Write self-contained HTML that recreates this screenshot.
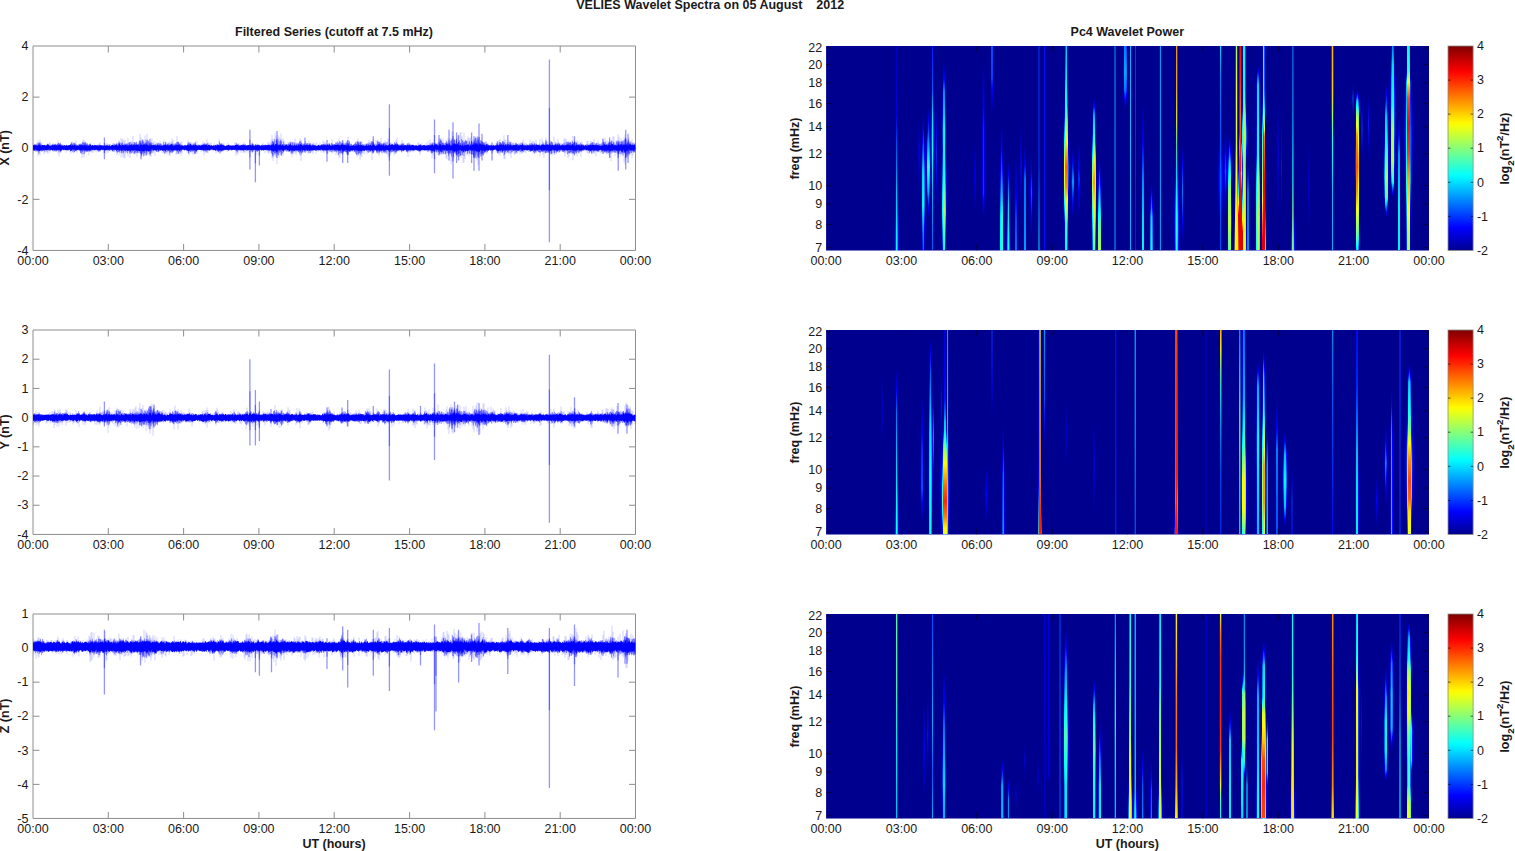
<!DOCTYPE html>
<html><head><meta charset="utf-8"><title>VELIES Wavelet Spectra</title><style>html,body{margin:0;padding:0;background:#fff}svg{display:block}</style></head><body>
<svg width="1515" height="851" viewBox="0 0 1515 851" font-family="Liberation Sans, Arial, Helvetica, sans-serif" fill="#1a1a1a" style="display:block">
<defs><style>.mx polygon,.mx ellipse{mix-blend-mode:lighten}</style>
<filter id="jet" filterUnits="userSpaceOnUse" x="825.1" y="0" width="604.9" height="851" color-interpolation-filters="sRGB"><feGaussianBlur stdDeviation="0.45 0.3"/><feComponentTransfer><feFuncR type="table" tableValues="0.000 0.000 0.000 0.000 0.000 0.000 0.000 0.000 0.000 0.000 0.000 0.000 0.000 0.000 0.000 0.000 0.000 0.000 0.000 0.000 0.000 0.000 0.000 0.000 0.039 0.101 0.162 0.224 0.285 0.347 0.408 0.470 0.531 0.593 0.654 0.716 0.777 0.839 0.900 0.962 1.000 1.000 1.000 1.000 1.000 1.000 1.000 1.000 1.000 1.000 1.000 1.000 1.000 1.000 1.000 1.000 0.992 0.931 0.869 0.808 0.746 0.685 0.623 0.562 0.500"/><feFuncG type="table" tableValues="0.000 0.000 0.000 0.000 0.000 0.000 0.000 0.000 0.055 0.116 0.178 0.239 0.301 0.362 0.424 0.485 0.547 0.608 0.670 0.731 0.793 0.854 0.916 0.978 1.000 1.000 1.000 1.000 1.000 1.000 1.000 1.000 1.000 1.000 1.000 1.000 1.000 1.000 1.000 1.000 0.977 0.915 0.854 0.792 0.730 0.669 0.607 0.546 0.484 0.423 0.361 0.300 0.238 0.177 0.115 0.054 0.000 0.000 0.000 0.000 0.000 0.000 0.000 0.000 0.000"/><feFuncB type="table" tableValues="0.562 0.624 0.686 0.747 0.809 0.870 0.932 0.993 1.000 1.000 1.000 1.000 1.000 1.000 1.000 1.000 1.000 1.000 1.000 1.000 1.000 1.000 1.000 1.000 0.961 0.899 0.838 0.776 0.715 0.653 0.592 0.530 0.469 0.407 0.346 0.284 0.223 0.161 0.100 0.038 0.000 0.000 0.000 0.000 0.000 0.000 0.000 0.000 0.000 0.000 0.000 0.000 0.000 0.000 0.000 0.000 0.000 0.000 0.000 0.000 0.000 0.000 0.000 0.000 0.000"/><feFuncA type="linear" slope="0" intercept="1"/></feComponentTransfer></filter>
<linearGradient id="cb" x1="0" y1="0" x2="0" y2="1"><stop offset="0.0000" stop-color="rgb(128,0,0)"/><stop offset="0.0156" stop-color="rgb(143,0,0)"/><stop offset="0.0312" stop-color="rgb(159,0,0)"/><stop offset="0.0469" stop-color="rgb(175,0,0)"/><stop offset="0.0625" stop-color="rgb(190,0,0)"/><stop offset="0.0781" stop-color="rgb(206,0,0)"/><stop offset="0.0938" stop-color="rgb(222,0,0)"/><stop offset="0.1094" stop-color="rgb(237,0,0)"/><stop offset="0.1250" stop-color="rgb(253,0,0)"/><stop offset="0.1406" stop-color="rgb(255,14,0)"/><stop offset="0.1562" stop-color="rgb(255,29,0)"/><stop offset="0.1719" stop-color="rgb(255,45,0)"/><stop offset="0.1875" stop-color="rgb(255,61,0)"/><stop offset="0.2031" stop-color="rgb(255,76,0)"/><stop offset="0.2188" stop-color="rgb(255,92,0)"/><stop offset="0.2344" stop-color="rgb(255,108,0)"/><stop offset="0.2500" stop-color="rgb(255,124,0)"/><stop offset="0.2656" stop-color="rgb(255,139,0)"/><stop offset="0.2812" stop-color="rgb(255,155,0)"/><stop offset="0.2969" stop-color="rgb(255,171,0)"/><stop offset="0.3125" stop-color="rgb(255,186,0)"/><stop offset="0.3281" stop-color="rgb(255,202,0)"/><stop offset="0.3438" stop-color="rgb(255,218,0)"/><stop offset="0.3594" stop-color="rgb(255,233,0)"/><stop offset="0.3750" stop-color="rgb(255,249,0)"/><stop offset="0.3906" stop-color="rgb(245,255,10)"/><stop offset="0.4062" stop-color="rgb(230,255,25)"/><stop offset="0.4219" stop-color="rgb(214,255,41)"/><stop offset="0.4375" stop-color="rgb(198,255,57)"/><stop offset="0.4531" stop-color="rgb(183,255,72)"/><stop offset="0.4688" stop-color="rgb(167,255,88)"/><stop offset="0.4844" stop-color="rgb(151,255,104)"/><stop offset="0.5000" stop-color="rgb(135,255,120)"/><stop offset="0.5156" stop-color="rgb(120,255,135)"/><stop offset="0.5312" stop-color="rgb(104,255,151)"/><stop offset="0.5469" stop-color="rgb(88,255,167)"/><stop offset="0.5625" stop-color="rgb(73,255,182)"/><stop offset="0.5781" stop-color="rgb(57,255,198)"/><stop offset="0.5938" stop-color="rgb(41,255,214)"/><stop offset="0.6094" stop-color="rgb(26,255,229)"/><stop offset="0.6250" stop-color="rgb(10,255,245)"/><stop offset="0.6406" stop-color="rgb(0,249,255)"/><stop offset="0.6562" stop-color="rgb(0,234,255)"/><stop offset="0.6719" stop-color="rgb(0,218,255)"/><stop offset="0.6875" stop-color="rgb(0,202,255)"/><stop offset="0.7031" stop-color="rgb(0,187,255)"/><stop offset="0.7188" stop-color="rgb(0,171,255)"/><stop offset="0.7344" stop-color="rgb(0,155,255)"/><stop offset="0.7500" stop-color="rgb(0,139,255)"/><stop offset="0.7656" stop-color="rgb(0,124,255)"/><stop offset="0.7812" stop-color="rgb(0,108,255)"/><stop offset="0.7969" stop-color="rgb(0,92,255)"/><stop offset="0.8125" stop-color="rgb(0,77,255)"/><stop offset="0.8281" stop-color="rgb(0,61,255)"/><stop offset="0.8438" stop-color="rgb(0,45,255)"/><stop offset="0.8594" stop-color="rgb(0,30,255)"/><stop offset="0.8750" stop-color="rgb(0,14,255)"/><stop offset="0.8906" stop-color="rgb(0,0,253)"/><stop offset="0.9062" stop-color="rgb(0,0,238)"/><stop offset="0.9219" stop-color="rgb(0,0,222)"/><stop offset="0.9375" stop-color="rgb(0,0,206)"/><stop offset="0.9531" stop-color="rgb(0,0,191)"/><stop offset="0.9688" stop-color="rgb(0,0,175)"/><stop offset="0.9844" stop-color="rgb(0,0,159)"/><stop offset="1.0000" stop-color="rgb(0,0,143)"/></linearGradient>
<clipPath id="cr0"><rect x="826.1" y="46.0" width="602.9" height="204.45"/></clipPath>
<clipPath id="cl0"><rect x="33.0" y="46.0" width="602.5" height="204.45"/></clipPath>
<clipPath id="cr1"><rect x="826.1" y="330.0" width="602.9" height="204.45000000000005"/></clipPath>
<clipPath id="cl1"><rect x="33.0" y="330.0" width="602.5" height="204.45000000000005"/></clipPath>
<clipPath id="cr2"><rect x="826.1" y="614.0" width="602.9" height="204.45000000000005"/></clipPath>
<clipPath id="cl2"><rect x="33.0" y="614.0" width="602.5" height="204.45000000000005"/></clipPath>
<radialGradient id="r11"><stop offset="0" stop-color="#464646"/><stop offset="0.25" stop-color="#3f3f3f"/><stop offset="0.5" stop-color="#2a2a2a"/><stop offset="0.75" stop-color="#121212"/><stop offset="1" stop-color="#000"/></radialGradient><linearGradient id="g1" x1="0" y1="0" x2="0" y2="1"><stop offset="0.000" stop-color="rgb(0,0,210)" stop-opacity="0.83"/><stop offset="0.086" stop-color="rgb(0,0,219)" stop-opacity="0.94"/><stop offset="0.171" stop-color="rgb(0,0,227)" stop-opacity="1.00"/><stop offset="0.257" stop-color="rgb(0,0,235)" stop-opacity="1.00"/><stop offset="0.342" stop-color="rgb(0,0,244)" stop-opacity="1.00"/><stop offset="0.417" stop-color="rgb(0,47,255)" stop-opacity="1.00"/><stop offset="0.492" stop-color="rgb(0,106,255)" stop-opacity="1.00"/><stop offset="0.567" stop-color="rgb(0,145,255)" stop-opacity="1.00"/><stop offset="0.641" stop-color="rgb(0,184,255)" stop-opacity="1.00"/><stop offset="0.716" stop-color="rgb(0,223,255)" stop-opacity="1.00"/><stop offset="0.811" stop-color="rgb(0,240,255)" stop-opacity="1.00"/><stop offset="0.905" stop-color="rgb(2,255,253)" stop-opacity="1.00"/><stop offset="1.000" stop-color="rgb(18,255,237)" stop-opacity="1.00"/></linearGradient><linearGradient id="g2" x1="0" y1="0" x2="0" y2="1"><stop offset="0.000" stop-color="#000000"/><stop offset="0.222" stop-color="#141414"/><stop offset="0.444" stop-color="#282828"/><stop offset="0.722" stop-color="#141414"/><stop offset="1.000" stop-color="#000000"/></linearGradient><radialGradient id="r8"><stop offset="0" stop-color="#333333"/><stop offset="0.25" stop-color="#2e2e2e"/><stop offset="0.5" stop-color="#1f1f1f"/><stop offset="0.75" stop-color="#0d0d0d"/><stop offset="1" stop-color="#000"/></radialGradient><linearGradient id="g3" x1="0" y1="0" x2="0" y2="1"><stop offset="0.000" stop-color="#000000"/><stop offset="0.121" stop-color="#1d1d1d"/><stop offset="0.242" stop-color="#353535"/><stop offset="0.428" stop-color="#565656"/><stop offset="0.548" stop-color="#5a5a5a"/><stop offset="0.669" stop-color="#5e5e5e"/><stop offset="0.771" stop-color="#505050"/><stop offset="0.874" stop-color="#414141"/><stop offset="1.000" stop-color="#353535"/></linearGradient><radialGradient id="r10"><stop offset="0" stop-color="#404040"/><stop offset="0.25" stop-color="#393939"/><stop offset="0.5" stop-color="#262626"/><stop offset="0.75" stop-color="#101010"/><stop offset="1" stop-color="#000"/></radialGradient><linearGradient id="g4" x1="0" y1="0" x2="0" y2="1"><stop offset="0.000" stop-color="#000000"/><stop offset="0.151" stop-color="#242424"/><stop offset="0.302" stop-color="#414141"/><stop offset="0.535" stop-color="#6b6b6b"/><stop offset="0.767" stop-color="#494949"/><stop offset="1.000" stop-color="#000000"/></linearGradient><radialGradient id="r9"><stop offset="0" stop-color="#393939"/><stop offset="0.25" stop-color="#343434"/><stop offset="0.5" stop-color="#222222"/><stop offset="0.75" stop-color="#0e0e0e"/><stop offset="1" stop-color="#000"/></radialGradient><linearGradient id="g5" x1="0" y1="0" x2="0" y2="1"><stop offset="0.000" stop-color="rgb(0,22,255)" stop-opacity="1.00"/><stop offset="0.109" stop-color="rgb(0,56,255)" stop-opacity="1.00"/><stop offset="0.218" stop-color="rgb(0,89,255)" stop-opacity="1.00"/><stop offset="0.342" stop-color="rgb(0,223,255)" stop-opacity="1.00"/><stop offset="0.436" stop-color="rgb(0,244,255)" stop-opacity="1.00"/><stop offset="0.529" stop-color="rgb(10,255,245)" stop-opacity="1.00"/><stop offset="0.623" stop-color="rgb(0,219,255)" stop-opacity="1.00"/><stop offset="0.716" stop-color="rgb(0,173,255)" stop-opacity="1.00"/><stop offset="0.811" stop-color="rgb(0,145,255)" stop-opacity="1.00"/><stop offset="0.905" stop-color="rgb(0,117,255)" stop-opacity="1.00"/><stop offset="1.000" stop-color="rgb(0,89,255)" stop-opacity="1.00"/></linearGradient><linearGradient id="g6" x1="0" y1="0" x2="0" y2="1"><stop offset="0.000" stop-color="rgb(0,0,143)" stop-opacity="0.00"/><stop offset="0.125" stop-color="rgb(0,0,185)" stop-opacity="0.52"/><stop offset="0.250" stop-color="rgb(0,0,227)" stop-opacity="1.00"/><stop offset="0.375" stop-color="rgb(0,14,255)" stop-opacity="1.00"/><stop offset="0.500" stop-color="rgb(0,56,255)" stop-opacity="1.00"/><stop offset="0.625" stop-color="rgb(0,14,255)" stop-opacity="1.00"/><stop offset="0.750" stop-color="rgb(0,0,227)" stop-opacity="1.00"/><stop offset="0.875" stop-color="rgb(0,0,185)" stop-opacity="0.52"/><stop offset="1.000" stop-color="rgb(0,0,143)" stop-opacity="0.00"/></linearGradient><radialGradient id="r13"><stop offset="0" stop-color="#535353"/><stop offset="0.25" stop-color="#4b4b4b"/><stop offset="0.5" stop-color="#323232"/><stop offset="0.75" stop-color="#151515"/><stop offset="1" stop-color="#000"/></radialGradient><linearGradient id="g7" x1="0" y1="0" x2="0" y2="1"><stop offset="0.000" stop-color="#000000"/><stop offset="0.075" stop-color="#222222"/><stop offset="0.149" stop-color="#3d3d3d"/><stop offset="0.251" stop-color="#4d4d4d"/><stop offset="0.352" stop-color="#5e5e5e"/><stop offset="0.467" stop-color="#5f5f5f"/><stop offset="0.583" stop-color="#606060"/><stop offset="0.691" stop-color="#777777"/><stop offset="0.786" stop-color="#8c8c8c"/><stop offset="0.881" stop-color="#777777"/><stop offset="1.000" stop-color="#606060"/></linearGradient><linearGradient id="g8" x1="0" y1="0" x2="0" y2="1"><stop offset="0.000" stop-color="#000000"/><stop offset="0.250" stop-color="#141414"/><stop offset="0.500" stop-color="#282828"/><stop offset="0.750" stop-color="#141414"/><stop offset="1.000" stop-color="#000000"/></linearGradient><linearGradient id="g9" x1="0" y1="0" x2="0" y2="1"><stop offset="0.000" stop-color="#000000"/><stop offset="0.109" stop-color="#0a0a0a"/><stop offset="0.218" stop-color="#141414"/><stop offset="0.327" stop-color="#1e1e1e"/><stop offset="0.435" stop-color="#272727"/><stop offset="0.536" stop-color="#282828"/><stop offset="0.637" stop-color="#292929"/><stop offset="0.738" stop-color="#2a2a2a"/><stop offset="0.839" stop-color="#2b2b2b"/><stop offset="1.000" stop-color="#000000"/></linearGradient><linearGradient id="g10" x1="0" y1="0" x2="0" y2="1"><stop offset="0.000" stop-color="#434343"/><stop offset="0.227" stop-color="#414141"/><stop offset="0.455" stop-color="#3f3f3f"/><stop offset="0.727" stop-color="#262626"/><stop offset="1.000" stop-color="#000000"/></linearGradient><linearGradient id="g11" x1="0" y1="0" x2="0" y2="1"><stop offset="0.000" stop-color="#000000"/><stop offset="0.143" stop-color="#171717"/><stop offset="0.287" stop-color="#2c2c2c"/><stop offset="0.430" stop-color="#404040"/><stop offset="0.584" stop-color="#515151"/><stop offset="0.738" stop-color="#626262"/><stop offset="0.869" stop-color="#646464"/><stop offset="1.000" stop-color="#666666"/></linearGradient><linearGradient id="g12" x1="0" y1="0" x2="0" y2="1"><stop offset="0.000" stop-color="#000000"/><stop offset="0.244" stop-color="#303030"/><stop offset="0.489" stop-color="#525252"/><stop offset="0.659" stop-color="#575757"/><stop offset="0.830" stop-color="#5c5c5c"/><stop offset="1.000" stop-color="#626262"/></linearGradient><linearGradient id="g13" x1="0" y1="0" x2="0" y2="1"><stop offset="0.000" stop-color="#000000"/><stop offset="0.165" stop-color="#131313"/><stop offset="0.331" stop-color="#262626"/><stop offset="0.496" stop-color="#323232"/><stop offset="0.661" stop-color="#3f3f3f"/><stop offset="0.831" stop-color="#444444"/><stop offset="1.000" stop-color="#4a4a4a"/></linearGradient><linearGradient id="g14" x1="0" y1="0" x2="0" y2="1"><stop offset="0.000" stop-color="rgb(0,0,143)" stop-opacity="0.00"/><stop offset="0.175" stop-color="rgb(0,0,188)" stop-opacity="0.56"/><stop offset="0.349" stop-color="rgb(0,0,233)" stop-opacity="1.00"/><stop offset="0.524" stop-color="rgb(0,22,255)" stop-opacity="1.00"/><stop offset="0.683" stop-color="rgb(0,0,233)" stop-opacity="1.00"/><stop offset="0.841" stop-color="rgb(0,0,188)" stop-opacity="0.56"/><stop offset="1.000" stop-color="rgb(0,0,143)" stop-opacity="0.00"/></linearGradient><linearGradient id="g15" x1="0" y1="0" x2="0" y2="1"><stop offset="0.000" stop-color="#000000"/><stop offset="0.159" stop-color="#2c2c2c"/><stop offset="0.319" stop-color="#4a4a4a"/><stop offset="0.489" stop-color="#4c4c4c"/><stop offset="0.659" stop-color="#4e4e4e"/><stop offset="0.830" stop-color="#505050"/><stop offset="1.000" stop-color="#525252"/></linearGradient><linearGradient id="g16" x1="0" y1="0" x2="0" y2="1"><stop offset="0.000" stop-color="#000000"/><stop offset="0.227" stop-color="#1d1d1d"/><stop offset="0.455" stop-color="#353535"/><stop offset="0.636" stop-color="#262626"/><stop offset="0.818" stop-color="#141414"/><stop offset="1.000" stop-color="#000000"/></linearGradient><linearGradient id="g17" x1="0" y1="0" x2="0" y2="1"><stop offset="0.000" stop-color="rgb(0,56,255)" stop-opacity="1.00"/><stop offset="0.085" stop-color="rgb(0,56,255)" stop-opacity="1.00"/><stop offset="0.169" stop-color="rgb(0,56,255)" stop-opacity="1.00"/><stop offset="0.254" stop-color="rgb(0,56,255)" stop-opacity="1.00"/><stop offset="0.338" stop-color="rgb(0,56,255)" stop-opacity="1.00"/><stop offset="0.423" stop-color="rgb(0,56,255)" stop-opacity="1.00"/><stop offset="0.507" stop-color="rgb(0,56,255)" stop-opacity="1.00"/><stop offset="0.592" stop-color="rgb(0,56,255)" stop-opacity="1.00"/><stop offset="0.675" stop-color="rgb(0,95,255)" stop-opacity="1.00"/><stop offset="0.758" stop-color="rgb(0,134,255)" stop-opacity="1.00"/><stop offset="0.841" stop-color="rgb(0,173,255)" stop-opacity="1.00"/><stop offset="0.920" stop-color="rgb(0,198,255)" stop-opacity="1.00"/><stop offset="1.000" stop-color="rgb(0,223,255)" stop-opacity="1.00"/></linearGradient><linearGradient id="g18" x1="0" y1="0" x2="0" y2="1"><stop offset="0.000" stop-color="rgb(0,22,255)" stop-opacity="1.00"/><stop offset="0.091" stop-color="rgb(0,22,255)" stop-opacity="1.00"/><stop offset="0.182" stop-color="rgb(0,22,255)" stop-opacity="1.00"/><stop offset="0.273" stop-color="rgb(0,22,255)" stop-opacity="1.00"/><stop offset="0.364" stop-color="rgb(0,22,255)" stop-opacity="1.00"/><stop offset="0.455" stop-color="rgb(0,22,255)" stop-opacity="1.00"/><stop offset="0.545" stop-color="rgb(0,22,255)" stop-opacity="1.00"/><stop offset="0.636" stop-color="rgb(0,22,255)" stop-opacity="1.00"/><stop offset="0.727" stop-color="rgb(0,22,255)" stop-opacity="1.00"/><stop offset="0.818" stop-color="rgb(0,22,255)" stop-opacity="1.00"/><stop offset="0.909" stop-color="rgb(0,22,255)" stop-opacity="1.00"/><stop offset="1.000" stop-color="rgb(0,22,255)" stop-opacity="1.00"/></linearGradient><radialGradient id="r15"><stop offset="0" stop-color="#606060"/><stop offset="0.25" stop-color="#565656"/><stop offset="0.5" stop-color="#393939"/><stop offset="0.75" stop-color="#181818"/><stop offset="1" stop-color="#000"/></radialGradient><linearGradient id="g19" x1="0" y1="0" x2="0" y2="1"><stop offset="0.000" stop-color="#4e4e4e"/><stop offset="0.078" stop-color="#525252"/><stop offset="0.156" stop-color="#575757"/><stop offset="0.280" stop-color="#606060"/><stop offset="0.380" stop-color="#808080"/><stop offset="0.492" stop-color="#aaaaaa"/><stop offset="0.592" stop-color="#c8c8c8"/><stop offset="0.691" stop-color="#bbbbbb"/><stop offset="0.778" stop-color="#999999"/><stop offset="0.866" stop-color="#6f6f6f"/><stop offset="0.933" stop-color="#666666"/><stop offset="1.000" stop-color="#5e5e5e"/></linearGradient><linearGradient id="g20" x1="0" y1="0" x2="0" y2="1"><stop offset="0.000" stop-color="#000000"/><stop offset="0.241" stop-color="#232323"/><stop offset="0.481" stop-color="#444444"/><stop offset="0.741" stop-color="#232323"/><stop offset="1.000" stop-color="#000000"/></linearGradient><linearGradient id="g21" x1="0" y1="0" x2="0" y2="1"><stop offset="0.000" stop-color="#000000"/><stop offset="0.250" stop-color="#171717"/><stop offset="0.500" stop-color="#2c2c2c"/><stop offset="0.750" stop-color="#171717"/><stop offset="1.000" stop-color="#000000"/></linearGradient><radialGradient id="r12"><stop offset="0" stop-color="#4c4c4c"/><stop offset="0.25" stop-color="#454545"/><stop offset="0.5" stop-color="#2e2e2e"/><stop offset="0.75" stop-color="#131313"/><stop offset="1" stop-color="#000"/></radialGradient><linearGradient id="g22" x1="0" y1="0" x2="0" y2="1"><stop offset="0.000" stop-color="#000000"/><stop offset="0.117" stop-color="#494949"/><stop offset="0.284" stop-color="#6f6f6f"/><stop offset="0.418" stop-color="#a2a2a2"/><stop offset="0.552" stop-color="#b7b7b7"/><stop offset="0.702" stop-color="#a2a2a2"/><stop offset="0.853" stop-color="#888888"/><stop offset="1.000" stop-color="#777777"/></linearGradient><linearGradient id="g23" x1="0" y1="0" x2="0" y2="1"><stop offset="0.000" stop-color="#000000"/><stop offset="0.190" stop-color="#2a2a2a"/><stop offset="0.380" stop-color="#4d4d4d"/><stop offset="0.543" stop-color="#626262"/><stop offset="0.707" stop-color="#777777"/><stop offset="0.853" stop-color="#808080"/><stop offset="1.000" stop-color="#888888"/></linearGradient><linearGradient id="g24" x1="0" y1="0" x2="0" y2="1"><stop offset="0.000" stop-color="rgb(0,156,255)" stop-opacity="1.00"/><stop offset="0.091" stop-color="rgb(0,158,255)" stop-opacity="1.00"/><stop offset="0.182" stop-color="rgb(0,159,255)" stop-opacity="1.00"/><stop offset="0.273" stop-color="rgb(0,161,255)" stop-opacity="1.00"/><stop offset="0.364" stop-color="rgb(0,162,255)" stop-opacity="1.00"/><stop offset="0.455" stop-color="rgb(0,164,255)" stop-opacity="1.00"/><stop offset="0.545" stop-color="rgb(0,165,255)" stop-opacity="1.00"/><stop offset="0.636" stop-color="rgb(0,167,255)" stop-opacity="1.00"/><stop offset="0.727" stop-color="rgb(0,168,255)" stop-opacity="1.00"/><stop offset="0.818" stop-color="rgb(0,170,255)" stop-opacity="1.00"/><stop offset="0.909" stop-color="rgb(0,171,255)" stop-opacity="1.00"/><stop offset="1.000" stop-color="rgb(0,173,255)" stop-opacity="1.00"/></linearGradient><linearGradient id="g25" x1="0" y1="0" x2="0" y2="1"><stop offset="0.000" stop-color="#3c3c3c"/><stop offset="0.214" stop-color="#424242"/><stop offset="0.429" stop-color="#484848"/><stop offset="0.714" stop-color="#3c3c3c"/><stop offset="1.000" stop-color="#000000"/></linearGradient><linearGradient id="g26" x1="0" y1="0" x2="0" y2="1"><stop offset="0.000" stop-color="rgb(0,173,255)" stop-opacity="1.00"/><stop offset="0.093" stop-color="rgb(0,176,255)" stop-opacity="1.00"/><stop offset="0.187" stop-color="rgb(0,180,255)" stop-opacity="1.00"/><stop offset="0.280" stop-color="rgb(0,183,255)" stop-opacity="1.00"/><stop offset="0.374" stop-color="rgb(0,186,255)" stop-opacity="1.00"/><stop offset="0.467" stop-color="rgb(0,190,255)" stop-opacity="1.00"/><stop offset="0.556" stop-color="rgb(0,187,255)" stop-opacity="1.00"/><stop offset="0.645" stop-color="rgb(0,184,255)" stop-opacity="1.00"/><stop offset="0.733" stop-color="rgb(0,181,255)" stop-opacity="1.00"/><stop offset="0.822" stop-color="rgb(0,179,255)" stop-opacity="1.00"/><stop offset="0.911" stop-color="rgb(0,176,255)" stop-opacity="1.00"/><stop offset="1.000" stop-color="rgb(0,173,255)" stop-opacity="1.00"/></linearGradient><linearGradient id="g27" x1="0" y1="0" x2="0" y2="1"><stop offset="0.000" stop-color="rgb(0,56,255)" stop-opacity="1.00"/><stop offset="0.091" stop-color="rgb(0,53,255)" stop-opacity="1.00"/><stop offset="0.182" stop-color="rgb(0,50,255)" stop-opacity="1.00"/><stop offset="0.273" stop-color="rgb(0,47,255)" stop-opacity="1.00"/><stop offset="0.364" stop-color="rgb(0,44,255)" stop-opacity="1.00"/><stop offset="0.455" stop-color="rgb(0,41,255)" stop-opacity="1.00"/><stop offset="0.545" stop-color="rgb(0,38,255)" stop-opacity="1.00"/><stop offset="0.636" stop-color="rgb(0,34,255)" stop-opacity="1.00"/><stop offset="0.727" stop-color="rgb(0,31,255)" stop-opacity="1.00"/><stop offset="0.818" stop-color="rgb(0,28,255)" stop-opacity="1.00"/><stop offset="0.909" stop-color="rgb(0,25,255)" stop-opacity="1.00"/><stop offset="1.000" stop-color="rgb(0,22,255)" stop-opacity="1.00"/></linearGradient><linearGradient id="g28" x1="0" y1="0" x2="0" y2="1"><stop offset="0.000" stop-color="#000000"/><stop offset="0.130" stop-color="#191919"/><stop offset="0.260" stop-color="#2e2e2e"/><stop offset="0.389" stop-color="#3e3e3e"/><stop offset="0.519" stop-color="#4e4e4e"/><stop offset="0.649" stop-color="#565656"/><stop offset="0.779" stop-color="#5e5e5e"/><stop offset="0.889" stop-color="#616161"/><stop offset="1.000" stop-color="#646464"/></linearGradient><linearGradient id="g29" x1="0" y1="0" x2="0" y2="1"><stop offset="0.000" stop-color="#000000"/><stop offset="0.261" stop-color="#2d2d2d"/><stop offset="0.522" stop-color="#565656"/><stop offset="0.761" stop-color="#5b5b5b"/><stop offset="1.000" stop-color="#606060"/></linearGradient><linearGradient id="g30" x1="0" y1="0" x2="0" y2="1"><stop offset="0.000" stop-color="rgb(0,173,255)" stop-opacity="1.00"/><stop offset="0.091" stop-color="rgb(0,173,255)" stop-opacity="1.00"/><stop offset="0.182" stop-color="rgb(0,173,255)" stop-opacity="1.00"/><stop offset="0.273" stop-color="rgb(0,173,255)" stop-opacity="1.00"/><stop offset="0.364" stop-color="rgb(0,173,255)" stop-opacity="1.00"/><stop offset="0.455" stop-color="rgb(0,173,255)" stop-opacity="1.00"/><stop offset="0.545" stop-color="rgb(0,173,255)" stop-opacity="1.00"/><stop offset="0.636" stop-color="rgb(0,173,255)" stop-opacity="1.00"/><stop offset="0.727" stop-color="rgb(0,173,255)" stop-opacity="1.00"/><stop offset="0.818" stop-color="rgb(0,173,255)" stop-opacity="1.00"/><stop offset="0.909" stop-color="rgb(0,173,255)" stop-opacity="1.00"/><stop offset="1.000" stop-color="rgb(0,173,255)" stop-opacity="1.00"/></linearGradient><linearGradient id="g31" x1="0" y1="0" x2="0" y2="1"><stop offset="0.000" stop-color="rgb(255,157,0)" stop-opacity="1.00"/><stop offset="0.109" stop-color="rgb(255,174,0)" stop-opacity="1.00"/><stop offset="0.218" stop-color="rgb(255,190,0)" stop-opacity="1.00"/><stop offset="0.299" stop-color="rgb(255,232,0)" stop-opacity="1.00"/><stop offset="0.380" stop-color="rgb(236,255,19)" stop-opacity="1.00"/><stop offset="0.504" stop-color="rgb(102,255,153)" stop-opacity="1.00"/><stop offset="0.616" stop-color="rgb(18,255,237)" stop-opacity="1.00"/><stop offset="0.712" stop-color="rgb(27,255,228)" stop-opacity="1.00"/><stop offset="0.808" stop-color="rgb(35,255,220)" stop-opacity="1.00"/><stop offset="0.904" stop-color="rgb(43,255,212)" stop-opacity="1.00"/><stop offset="1.000" stop-color="rgb(52,255,203)" stop-opacity="1.00"/></linearGradient><linearGradient id="g32" x1="0" y1="0" x2="0" y2="1"><stop offset="0.000" stop-color="#000000"/><stop offset="0.158" stop-color="#171717"/><stop offset="0.316" stop-color="#2c2c2c"/><stop offset="0.474" stop-color="#3b3b3b"/><stop offset="0.649" stop-color="#2c2c2c"/><stop offset="0.825" stop-color="#171717"/><stop offset="1.000" stop-color="#000000"/></linearGradient><radialGradient id="r7"><stop offset="0" stop-color="#2d2d2d"/><stop offset="0.25" stop-color="#282828"/><stop offset="0.5" stop-color="#1b1b1b"/><stop offset="0.75" stop-color="#0b0b0b"/><stop offset="1" stop-color="#000"/></radialGradient><linearGradient id="g33" x1="0" y1="0" x2="0" y2="1"><stop offset="0.000" stop-color="rgb(0,223,255)" stop-opacity="1.00"/><stop offset="0.078" stop-color="rgb(0,181,255)" stop-opacity="1.00"/><stop offset="0.156" stop-color="rgb(0,139,255)" stop-opacity="1.00"/><stop offset="0.233" stop-color="rgb(0,127,255)" stop-opacity="1.00"/><stop offset="0.311" stop-color="rgb(0,114,255)" stop-opacity="1.00"/><stop offset="0.389" stop-color="rgb(0,102,255)" stop-opacity="1.00"/><stop offset="0.467" stop-color="rgb(0,89,255)" stop-opacity="1.00"/><stop offset="0.556" stop-color="rgb(0,89,255)" stop-opacity="1.00"/><stop offset="0.645" stop-color="rgb(0,89,255)" stop-opacity="1.00"/><stop offset="0.733" stop-color="rgb(0,89,255)" stop-opacity="1.00"/><stop offset="0.822" stop-color="rgb(0,89,255)" stop-opacity="1.00"/><stop offset="0.911" stop-color="rgb(0,89,255)" stop-opacity="1.00"/><stop offset="1.000" stop-color="rgb(0,89,255)" stop-opacity="1.00"/></linearGradient><linearGradient id="g34" x1="0" y1="0" x2="0" y2="1"><stop offset="0.000" stop-color="#000000"/><stop offset="0.243" stop-color="#1b1b1b"/><stop offset="0.486" stop-color="#343434"/><stop offset="0.657" stop-color="#232323"/><stop offset="0.829" stop-color="#121212"/><stop offset="1.000" stop-color="#000000"/></linearGradient><linearGradient id="g35" x1="0" y1="0" x2="0" y2="1"><stop offset="0.000" stop-color="#000000"/><stop offset="0.223" stop-color="#565656"/><stop offset="0.357" stop-color="#6f6f6f"/><stop offset="0.491" stop-color="#888888"/><stop offset="0.625" stop-color="#8c8c8c"/><stop offset="0.759" stop-color="#919191"/><stop offset="0.879" stop-color="#888888"/><stop offset="1.000" stop-color="#808080"/></linearGradient><linearGradient id="g36" x1="0" y1="0" x2="0" y2="1"><stop offset="0.000" stop-color="rgb(169,255,86)" stop-opacity="1.00"/><stop offset="0.109" stop-color="rgb(202,255,53)" stop-opacity="1.00"/><stop offset="0.218" stop-color="rgb(236,255,19)" stop-opacity="1.00"/><stop offset="0.301" stop-color="rgb(230,255,25)" stop-opacity="1.00"/><stop offset="0.384" stop-color="rgb(225,255,30)" stop-opacity="1.00"/><stop offset="0.467" stop-color="rgb(219,255,36)" stop-opacity="1.00"/><stop offset="0.550" stop-color="rgb(236,255,19)" stop-opacity="1.00"/><stop offset="0.633" stop-color="rgb(253,255,2)" stop-opacity="1.00"/><stop offset="0.716" stop-color="rgb(255,241,0)" stop-opacity="1.00"/><stop offset="0.811" stop-color="rgb(255,241,0)" stop-opacity="1.00"/><stop offset="0.905" stop-color="rgb(255,241,0)" stop-opacity="1.00"/><stop offset="1.000" stop-color="rgb(255,241,0)" stop-opacity="1.00"/></linearGradient><linearGradient id="g37" x1="0" y1="0" x2="0" y2="1"><stop offset="0.000" stop-color="#000000"/><stop offset="0.181" stop-color="#c7c7c7"/><stop offset="0.301" stop-color="#cecece"/><stop offset="0.422" stop-color="#d8d8d8"/><stop offset="0.542" stop-color="#e1e1e1"/><stop offset="0.743" stop-color="#e6e6e6"/><stop offset="0.871" stop-color="#e6e6e6"/><stop offset="1.000" stop-color="#e6e6e6"/></linearGradient><linearGradient id="g38" x1="0" y1="0" x2="0" y2="1"><stop offset="0.000" stop-color="rgb(255,6,0)" stop-opacity="1.00"/><stop offset="0.126" stop-color="rgb(255,23,0)" stop-opacity="1.00"/><stop offset="0.253" stop-color="rgb(255,40,0)" stop-opacity="1.00"/><stop offset="0.404" stop-color="rgb(255,73,0)" stop-opacity="1.00"/><stop offset="0.556" stop-color="rgb(255,107,0)" stop-opacity="1.00"/><stop offset="0.758" stop-color="rgb(255,40,0)" stop-opacity="1.00"/><stop offset="0.879" stop-color="rgb(255,23,0)" stop-opacity="1.00"/><stop offset="1.000" stop-color="rgb(255,6,0)" stop-opacity="1.00"/></linearGradient><radialGradient id="r19"><stop offset="0" stop-color="#797979"/><stop offset="0.25" stop-color="#6d6d6d"/><stop offset="0.5" stop-color="#494949"/><stop offset="0.75" stop-color="#1e1e1e"/><stop offset="1" stop-color="#000"/></radialGradient><linearGradient id="g39" x1="0" y1="0" x2="0" y2="1"><stop offset="0.000" stop-color="#5e5e5e"/><stop offset="0.109" stop-color="#606060"/><stop offset="0.218" stop-color="#626262"/><stop offset="0.342" stop-color="#808080"/><stop offset="0.442" stop-color="#919191"/><stop offset="0.567" stop-color="#808080"/><stop offset="0.641" stop-color="#8a8a8a"/><stop offset="0.716" stop-color="#959595"/><stop offset="0.811" stop-color="#989898"/><stop offset="0.905" stop-color="#9a9a9a"/><stop offset="1.000" stop-color="#9d9d9d"/></linearGradient><linearGradient id="g40" x1="0" y1="0" x2="0" y2="1"><stop offset="0.000" stop-color="rgb(0,0,143)" stop-opacity="0.00"/><stop offset="0.172" stop-color="rgb(0,56,255)" stop-opacity="1.00"/><stop offset="0.345" stop-color="rgb(0,223,255)" stop-opacity="1.00"/><stop offset="0.563" stop-color="rgb(0,234,255)" stop-opacity="1.00"/><stop offset="0.782" stop-color="rgb(0,245,255)" stop-opacity="1.00"/><stop offset="1.000" stop-color="rgb(2,255,253)" stop-opacity="1.00"/></linearGradient><linearGradient id="g41" x1="0" y1="0" x2="0" y2="1"><stop offset="0.000" stop-color="#000000"/><stop offset="0.110" stop-color="#555555"/><stop offset="0.203" stop-color="#595959"/><stop offset="0.295" stop-color="#5c5c5c"/><stop offset="0.388" stop-color="#5f5f5f"/><stop offset="0.481" stop-color="#626262"/><stop offset="0.618" stop-color="#808080"/><stop offset="0.721" stop-color="#888888"/><stop offset="0.824" stop-color="#919191"/><stop offset="0.912" stop-color="#8e8e8e"/><stop offset="1.000" stop-color="#8c8c8c"/></linearGradient><linearGradient id="g42" x1="0" y1="0" x2="0" y2="1"><stop offset="0.000" stop-color="#666666"/><stop offset="0.109" stop-color="#676767"/><stop offset="0.218" stop-color="#696969"/><stop offset="0.342" stop-color="#999999"/><stop offset="0.442" stop-color="#d6d6d6"/><stop offset="0.533" stop-color="#dadada"/><stop offset="0.625" stop-color="#dedede"/><stop offset="0.716" stop-color="#e2e2e2"/><stop offset="0.811" stop-color="#e3e3e3"/><stop offset="0.905" stop-color="#e4e4e4"/><stop offset="1.000" stop-color="#e6e6e6"/></linearGradient><linearGradient id="g43" x1="0" y1="0" x2="0" y2="1"><stop offset="0.000" stop-color="#000000"/><stop offset="0.148" stop-color="#0c0c0c"/><stop offset="0.296" stop-color="#171717"/><stop offset="0.444" stop-color="#232323"/><stop offset="0.583" stop-color="#1a1a1a"/><stop offset="0.722" stop-color="#111111"/><stop offset="0.861" stop-color="#090909"/><stop offset="1.000" stop-color="#000000"/></linearGradient><linearGradient id="g44" x1="0" y1="0" x2="0" y2="1"><stop offset="0.000" stop-color="#000000"/><stop offset="0.167" stop-color="#0c0c0c"/><stop offset="0.333" stop-color="#171717"/><stop offset="0.500" stop-color="#232323"/><stop offset="0.667" stop-color="#171717"/><stop offset="0.833" stop-color="#0c0c0c"/><stop offset="1.000" stop-color="#000000"/></linearGradient><linearGradient id="g45" x1="0" y1="0" x2="0" y2="1"><stop offset="0.000" stop-color="rgb(0,139,255)" stop-opacity="1.00"/><stop offset="0.086" stop-color="rgb(0,152,255)" stop-opacity="1.00"/><stop offset="0.171" stop-color="rgb(0,165,255)" stop-opacity="1.00"/><stop offset="0.257" stop-color="rgb(0,177,255)" stop-opacity="1.00"/><stop offset="0.342" stop-color="rgb(0,190,255)" stop-opacity="1.00"/><stop offset="0.420" stop-color="rgb(0,211,255)" stop-opacity="1.00"/><stop offset="0.498" stop-color="rgb(0,231,255)" stop-opacity="1.00"/><stop offset="0.576" stop-color="rgb(0,252,255)" stop-opacity="1.00"/><stop offset="0.654" stop-color="rgb(18,255,237)" stop-opacity="1.00"/><stop offset="0.747" stop-color="rgb(77,255,178)" stop-opacity="1.00"/><stop offset="0.841" stop-color="rgb(135,255,120)" stop-opacity="1.00"/><stop offset="0.920" stop-color="rgb(152,255,103)" stop-opacity="1.00"/><stop offset="1.000" stop-color="rgb(169,255,86)" stop-opacity="1.00"/></linearGradient><linearGradient id="g46" x1="0" y1="0" x2="0" y2="1"><stop offset="0.000" stop-color="#000000"/><stop offset="0.171" stop-color="#0a0a0a"/><stop offset="0.343" stop-color="#131313"/><stop offset="0.514" stop-color="#1d1d1d"/><stop offset="0.757" stop-color="#0f0f0f"/><stop offset="1.000" stop-color="#000000"/></linearGradient><linearGradient id="g47" x1="0" y1="0" x2="0" y2="1"><stop offset="0.000" stop-color="rgb(255,174,0)" stop-opacity="1.00"/><stop offset="0.109" stop-color="rgb(255,190,0)" stop-opacity="1.00"/><stop offset="0.218" stop-color="rgb(255,207,0)" stop-opacity="1.00"/><stop offset="0.342" stop-color="rgb(169,255,86)" stop-opacity="1.00"/><stop offset="0.467" stop-color="rgb(18,255,237)" stop-opacity="1.00"/><stop offset="0.550" stop-color="rgb(0,245,255)" stop-opacity="1.00"/><stop offset="0.633" stop-color="rgb(0,218,255)" stop-opacity="1.00"/><stop offset="0.716" stop-color="rgb(0,190,255)" stop-opacity="1.00"/><stop offset="0.811" stop-color="rgb(0,184,255)" stop-opacity="1.00"/><stop offset="0.905" stop-color="rgb(0,179,255)" stop-opacity="1.00"/><stop offset="1.000" stop-color="rgb(0,173,255)" stop-opacity="1.00"/></linearGradient><linearGradient id="g48" x1="0" y1="0" x2="0" y2="1"><stop offset="0.000" stop-color="rgb(0,0,143)" stop-opacity="0.00"/><stop offset="0.400" stop-color="rgb(0,89,255)" stop-opacity="1.00"/><stop offset="1.000" stop-color="rgb(0,0,143)" stop-opacity="0.00"/></linearGradient><linearGradient id="g49" x1="0" y1="0" x2="0" y2="1"><stop offset="0.000" stop-color="#000000"/><stop offset="0.064" stop-color="#565656"/><stop offset="0.159" stop-color="#888888"/><stop offset="0.287" stop-color="#b7b7b7"/><stop offset="0.382" stop-color="#c0c0c0"/><stop offset="0.478" stop-color="#c8c8c8"/><stop offset="0.637" stop-color="#b7b7b7"/><stop offset="0.764" stop-color="#999999"/><stop offset="0.892" stop-color="#808080"/><stop offset="1.000" stop-color="#5e5e5e"/></linearGradient><linearGradient id="g50" x1="0" y1="0" x2="0" y2="1"><stop offset="0.000" stop-color="rgb(0,0,143)" stop-opacity="0.00"/><stop offset="0.250" stop-color="rgb(0,0,227)" stop-opacity="1.00"/><stop offset="0.500" stop-color="rgb(0,56,255)" stop-opacity="1.00"/><stop offset="0.750" stop-color="rgb(0,0,227)" stop-opacity="1.00"/><stop offset="1.000" stop-color="rgb(0,0,143)" stop-opacity="0.00"/></linearGradient><linearGradient id="g51" x1="0" y1="0" x2="0" y2="1"><stop offset="0.000" stop-color="rgb(0,0,143)" stop-opacity="0.00"/><stop offset="0.217" stop-color="rgb(0,0,210)" stop-opacity="0.83"/><stop offset="0.433" stop-color="rgb(0,22,255)" stop-opacity="1.00"/><stop offset="0.717" stop-color="rgb(0,0,210)" stop-opacity="0.83"/><stop offset="1.000" stop-color="rgb(0,0,143)" stop-opacity="0.00"/></linearGradient><linearGradient id="g52" x1="0" y1="0" x2="0" y2="1"><stop offset="0.000" stop-color="#000000"/><stop offset="0.123" stop-color="#282828"/><stop offset="0.245" stop-color="#4d4d4d"/><stop offset="0.358" stop-color="#595959"/><stop offset="0.472" stop-color="#666666"/><stop offset="0.585" stop-color="#777777"/><stop offset="0.698" stop-color="#888888"/><stop offset="0.849" stop-color="#777777"/><stop offset="1.000" stop-color="#000000"/></linearGradient><linearGradient id="g53" x1="0" y1="0" x2="0" y2="1"><stop offset="0.000" stop-color="#3d3d3d"/><stop offset="0.126" stop-color="#555555"/><stop offset="0.252" stop-color="#5c5c5c"/><stop offset="0.378" stop-color="#626262"/><stop offset="0.546" stop-color="#888888"/><stop offset="0.655" stop-color="#8a8a8a"/><stop offset="0.765" stop-color="#8c8c8c"/><stop offset="0.899" stop-color="#626262"/><stop offset="1.000" stop-color="#000000"/></linearGradient><linearGradient id="g54" x1="0" y1="0" x2="0" y2="1"><stop offset="0.000" stop-color="#000000"/><stop offset="0.142" stop-color="#303030"/><stop offset="0.284" stop-color="#525252"/><stop offset="0.410" stop-color="#575757"/><stop offset="0.537" stop-color="#5c5c5c"/><stop offset="0.663" stop-color="#626262"/><stop offset="0.775" stop-color="#626262"/><stop offset="0.888" stop-color="#626262"/><stop offset="1.000" stop-color="#626262"/></linearGradient><linearGradient id="g55" x1="0" y1="0" x2="0" y2="1"><stop offset="0.000" stop-color="#626262"/><stop offset="0.118" stop-color="#6a6a6a"/><stop offset="0.181" stop-color="#a2a2a2"/><stop offset="0.255" stop-color="#cccccc"/><stop offset="0.380" stop-color="#dddddd"/><stop offset="0.455" stop-color="#d7d7d7"/><stop offset="0.529" stop-color="#d0d0d0"/><stop offset="0.654" stop-color="#b3b3b3"/><stop offset="0.778" stop-color="#a2a2a2"/><stop offset="0.890" stop-color="#919191"/><stop offset="1.000" stop-color="#888888"/></linearGradient><linearGradient id="g56" x1="0" y1="0" x2="0" y2="1"><stop offset="0.000" stop-color="#000000"/><stop offset="0.268" stop-color="#0c0c0c"/><stop offset="0.536" stop-color="#171717"/><stop offset="0.768" stop-color="#0c0c0c"/><stop offset="1.000" stop-color="#000000"/></linearGradient><linearGradient id="g57" x1="0" y1="0" x2="0" y2="1"><stop offset="0.000" stop-color="#000000"/><stop offset="0.091" stop-color="#181818"/><stop offset="0.182" stop-color="#2e2e2e"/><stop offset="0.274" stop-color="#3d3d3d"/><stop offset="0.375" stop-color="#434343"/><stop offset="0.476" stop-color="#4a4a4a"/><stop offset="0.578" stop-color="#505050"/><stop offset="0.691" stop-color="#565656"/><stop offset="0.805" stop-color="#5c5c5c"/><stop offset="0.903" stop-color="#5f5f5f"/><stop offset="1.000" stop-color="#636363"/></linearGradient><linearGradient id="g58" x1="0" y1="0" x2="0" y2="1"><stop offset="0.000" stop-color="#000000"/><stop offset="0.147" stop-color="#0d0d0d"/><stop offset="0.293" stop-color="#1b1b1b"/><stop offset="0.440" stop-color="#272727"/><stop offset="0.590" stop-color="#2b2b2b"/><stop offset="0.740" stop-color="#2f2f2f"/><stop offset="0.870" stop-color="#181818"/><stop offset="1.000" stop-color="#000000"/></linearGradient><linearGradient id="g59" x1="0" y1="0" x2="0" y2="1"><stop offset="0.000" stop-color="#000000"/><stop offset="0.091" stop-color="#1d1d1d"/><stop offset="0.182" stop-color="#353535"/><stop offset="0.269" stop-color="#404040"/><stop offset="0.356" stop-color="#4b4b4b"/><stop offset="0.443" stop-color="#565656"/><stop offset="0.530" stop-color="#595959"/><stop offset="0.616" stop-color="#5d5d5d"/><stop offset="0.703" stop-color="#606060"/><stop offset="0.802" stop-color="#5f5f5f"/><stop offset="0.901" stop-color="#5f5f5f"/><stop offset="1.000" stop-color="#5e5e5e"/></linearGradient><linearGradient id="g60" x1="0" y1="0" x2="0" y2="1"><stop offset="0.000" stop-color="#000000"/><stop offset="0.163" stop-color="#1b1b1b"/><stop offset="0.326" stop-color="#313131"/><stop offset="0.489" stop-color="#434343"/><stop offset="0.659" stop-color="#313131"/><stop offset="0.830" stop-color="#1b1b1b"/><stop offset="1.000" stop-color="#000000"/></linearGradient><linearGradient id="g61" x1="0" y1="0" x2="0" y2="1"><stop offset="0.000" stop-color="rgb(0,0,143)" stop-opacity="0.00"/><stop offset="0.243" stop-color="rgb(0,0,210)" stop-opacity="0.83"/><stop offset="0.486" stop-color="rgb(0,22,255)" stop-opacity="1.00"/><stop offset="0.657" stop-color="rgb(0,0,233)" stop-opacity="1.00"/><stop offset="0.829" stop-color="rgb(0,0,188)" stop-opacity="0.56"/><stop offset="1.000" stop-color="rgb(0,0,143)" stop-opacity="0.00"/></linearGradient><radialGradient id="r24"><stop offset="0" stop-color="#999999"/><stop offset="0.25" stop-color="#8a8a8a"/><stop offset="0.5" stop-color="#5c5c5c"/><stop offset="0.75" stop-color="#262626"/><stop offset="1" stop-color="#000"/></radialGradient><linearGradient id="g62" x1="0" y1="0" x2="0" y2="1"><stop offset="0.000" stop-color="#292929"/><stop offset="0.086" stop-color="#2f2f2f"/><stop offset="0.171" stop-color="#343434"/><stop offset="0.257" stop-color="#383838"/><stop offset="0.342" stop-color="#3c3c3c"/><stop offset="0.417" stop-color="#464646"/><stop offset="0.492" stop-color="#565656"/><stop offset="0.592" stop-color="#888888"/><stop offset="0.691" stop-color="#aaaaaa"/><stop offset="0.766" stop-color="#c4c4c4"/><stop offset="0.841" stop-color="#d5d5d5"/><stop offset="0.915" stop-color="#bfbfbf"/><stop offset="0.965" stop-color="#a2a2a2"/><stop offset="1.000" stop-color="#999999"/></linearGradient><linearGradient id="g63" x1="0" y1="0" x2="0" y2="1"><stop offset="0.000" stop-color="rgb(0,173,255)" stop-opacity="1.00"/><stop offset="0.093" stop-color="rgb(0,183,255)" stop-opacity="1.00"/><stop offset="0.187" stop-color="rgb(0,193,255)" stop-opacity="1.00"/><stop offset="0.280" stop-color="rgb(0,203,255)" stop-opacity="1.00"/><stop offset="0.374" stop-color="rgb(0,213,255)" stop-opacity="1.00"/><stop offset="0.467" stop-color="rgb(0,223,255)" stop-opacity="1.00"/><stop offset="0.556" stop-color="rgb(0,230,255)" stop-opacity="1.00"/><stop offset="0.645" stop-color="rgb(0,237,255)" stop-opacity="1.00"/><stop offset="0.733" stop-color="rgb(0,244,255)" stop-opacity="1.00"/><stop offset="0.822" stop-color="rgb(0,251,255)" stop-opacity="1.00"/><stop offset="0.911" stop-color="rgb(3,255,252)" stop-opacity="1.00"/><stop offset="1.000" stop-color="rgb(10,255,245)" stop-opacity="1.00"/></linearGradient><linearGradient id="g64" x1="0" y1="0" x2="0" y2="1"><stop offset="0.000" stop-color="#000000"/><stop offset="0.250" stop-color="#101010"/><stop offset="0.500" stop-color="#1f1f1f"/><stop offset="0.750" stop-color="#101010"/><stop offset="1.000" stop-color="#000000"/></linearGradient><linearGradient id="g65" x1="0" y1="0" x2="0" y2="1"><stop offset="0.000" stop-color="rgb(0,56,255)" stop-opacity="1.00"/><stop offset="0.200" stop-color="rgb(0,39,255)" stop-opacity="1.00"/><stop offset="0.400" stop-color="rgb(0,22,255)" stop-opacity="1.00"/><stop offset="0.600" stop-color="rgb(0,6,255)" stop-opacity="1.00"/><stop offset="0.800" stop-color="rgb(0,0,202)" stop-opacity="0.73"/><stop offset="1.000" stop-color="rgb(0,0,143)" stop-opacity="0.00"/></linearGradient><linearGradient id="g66" x1="0" y1="0" x2="0" y2="1"><stop offset="0.000" stop-color="#000000"/><stop offset="0.156" stop-color="#151515"/><stop offset="0.312" stop-color="#282828"/><stop offset="0.467" stop-color="#393939"/><stop offset="0.645" stop-color="#3d3d3d"/><stop offset="0.822" stop-color="#414141"/><stop offset="1.000" stop-color="#454545"/></linearGradient><linearGradient id="g67" x1="0" y1="0" x2="0" y2="1"><stop offset="0.000" stop-color="#727272"/><stop offset="0.090" stop-color="#737373"/><stop offset="0.179" stop-color="#757575"/><stop offset="0.269" stop-color="#767676"/><stop offset="0.358" stop-color="#787878"/><stop offset="0.448" stop-color="#797979"/><stop offset="0.537" stop-color="#7b7b7b"/><stop offset="0.627" stop-color="#7c7c7c"/><stop offset="0.716" stop-color="#7e7e7e"/><stop offset="0.811" stop-color="#828282"/><stop offset="0.905" stop-color="#878787"/><stop offset="1.000" stop-color="#8c8c8c"/></linearGradient><linearGradient id="g68" x1="0" y1="0" x2="0" y2="1"><stop offset="0.000" stop-color="rgb(255,90,0)" stop-opacity="1.00"/><stop offset="0.090" stop-color="rgb(255,86,0)" stop-opacity="1.00"/><stop offset="0.179" stop-color="rgb(255,82,0)" stop-opacity="1.00"/><stop offset="0.269" stop-color="rgb(255,77,0)" stop-opacity="1.00"/><stop offset="0.358" stop-color="rgb(255,73,0)" stop-opacity="1.00"/><stop offset="0.448" stop-color="rgb(255,69,0)" stop-opacity="1.00"/><stop offset="0.537" stop-color="rgb(255,65,0)" stop-opacity="1.00"/><stop offset="0.627" stop-color="rgb(255,61,0)" stop-opacity="1.00"/><stop offset="0.716" stop-color="rgb(255,57,0)" stop-opacity="1.00"/><stop offset="0.811" stop-color="rgb(255,45,0)" stop-opacity="1.00"/><stop offset="0.905" stop-color="rgb(255,34,0)" stop-opacity="1.00"/><stop offset="1.000" stop-color="rgb(255,23,0)" stop-opacity="1.00"/></linearGradient><linearGradient id="g69" x1="0" y1="0" x2="0" y2="1"><stop offset="0.000" stop-color="rgb(0,173,255)" stop-opacity="1.00"/><stop offset="0.145" stop-color="rgb(0,152,255)" stop-opacity="1.00"/><stop offset="0.289" stop-color="rgb(0,131,255)" stop-opacity="1.00"/><stop offset="0.434" stop-color="rgb(0,110,255)" stop-opacity="1.00"/><stop offset="0.579" stop-color="rgb(0,89,255)" stop-opacity="1.00"/><stop offset="0.719" stop-color="rgb(0,22,255)" stop-opacity="1.00"/><stop offset="0.860" stop-color="rgb(0,0,210)" stop-opacity="0.83"/><stop offset="1.000" stop-color="rgb(0,0,143)" stop-opacity="0.00"/></linearGradient><linearGradient id="g70" x1="0" y1="0" x2="0" y2="1"><stop offset="0.000" stop-color="#000000"/><stop offset="0.250" stop-color="#0f0f0f"/><stop offset="0.500" stop-color="#1e1e1e"/><stop offset="0.750" stop-color="#0f0f0f"/><stop offset="1.000" stop-color="#000000"/></linearGradient><linearGradient id="g71" x1="0" y1="0" x2="0" y2="1"><stop offset="0.000" stop-color="#000000"/><stop offset="0.162" stop-color="#0c0c0c"/><stop offset="0.324" stop-color="#181818"/><stop offset="0.486" stop-color="#232323"/><stop offset="0.658" stop-color="#181818"/><stop offset="0.829" stop-color="#0c0c0c"/><stop offset="1.000" stop-color="#000000"/></linearGradient><linearGradient id="g72" x1="0" y1="0" x2="0" y2="1"><stop offset="0.000" stop-color="rgb(0,22,255)" stop-opacity="1.00"/><stop offset="0.091" stop-color="rgb(0,24,255)" stop-opacity="1.00"/><stop offset="0.182" stop-color="rgb(0,25,255)" stop-opacity="1.00"/><stop offset="0.273" stop-color="rgb(0,27,255)" stop-opacity="1.00"/><stop offset="0.364" stop-color="rgb(0,28,255)" stop-opacity="1.00"/><stop offset="0.455" stop-color="rgb(0,30,255)" stop-opacity="1.00"/><stop offset="0.545" stop-color="rgb(0,31,255)" stop-opacity="1.00"/><stop offset="0.636" stop-color="rgb(0,33,255)" stop-opacity="1.00"/><stop offset="0.727" stop-color="rgb(0,34,255)" stop-opacity="1.00"/><stop offset="0.818" stop-color="rgb(0,36,255)" stop-opacity="1.00"/><stop offset="0.909" stop-color="rgb(0,38,255)" stop-opacity="1.00"/><stop offset="1.000" stop-color="rgb(0,39,255)" stop-opacity="1.00"/></linearGradient><linearGradient id="g73" x1="0" y1="0" x2="0" y2="1"><stop offset="0.000" stop-color="rgb(0,223,255)" stop-opacity="1.00"/><stop offset="0.093" stop-color="rgb(0,216,255)" stop-opacity="1.00"/><stop offset="0.187" stop-color="rgb(0,210,255)" stop-opacity="1.00"/><stop offset="0.280" stop-color="rgb(0,203,255)" stop-opacity="1.00"/><stop offset="0.374" stop-color="rgb(0,196,255)" stop-opacity="1.00"/><stop offset="0.467" stop-color="rgb(0,190,255)" stop-opacity="1.00"/><stop offset="0.556" stop-color="rgb(0,176,255)" stop-opacity="1.00"/><stop offset="0.645" stop-color="rgb(0,162,255)" stop-opacity="1.00"/><stop offset="0.733" stop-color="rgb(0,148,255)" stop-opacity="1.00"/><stop offset="0.822" stop-color="rgb(0,134,255)" stop-opacity="1.00"/><stop offset="0.911" stop-color="rgb(0,120,255)" stop-opacity="1.00"/><stop offset="1.000" stop-color="rgb(0,106,255)" stop-opacity="1.00"/></linearGradient><linearGradient id="g74" x1="0" y1="0" x2="0" y2="1"><stop offset="0.000" stop-color="#6e6e6e"/><stop offset="0.090" stop-color="#707070"/><stop offset="0.179" stop-color="#727272"/><stop offset="0.269" stop-color="#747474"/><stop offset="0.358" stop-color="#767676"/><stop offset="0.448" stop-color="#787878"/><stop offset="0.537" stop-color="#7a7a7a"/><stop offset="0.627" stop-color="#7c7c7c"/><stop offset="0.716" stop-color="#7e7e7e"/><stop offset="0.811" stop-color="#838383"/><stop offset="0.905" stop-color="#8a8a8a"/><stop offset="1.000" stop-color="#919191"/></linearGradient><linearGradient id="g75" x1="0" y1="0" x2="0" y2="1"><stop offset="0.000" stop-color="rgb(255,73,0)" stop-opacity="1.00"/><stop offset="0.086" stop-color="rgb(255,65,0)" stop-opacity="1.00"/><stop offset="0.171" stop-color="rgb(255,57,0)" stop-opacity="1.00"/><stop offset="0.257" stop-color="rgb(255,48,0)" stop-opacity="1.00"/><stop offset="0.342" stop-color="rgb(255,40,0)" stop-opacity="1.00"/><stop offset="0.425" stop-color="rgb(255,37,0)" stop-opacity="1.00"/><stop offset="0.509" stop-color="rgb(255,34,0)" stop-opacity="1.00"/><stop offset="0.592" stop-color="rgb(255,31,0)" stop-opacity="1.00"/><stop offset="0.675" stop-color="rgb(255,29,0)" stop-opacity="1.00"/><stop offset="0.758" stop-color="rgb(255,26,0)" stop-opacity="1.00"/><stop offset="0.841" stop-color="rgb(255,23,0)" stop-opacity="1.00"/><stop offset="0.920" stop-color="rgb(255,23,0)" stop-opacity="1.00"/><stop offset="1.000" stop-color="rgb(255,23,0)" stop-opacity="1.00"/></linearGradient><linearGradient id="g76" x1="0" y1="0" x2="0" y2="1"><stop offset="0.000" stop-color="rgb(0,0,210)" stop-opacity="0.83"/><stop offset="0.091" stop-color="rgb(0,0,210)" stop-opacity="0.83"/><stop offset="0.182" stop-color="rgb(0,0,210)" stop-opacity="0.83"/><stop offset="0.273" stop-color="rgb(0,0,210)" stop-opacity="0.83"/><stop offset="0.364" stop-color="rgb(0,0,210)" stop-opacity="0.83"/><stop offset="0.455" stop-color="rgb(0,0,210)" stop-opacity="0.83"/><stop offset="0.545" stop-color="rgb(0,0,210)" stop-opacity="0.83"/><stop offset="0.636" stop-color="rgb(0,0,210)" stop-opacity="0.83"/><stop offset="0.727" stop-color="rgb(0,0,210)" stop-opacity="0.83"/><stop offset="0.818" stop-color="rgb(0,0,210)" stop-opacity="0.83"/><stop offset="0.909" stop-color="rgb(0,0,210)" stop-opacity="0.83"/><stop offset="1.000" stop-color="rgb(0,0,210)" stop-opacity="0.83"/></linearGradient><linearGradient id="g77" x1="0" y1="0" x2="0" y2="1"><stop offset="0.000" stop-color="rgb(255,174,0)" stop-opacity="1.00"/><stop offset="0.093" stop-color="rgb(255,241,0)" stop-opacity="1.00"/><stop offset="0.218" stop-color="rgb(102,255,153)" stop-opacity="1.00"/><stop offset="0.311" stop-color="rgb(35,255,220)" stop-opacity="1.00"/><stop offset="0.405" stop-color="rgb(0,223,255)" stop-opacity="1.00"/><stop offset="0.483" stop-color="rgb(0,190,255)" stop-opacity="1.00"/><stop offset="0.560" stop-color="rgb(0,156,255)" stop-opacity="1.00"/><stop offset="0.638" stop-color="rgb(0,123,255)" stop-opacity="1.00"/><stop offset="0.716" stop-color="rgb(0,89,255)" stop-opacity="1.00"/><stop offset="0.811" stop-color="rgb(0,78,255)" stop-opacity="1.00"/><stop offset="0.905" stop-color="rgb(0,67,255)" stop-opacity="1.00"/><stop offset="1.000" stop-color="rgb(0,56,255)" stop-opacity="1.00"/></linearGradient><linearGradient id="g78" x1="0" y1="0" x2="0" y2="1"><stop offset="0.000" stop-color="rgb(0,190,255)" stop-opacity="1.00"/><stop offset="0.109" stop-color="rgb(0,223,255)" stop-opacity="1.00"/><stop offset="0.218" stop-color="rgb(2,255,253)" stop-opacity="1.00"/><stop offset="0.311" stop-color="rgb(52,255,203)" stop-opacity="1.00"/><stop offset="0.405" stop-color="rgb(102,255,153)" stop-opacity="1.00"/><stop offset="0.498" stop-color="rgb(94,255,161)" stop-opacity="1.00"/><stop offset="0.592" stop-color="rgb(85,255,170)" stop-opacity="1.00"/><stop offset="0.685" stop-color="rgb(52,255,203)" stop-opacity="1.00"/><stop offset="0.778" stop-color="rgb(18,255,237)" stop-opacity="1.00"/><stop offset="0.852" stop-color="rgb(13,255,242)" stop-opacity="1.00"/><stop offset="0.926" stop-color="rgb(7,255,248)" stop-opacity="1.00"/><stop offset="1.000" stop-color="rgb(2,255,253)" stop-opacity="1.00"/></linearGradient><linearGradient id="g79" x1="0" y1="0" x2="0" y2="1"><stop offset="0.000" stop-color="#3c3c3c"/><stop offset="0.079" stop-color="#3f3f3f"/><stop offset="0.159" stop-color="#424242"/><stop offset="0.238" stop-color="#464646"/><stop offset="0.318" stop-color="#494949"/><stop offset="0.392" stop-color="#535353"/><stop offset="0.467" stop-color="#5e5e5e"/><stop offset="0.542" stop-color="#6f6f6f"/><stop offset="0.616" stop-color="#808080"/><stop offset="0.741" stop-color="#9d9d9d"/><stop offset="0.866" stop-color="#9d9d9d"/><stop offset="0.953" stop-color="#888888"/><stop offset="1.000" stop-color="#777777"/></linearGradient><linearGradient id="g80" x1="0" y1="0" x2="0" y2="1"><stop offset="0.000" stop-color="#000000"/><stop offset="0.147" stop-color="#494949"/><stop offset="0.246" stop-color="#505050"/><stop offset="0.344" stop-color="#575757"/><stop offset="0.442" stop-color="#5e5e5e"/><stop offset="0.535" stop-color="#5c5c5c"/><stop offset="0.627" stop-color="#595959"/><stop offset="0.719" stop-color="#575757"/><stop offset="0.811" stop-color="#555555"/><stop offset="0.906" stop-color="#515151"/><stop offset="1.000" stop-color="#4d4d4d"/></linearGradient><linearGradient id="g81" x1="0" y1="0" x2="0" y2="1"><stop offset="0.000" stop-color="#000000"/><stop offset="0.137" stop-color="#525252"/><stop offset="0.240" stop-color="#626262"/><stop offset="0.343" stop-color="#727272"/><stop offset="0.481" stop-color="#9a9a9a"/><stop offset="0.556" stop-color="#a9a9a9"/><stop offset="0.632" stop-color="#b8b8b8"/><stop offset="0.728" stop-color="#b8b8b8"/><stop offset="0.824" stop-color="#b8b8b8"/><stop offset="0.912" stop-color="#adadad"/><stop offset="1.000" stop-color="#a3a3a3"/></linearGradient><linearGradient id="g82" x1="0" y1="0" x2="0" y2="1"><stop offset="0.000" stop-color="rgb(0,0,143)" stop-opacity="0.00"/><stop offset="0.175" stop-color="rgb(0,56,255)" stop-opacity="1.00"/><stop offset="0.350" stop-color="rgb(0,223,255)" stop-opacity="1.00"/><stop offset="0.513" stop-color="rgb(0,231,255)" stop-opacity="1.00"/><stop offset="0.675" stop-color="rgb(0,240,255)" stop-opacity="1.00"/><stop offset="0.838" stop-color="rgb(0,248,255)" stop-opacity="1.00"/><stop offset="1.000" stop-color="rgb(2,255,253)" stop-opacity="1.00"/></linearGradient><linearGradient id="g83" x1="0" y1="0" x2="0" y2="1"><stop offset="0.000" stop-color="#000000"/><stop offset="0.126" stop-color="#171717"/><stop offset="0.253" stop-color="#2b2b2b"/><stop offset="0.379" stop-color="#3d3d3d"/><stop offset="0.503" stop-color="#3c3c3c"/><stop offset="0.627" stop-color="#3a3a3a"/><stop offset="0.752" stop-color="#383838"/><stop offset="0.876" stop-color="#373737"/><stop offset="1.000" stop-color="#353535"/></linearGradient><linearGradient id="g84" x1="0" y1="0" x2="0" y2="1"><stop offset="0.000" stop-color="#000000"/><stop offset="0.243" stop-color="#4d4d4d"/><stop offset="0.514" stop-color="#5e5e5e"/><stop offset="0.784" stop-color="#4d4d4d"/><stop offset="1.000" stop-color="#000000"/></linearGradient><linearGradient id="g85" x1="0" y1="0" x2="0" y2="1"><stop offset="0.000" stop-color="rgb(0,0,143)" stop-opacity="0.00"/><stop offset="0.270" stop-color="rgb(0,0,227)" stop-opacity="1.00"/><stop offset="0.540" stop-color="rgb(0,56,255)" stop-opacity="1.00"/><stop offset="0.770" stop-color="rgb(0,39,255)" stop-opacity="1.00"/><stop offset="1.000" stop-color="rgb(0,22,255)" stop-opacity="1.00"/></linearGradient><linearGradient id="g86" x1="0" y1="0" x2="0" y2="1"><stop offset="0.000" stop-color="rgb(0,173,255)" stop-opacity="1.00"/><stop offset="0.086" stop-color="rgb(0,156,255)" stop-opacity="1.00"/><stop offset="0.171" stop-color="rgb(0,139,255)" stop-opacity="1.00"/><stop offset="0.257" stop-color="rgb(0,123,255)" stop-opacity="1.00"/><stop offset="0.342" stop-color="rgb(0,106,255)" stop-opacity="1.00"/><stop offset="0.425" stop-color="rgb(0,93,255)" stop-opacity="1.00"/><stop offset="0.507" stop-color="rgb(0,81,255)" stop-opacity="1.00"/><stop offset="0.589" stop-color="rgb(0,68,255)" stop-opacity="1.00"/><stop offset="0.671" stop-color="rgb(0,56,255)" stop-opacity="1.00"/><stop offset="0.753" stop-color="rgb(0,43,255)" stop-opacity="1.00"/><stop offset="0.836" stop-color="rgb(0,31,255)" stop-opacity="1.00"/><stop offset="0.918" stop-color="rgb(0,18,255)" stop-opacity="1.00"/><stop offset="1.000" stop-color="rgb(0,6,255)" stop-opacity="1.00"/></linearGradient><linearGradient id="g87" x1="0" y1="0" x2="0" y2="1"><stop offset="0.000" stop-color="#353535"/><stop offset="0.093" stop-color="#383838"/><stop offset="0.187" stop-color="#3a3a3a"/><stop offset="0.280" stop-color="#3d3d3d"/><stop offset="0.358" stop-color="#444444"/><stop offset="0.436" stop-color="#4c4c4c"/><stop offset="0.514" stop-color="#545454"/><stop offset="0.592" stop-color="#5c5c5c"/><stop offset="0.673" stop-color="#5d5d5d"/><stop offset="0.755" stop-color="#5f5f5f"/><stop offset="0.837" stop-color="#606060"/><stop offset="0.918" stop-color="#626262"/><stop offset="1.000" stop-color="#636363"/></linearGradient><linearGradient id="g88" x1="0" y1="0" x2="0" y2="1"><stop offset="0.000" stop-color="#000000"/><stop offset="0.500" stop-color="#232323"/><stop offset="1.000" stop-color="#000000"/></linearGradient><linearGradient id="g89" x1="0" y1="0" x2="0" y2="1"><stop offset="0.000" stop-color="#000000"/><stop offset="0.234" stop-color="#242424"/><stop offset="0.469" stop-color="#414141"/><stop offset="0.734" stop-color="#242424"/><stop offset="1.000" stop-color="#000000"/></linearGradient><linearGradient id="g90" x1="0" y1="0" x2="0" y2="1"><stop offset="0.000" stop-color="#000000"/><stop offset="0.115" stop-color="#1f1f1f"/><stop offset="0.231" stop-color="#363636"/><stop offset="0.346" stop-color="#4a4a4a"/><stop offset="0.477" stop-color="#4c4c4c"/><stop offset="0.608" stop-color="#4d4d4d"/><stop offset="0.738" stop-color="#4f4f4f"/><stop offset="0.869" stop-color="#505050"/><stop offset="1.000" stop-color="#525252"/></linearGradient><linearGradient id="g91" x1="0" y1="0" x2="0" y2="1"><stop offset="0.000" stop-color="rgb(0,56,255)" stop-opacity="1.00"/><stop offset="0.091" stop-color="rgb(0,56,255)" stop-opacity="1.00"/><stop offset="0.182" stop-color="rgb(0,56,255)" stop-opacity="1.00"/><stop offset="0.273" stop-color="rgb(0,56,255)" stop-opacity="1.00"/><stop offset="0.364" stop-color="rgb(0,56,255)" stop-opacity="1.00"/><stop offset="0.455" stop-color="rgb(0,56,255)" stop-opacity="1.00"/><stop offset="0.545" stop-color="rgb(0,56,255)" stop-opacity="1.00"/><stop offset="0.636" stop-color="rgb(0,56,255)" stop-opacity="1.00"/><stop offset="0.727" stop-color="rgb(0,56,255)" stop-opacity="1.00"/><stop offset="0.818" stop-color="rgb(0,56,255)" stop-opacity="1.00"/><stop offset="0.909" stop-color="rgb(0,56,255)" stop-opacity="1.00"/><stop offset="1.000" stop-color="rgb(0,56,255)" stop-opacity="1.00"/></linearGradient><radialGradient id="r17"><stop offset="0" stop-color="#6c6c6c"/><stop offset="0.25" stop-color="#626262"/><stop offset="0.5" stop-color="#414141"/><stop offset="0.75" stop-color="#1b1b1b"/><stop offset="1" stop-color="#000"/></radialGradient><linearGradient id="g92" x1="0" y1="0" x2="0" y2="1"><stop offset="0.000" stop-color="#000000"/><stop offset="0.105" stop-color="#555555"/><stop offset="0.195" stop-color="#5e5e5e"/><stop offset="0.284" stop-color="#666666"/><stop offset="0.389" stop-color="#808080"/><stop offset="0.479" stop-color="#a2a2a2"/><stop offset="0.569" stop-color="#bbbbbb"/><stop offset="0.689" stop-color="#cccccc"/><stop offset="0.793" stop-color="#c4c4c4"/><stop offset="0.868" stop-color="#a6a6a6"/><stop offset="1.000" stop-color="#999999"/></linearGradient><linearGradient id="g93" x1="0" y1="0" x2="0" y2="1"><stop offset="0.000" stop-color="rgb(102,255,153)" stop-opacity="1.00"/><stop offset="0.086" stop-color="rgb(98,255,157)" stop-opacity="1.00"/><stop offset="0.171" stop-color="rgb(94,255,161)" stop-opacity="1.00"/><stop offset="0.257" stop-color="rgb(89,255,166)" stop-opacity="1.00"/><stop offset="0.342" stop-color="rgb(85,255,170)" stop-opacity="1.00"/><stop offset="0.425" stop-color="rgb(63,255,192)" stop-opacity="1.00"/><stop offset="0.509" stop-color="rgb(41,255,214)" stop-opacity="1.00"/><stop offset="0.592" stop-color="rgb(18,255,237)" stop-opacity="1.00"/><stop offset="0.673" stop-color="rgb(8,255,247)" stop-opacity="1.00"/><stop offset="0.755" stop-color="rgb(0,253,255)" stop-opacity="1.00"/><stop offset="0.837" stop-color="rgb(0,243,255)" stop-opacity="1.00"/><stop offset="0.918" stop-color="rgb(0,233,255)" stop-opacity="1.00"/><stop offset="1.000" stop-color="rgb(0,223,255)" stop-opacity="1.00"/></linearGradient><linearGradient id="g94" x1="0" y1="0" x2="0" y2="1"><stop offset="0.000" stop-color="#000000"/><stop offset="0.162" stop-color="#101010"/><stop offset="0.324" stop-color="#1f1f1f"/><stop offset="0.486" stop-color="#2c2c2c"/><stop offset="0.658" stop-color="#1f1f1f"/><stop offset="0.829" stop-color="#101010"/><stop offset="1.000" stop-color="#000000"/></linearGradient><linearGradient id="g95" x1="0" y1="0" x2="0" y2="1"><stop offset="0.000" stop-color="#000000"/><stop offset="0.250" stop-color="#171717"/><stop offset="0.500" stop-color="#2c2c2c"/><stop offset="0.750" stop-color="#171717"/><stop offset="1.000" stop-color="#000000"/></linearGradient><linearGradient id="g96" x1="0" y1="0" x2="0" y2="1"><stop offset="0.000" stop-color="rgb(0,73,255)" stop-opacity="1.00"/><stop offset="0.086" stop-color="rgb(0,89,255)" stop-opacity="1.00"/><stop offset="0.171" stop-color="rgb(0,106,255)" stop-opacity="1.00"/><stop offset="0.257" stop-color="rgb(0,123,255)" stop-opacity="1.00"/><stop offset="0.342" stop-color="rgb(0,139,255)" stop-opacity="1.00"/><stop offset="0.436" stop-color="rgb(0,156,255)" stop-opacity="1.00"/><stop offset="0.529" stop-color="rgb(0,173,255)" stop-opacity="1.00"/><stop offset="0.612" stop-color="rgb(0,145,255)" stop-opacity="1.00"/><stop offset="0.695" stop-color="rgb(0,117,255)" stop-opacity="1.00"/><stop offset="0.778" stop-color="rgb(0,89,255)" stop-opacity="1.00"/><stop offset="0.852" stop-color="rgb(0,117,255)" stop-opacity="1.00"/><stop offset="0.926" stop-color="rgb(0,145,255)" stop-opacity="1.00"/><stop offset="1.000" stop-color="rgb(0,173,255)" stop-opacity="1.00"/></linearGradient><linearGradient id="g97" x1="0" y1="0" x2="0" y2="1"><stop offset="0.000" stop-color="#000000"/><stop offset="0.123" stop-color="#131313"/><stop offset="0.245" stop-color="#252525"/><stop offset="0.368" stop-color="#353535"/><stop offset="0.493" stop-color="#414141"/><stop offset="0.619" stop-color="#4d4d4d"/><stop offset="0.786" stop-color="#555555"/><stop offset="0.893" stop-color="#4f4f4f"/><stop offset="1.000" stop-color="#494949"/></linearGradient><linearGradient id="g98" x1="0" y1="0" x2="0" y2="1"><stop offset="0.000" stop-color="#000000"/><stop offset="0.439" stop-color="#494949"/><stop offset="0.719" stop-color="#4b4b4b"/><stop offset="1.000" stop-color="#4d4d4d"/></linearGradient><linearGradient id="g99" x1="0" y1="0" x2="0" y2="1"><stop offset="0.000" stop-color="#000000"/><stop offset="0.570" stop-color="#414141"/><stop offset="1.000" stop-color="#414141"/></linearGradient><linearGradient id="g100" x1="0" y1="0" x2="0" y2="1"><stop offset="0.000" stop-color="rgb(0,0,143)" stop-opacity="0.00"/><stop offset="0.600" stop-color="rgb(0,6,255)" stop-opacity="1.00"/><stop offset="1.000" stop-color="rgb(0,0,143)" stop-opacity="0.00"/></linearGradient><linearGradient id="g101" x1="0" y1="0" x2="0" y2="1"><stop offset="0.000" stop-color="rgb(0,0,143)" stop-opacity="0.00"/><stop offset="0.500" stop-color="rgb(0,6,255)" stop-opacity="1.00"/><stop offset="1.000" stop-color="rgb(0,0,143)" stop-opacity="0.00"/></linearGradient><linearGradient id="g102" x1="0" y1="0" x2="0" y2="1"><stop offset="0.000" stop-color="rgb(0,0,143)" stop-opacity="0.00"/><stop offset="0.500" stop-color="rgb(0,0,244)" stop-opacity="1.00"/><stop offset="1.000" stop-color="rgb(0,0,143)" stop-opacity="0.00"/></linearGradient><linearGradient id="g103" x1="0" y1="0" x2="0" y2="1"><stop offset="0.000" stop-color="rgb(0,0,227)" stop-opacity="1.00"/><stop offset="0.091" stop-color="rgb(0,0,226)" stop-opacity="1.00"/><stop offset="0.182" stop-color="rgb(0,0,224)" stop-opacity="1.00"/><stop offset="0.273" stop-color="rgb(0,0,223)" stop-opacity="0.98"/><stop offset="0.364" stop-color="rgb(0,0,221)" stop-opacity="0.97"/><stop offset="0.455" stop-color="rgb(0,0,220)" stop-opacity="0.95"/><stop offset="0.545" stop-color="rgb(0,0,218)" stop-opacity="0.93"/><stop offset="0.636" stop-color="rgb(0,0,216)" stop-opacity="0.91"/><stop offset="0.727" stop-color="rgb(0,0,215)" stop-opacity="0.89"/><stop offset="0.818" stop-color="rgb(0,0,213)" stop-opacity="0.87"/><stop offset="0.909" stop-color="rgb(0,0,212)" stop-opacity="0.85"/><stop offset="1.000" stop-color="rgb(0,0,210)" stop-opacity="0.83"/></linearGradient><linearGradient id="g104" x1="0" y1="0" x2="0" y2="1"><stop offset="0.000" stop-color="rgb(0,0,227)" stop-opacity="1.00"/><stop offset="0.105" stop-color="rgb(0,0,227)" stop-opacity="1.00"/><stop offset="0.209" stop-color="rgb(0,0,227)" stop-opacity="1.00"/><stop offset="0.314" stop-color="rgb(0,0,227)" stop-opacity="1.00"/><stop offset="0.418" stop-color="rgb(0,0,227)" stop-opacity="1.00"/><stop offset="0.523" stop-color="rgb(0,0,227)" stop-opacity="1.00"/><stop offset="0.627" stop-color="rgb(0,0,227)" stop-opacity="1.00"/><stop offset="0.732" stop-color="rgb(0,0,227)" stop-opacity="1.00"/><stop offset="0.836" stop-color="rgb(0,0,227)" stop-opacity="1.00"/><stop offset="0.941" stop-color="rgb(0,0,227)" stop-opacity="1.00"/><stop offset="1.000" stop-color="rgb(0,0,143)" stop-opacity="0.00"/></linearGradient><linearGradient id="g105" x1="0" y1="0" x2="0" y2="1"><stop offset="0.000" stop-color="rgb(0,73,255)" stop-opacity="1.00"/><stop offset="0.091" stop-color="rgb(0,74,255)" stop-opacity="1.00"/><stop offset="0.182" stop-color="rgb(0,76,255)" stop-opacity="1.00"/><stop offset="0.273" stop-color="rgb(0,77,255)" stop-opacity="1.00"/><stop offset="0.364" stop-color="rgb(0,79,255)" stop-opacity="1.00"/><stop offset="0.455" stop-color="rgb(0,80,255)" stop-opacity="1.00"/><stop offset="0.545" stop-color="rgb(0,82,255)" stop-opacity="1.00"/><stop offset="0.636" stop-color="rgb(0,83,255)" stop-opacity="1.00"/><stop offset="0.727" stop-color="rgb(0,85,255)" stop-opacity="1.00"/><stop offset="0.818" stop-color="rgb(0,86,255)" stop-opacity="1.00"/><stop offset="0.909" stop-color="rgb(0,88,255)" stop-opacity="1.00"/><stop offset="1.000" stop-color="rgb(0,89,255)" stop-opacity="1.00"/></linearGradient><linearGradient id="g106" x1="0" y1="0" x2="0" y2="1"><stop offset="0.000" stop-color="#000000"/><stop offset="0.114" stop-color="#232323"/><stop offset="0.227" stop-color="#444444"/><stop offset="0.328" stop-color="#535353"/><stop offset="0.428" stop-color="#626262"/><stop offset="0.561" stop-color="#737373"/><stop offset="0.695" stop-color="#6a6a6a"/><stop offset="0.829" stop-color="#595959"/><stop offset="0.914" stop-color="#595959"/><stop offset="1.000" stop-color="#595959"/></linearGradient><linearGradient id="g107" x1="0" y1="0" x2="0" y2="1"><stop offset="0.000" stop-color="#000000"/><stop offset="0.182" stop-color="#494949"/><stop offset="0.347" stop-color="#6b6b6b"/><stop offset="0.511" stop-color="#777777"/><stop offset="0.675" stop-color="#6b6b6b"/><stop offset="0.783" stop-color="#656565"/><stop offset="0.892" stop-color="#5f5f5f"/><stop offset="1.000" stop-color="#5a5a5a"/></linearGradient><linearGradient id="g108" x1="0" y1="0" x2="0" y2="1"><stop offset="0.000" stop-color="#000000"/><stop offset="0.198" stop-color="#242424"/><stop offset="0.397" stop-color="#414141"/><stop offset="0.661" stop-color="#5a5a5a"/><stop offset="0.831" stop-color="#5c5c5c"/><stop offset="1.000" stop-color="#5e5e5e"/></linearGradient><linearGradient id="g109" x1="0" y1="0" x2="0" y2="1"><stop offset="0.000" stop-color="rgb(0,173,255)" stop-opacity="1.00"/><stop offset="0.086" stop-color="rgb(0,194,255)" stop-opacity="1.00"/><stop offset="0.171" stop-color="rgb(0,215,255)" stop-opacity="1.00"/><stop offset="0.257" stop-color="rgb(0,236,255)" stop-opacity="1.00"/><stop offset="0.342" stop-color="rgb(2,255,253)" stop-opacity="1.00"/><stop offset="0.436" stop-color="rgb(27,255,228)" stop-opacity="1.00"/><stop offset="0.529" stop-color="rgb(52,255,203)" stop-opacity="1.00"/><stop offset="0.623" stop-color="rgb(27,255,228)" stop-opacity="1.00"/><stop offset="0.716" stop-color="rgb(2,255,253)" stop-opacity="1.00"/><stop offset="0.811" stop-color="rgb(0,245,255)" stop-opacity="1.00"/><stop offset="0.905" stop-color="rgb(0,234,255)" stop-opacity="1.00"/><stop offset="1.000" stop-color="rgb(0,223,255)" stop-opacity="1.00"/></linearGradient><linearGradient id="g110" x1="0" y1="0" x2="0" y2="1"><stop offset="0.000" stop-color="#5f5f5f"/><stop offset="0.086" stop-color="#616161"/><stop offset="0.171" stop-color="#636363"/><stop offset="0.257" stop-color="#656565"/><stop offset="0.342" stop-color="#676767"/><stop offset="0.436" stop-color="#717171"/><stop offset="0.529" stop-color="#7b7b7b"/><stop offset="0.623" stop-color="#898989"/><stop offset="0.716" stop-color="#979797"/><stop offset="0.811" stop-color="#9a9a9a"/><stop offset="0.905" stop-color="#9d9d9d"/><stop offset="1.000" stop-color="#a0a0a0"/></linearGradient><linearGradient id="g111" x1="0" y1="0" x2="0" y2="1"><stop offset="0.000" stop-color="rgb(0,240,255)" stop-opacity="1.00"/><stop offset="0.085" stop-color="rgb(0,240,255)" stop-opacity="1.00"/><stop offset="0.169" stop-color="rgb(0,240,255)" stop-opacity="1.00"/><stop offset="0.254" stop-color="rgb(0,240,255)" stop-opacity="1.00"/><stop offset="0.338" stop-color="rgb(0,240,255)" stop-opacity="1.00"/><stop offset="0.423" stop-color="rgb(0,240,255)" stop-opacity="1.00"/><stop offset="0.507" stop-color="rgb(0,240,255)" stop-opacity="1.00"/><stop offset="0.592" stop-color="rgb(0,240,255)" stop-opacity="1.00"/><stop offset="0.673" stop-color="rgb(0,247,255)" stop-opacity="1.00"/><stop offset="0.755" stop-color="rgb(0,253,255)" stop-opacity="1.00"/><stop offset="0.837" stop-color="rgb(5,255,250)" stop-opacity="1.00"/><stop offset="0.918" stop-color="rgb(12,255,243)" stop-opacity="1.00"/><stop offset="1.000" stop-color="rgb(18,255,237)" stop-opacity="1.00"/></linearGradient><linearGradient id="g112" x1="0" y1="0" x2="0" y2="1"><stop offset="0.000" stop-color="#000000"/><stop offset="0.270" stop-color="#232323"/><stop offset="0.540" stop-color="#3b3b3b"/><stop offset="0.770" stop-color="#3f3f3f"/><stop offset="1.000" stop-color="#434343"/></linearGradient><linearGradient id="g113" x1="0" y1="0" x2="0" y2="1"><stop offset="0.000" stop-color="#000000"/><stop offset="0.263" stop-color="#232323"/><stop offset="0.526" stop-color="#3b3b3b"/><stop offset="0.763" stop-color="#3f3f3f"/><stop offset="1.000" stop-color="#434343"/></linearGradient><linearGradient id="g114" x1="0" y1="0" x2="0" y2="1"><stop offset="0.000" stop-color="#5f5f5f"/><stop offset="0.086" stop-color="#606060"/><stop offset="0.171" stop-color="#616161"/><stop offset="0.257" stop-color="#626262"/><stop offset="0.342" stop-color="#636363"/><stop offset="0.425" stop-color="#6c6c6c"/><stop offset="0.509" stop-color="#767676"/><stop offset="0.592" stop-color="#7f7f7f"/><stop offset="0.685" stop-color="#878787"/><stop offset="0.778" stop-color="#8f8f8f"/><stop offset="0.852" stop-color="#919191"/><stop offset="0.926" stop-color="#929292"/><stop offset="1.000" stop-color="#939393"/></linearGradient><linearGradient id="g115" x1="0" y1="0" x2="0" y2="1"><stop offset="0.000" stop-color="rgb(255,241,0)" stop-opacity="1.00"/><stop offset="0.078" stop-color="rgb(255,224,0)" stop-opacity="1.00"/><stop offset="0.156" stop-color="rgb(255,207,0)" stop-opacity="1.00"/><stop offset="0.239" stop-color="rgb(255,179,0)" stop-opacity="1.00"/><stop offset="0.322" stop-color="rgb(255,151,0)" stop-opacity="1.00"/><stop offset="0.405" stop-color="rgb(255,124,0)" stop-opacity="1.00"/><stop offset="0.488" stop-color="rgb(255,118,0)" stop-opacity="1.00"/><stop offset="0.571" stop-color="rgb(255,112,0)" stop-opacity="1.00"/><stop offset="0.654" stop-color="rgb(255,107,0)" stop-opacity="1.00"/><stop offset="0.747" stop-color="rgb(255,140,0)" stop-opacity="1.00"/><stop offset="0.841" stop-color="rgb(255,174,0)" stop-opacity="1.00"/><stop offset="0.920" stop-color="rgb(255,207,0)" stop-opacity="1.00"/><stop offset="1.000" stop-color="rgb(255,241,0)" stop-opacity="1.00"/></linearGradient><linearGradient id="g116" x1="0" y1="0" x2="0" y2="1"><stop offset="0.000" stop-color="rgb(0,0,143)" stop-opacity="0.00"/><stop offset="0.243" stop-color="rgb(0,0,210)" stop-opacity="0.83"/><stop offset="0.486" stop-color="rgb(0,22,255)" stop-opacity="1.00"/><stop offset="0.743" stop-color="rgb(0,14,255)" stop-opacity="1.00"/><stop offset="1.000" stop-color="rgb(0,6,255)" stop-opacity="1.00"/></linearGradient><linearGradient id="g117" x1="0" y1="0" x2="0" y2="1"><stop offset="0.000" stop-color="rgb(0,0,227)" stop-opacity="1.00"/><stop offset="0.091" stop-color="rgb(0,0,227)" stop-opacity="1.00"/><stop offset="0.182" stop-color="rgb(0,0,227)" stop-opacity="1.00"/><stop offset="0.273" stop-color="rgb(0,0,227)" stop-opacity="1.00"/><stop offset="0.364" stop-color="rgb(0,0,227)" stop-opacity="1.00"/><stop offset="0.455" stop-color="rgb(0,0,227)" stop-opacity="1.00"/><stop offset="0.545" stop-color="rgb(0,0,227)" stop-opacity="1.00"/><stop offset="0.636" stop-color="rgb(0,0,227)" stop-opacity="1.00"/><stop offset="0.727" stop-color="rgb(0,0,227)" stop-opacity="1.00"/><stop offset="0.818" stop-color="rgb(0,0,227)" stop-opacity="1.00"/><stop offset="0.909" stop-color="rgb(0,0,227)" stop-opacity="1.00"/><stop offset="1.000" stop-color="rgb(0,0,227)" stop-opacity="1.00"/></linearGradient><linearGradient id="g118" x1="0" y1="0" x2="0" y2="1"><stop offset="0.000" stop-color="rgb(236,255,19)" stop-opacity="1.00"/><stop offset="0.093" stop-color="rgb(255,124,0)" stop-opacity="1.00"/><stop offset="0.218" stop-color="rgb(255,57,0)" stop-opacity="1.00"/><stop offset="0.301" stop-color="rgb(255,51,0)" stop-opacity="1.00"/><stop offset="0.384" stop-color="rgb(255,45,0)" stop-opacity="1.00"/><stop offset="0.467" stop-color="rgb(255,40,0)" stop-opacity="1.00"/><stop offset="0.567" stop-color="rgb(255,48,0)" stop-opacity="1.00"/><stop offset="0.666" stop-color="rgb(255,57,0)" stop-opacity="1.00"/><stop offset="0.766" stop-color="rgb(255,174,0)" stop-opacity="1.00"/><stop offset="0.841" stop-color="rgb(236,255,19)" stop-opacity="1.00"/><stop offset="0.915" stop-color="rgb(69,255,186)" stop-opacity="1.00"/><stop offset="1.000" stop-color="rgb(2,255,253)" stop-opacity="1.00"/></linearGradient><linearGradient id="g119" x1="0" y1="0" x2="0" y2="1"><stop offset="0.000" stop-color="#000000"/><stop offset="0.140" stop-color="#333333"/><stop offset="0.280" stop-color="#5a5a5a"/><stop offset="0.421" stop-color="#5c5c5c"/><stop offset="0.561" stop-color="#5f5f5f"/><stop offset="0.701" stop-color="#626262"/><stop offset="0.850" stop-color="#626262"/><stop offset="1.000" stop-color="#626262"/></linearGradient><linearGradient id="g120" x1="0" y1="0" x2="0" y2="1"><stop offset="0.000" stop-color="rgb(0,173,255)" stop-opacity="1.00"/><stop offset="0.278" stop-color="rgb(0,181,255)" stop-opacity="1.00"/><stop offset="0.556" stop-color="rgb(0,190,255)" stop-opacity="1.00"/><stop offset="0.873" stop-color="rgb(2,255,253)" stop-opacity="1.00"/><stop offset="1.000" stop-color="rgb(0,0,143)" stop-opacity="0.00"/></linearGradient><linearGradient id="g121" x1="0" y1="0" x2="0" y2="1"><stop offset="0.000" stop-color="#000000"/><stop offset="0.186" stop-color="#808080"/><stop offset="0.395" stop-color="#919191"/><stop offset="0.628" stop-color="#8c8c8c"/><stop offset="0.814" stop-color="#6a6a6a"/><stop offset="1.000" stop-color="#000000"/></linearGradient><linearGradient id="g122" x1="0" y1="0" x2="0" y2="1"><stop offset="0.000" stop-color="#000000"/><stop offset="0.260" stop-color="#626262"/><stop offset="0.584" stop-color="#5e5e5e"/><stop offset="0.792" stop-color="#5a5a5a"/><stop offset="1.000" stop-color="#565656"/></linearGradient><linearGradient id="g123" x1="0" y1="0" x2="0" y2="1"><stop offset="0.000" stop-color="rgb(0,0,143)" stop-opacity="0.00"/><stop offset="0.439" stop-color="rgb(0,223,255)" stop-opacity="1.00"/><stop offset="0.719" stop-color="rgb(0,240,255)" stop-opacity="1.00"/><stop offset="1.000" stop-color="rgb(2,255,253)" stop-opacity="1.00"/></linearGradient><linearGradient id="g124" x1="0" y1="0" x2="0" y2="1"><stop offset="0.000" stop-color="#000000"/><stop offset="0.119" stop-color="#272727"/><stop offset="0.239" stop-color="#494949"/><stop offset="0.338" stop-color="#4c4c4c"/><stop offset="0.438" stop-color="#4f4f4f"/><stop offset="0.537" stop-color="#525252"/><stop offset="0.637" stop-color="#555555"/><stop offset="0.756" stop-color="#5c5c5c"/><stop offset="0.876" stop-color="#626262"/><stop offset="1.000" stop-color="#666666"/></linearGradient><radialGradient id="r20"><stop offset="0" stop-color="#808080"/><stop offset="0.25" stop-color="#737373"/><stop offset="0.5" stop-color="#4c4c4c"/><stop offset="0.75" stop-color="#202020"/><stop offset="1" stop-color="#000"/></radialGradient><linearGradient id="g125" x1="0" y1="0" x2="0" y2="1"><stop offset="0.000" stop-color="#000000"/><stop offset="0.143" stop-color="#555555"/><stop offset="0.229" stop-color="#5c5c5c"/><stop offset="0.315" stop-color="#626262"/><stop offset="0.415" stop-color="#959595"/><stop offset="0.559" stop-color="#aaaaaa"/><stop offset="0.673" stop-color="#cccccc"/><stop offset="0.817" stop-color="#d5d5d5"/><stop offset="0.908" stop-color="#d0d0d0"/><stop offset="1.000" stop-color="#cccccc"/></linearGradient><linearGradient id="g126" x1="0" y1="0" x2="0" y2="1"><stop offset="0.000" stop-color="rgb(0,0,143)" stop-opacity="0.00"/><stop offset="0.333" stop-color="rgb(85,255,170)" stop-opacity="1.00"/><stop offset="0.550" stop-color="rgb(69,255,186)" stop-opacity="1.00"/><stop offset="0.767" stop-color="rgb(52,255,203)" stop-opacity="1.00"/><stop offset="1.000" stop-color="rgb(0,0,143)" stop-opacity="0.00"/></linearGradient><linearGradient id="g127" x1="0" y1="0" x2="0" y2="1"><stop offset="0.000" stop-color="#5c5c5c"/><stop offset="0.093" stop-color="#5e5e5e"/><stop offset="0.187" stop-color="#616161"/><stop offset="0.280" stop-color="#636363"/><stop offset="0.374" stop-color="#6f6f6f"/><stop offset="0.467" stop-color="#7b7b7b"/><stop offset="0.560" stop-color="#898989"/><stop offset="0.654" stop-color="#979797"/><stop offset="0.747" stop-color="#9d9d9d"/><stop offset="0.841" stop-color="#a4a4a4"/><stop offset="0.920" stop-color="#a4a4a4"/><stop offset="1.000" stop-color="#a4a4a4"/></linearGradient><linearGradient id="g128" x1="0" y1="0" x2="0" y2="1"><stop offset="0.000" stop-color="rgb(255,140,0)" stop-opacity="1.00"/><stop offset="0.086" stop-color="rgb(255,128,0)" stop-opacity="1.00"/><stop offset="0.171" stop-color="rgb(255,115,0)" stop-opacity="1.00"/><stop offset="0.257" stop-color="rgb(255,103,0)" stop-opacity="1.00"/><stop offset="0.342" stop-color="rgb(255,90,0)" stop-opacity="1.00"/><stop offset="0.425" stop-color="rgb(255,84,0)" stop-opacity="1.00"/><stop offset="0.509" stop-color="rgb(255,79,0)" stop-opacity="1.00"/><stop offset="0.592" stop-color="rgb(255,73,0)" stop-opacity="1.00"/><stop offset="0.675" stop-color="rgb(255,96,0)" stop-opacity="1.00"/><stop offset="0.758" stop-color="rgb(255,118,0)" stop-opacity="1.00"/><stop offset="0.841" stop-color="rgb(255,140,0)" stop-opacity="1.00"/><stop offset="0.920" stop-color="rgb(255,182,0)" stop-opacity="1.00"/><stop offset="1.000" stop-color="rgb(255,224,0)" stop-opacity="1.00"/></linearGradient><linearGradient id="g129" x1="0" y1="0" x2="0" y2="1"><stop offset="0.000" stop-color="#626262"/><stop offset="0.097" stop-color="#666666"/><stop offset="0.193" stop-color="#6a6a6a"/><stop offset="0.293" stop-color="#828282"/><stop offset="0.380" stop-color="#9f9f9f"/><stop offset="0.464" stop-color="#a0a0a0"/><stop offset="0.548" stop-color="#a1a1a1"/><stop offset="0.632" stop-color="#a2a2a2"/><stop offset="0.716" stop-color="#a3a3a3"/><stop offset="0.811" stop-color="#a1a1a1"/><stop offset="0.905" stop-color="#a0a0a0"/><stop offset="1.000" stop-color="#9f9f9f"/></linearGradient><linearGradient id="g130" x1="0" y1="0" x2="0" y2="1"><stop offset="0.000" stop-color="rgb(0,0,143)" stop-opacity="0.00"/><stop offset="0.148" stop-color="rgb(0,0,182)" stop-opacity="0.49"/><stop offset="0.296" stop-color="rgb(0,0,222)" stop-opacity="0.97"/><stop offset="0.444" stop-color="rgb(0,6,255)" stop-opacity="1.00"/><stop offset="0.583" stop-color="rgb(0,0,231)" stop-opacity="1.00"/><stop offset="0.722" stop-color="rgb(0,0,202)" stop-opacity="0.73"/><stop offset="0.861" stop-color="rgb(0,0,173)" stop-opacity="0.36"/><stop offset="1.000" stop-color="rgb(0,0,143)" stop-opacity="0.00"/></linearGradient><linearGradient id="g131" x1="0" y1="0" x2="0" y2="1"><stop offset="0.000" stop-color="#000000"/><stop offset="0.133" stop-color="#222222"/><stop offset="0.267" stop-color="#404040"/><stop offset="0.489" stop-color="#5e5e5e"/><stop offset="0.611" stop-color="#5e5e5e"/><stop offset="0.733" stop-color="#5e5e5e"/><stop offset="0.911" stop-color="#404040"/><stop offset="1.000" stop-color="#000000"/></linearGradient><linearGradient id="g132" x1="0" y1="0" x2="0" y2="1"><stop offset="0.000" stop-color="#000000"/><stop offset="0.209" stop-color="#414141"/><stop offset="0.360" stop-color="#494949"/><stop offset="0.512" stop-color="#515151"/><stop offset="0.663" stop-color="#4f4f4f"/><stop offset="0.814" stop-color="#4d4d4d"/><stop offset="1.000" stop-color="#000000"/></linearGradient><linearGradient id="g133" x1="0" y1="0" x2="0" y2="1"><stop offset="0.000" stop-color="rgb(0,56,255)" stop-opacity="1.00"/><stop offset="0.086" stop-color="rgb(0,68,255)" stop-opacity="1.00"/><stop offset="0.171" stop-color="rgb(0,81,255)" stop-opacity="1.00"/><stop offset="0.257" stop-color="rgb(0,93,255)" stop-opacity="1.00"/><stop offset="0.342" stop-color="rgb(0,106,255)" stop-opacity="1.00"/><stop offset="0.425" stop-color="rgb(0,145,255)" stop-opacity="1.00"/><stop offset="0.509" stop-color="rgb(0,184,255)" stop-opacity="1.00"/><stop offset="0.592" stop-color="rgb(0,223,255)" stop-opacity="1.00"/><stop offset="0.673" stop-color="rgb(0,230,255)" stop-opacity="1.00"/><stop offset="0.755" stop-color="rgb(0,237,255)" stop-opacity="1.00"/><stop offset="0.837" stop-color="rgb(0,243,255)" stop-opacity="1.00"/><stop offset="0.918" stop-color="rgb(0,250,255)" stop-opacity="1.00"/><stop offset="1.000" stop-color="rgb(2,255,253)" stop-opacity="1.00"/></linearGradient><linearGradient id="g134" x1="0" y1="0" x2="0" y2="1"><stop offset="0.000" stop-color="#000000"/><stop offset="0.078" stop-color="#494949"/><stop offset="0.182" stop-color="#626262"/><stop offset="0.247" stop-color="#8c8c8c"/><stop offset="0.352" stop-color="#a2a2a2"/><stop offset="0.482" stop-color="#999999"/><stop offset="0.573" stop-color="#7b7b7b"/><stop offset="0.703" stop-color="#6a6a6a"/><stop offset="0.833" stop-color="#6f6f6f"/><stop offset="0.924" stop-color="#959595"/><stop offset="1.000" stop-color="#9d9d9d"/></linearGradient><linearGradient id="g135" x1="0" y1="0" x2="0" y2="1"><stop offset="0.000" stop-color="#000000"/><stop offset="0.357" stop-color="#636363"/><stop offset="0.571" stop-color="#616161"/><stop offset="0.786" stop-color="#5f5f5f"/><stop offset="1.000" stop-color="#000000"/></linearGradient>
</defs>
<rect width="1515" height="851" fill="#fff"/>
<text x="710.2" y="9.2" text-anchor="middle" font-weight="bold" font-size="12.5" xml:space="preserve">VELIES Wavelet Spectra on 05 August    2012</text>
<text x="334.0" y="36.2" text-anchor="middle" font-weight="bold" font-size="12.5">Filtered Series (cutoff at 7.5 mHz)</text>
<text x="1127.3" y="36.2" text-anchor="middle" font-weight="bold" font-size="12.5">Pc4 Wavelet Power</text>
<text x="334.0" y="847.9" text-anchor="middle" font-weight="bold" font-size="12.5">UT (hours)</text>
<text x="1127.3" y="847.9" text-anchor="middle" font-weight="bold" font-size="12.5">UT (hours)</text>
<path d="M33.0 46.0H635.5V250.45H33.0ZM108.3 250.45v-6.5M108.3 46.00v6.5M183.6 250.45v-6.5M183.6 46.00v6.5M258.9 250.45v-6.5M258.9 46.00v6.5M334.2 250.45v-6.5M334.2 46.00v6.5M409.6 250.45v-6.5M409.6 46.00v6.5M484.9 250.45v-6.5M484.9 46.00v6.5M560.2 250.45v-6.5M560.2 46.00v6.5M33.0 97.11h6.5M635.5 97.11h-6.5M33.0 148.22h6.5M635.5 148.22h-6.5M33.0 199.34h6.5M635.5 199.34h-6.5" fill="none" stroke="#8e8e8e" stroke-width="1"/>
<g clip-path="url(#cl0)">
<path d="M33.0 145.1V153.4M34.0 144.9V150.4M35.0 144.2V150.7M36.0 144.8V151.2M37.0 144.4V151.7M38.0 140.5V156.3M39.0 142.6V154.2M40.0 139.2V155.6M41.0 142.1V150.7M42.0 143.3V151.6M43.0 145.0V151.2M44.0 144.6V154.2M45.0 145.0V152.7M46.0 144.9V151.4M47.0 144.7V152.8M48.0 144.8V153.7M49.0 142.9V151.2M50.0 142.1V152.8M51.0 143.8V149.7M52.0 145.2V150.8M53.0 143.1V152.3M54.0 144.7V152.0M55.0 144.5V150.5M56.0 144.7V152.0M57.0 143.3V151.2M58.0 140.5V153.5M59.0 143.4V156.6M60.0 143.9V152.9M61.0 144.4V152.9M62.0 145.0V151.1M63.0 144.1V149.5M64.0 145.2V151.0M65.0 145.7V149.8M66.0 144.7V152.7M67.0 145.4V150.1M68.0 145.3V150.2M69.0 145.0V149.5M70.0 144.7V151.6M71.0 142.3V153.9M72.0 143.7V151.4M73.0 141.6V152.9M74.0 143.9V152.3M75.0 144.3V151.0M76.0 140.2V150.8M77.0 145.1V152.9M78.0 144.2V149.6M79.0 143.9V150.1M80.0 142.7V151.7M81.0 143.3V152.2M82.0 143.3V157.9M83.0 139.5V154.6M84.0 139.8V157.5M85.0 143.6V151.8M86.0 142.9V152.5M87.0 144.4V152.1M88.0 144.5V151.0M89.0 144.6V155.4M90.0 144.0V152.0M91.0 144.7V151.7M92.0 145.5V152.9M93.0 145.1V152.5M94.0 143.4V149.8M95.0 145.8V151.8M96.0 145.9V150.7M97.0 144.4V152.4M98.0 145.1V151.6M99.0 144.8V151.3M100.0 142.1V152.1M101.0 144.9V150.0M102.0 145.3V149.8M103.0 145.0V149.9M104.0 145.5V153.2M105.0 145.3V150.4M106.0 145.1V153.6M107.0 142.8V150.5M108.0 143.7V152.9M109.0 145.2V150.4M110.0 143.5V150.7M111.0 145.3V151.6M112.0 145.2V150.2M113.0 144.6V152.2M114.0 142.6V151.1M115.0 143.9V151.0M116.0 143.6V152.6M117.0 143.9V155.3M118.0 142.7V152.0M119.0 140.2V155.0M120.0 142.7V153.0M121.0 138.0V157.5M122.0 139.5V153.4M123.0 138.5V157.4M124.0 140.7V158.1M125.0 140.0V158.5M126.0 143.3V153.8M127.0 143.3V153.2M128.0 137.8V156.5M129.0 142.4V151.8M130.0 143.5V158.0M131.0 140.8V152.8M132.0 143.0V152.9M133.0 136.0V153.2M134.0 143.4V154.2M135.0 142.7V154.3M136.0 143.6V152.7M137.0 141.8V156.8M138.0 143.9V151.7M139.0 143.3V152.6M140.0 133.6V153.4M141.0 137.7V153.9M142.0 140.9V154.3M143.0 139.2V154.2M144.0 141.3V155.0M145.0 135.5V156.1M146.0 139.3V154.6M147.0 133.7V153.1M148.0 139.7V155.5M149.0 142.2V154.3M150.0 142.7V153.3M151.0 141.2V157.1M152.0 138.2V153.6M153.0 142.8V152.2M154.0 140.8V151.1M155.0 143.9V155.9M156.0 142.0V150.9M157.0 144.2V151.2M158.0 142.0V152.2M159.0 143.9V150.9M160.0 140.7V150.8M161.0 143.2V150.9M162.0 144.0V153.1M163.0 141.6V151.2M164.0 139.7V151.6M165.0 142.0V154.0M166.0 143.6V151.8M167.0 144.3V154.8M168.0 142.1V150.8M169.0 144.4V155.2M170.0 141.2V156.1M171.0 143.4V153.2M172.0 138.5V151.6M173.0 140.0V150.9M174.0 144.5V150.7M175.0 144.5V151.1M176.0 143.2V154.8M177.0 135.9V153.0M178.0 142.0V152.8M179.0 143.4V151.9M180.0 143.7V152.1M181.0 141.4V155.8M182.0 141.9V153.8M183.0 144.8V150.0M184.0 145.0V150.0M185.0 145.7V151.2M186.0 145.4V149.8M187.0 145.1V152.7M188.0 140.3V152.4M189.0 143.5V155.9M190.0 141.7V151.5M191.0 142.1V153.4M192.0 142.8V152.1M193.0 143.1V155.4M194.0 142.1V151.8M195.0 143.3V153.0M196.0 143.8V151.6M197.0 140.6V154.2M198.0 144.2V150.1M199.0 144.5V150.1M200.0 145.4V149.9M201.0 143.8V152.2M202.0 143.8V150.5M203.0 141.4V150.4M204.0 143.5V155.6M205.0 142.6V151.2M206.0 144.0V153.4M207.0 139.2V151.5M208.0 142.4V153.0M209.0 144.0V150.2M210.0 143.2V149.9M211.0 142.6V150.6M212.0 145.2V149.8M213.0 145.8V151.6M214.0 143.5V149.7M215.0 145.1V150.2M216.0 144.8V153.4M217.0 143.8V150.5M218.0 143.8V151.5M219.0 139.4V152.1M220.0 143.6V153.4M221.0 143.9V151.6M222.0 143.0V151.2M223.0 144.5V150.9M224.0 143.2V150.0M225.0 145.8V149.6M226.0 145.9V150.5M227.0 144.4V152.2M228.0 142.6V151.3M229.0 145.4V150.4M230.0 145.6V150.8M231.0 145.9V150.7M232.0 145.9V151.0M233.0 146.0V149.5M234.0 146.0V150.0M235.0 142.1V150.1M236.0 142.6V155.9M237.0 144.1V152.0M238.0 144.5V154.7M239.0 145.1V150.1M240.0 143.3V149.7M241.0 144.8V152.9M242.0 145.1V150.3M243.0 143.5V153.0M244.0 142.4V152.2M245.0 143.7V153.5M246.0 145.2V151.6M247.0 144.9V150.4M248.0 145.6V153.1M249.0 144.5V150.9M250.0 145.3V152.0M251.0 144.1V151.7M252.0 143.8V151.2M253.0 144.0V150.7M254.0 145.3V150.8M255.0 145.7V149.6M256.0 145.4V151.7M257.0 144.9V154.9M258.0 144.4V151.1M259.0 143.9V150.9M260.0 145.6V150.4M261.0 145.4V151.1M262.0 144.8V150.6M263.0 142.7V150.0M264.0 144.6V150.4M265.0 144.3V153.4M266.0 145.5V150.0M267.0 145.0V151.5M268.0 142.1V153.1M269.0 142.0V154.3M270.0 144.2V152.4M271.0 139.6V153.3M272.0 134.7V158.1M273.0 138.6V160.9M274.0 141.1V154.8M275.0 133.0V154.8M276.0 135.9V154.4M277.0 140.9V164.0M278.0 134.8V153.6M279.0 136.8V157.5M280.0 138.3V154.9M281.0 133.5V155.7M282.0 141.0V154.1M283.0 138.1V155.9M284.0 140.1V151.6M285.0 142.3V150.6M286.0 144.0V150.4M287.0 144.8V150.5M288.0 141.8V150.7M289.0 144.2V151.4M290.0 141.6V151.8M291.0 142.1V153.3M292.0 141.1V157.3M293.0 141.7V152.1M294.0 142.0V152.0M295.0 138.4V153.1M296.0 144.1V155.3M297.0 141.5V152.8M298.0 143.9V151.4M299.0 142.6V152.8M300.0 137.8V155.8M301.0 141.3V160.8M302.0 142.5V153.8M303.0 144.5V153.0M304.0 144.2V151.5M305.0 141.1V150.8M306.0 141.8V150.9M307.0 143.8V152.5M308.0 143.6V152.9M309.0 140.7V152.3M310.0 143.7V152.8M311.0 142.8V150.9M312.0 144.0V152.4M313.0 142.4V154.2M314.0 142.9V150.3M315.0 144.2V150.3M316.0 142.2V153.8M317.0 143.4V151.0M318.0 144.9V152.3M319.0 145.2V149.9M320.0 142.4V150.3M321.0 145.6V152.5M322.0 144.5V150.2M323.0 140.5V152.9M324.0 141.6V152.8M325.0 142.2V151.4M326.0 144.9V150.9M327.0 143.4V153.0M328.0 144.1V153.5M329.0 144.2V152.2M330.0 144.0V151.6M331.0 143.2V152.3M332.0 139.3V152.1M333.0 144.4V153.5M334.0 144.5V151.5M335.0 144.3V151.9M336.0 141.7V155.0M337.0 142.6V151.6M338.0 142.9V155.1M339.0 138.5V157.2M340.0 141.9V157.9M341.0 143.6V151.9M342.0 141.0V152.5M343.0 142.2V153.4M344.0 143.4V151.7M345.0 143.6V151.8M346.0 140.7V152.3M347.0 142.6V155.0M348.0 136.7V153.3M349.0 140.3V152.3M350.0 144.0V151.4M351.0 144.1V151.2M352.0 144.6V151.8M353.0 144.4V152.4M354.0 144.6V152.2M355.0 144.0V151.5M356.0 142.7V152.4M357.0 141.9V156.9M358.0 138.7V156.1M359.0 142.8V152.8M360.0 141.5V160.0M361.0 142.3V157.2M362.0 141.2V156.4M363.0 144.7V152.6M364.0 144.0V154.7M365.0 143.7V152.5M366.0 143.7V150.8M367.0 144.6V154.5M368.0 143.1V152.8M369.0 139.6V152.9M370.0 143.2V152.2M371.0 143.1V152.8M372.0 142.7V160.1M373.0 139.5V152.0M374.0 143.7V151.5M375.0 143.0V150.7M376.0 140.1V150.8M377.0 140.8V153.3M378.0 139.9V152.8M379.0 141.9V155.9M380.0 143.1V152.2M381.0 137.7V152.1M382.0 143.0V154.0M383.0 143.8V151.6M384.0 143.6V151.5M385.0 140.4V151.6M386.0 142.4V153.9M387.0 141.7V154.4M388.0 138.6V157.4M389.0 139.3V155.7M390.0 143.4V155.8M391.0 142.5V154.1M392.0 143.5V152.8M393.0 143.3V150.7M394.0 144.0V155.5M395.0 143.3V152.2M396.0 140.0V152.6M397.0 137.7V152.5M398.0 143.7V151.2M399.0 145.5V150.2M400.0 144.8V151.7M401.0 142.4V150.9M402.0 139.7V151.8M403.0 143.8V151.0M404.0 142.3V151.6M405.0 145.6V150.4M406.0 144.7V151.6M407.0 143.3V152.2M408.0 143.8V157.0M409.0 142.7V151.4M410.0 144.1V150.9M411.0 144.1V150.8M412.0 144.9V151.4M413.0 143.8V152.5M414.0 145.6V150.5M415.0 145.0V151.5M416.0 145.8V149.7M417.0 144.8V150.8M418.0 142.8V150.0M419.0 142.2V151.6M420.0 144.1V155.2M421.0 144.4V150.7M422.0 142.9V151.3M423.0 145.5V151.5M424.0 145.9V150.9M425.0 144.3V150.8M426.0 142.8V149.9M427.0 145.2V152.1M428.0 140.8V152.2M429.0 144.5V152.4M430.0 139.3V151.0M431.0 143.4V152.7M432.0 142.9V158.6M433.0 142.5V155.2M434.0 142.5V151.7M435.0 142.9V151.9M436.0 144.1V151.3M437.0 144.4V153.4M438.0 141.9V155.2M439.0 138.5V154.5M440.0 138.0V154.5M441.0 138.0V155.4M442.0 141.2V153.2M443.0 138.4V154.0M444.0 142.9V152.3M445.0 142.5V153.6M446.0 139.6V158.3M447.0 142.4V159.4M448.0 137.7V153.2M449.0 141.8V153.6M450.0 138.0V154.0M451.0 141.1V164.2M452.0 131.8V161.1M453.0 131.5V157.4M454.0 140.0V158.1M455.0 141.2V154.4M456.0 139.8V156.0M457.0 137.9V154.4M458.0 136.0V154.0M459.0 140.3V154.3M460.0 132.5V156.0M461.0 132.1V157.9M462.0 136.4V155.8M463.0 141.8V163.1M464.0 132.2V162.7M465.0 141.8V159.1M466.0 139.4V153.5M467.0 139.7V155.1M468.0 136.4V152.8M469.0 138.1V156.7M470.0 138.0V152.5M471.0 136.4V153.7M472.0 142.2V153.7M473.0 139.4V154.7M474.0 140.0V157.0M475.0 139.3V155.1M476.0 139.1V158.0M477.0 137.9V160.5M478.0 139.4V165.3M479.0 137.1V154.4M480.0 141.2V154.5M481.0 141.4V154.0M482.0 141.9V153.5M483.0 142.1V153.7M484.0 142.7V152.9M485.0 142.4V152.3M486.0 141.0V151.9M487.0 142.9V154.5M488.0 143.7V151.2M489.0 145.4V150.1M490.0 145.5V149.9M491.0 143.2V149.7M492.0 145.8V150.5M493.0 144.0V152.3M494.0 145.2V149.7M495.0 143.3V149.7M496.0 145.0V152.1M497.0 141.0V152.6M498.0 141.5V153.8M499.0 140.0V154.4M500.0 139.0V155.8M501.0 143.1V152.3M502.0 142.0V152.7M503.0 142.9V152.6M504.0 135.4V159.0M505.0 139.3V159.4M506.0 139.9V154.2M507.0 144.6V151.8M508.0 143.8V152.4M509.0 140.1V154.5M510.0 142.8V153.9M511.0 143.4V157.9M512.0 144.1V151.9M513.0 142.9V151.1M514.0 144.2V154.4M515.0 141.8V155.1M516.0 143.8V151.8M517.0 143.3V154.2M518.0 143.9V150.9M519.0 142.5V152.4M520.0 143.3V154.3M521.0 143.6V151.8M522.0 143.0V152.5M523.0 139.7V151.6M524.0 142.4V150.2M525.0 143.7V152.4M526.0 143.0V152.9M527.0 144.2V150.8M528.0 144.3V150.6M529.0 143.9V151.3M530.0 139.3V151.1M531.0 143.4V151.4M532.0 140.5V151.4M533.0 141.5V153.6M534.0 141.1V151.9M535.0 143.8V153.0M536.0 139.4V151.4M537.0 144.2V151.3M538.0 144.3V151.6M539.0 144.3V153.1M540.0 139.0V156.4M541.0 144.1V151.5M542.0 138.5V151.8M543.0 141.0V154.7M544.0 143.3V157.9M545.0 142.4V152.9M546.0 137.8V152.9M547.0 141.7V152.8M548.0 141.5V152.4M549.0 143.9V152.7M550.0 140.1V154.8M551.0 140.9V153.5M552.0 143.4V155.8M553.0 143.4V152.7M554.0 136.6V155.1M555.0 142.1V155.1M556.0 140.9V152.0M557.0 143.2V151.9M558.0 138.9V152.5M559.0 142.6V152.0M560.0 144.7V151.5M561.0 142.9V150.2M562.0 144.9V152.0M563.0 143.5V151.6M564.0 138.7V152.9M565.0 138.5V156.7M566.0 138.8V152.3M567.0 143.1V153.8M568.0 142.5V158.0M569.0 140.7V156.5M570.0 141.9V153.4M571.0 142.9V152.4M572.0 140.2V152.6M573.0 135.9V160.4M574.0 142.7V153.7M575.0 142.6V152.2M576.0 143.1V151.9M577.0 140.0V156.2M578.0 143.6V151.9M579.0 141.3V152.6M580.0 143.9V151.8M581.0 142.0V156.8M582.0 141.5V151.1M583.0 144.1V150.6M584.0 145.5V150.9M585.0 144.4V151.6M586.0 144.4V150.1M587.0 141.0V152.9M588.0 140.9V153.8M589.0 144.3V153.3M590.0 143.0V151.9M591.0 142.8V152.3M592.0 142.9V152.1M593.0 143.6V153.3M594.0 139.2V152.5M595.0 143.9V151.6M596.0 144.0V156.0M597.0 143.7V151.8M598.0 140.8V151.1M599.0 144.4V151.4M600.0 143.3V153.3M601.0 144.6V152.8M602.0 142.6V153.3M603.0 138.4V151.7M604.0 143.5V152.2M605.0 137.8V152.1M606.0 142.3V152.7M607.0 140.1V154.4M608.0 143.4V151.9M609.0 141.6V155.6M610.0 139.9V157.4M611.0 141.8V161.4M612.0 141.5V153.6M613.0 135.9V153.0M614.0 136.8V152.2M615.0 144.0V156.0M616.0 140.4V152.3M617.0 141.3V154.7M618.0 134.0V157.8M619.0 136.8V152.9M620.0 143.2V152.2M621.0 137.9V156.6M622.0 142.1V154.2M623.0 140.2V155.1M624.0 137.4V162.1M625.0 134.3V164.3M626.0 139.8V160.4M627.0 139.2V157.0M628.0 141.2V158.0M629.0 136.9V153.5M630.0 143.1V155.2M631.0 141.2V153.1M632.0 139.2V158.0M633.0 142.6V155.2M634.0 142.7V151.9M635.0 144.4V151.3" stroke="#00f" stroke-opacity="0.3" stroke-width="0.6" fill="none"/><path d="M33.0 144.7V149.5M33.5 144.7V149.5M34.0 145.4V150.5M34.5 143.8V149.8M35.0 145.2V150.8M35.5 146.2V151.6M36.0 144.0V149.2M36.5 146.1V151.0M37.0 143.1V151.5M37.5 145.3V150.4M38.0 142.9V151.1M38.5 143.9V152.3M39.0 142.3V153.7M39.5 142.8V150.6M40.0 142.9V150.8M40.5 143.5V151.0M41.0 145.7V150.2M41.5 144.5V151.6M42.0 145.1V149.7M42.5 145.4V151.2M43.0 145.1V150.5M43.5 145.0V150.1M44.0 146.2V150.5M44.5 145.2V151.2M45.0 144.7V151.5M45.5 145.5V150.0M46.0 144.9V149.8M46.5 145.9V149.7M47.0 144.5V151.6M47.5 143.6V149.8M48.0 144.1V149.9M48.5 144.3V149.2M49.0 146.1V150.4M49.5 146.4V150.3M50.0 146.2V150.6M50.5 145.2V149.4M51.0 146.7V150.0M51.5 146.4V149.7M52.0 144.8V150.1M52.5 144.5V150.6M53.0 144.3V150.7M53.5 145.2V149.1M54.0 143.8V150.9M54.5 144.6V151.0M55.0 144.3V149.8M55.5 143.7V150.7M56.0 144.3V151.6M56.5 144.8V149.7M57.0 144.9V150.9M57.5 143.9V150.2M58.0 143.7V150.6M58.5 143.0V150.8M59.0 142.7V152.0M59.5 144.3V150.2M60.0 143.5V151.2M60.5 142.6V152.0M61.0 144.2V150.4M61.5 145.9V149.7M62.0 146.5V149.4M62.5 145.5V149.7M63.0 146.2V149.9M63.5 146.4V149.4M64.0 144.9V149.3M64.5 145.0V148.8M65.0 146.1V150.3M65.5 145.2V149.4M66.0 146.4V150.3M66.5 146.0V149.4M67.0 145.9V149.5M67.5 145.7V150.3M68.0 146.3V148.7M68.5 146.7V149.6M69.0 145.2V148.7M69.5 145.3V149.7M70.0 145.1V150.0M70.5 144.5V151.4M71.0 144.1V151.0M71.5 142.4V150.8M72.0 142.3V149.8M72.5 144.2V151.7M73.0 145.1V150.4M73.5 143.3V150.6M74.0 143.0V152.5M74.5 142.9V152.0M75.0 142.8V151.5M75.5 144.2V149.8M76.0 144.8V151.0M76.5 144.4V151.1M77.0 146.4V149.8M77.5 146.0V150.3M78.0 145.9V148.8M78.5 145.4V149.4M79.0 144.2V150.9M79.5 144.8V149.3M80.0 144.8V151.0M80.5 144.8V152.9M81.0 144.1V153.5M81.5 143.8V153.6M82.0 145.0V151.7M82.5 142.0V151.6M83.0 142.5V154.2M83.5 142.7V150.3M84.0 142.9V150.6M84.5 142.6V154.0M85.0 141.9V152.3M85.5 142.3V151.0M86.0 142.8V151.4M86.5 144.1V149.8M87.0 144.3V152.0M87.5 143.1V151.4M88.0 144.3V151.8M88.5 145.6V150.9M89.0 146.0V151.4M89.5 144.0V151.6M90.0 143.5V150.5M90.5 143.5V150.2M91.0 144.6V151.2M91.5 145.5V149.1M92.0 145.7V149.4M92.5 145.1V149.2M93.0 145.2V148.9M93.5 146.6V150.4M94.0 146.7V148.7M94.5 146.4V149.2M95.0 146.1V149.5M95.5 145.2V148.7M96.0 145.2V149.9M96.5 146.2V150.0M97.0 145.0V149.6M97.5 144.9V149.6M98.0 145.0V150.4M98.5 145.5V151.3M99.0 143.6V152.1M99.5 145.8V150.7M100.0 145.0V150.4M100.5 146.1V150.4M101.0 144.8V149.4M101.5 145.2V149.9M102.0 145.7V149.6M102.5 145.6V150.3M103.0 146.0V150.0M103.5 146.1V149.1M104.0 145.7V149.6M104.5 146.3V149.8M105.0 146.3V149.7M105.5 144.9V149.4M106.0 144.4V149.7M106.5 146.4V149.7M107.0 145.4V149.9M107.5 145.2V149.3M108.0 145.4V151.4M108.5 145.6V149.6M109.0 144.3V150.6M109.5 144.8V151.0M110.0 144.5V149.6M110.5 146.2V150.2M111.0 146.3V150.4M111.5 144.9V149.8M112.0 145.6V149.5M112.5 145.5V150.9M113.0 143.4V151.8M113.5 144.9V150.3M114.0 144.5V149.9M114.5 144.2V151.6M115.0 144.9V149.6M115.5 145.2V149.4M116.0 143.9V150.0M116.5 143.5V151.4M117.0 143.3V152.3M117.5 144.7V152.8M118.0 145.0V149.6M118.5 143.1V152.0M119.0 141.6V151.3M119.5 142.5V152.3M120.0 142.7V151.3M120.5 145.0V150.6M121.0 143.2V150.7M121.5 143.9V153.0M122.0 142.6V153.2M122.5 142.6V150.2M123.0 145.7V151.9M123.5 144.2V153.3M124.0 145.5V150.9M124.5 143.7V151.3M125.0 143.9V152.4M125.5 144.9V150.6M126.0 145.0V151.3M126.5 143.4V151.5M127.0 144.2V150.2M127.5 143.9V153.2M128.0 143.1V150.9M128.5 145.0V149.9M129.0 142.6V151.0M129.5 142.3V153.0M130.0 142.3V154.0M130.5 145.4V152.4M131.0 141.8V151.6M131.5 143.9V153.5M132.0 144.5V150.6M132.5 143.9V152.5M133.0 142.0V150.5M133.5 144.7V151.1M134.0 144.1V154.1M134.5 141.9V153.4M135.0 142.2V152.6M135.5 143.3V151.9M136.0 143.3V153.5M136.5 141.9V151.3M137.0 144.9V152.8M137.5 145.6V152.8M138.0 143.9V152.8M138.5 143.9V150.6M139.0 141.6V153.3M139.5 141.2V150.7M140.0 140.1V150.8M140.5 140.8V153.2M141.0 143.0V154.4M141.5 144.0V156.5M142.0 140.5V155.2M142.5 139.7V153.2M143.0 140.4V152.2M143.5 141.9V156.4M144.0 144.3V153.3M144.5 143.3V153.2M145.0 142.8V155.4M145.5 142.8V152.7M146.0 139.7V150.6M146.5 141.7V155.7M147.0 141.6V154.1M147.5 139.8V151.5M148.0 144.7V151.2M148.5 141.3V150.9M149.0 140.8V150.3M149.5 142.9V150.7M150.0 143.9V153.8M150.5 143.2V154.0M151.0 143.2V151.7M151.5 142.3V152.8M152.0 145.4V150.8M152.5 145.0V149.9M153.0 142.9V152.8M153.5 145.1V150.7M154.0 144.5V149.6M154.5 145.7V150.6M155.0 144.5V149.4M155.5 144.2V150.5M156.0 144.6V150.9M156.5 144.8V152.0M157.0 143.0V151.9M157.5 143.7V149.4M158.0 146.1V152.3M158.5 143.0V152.2M159.0 145.0V150.7M159.5 143.6V151.3M160.0 143.4V150.9M160.5 143.8V150.5M161.0 143.8V150.5M161.5 144.8V149.6M162.0 145.0V150.0M162.5 145.5V151.0M163.0 145.4V149.4M163.5 142.6V152.6M164.0 145.4V150.8M164.5 145.0V153.8M165.0 144.6V150.7M165.5 141.8V152.7M166.0 142.4V152.5M166.5 145.0V150.0M167.0 144.4V152.3M167.5 144.5V151.3M168.0 143.4V150.3M168.5 144.6V151.0M169.0 142.9V151.6M169.5 144.8V152.7M170.0 143.5V153.6M170.5 144.8V152.1M171.0 143.8V152.0M171.5 144.4V151.2M172.0 142.2V153.0M172.5 143.8V152.8M173.0 145.8V152.0M173.5 144.6V151.3M174.0 143.7V151.3M174.5 144.6V150.6M175.0 143.3V149.9M175.5 143.5V150.5M176.0 144.7V151.0M176.5 142.1V151.0M177.0 143.8V154.1M177.5 141.9V151.7M178.0 141.9V150.0M178.5 141.8V154.0M179.0 142.6V153.8M179.5 143.8V151.3M180.0 144.9V151.1M180.5 143.6V152.6M181.0 145.7V150.5M181.5 145.4V151.5M182.0 145.4V149.4M182.5 146.4V149.1M183.0 145.3V149.6M183.5 146.3V149.8M184.0 146.1V150.3M184.5 146.3V150.5M185.0 144.7V149.3M185.5 146.1V148.9M186.0 144.8V149.8M186.5 145.6V149.0M187.0 145.7V150.2M187.5 143.4V150.8M188.0 144.2V150.6M188.5 142.5V153.6M189.0 142.3V153.1M189.5 143.6V151.1M190.0 143.4V149.8M190.5 143.7V152.0M191.0 146.0V151.9M191.5 145.0V150.1M192.0 145.8V150.7M192.5 144.5V151.0M193.0 145.3V152.2M193.5 144.2V149.6M194.0 144.8V150.5M194.5 143.3V153.9M195.0 143.4V154.1M195.5 141.6V153.7M196.0 145.0V152.6M196.5 144.9V152.0M197.0 145.9V150.6M197.5 145.3V149.3M198.0 145.0V150.5M198.5 146.5V149.1M199.0 144.7V149.9M199.5 144.9V149.8M200.0 145.2V150.0M200.5 146.1V149.2M201.0 146.0V149.3M201.5 146.2V150.0M202.0 145.3V149.2M202.5 145.5V150.8M203.0 143.6V149.6M203.5 144.5V151.3M204.0 144.0V151.0M204.5 143.2V150.1M205.0 144.1V152.2M205.5 144.5V151.1M206.0 143.4V149.7M206.5 144.7V151.4M207.0 144.8V152.6M207.5 143.4V150.4M208.0 143.4V150.0M208.5 145.4V150.4M209.0 145.9V149.5M209.5 144.8V150.8M210.0 146.2V150.6M210.5 145.3V148.9M211.0 146.6V149.4M211.5 145.4V149.0M212.0 145.9V149.2M212.5 146.8V149.2M213.0 146.0V149.5M213.5 145.9V149.4M214.0 145.8V150.1M214.5 145.5V149.3M215.0 145.2V150.3M215.5 144.8V149.0M216.0 145.9V150.7M216.5 145.6V150.4M217.0 144.2V150.7M217.5 144.6V151.1M218.0 145.0V152.1M218.5 145.2V152.4M219.0 145.3V150.0M219.5 141.5V151.2M220.0 143.1V153.6M220.5 145.0V151.6M221.0 143.4V149.8M221.5 143.5V151.7M222.0 144.2V150.8M222.5 145.5V151.4M223.0 143.8V151.0M223.5 145.9V150.3M224.0 145.0V149.0M224.5 146.0V148.8M225.0 146.7V148.8M225.5 146.5V149.6M226.0 146.1V149.5M226.5 145.6V149.4M227.0 145.3V149.4M227.5 145.1V150.1M228.0 145.2V149.0M228.5 144.9V149.9M229.0 144.9V149.0M229.5 146.2V149.3M230.0 145.0V149.1M230.5 146.2V148.6M231.0 145.1V149.7M231.5 145.2V149.3M232.0 146.0V149.8M232.5 146.8V149.3M233.0 145.2V148.7M233.5 145.4V149.2M234.0 146.8V148.9M234.5 146.6V149.9M235.0 144.7V150.3M235.5 145.1V149.8M236.0 145.7V151.2M236.5 143.1V150.9M237.0 144.6V153.2M237.5 144.5V151.6M238.0 143.3V150.0M238.5 144.3V149.3M239.0 146.4V151.1M239.5 145.8V150.5M240.0 145.9V149.2M240.5 145.5V149.3M241.0 145.6V149.1M241.5 146.1V150.7M242.0 144.5V150.2M242.5 145.3V150.1M243.0 144.3V150.8M243.5 144.5V150.2M244.0 145.4V151.4M244.5 145.5V149.3M245.0 146.1V149.4M245.5 144.2V149.9M246.0 145.8V150.8M246.5 146.3V150.9M247.0 145.8V149.0M247.5 145.3V149.1M248.0 146.5V149.6M248.5 145.5V149.6M249.0 146.0V149.7M249.5 146.4V148.8M250.0 145.5V150.2M250.5 144.9V149.3M251.0 144.4V151.2M251.5 145.7V149.8M252.0 142.6V152.3M252.5 143.4V152.5M253.0 143.5V151.9M253.5 144.4V150.2M254.0 145.1V150.4M254.5 146.7V148.8M255.0 146.2V149.3M255.5 146.6V148.7M256.0 146.5V149.2M256.5 145.3V150.9M257.0 143.7V151.7M257.5 144.9V151.8M258.0 144.6V149.4M258.5 146.0V150.0M259.0 146.2V150.2M259.5 145.7V150.1M260.0 146.0V149.0M260.5 145.8V148.7M261.0 146.2V150.0M261.5 145.9V149.6M262.0 146.6V150.2M262.5 144.6V149.1M263.0 144.9V149.6M263.5 145.8V149.1M264.0 145.2V149.0M264.5 145.4V149.6M265.0 145.4V149.9M265.5 146.0V149.9M266.0 145.9V148.9M266.5 146.1V150.5M267.0 144.6V150.3M267.5 145.1V149.5M268.0 146.0V151.1M268.5 146.3V150.7M269.0 144.6V150.2M269.5 145.4V150.8M270.0 145.0V149.7M270.5 145.3V150.0M271.0 143.3V149.7M271.5 145.1V153.0M272.0 141.9V154.6M272.5 141.0V155.8M273.0 140.6V157.1M273.5 141.9V151.0M274.0 142.6V155.5M274.5 139.1V153.2M275.0 144.3V153.0M275.5 144.0V153.3M276.0 140.4V156.8M276.5 139.3V152.1M277.0 138.3V154.2M277.5 143.4V152.5M278.0 139.4V155.5M278.5 144.6V155.2M279.0 141.3V150.5M279.5 145.1V152.8M280.0 141.6V151.9M280.5 140.3V152.2M281.0 139.6V154.7M281.5 141.3V156.0M282.0 144.7V153.3M282.5 144.5V150.5M283.0 144.2V153.4M283.5 141.9V152.0M284.0 145.0V149.6M284.5 144.4V151.2M285.0 144.1V149.8M285.5 144.9V151.0M286.0 145.1V149.8M286.5 143.8V151.4M287.0 144.2V151.8M287.5 144.9V149.5M288.0 144.4V151.5M288.5 143.5V151.3M289.0 143.3V152.1M289.5 144.8V151.2M290.0 141.8V150.9M290.5 143.0V150.2M291.0 142.0V153.9M291.5 144.8V152.1M292.0 144.9V153.6M292.5 143.0V152.7M293.0 142.1V153.8M293.5 144.8V150.6M294.0 145.1V149.8M294.5 143.3V150.9M295.0 142.4V150.9M295.5 145.8V151.6M296.0 143.7V150.2M296.5 143.4V151.1M297.0 145.5V151.1M297.5 143.5V151.0M298.0 143.8V151.6M298.5 143.1V152.1M299.0 144.1V151.6M299.5 141.7V153.8M300.0 141.0V151.8M300.5 143.4V152.5M301.0 140.4V155.1M301.5 142.9V153.1M302.0 143.5V152.0M302.5 144.6V152.6M303.0 145.6V152.1M303.5 143.5V149.3M304.0 144.7V149.8M304.5 144.4V151.7M305.0 145.3V151.0M305.5 145.5V150.6M306.0 144.7V151.7M306.5 143.9V150.7M307.0 143.1V150.9M307.5 143.1V149.9M308.0 144.6V149.8M308.5 145.4V151.2M309.0 143.0V153.8M309.5 143.6V150.7M310.0 145.4V150.6M310.5 143.3V153.0M311.0 145.5V149.6M311.5 145.5V151.4M312.0 144.6V150.3M312.5 146.1V149.4M313.0 143.8V150.2M313.5 146.1V150.8M314.0 145.5V150.0M314.5 145.8V150.0M315.0 145.3V151.0M315.5 145.2V150.8M316.0 146.2V149.0M316.5 146.4V150.7M317.0 146.1V150.0M317.5 145.5V150.1M318.0 145.8V150.5M318.5 145.5V149.3M319.0 145.5V150.1M319.5 146.0V149.7M320.0 144.9V150.3M320.5 145.8V150.0M321.0 145.6V150.8M321.5 144.6V149.0M322.0 144.4V149.4M322.5 144.5V149.5M323.0 144.0V150.5M323.5 144.3V151.3M324.0 144.5V150.1M324.5 144.5V150.5M325.0 146.1V150.9M325.5 143.6V150.2M326.0 145.8V151.1M326.5 145.4V149.3M327.0 144.0V151.2M327.5 146.2V150.0M328.0 146.1V150.3M328.5 144.3V150.5M329.0 142.9V150.5M329.5 143.4V151.2M330.0 145.3V150.6M330.5 145.3V149.8M331.0 144.9V152.2M331.5 143.3V149.7M332.0 143.1V152.3M332.5 144.2V150.7M333.0 143.8V150.7M333.5 146.0V149.4M334.0 144.4V151.5M334.5 144.0V150.0M335.0 145.2V151.8M335.5 142.7V150.7M336.0 145.1V151.3M336.5 142.6V151.7M337.0 145.0V152.8M337.5 141.4V150.7M338.0 144.4V150.9M338.5 142.8V155.1M339.0 143.4V150.7M339.5 141.0V153.5M340.0 144.7V150.3M340.5 141.7V153.1M341.0 144.3V153.7M341.5 142.5V153.3M342.0 143.4V152.7M342.5 142.9V151.8M343.0 144.5V149.7M343.5 145.1V152.3M344.0 142.8V151.9M344.5 145.4V150.9M345.0 145.6V151.6M345.5 143.3V152.0M346.0 143.9V152.4M346.5 142.7V153.4M347.0 141.4V151.9M347.5 143.2V154.9M348.0 144.9V150.8M348.5 143.0V155.0M349.0 141.2V151.6M349.5 141.9V152.0M350.0 143.6V151.6M350.5 145.9V151.8M351.0 144.3V151.1M351.5 143.6V149.5M352.0 145.5V150.7M352.5 145.5V151.1M353.0 144.8V149.8M353.5 146.0V150.6M354.0 144.2V149.7M354.5 143.5V152.1M355.0 143.7V151.5M355.5 142.0V153.7M356.0 143.6V151.7M356.5 144.0V154.9M357.0 141.2V154.4M357.5 141.4V151.6M358.0 141.5V153.8M358.5 142.5V154.9M359.0 141.8V153.3M359.5 144.8V153.4M360.0 142.4V152.5M360.5 141.7V154.7M361.0 141.6V150.8M361.5 145.4V153.4M362.0 144.9V152.6M362.5 143.9V150.1M363.0 145.3V149.6M363.5 145.2V150.8M364.0 144.1V150.2M364.5 145.9V149.7M365.0 146.2V149.7M365.5 145.4V149.6M366.0 143.8V149.4M366.5 143.6V149.5M367.0 144.0V150.4M367.5 143.4V151.9M368.0 145.5V150.7M368.5 144.9V152.7M369.0 142.2V151.6M369.5 145.3V151.7M370.0 143.1V150.0M370.5 144.9V150.8M371.0 141.4V150.1M371.5 141.2V151.1M372.0 143.2V151.2M372.5 141.0V152.9M373.0 142.1V153.9M373.5 142.5V152.3M374.0 145.3V151.5M374.5 144.2V149.4M375.0 146.5V151.2M375.5 146.2V150.1M376.0 144.0V150.4M376.5 145.4V152.3M377.0 144.3V152.9M377.5 141.3V150.2M378.0 141.3V153.6M378.5 142.2V152.1M379.0 143.6V151.3M379.5 142.2V153.3M380.0 141.5V151.6M380.5 143.6V150.6M381.0 143.3V151.7M381.5 143.7V151.2M382.0 144.2V152.9M382.5 143.8V149.9M383.0 143.4V150.5M383.5 142.6V152.7M384.0 143.4V151.9M384.5 143.4V153.1M385.0 142.4V151.4M385.5 143.6V152.0M386.0 144.8V153.3M386.5 144.8V150.4M387.0 142.1V152.5M387.5 145.7V150.1M388.0 145.5V150.1M388.5 145.8V150.1M389.0 144.8V152.1M389.5 144.5V151.4M390.0 143.0V151.8M390.5 146.0V152.6M391.0 145.0V150.1M391.5 144.8V151.9M392.0 143.8V151.9M392.5 144.0V151.8M393.0 145.8V151.1M393.5 145.8V151.4M394.0 145.2V152.3M394.5 142.0V150.9M395.0 143.3V153.5M395.5 143.5V152.0M396.0 143.5V153.9M396.5 142.2V151.9M397.0 145.1V150.9M397.5 143.3V151.2M398.0 144.4V149.7M398.5 145.9V151.2M399.0 144.7V149.9M399.5 144.4V150.0M400.0 145.5V150.2M400.5 144.7V150.4M401.0 144.6V149.6M401.5 144.3V152.5M402.0 143.9V151.4M402.5 143.1V150.1M403.0 143.7V151.1M403.5 143.7V151.2M404.0 144.5V149.3M404.5 145.5V150.2M405.0 145.2V150.1M405.5 146.1V149.4M406.0 144.6V149.9M406.5 146.1V151.8M407.0 145.5V151.4M407.5 143.3V152.5M408.0 144.1V152.1M408.5 145.3V150.5M409.0 142.7V151.1M409.5 144.2V150.5M410.0 145.4V152.4M410.5 145.3V150.7M411.0 144.5V151.4M411.5 145.1V149.8M412.0 146.0V150.3M412.5 145.3V150.7M413.0 146.4V149.8M413.5 145.1V149.9M414.0 146.1V150.4M414.5 145.7V150.4M415.0 146.0V149.6M415.5 146.7V150.0M416.0 144.8V149.3M416.5 145.1V149.0M417.0 146.2V150.4M417.5 146.7V149.4M418.0 146.3V150.5M418.5 145.1V150.1M419.0 144.8V151.9M419.5 145.8V151.1M420.0 144.4V152.2M420.5 144.2V151.1M421.0 145.5V149.4M421.5 145.7V150.4M422.0 146.5V148.9M422.5 146.3V149.7M423.0 145.8V150.1M423.5 145.8V149.6M424.0 146.3V149.3M424.5 146.6V149.3M425.0 146.4V149.1M425.5 145.6V148.8M426.0 145.2V148.7M426.5 146.1V150.3M427.0 146.2V150.4M427.5 145.1V150.1M428.0 146.2V151.7M428.5 145.6V149.6M429.0 145.0V150.9M429.5 145.9V149.4M430.0 143.2V149.5M430.5 144.7V149.6M431.0 144.8V152.6M431.5 144.0V153.4M432.0 142.6V152.5M432.5 143.7V152.9M433.0 142.7V152.5M433.5 145.1V151.4M434.0 144.5V152.2M434.5 143.3V152.0M435.0 142.9V149.6M435.5 144.2V151.5M436.0 143.1V150.5M436.5 144.8V152.4M437.0 145.7V152.4M437.5 143.4V149.8M438.0 145.2V151.7M438.5 145.3V152.0M439.0 144.7V151.4M439.5 142.7V153.4M440.0 140.4V154.0M440.5 139.7V152.2M441.0 139.9V151.7M441.5 140.7V153.9M442.0 142.9V152.5M442.5 142.9V152.1M443.0 142.4V154.6M443.5 143.5V153.6M444.0 143.2V150.7M444.5 145.2V150.2M445.0 144.7V154.0M445.5 143.1V154.5M446.0 142.9V153.2M446.5 141.4V151.1M447.0 141.5V150.9M447.5 143.2V153.2M448.0 144.1V151.7M448.5 142.9V156.0M449.0 144.2V154.2M449.5 142.8V152.4M450.0 140.8V152.5M450.5 144.5V153.1M451.0 141.1V154.6M451.5 139.9V156.5M452.0 138.6V152.9M452.5 142.8V152.6M453.0 139.4V153.7M453.5 143.0V156.8M454.0 139.2V152.3M454.5 139.5V152.9M455.0 140.2V152.6M455.5 143.5V153.6M456.0 143.9V152.0M456.5 138.6V154.8M457.0 144.1V155.2M457.5 143.0V156.8M458.0 144.4V152.2M458.5 142.0V154.1M459.0 142.7V156.9M459.5 140.5V152.9M460.0 143.0V155.9M460.5 142.9V155.8M461.0 143.6V155.0M461.5 138.9V151.4M462.0 142.9V152.9M462.5 139.9V155.2M463.0 140.6V152.8M463.5 142.1V151.9M464.0 143.2V155.9M464.5 141.8V152.5M465.0 141.1V151.1M465.5 139.9V151.3M466.0 141.2V151.3M466.5 141.2V150.5M467.0 141.1V151.1M467.5 144.2V154.1M468.0 144.7V152.8M468.5 143.8V150.7M469.0 142.0V150.7M469.5 140.9V153.7M470.0 142.7V154.1M470.5 144.1V151.1M471.0 144.7V150.5M471.5 141.1V150.5M472.0 141.8V154.4M472.5 143.9V151.1M473.0 143.2V155.0M473.5 142.6V157.6M474.0 141.6V154.9M474.5 140.3V157.9M475.0 137.8V152.3M475.5 137.7V156.7M476.0 136.7V158.6M476.5 141.0V154.0M477.0 138.6V151.6M477.5 136.4V156.3M478.0 140.0V158.1M478.5 140.6V156.8M479.0 138.1V153.8M479.5 142.2V152.1M480.0 143.2V151.7M480.5 140.1V156.5M481.0 144.2V154.0M481.5 140.4V156.1M482.0 144.2V152.1M482.5 141.8V154.7M483.0 142.4V155.7M483.5 142.5V155.2M484.0 143.3V153.5M484.5 142.7V153.3M485.0 145.4V151.9M485.5 144.4V152.2M486.0 141.9V152.9M486.5 144.7V149.7M487.0 144.0V152.1M487.5 144.4V152.2M488.0 143.6V150.9M488.5 145.1V150.0M489.0 144.9V149.5M489.5 144.9V149.8M490.0 146.3V150.1M490.5 146.2V150.8M491.0 146.2V150.7M491.5 146.1V150.2M492.0 146.4V150.0M492.5 146.6V150.4M493.0 146.2V149.0M493.5 145.9V149.2M494.0 146.7V149.0M494.5 146.2V148.9M495.0 145.7V149.3M495.5 145.6V149.4M496.0 145.7V150.0M496.5 143.2V151.1M497.0 143.8V149.8M497.5 141.6V153.1M498.0 143.4V153.1M498.5 145.4V150.9M499.0 145.1V152.8M499.5 142.0V150.5M500.0 142.3V150.4M500.5 142.2V150.1M501.0 142.6V152.9M501.5 144.7V150.5M502.0 143.0V152.3M502.5 141.0V152.9M503.0 140.7V150.6M503.5 142.2V150.7M504.0 141.8V155.4M504.5 142.5V154.4M505.0 145.0V152.2M505.5 143.6V151.6M506.0 143.9V152.7M506.5 143.6V149.7M507.0 144.7V150.1M507.5 145.0V151.9M508.0 143.8V149.6M508.5 144.2V150.8M509.0 143.8V152.6M509.5 142.0V150.0M510.0 145.6V150.4M510.5 141.7V149.9M511.0 141.9V153.4M511.5 144.8V152.3M512.0 144.8V149.9M512.5 145.8V152.3M513.0 142.9V151.0M513.5 145.5V151.1M514.0 145.0V149.5M514.5 145.2V151.1M515.0 144.8V153.3M515.5 142.8V150.8M516.0 144.1V153.2M516.5 143.1V151.9M517.0 144.1V152.9M517.5 144.0V150.3M518.0 144.6V150.5M518.5 145.3V150.6M519.0 146.2V151.1M519.5 144.4V151.1M520.0 144.1V149.4M520.5 145.7V152.1M521.0 142.4V151.1M521.5 145.1V149.9M522.0 142.7V153.4M522.5 142.8V151.2M523.0 144.0V150.0M523.5 145.0V152.4M524.0 144.5V151.4M524.5 146.5V150.1M525.0 146.1V149.8M525.5 145.9V148.8M526.0 144.9V149.8M526.5 145.7V149.2M527.0 144.1V150.3M527.5 146.1V150.8M528.0 145.7V149.8M528.5 145.1V149.8M529.0 145.7V152.0M529.5 144.2V150.3M530.0 143.3V150.3M530.5 144.4V152.1M531.0 145.1V150.7M531.5 142.9V151.2M532.0 144.5V150.4M532.5 143.6V150.8M533.0 145.3V150.7M533.5 145.5V151.9M534.0 144.3V152.9M534.5 143.1V153.5M535.0 143.4V150.7M535.5 145.1V152.1M536.0 144.4V153.1M536.5 143.6V150.0M537.0 145.1V151.5M537.5 145.5V150.6M538.0 145.2V150.4M538.5 145.1V152.0M539.0 146.0V152.2M539.5 143.5V152.2M540.0 145.5V152.1M540.5 144.9V152.7M541.0 145.4V149.7M541.5 144.3V151.5M542.0 144.8V151.8M542.5 144.2V152.2M543.0 142.6V151.0M543.5 143.8V151.7M544.0 145.0V152.1M544.5 145.1V151.0M545.0 143.9V152.5M545.5 140.3V153.3M546.0 142.7V153.1M546.5 140.6V151.7M547.0 145.2V153.1M547.5 144.0V151.6M548.0 144.1V152.1M548.5 144.9V152.4M549.0 144.5V153.1M549.5 143.3V151.5M550.0 144.9V152.3M550.5 142.9V150.8M551.0 141.9V154.1M551.5 141.3V153.5M552.0 142.1V153.9M552.5 142.4V150.7M553.0 144.9V150.8M553.5 145.2V151.2M554.0 144.9V152.9M554.5 145.1V153.3M555.0 144.0V152.8M555.5 143.7V150.9M556.0 143.0V150.3M556.5 145.4V153.5M557.0 143.9V152.0M557.5 143.3V150.6M558.0 144.2V151.0M558.5 142.5V150.5M559.0 144.3V152.8M559.5 143.5V151.8M560.0 143.6V151.4M560.5 146.4V150.6M561.0 146.2V151.2M561.5 145.1V149.5M562.0 143.9V149.9M562.5 144.1V152.1M563.0 143.9V150.7M563.5 145.4V151.8M564.0 143.0V151.8M564.5 144.8V150.7M565.0 142.6V152.5M565.5 145.1V149.8M566.0 145.6V150.2M566.5 141.5V150.1M567.0 144.3V150.0M567.5 142.1V154.3M568.0 141.5V150.2M568.5 142.4V152.8M569.0 143.0V153.7M569.5 142.8V153.0M570.0 142.1V152.8M570.5 142.2V152.0M571.0 142.5V153.6M571.5 144.2V152.0M572.0 145.0V153.4M572.5 141.1V153.4M573.0 142.1V153.3M573.5 143.1V153.6M574.0 142.5V153.9M574.5 140.8V150.6M575.0 141.6V151.4M575.5 144.4V152.7M576.0 142.3V153.6M576.5 142.6V153.1M577.0 142.5V152.1M577.5 144.5V149.8M578.0 144.2V152.2M578.5 145.4V153.4M579.0 145.2V151.4M579.5 144.3V152.7M580.0 144.1V150.0M580.5 142.9V150.6M581.0 144.7V152.1M581.5 145.3V151.2M582.0 143.9V151.5M582.5 145.0V150.6M583.0 144.2V149.3M583.5 145.3V150.9M584.0 145.6V149.6M584.5 145.6V149.3M585.0 145.4V149.2M585.5 146.6V149.2M586.0 145.0V149.7M586.5 144.3V149.9M587.0 146.0V150.0M587.5 144.3V150.1M588.0 144.4V151.0M588.5 145.7V150.5M589.0 145.8V150.8M589.5 145.3V153.1M590.0 143.8V151.5M590.5 144.5V151.0M591.0 141.2V151.5M591.5 143.5V153.6M592.0 143.0V153.9M592.5 142.1V150.1M593.0 142.2V150.6M593.5 145.5V151.7M594.0 142.5V153.4M594.5 144.8V150.3M595.0 144.8V150.4M595.5 143.3V150.3M596.0 144.3V151.3M596.5 143.0V149.9M597.0 142.9V150.2M597.5 144.8V152.3M598.0 145.4V151.1M598.5 143.4V151.8M599.0 145.5V151.6M599.5 144.0V149.7M600.0 145.3V150.4M600.5 144.2V150.0M601.0 145.5V149.8M601.5 143.4V151.8M602.0 145.8V151.7M602.5 145.4V150.7M603.0 141.8V150.6M603.5 142.0V150.3M604.0 141.7V153.0M604.5 142.6V152.2M605.0 144.8V151.3M605.5 141.8V152.0M606.0 145.2V153.3M606.5 144.0V151.8M607.0 144.1V153.3M607.5 144.5V151.8M608.0 142.6V153.2M608.5 143.1V152.8M609.0 141.4V152.9M609.5 145.4V150.3M610.0 141.9V152.2M610.5 142.2V150.4M611.0 143.5V153.6M611.5 140.3V151.6M612.0 141.0V150.8M612.5 144.0V151.6M613.0 144.1V152.6M613.5 141.8V151.7M614.0 142.3V150.1M614.5 145.3V152.7M615.0 143.5V152.2M615.5 145.1V152.9M616.0 145.2V151.6M616.5 141.9V151.0M617.0 140.7V153.0M617.5 143.6V151.1M618.0 140.5V153.5M618.5 141.4V154.2M619.0 145.2V154.4M619.5 141.5V150.5M620.0 141.3V154.0M620.5 144.8V150.2M621.0 141.5V154.2M621.5 141.6V152.8M622.0 140.7V151.2M622.5 142.2V153.4M623.0 140.6V155.8M623.5 144.0V152.6M624.0 140.8V153.1M624.5 139.4V153.5M625.0 143.8V152.4M625.5 137.8V157.3M626.0 138.2V157.7M626.5 143.4V154.0M627.0 142.9V156.2M627.5 143.2V151.3M628.0 141.7V153.4M628.5 139.3V152.5M629.0 142.5V155.7M629.5 143.1V154.0M630.0 141.3V152.8M630.5 142.4V150.1M631.0 144.7V153.2M631.5 144.4V152.8M632.0 142.8V151.1M632.5 143.5V151.2M633.0 145.3V152.0M633.5 145.5V152.3M634.0 142.8V153.0M634.5 145.4V152.0M635.0 145.3V151.3M635.5 143.4V151.4" stroke="#00f" stroke-opacity="0.7" stroke-width="0.5" fill="none"/><polygon points="33.0,145.2 33.5,145.3 34.0,145.1 34.5,144.9 35.0,145.7 35.5,144.3 36.0,145.5 36.5,145.4 37.0,145.1 37.5,146.3 38.0,144.9 38.5,144.7 39.0,144.8 39.5,145.0 40.0,143.9 40.5,146.0 41.0,145.4 41.5,145.7 42.0,144.9 42.5,145.0 43.0,145.3 43.5,145.2 44.0,144.9 44.5,145.2 45.0,144.9 45.5,146.2 46.0,145.7 46.5,145.5 47.0,145.0 47.5,144.4 48.0,144.3 48.5,145.0 49.0,145.5 49.5,145.5 50.0,145.4 50.5,146.3 51.0,145.5 51.5,145.3 52.0,145.6 52.5,144.9 53.0,144.7 53.5,145.2 54.0,145.3 54.5,145.2 55.0,144.4 55.5,145.8 56.0,144.7 56.5,145.6 57.0,145.1 57.5,145.3 58.0,146.1 58.5,145.0 59.0,144.5 59.5,144.6 60.0,145.6 60.5,144.8 61.0,146.0 61.5,145.2 62.0,144.5 62.5,145.9 63.0,145.5 63.5,145.7 64.0,145.5 64.5,145.1 65.0,145.9 65.5,145.7 66.0,146.0 66.5,144.6 67.0,145.2 67.5,145.9 68.0,145.7 68.5,145.1 69.0,145.6 69.5,145.1 70.0,145.2 70.5,144.6 71.0,144.4 71.5,145.4 72.0,146.0 72.5,144.5 73.0,145.4 73.5,145.9 74.0,144.7 74.5,144.7 75.0,145.3 75.5,145.4 76.0,145.9 76.5,145.7 77.0,145.5 77.5,145.1 78.0,145.7 78.5,146.1 79.0,145.6 79.5,145.1 80.0,144.1 80.5,145.4 81.0,144.3 81.5,145.1 82.0,145.7 82.5,145.0 83.0,145.3 83.5,145.8 84.0,145.1 84.5,145.2 85.0,144.6 85.5,145.3 86.0,145.8 86.5,144.9 87.0,145.2 87.5,146.3 88.0,145.2 88.5,145.8 89.0,145.4 89.5,145.2 90.0,145.0 90.5,144.8 91.0,145.5 91.5,146.2 92.0,145.2 92.5,144.8 93.0,145.2 93.5,146.3 94.0,145.3 94.5,145.2 95.0,144.7 95.5,145.2 96.0,145.8 96.5,145.1 97.0,146.1 97.5,145.6 98.0,145.7 98.5,145.8 99.0,145.8 99.5,145.2 100.0,145.3 100.5,144.9 101.0,145.8 101.5,145.4 102.0,145.4 102.5,145.5 103.0,146.1 103.5,145.7 104.0,144.9 104.5,145.9 105.0,145.6 105.5,146.3 106.0,145.6 106.5,145.8 107.0,144.8 107.5,145.4 108.0,146.0 108.5,145.8 109.0,146.2 109.5,145.3 110.0,146.1 110.5,146.0 111.0,146.1 111.5,145.6 112.0,145.1 112.5,145.1 113.0,145.2 113.5,145.8 114.0,145.5 114.5,145.9 115.0,144.9 115.5,145.1 116.0,144.8 116.5,144.9 117.0,145.2 117.5,146.2 118.0,146.0 118.5,145.3 119.0,143.7 119.5,143.8 120.0,145.1 120.5,145.2 121.0,145.5 121.5,145.9 122.0,144.9 122.5,144.8 123.0,144.9 123.5,145.1 124.0,145.3 124.5,145.7 125.0,144.6 125.5,144.7 126.0,144.6 126.5,145.1 127.0,146.1 127.5,145.0 128.0,145.9 128.5,144.6 129.0,146.1 129.5,144.5 130.0,144.9 130.5,144.7 131.0,145.5 131.5,144.3 132.0,144.7 132.5,146.0 133.0,145.0 133.5,145.0 134.0,144.0 134.5,144.9 135.0,144.9 135.5,145.3 136.0,145.3 136.5,144.1 137.0,145.3 137.5,144.3 138.0,145.3 138.5,145.6 139.0,144.0 139.5,146.3 140.0,145.3 140.5,143.5 141.0,145.5 141.5,144.5 142.0,144.9 142.5,145.6 143.0,144.6 143.5,144.8 144.0,144.1 144.5,144.7 145.0,144.0 145.5,145.6 146.0,144.1 146.5,145.0 147.0,143.1 147.5,145.0 148.0,145.7 148.5,145.1 149.0,145.9 149.5,145.7 150.0,145.6 150.5,146.0 151.0,144.7 151.5,144.7 152.0,145.4 152.5,145.5 153.0,145.0 153.5,144.9 154.0,145.3 154.5,145.1 155.0,145.4 155.5,145.6 156.0,145.3 156.5,146.0 157.0,145.6 157.5,144.5 158.0,145.0 158.5,145.4 159.0,145.3 159.5,145.1 160.0,145.7 160.5,145.3 161.0,145.9 161.5,145.5 162.0,145.9 162.5,145.4 163.0,145.9 163.5,145.0 164.0,145.2 164.5,144.7 165.0,144.1 165.5,144.9 166.0,144.4 166.5,145.6 167.0,145.5 167.5,144.7 168.0,144.5 168.5,145.5 169.0,145.7 169.5,145.4 170.0,145.2 170.5,144.7 171.0,145.1 171.5,144.1 172.0,144.1 172.5,145.0 173.0,145.7 173.5,145.4 174.0,145.6 174.5,146.1 175.0,145.2 175.5,144.7 176.0,145.4 176.5,144.2 177.0,145.4 177.5,144.8 178.0,145.0 178.5,144.7 179.0,144.8 179.5,144.2 180.0,145.8 180.5,146.1 181.0,144.5 181.5,145.7 182.0,144.9 182.5,145.8 183.0,145.5 183.5,146.3 184.0,145.7 184.5,145.5 185.0,144.8 185.5,145.7 186.0,145.4 186.5,145.7 187.0,145.4 187.5,145.1 188.0,145.1 188.5,145.7 189.0,144.2 189.5,145.7 190.0,144.6 190.5,144.1 191.0,144.6 191.5,144.8 192.0,146.1 192.5,145.5 193.0,145.0 193.5,145.1 194.0,144.6 194.5,146.0 195.0,145.0 195.5,144.3 196.0,145.3 196.5,145.5 197.0,144.9 197.5,146.3 198.0,145.4 198.5,145.6 199.0,145.6 199.5,145.3 200.0,145.7 200.5,145.6 201.0,145.3 201.5,145.3 202.0,144.8 202.5,145.0 203.0,145.4 203.5,144.8 204.0,144.6 204.5,145.3 205.0,145.1 205.5,145.0 206.0,144.5 206.5,144.4 207.0,145.8 207.5,146.1 208.0,145.0 208.5,145.0 209.0,145.0 209.5,145.1 210.0,145.6 210.5,145.9 211.0,145.1 211.5,145.5 212.0,145.6 212.5,145.9 213.0,145.6 213.5,145.2 214.0,145.6 214.5,146.2 215.0,145.5 215.5,145.0 216.0,145.3 216.5,145.4 217.0,145.7 217.5,144.7 218.0,145.1 218.5,145.0 219.0,144.6 219.5,146.2 220.0,144.7 220.5,144.6 221.0,145.0 221.5,144.8 222.0,144.9 222.5,145.0 223.0,145.2 223.5,145.6 224.0,144.9 224.5,146.3 225.0,145.7 225.5,146.2 226.0,145.9 226.5,146.0 227.0,145.1 227.5,146.2 228.0,145.3 228.5,145.2 229.0,144.6 229.5,145.7 230.0,145.7 230.5,145.6 231.0,146.5 231.5,145.8 232.0,145.8 232.5,145.3 233.0,145.7 233.5,145.3 234.0,145.9 234.5,145.8 235.0,144.8 235.5,144.9 236.0,145.1 236.5,145.2 237.0,144.7 237.5,145.3 238.0,145.0 238.5,145.8 239.0,145.5 239.5,145.5 240.0,145.4 240.5,145.7 241.0,144.8 241.5,145.3 242.0,145.3 242.5,145.3 243.0,145.1 243.5,144.7 244.0,145.6 244.5,145.1 245.0,144.6 245.5,146.1 246.0,145.7 246.5,145.2 247.0,145.8 247.5,145.1 248.0,145.5 248.5,145.1 249.0,145.1 249.5,145.2 250.0,145.3 250.5,145.1 251.0,145.4 251.5,145.6 252.0,145.5 252.5,144.2 253.0,146.1 253.5,145.8 254.0,145.5 254.5,146.3 255.0,145.3 255.5,145.1 256.0,145.4 256.5,145.3 257.0,145.2 257.5,145.2 258.0,145.5 258.5,144.8 259.0,145.3 259.5,145.5 260.0,145.8 260.5,145.7 261.0,145.7 261.5,144.8 262.0,145.4 262.5,145.4 263.0,145.7 263.5,145.4 264.0,144.9 264.5,145.4 265.0,145.6 265.5,144.6 266.0,145.2 266.5,144.9 267.0,145.3 267.5,145.1 268.0,145.6 268.5,144.7 269.0,144.6 269.5,145.2 270.0,145.3 270.5,145.7 271.0,145.5 271.5,144.5 272.0,144.8 272.5,144.2 273.0,144.8 273.5,142.8 274.0,145.1 274.5,145.7 275.0,144.8 275.5,144.4 276.0,143.8 276.5,144.2 277.0,144.1 277.5,145.9 278.0,145.0 278.5,145.4 279.0,144.8 279.5,145.0 280.0,144.0 280.5,144.8 281.0,144.7 281.5,146.0 282.0,145.6 282.5,144.7 283.0,144.0 283.5,145.9 284.0,145.8 284.5,145.9 285.0,145.7 285.5,145.1 286.0,144.6 286.5,145.2 287.0,145.0 287.5,146.2 288.0,145.6 288.5,145.9 289.0,144.9 289.5,145.2 290.0,143.8 290.5,143.9 291.0,145.8 291.5,144.8 292.0,146.2 292.5,145.6 293.0,145.7 293.5,145.4 294.0,146.4 294.5,144.2 295.0,145.2 295.5,145.2 296.0,146.1 296.5,144.5 297.0,145.4 297.5,146.2 298.0,144.9 298.5,144.3 299.0,145.6 299.5,145.1 300.0,144.4 300.5,143.9 301.0,144.4 301.5,145.1 302.0,144.5 302.5,145.7 303.0,145.7 303.5,145.6 304.0,144.2 304.5,145.4 305.0,145.4 305.5,145.1 306.0,145.2 306.5,144.7 307.0,145.3 307.5,145.0 308.0,145.4 308.5,145.5 309.0,144.1 309.5,145.2 310.0,144.6 310.5,145.4 311.0,144.7 311.5,146.3 312.0,145.8 312.5,144.6 313.0,145.7 313.5,145.1 314.0,144.7 314.5,145.4 315.0,145.5 315.5,145.7 316.0,145.6 316.5,146.1 317.0,146.2 317.5,145.7 318.0,145.4 318.5,144.6 319.0,145.7 319.5,145.5 320.0,145.4 320.5,145.4 321.0,145.6 321.5,144.6 322.0,145.1 322.5,145.5 323.0,146.1 323.5,144.6 324.0,144.4 324.5,144.7 325.0,145.6 325.5,144.7 326.0,145.3 326.5,145.7 327.0,145.2 327.5,144.4 328.0,145.3 328.5,145.6 329.0,144.8 329.5,144.3 330.0,144.7 330.5,146.3 331.0,145.6 331.5,146.0 332.0,145.2 332.5,144.9 333.0,145.7 333.5,145.5 334.0,144.2 334.5,145.2 335.0,145.3 335.5,144.5 336.0,144.9 336.5,144.8 337.0,145.1 337.5,144.2 338.0,145.0 338.5,145.2 339.0,144.7 339.5,145.6 340.0,145.6 340.5,145.3 341.0,144.9 341.5,144.4 342.0,144.6 342.5,144.7 343.0,145.0 343.5,144.5 344.0,145.6 344.5,144.3 345.0,145.4 345.5,144.7 346.0,145.7 346.5,145.3 347.0,144.5 347.5,145.9 348.0,144.4 348.5,144.3 349.0,145.4 349.5,146.2 350.0,145.1 350.5,145.8 351.0,146.2 351.5,145.4 352.0,145.5 352.5,146.2 353.0,145.2 353.5,145.1 354.0,145.2 354.5,146.2 355.0,145.7 355.5,146.3 356.0,144.3 356.5,146.2 357.0,144.4 357.5,145.7 358.0,144.1 358.5,144.2 359.0,145.7 359.5,145.0 360.0,145.2 360.5,144.6 361.0,146.0 361.5,144.7 362.0,145.2 362.5,145.5 363.0,146.1 363.5,145.4 364.0,145.6 364.5,146.3 365.0,145.0 365.5,146.3 366.0,145.6 366.5,144.8 367.0,145.9 367.5,145.9 368.0,145.3 368.5,144.1 369.0,145.7 369.5,145.4 370.0,145.6 370.5,144.6 371.0,145.1 371.5,146.0 372.0,145.8 372.5,144.2 373.0,146.1 373.5,144.4 374.0,144.8 374.5,144.9 375.0,145.8 375.5,146.1 376.0,145.7 376.5,145.5 377.0,145.3 377.5,145.4 378.0,144.4 378.5,144.4 379.0,144.2 379.5,143.6 380.0,145.6 380.5,145.2 381.0,145.1 381.5,144.7 382.0,145.5 382.5,145.8 383.0,144.4 383.5,144.4 384.0,145.6 384.5,145.7 385.0,146.1 385.5,144.8 386.0,145.8 386.5,144.9 387.0,145.6 387.5,145.4 388.0,145.8 388.5,145.3 389.0,144.3 389.5,144.3 390.0,144.6 390.5,145.3 391.0,144.8 391.5,144.5 392.0,144.3 392.5,144.4 393.0,145.2 393.5,145.2 394.0,144.5 394.5,144.9 395.0,145.0 395.5,144.5 396.0,143.7 396.5,145.1 397.0,144.4 397.5,144.0 398.0,144.8 398.5,144.9 399.0,145.5 399.5,146.0 400.0,146.1 400.5,145.8 401.0,144.4 401.5,145.2 402.0,145.8 402.5,145.0 403.0,145.7 403.5,145.8 404.0,145.3 404.5,145.4 405.0,144.7 405.5,145.5 406.0,144.9 406.5,145.3 407.0,146.0 407.5,144.9 408.0,144.9 408.5,145.4 409.0,145.2 409.5,145.3 410.0,144.8 410.5,145.7 411.0,145.7 411.5,145.3 412.0,145.2 412.5,144.7 413.0,145.1 413.5,145.1 414.0,145.5 414.5,145.7 415.0,145.5 415.5,145.2 416.0,145.9 416.5,145.6 417.0,145.7 417.5,145.7 418.0,145.9 418.5,145.7 419.0,144.7 419.5,145.7 420.0,145.1 420.5,145.1 421.0,145.5 421.5,145.6 422.0,145.5 422.5,145.7 423.0,145.1 423.5,145.2 424.0,145.1 424.5,145.0 425.0,145.4 425.5,146.0 426.0,146.0 426.5,145.1 427.0,146.0 427.5,145.2 428.0,145.2 428.5,145.5 429.0,144.8 429.5,144.9 430.0,146.2 430.5,145.0 431.0,145.2 431.5,145.4 432.0,144.5 432.5,144.8 433.0,145.2 433.5,145.7 434.0,145.5 434.5,145.6 435.0,144.3 435.5,144.5 436.0,145.1 436.5,144.2 437.0,144.1 437.5,146.0 438.0,145.1 438.5,146.0 439.0,145.5 439.5,144.1 440.0,144.6 440.5,144.3 441.0,144.5 441.5,145.7 442.0,145.6 442.5,144.2 443.0,145.6 443.5,144.6 444.0,145.7 444.5,144.4 445.0,146.1 445.5,145.2 446.0,145.2 446.5,143.4 447.0,144.4 447.5,144.4 448.0,144.0 448.5,145.7 449.0,144.7 449.5,144.4 450.0,144.3 450.5,146.2 451.0,145.2 451.5,145.5 452.0,145.7 452.5,143.7 453.0,145.8 453.5,143.6 454.0,144.4 454.5,143.3 455.0,143.2 455.5,144.1 456.0,145.6 456.5,144.5 457.0,144.9 457.5,143.5 458.0,144.3 458.5,145.3 459.0,144.9 459.5,145.3 460.0,146.1 460.5,144.2 461.0,145.5 461.5,146.4 462.0,144.0 462.5,145.6 463.0,144.1 463.5,146.3 464.0,146.0 464.5,144.4 465.0,145.1 465.5,144.8 466.0,146.1 466.5,144.7 467.0,144.8 467.5,144.4 468.0,145.3 468.5,144.6 469.0,145.1 469.5,145.9 470.0,146.4 470.5,144.4 471.0,145.0 471.5,145.7 472.0,145.0 472.5,144.9 473.0,144.6 473.5,144.8 474.0,143.7 474.5,145.2 475.0,142.6 475.5,143.1 476.0,144.4 476.5,142.9 477.0,143.5 477.5,142.9 478.0,144.9 478.5,145.4 479.0,144.6 479.5,143.7 480.0,143.6 480.5,143.4 481.0,145.4 481.5,144.4 482.0,145.1 482.5,144.2 483.0,145.6 483.5,144.3 484.0,144.5 484.5,145.1 485.0,145.4 485.5,145.9 486.0,145.1 486.5,144.0 487.0,144.4 487.5,145.6 488.0,145.5 488.5,145.3 489.0,145.2 489.5,145.9 490.0,145.2 490.5,145.5 491.0,145.1 491.5,144.9 492.0,146.0 492.5,145.9 493.0,145.1 493.5,145.3 494.0,145.3 494.5,146.0 495.0,145.5 495.5,145.3 496.0,145.7 496.5,145.2 497.0,144.8 497.5,144.7 498.0,145.1 498.5,145.7 499.0,144.7 499.5,144.6 500.0,144.3 500.5,144.7 501.0,144.9 501.5,144.0 502.0,144.5 502.5,145.4 503.0,144.5 503.5,144.6 504.0,144.6 504.5,145.7 505.0,145.2 505.5,144.3 506.0,145.2 506.5,145.7 507.0,145.4 507.5,144.6 508.0,144.7 508.5,145.5 509.0,145.9 509.5,145.1 510.0,144.5 510.5,144.0 511.0,145.4 511.5,145.6 512.0,145.7 512.5,144.9 513.0,146.1 513.5,144.4 514.0,145.3 514.5,145.2 515.0,144.4 515.5,145.1 516.0,145.1 516.5,144.8 517.0,145.5 517.5,145.7 518.0,144.6 518.5,145.4 519.0,145.5 519.5,145.4 520.0,145.7 520.5,144.9 521.0,144.7 521.5,145.2 522.0,144.7 522.5,144.0 523.0,145.6 523.5,145.2 524.0,145.7 524.5,144.9 525.0,145.5 525.5,145.3 526.0,145.2 526.5,145.9 527.0,144.9 527.5,144.9 528.0,145.8 528.5,145.3 529.0,145.1 529.5,145.7 530.0,145.1 530.5,145.4 531.0,145.5 531.5,144.5 532.0,145.9 532.5,144.6 533.0,144.4 533.5,144.7 534.0,146.0 534.5,144.6 535.0,145.4 535.5,145.7 536.0,144.5 536.5,145.3 537.0,144.5 537.5,145.1 538.0,144.9 538.5,144.9 539.0,144.8 539.5,145.3 540.0,146.0 540.5,146.1 541.0,145.4 541.5,144.9 542.0,144.9 542.5,144.5 543.0,144.5 543.5,145.1 544.0,144.4 544.5,145.3 545.0,145.0 545.5,145.2 546.0,145.2 546.5,144.4 547.0,144.6 547.5,144.4 548.0,145.4 548.5,145.0 549.0,145.2 549.5,144.5 550.0,144.4 550.5,145.3 551.0,145.2 551.5,145.6 552.0,145.1 552.5,144.4 553.0,145.4 553.5,145.8 554.0,145.0 554.5,146.0 555.0,144.0 555.5,144.4 556.0,145.4 556.5,145.6 557.0,144.1 557.5,144.4 558.0,145.6 558.5,145.2 559.0,145.4 559.5,144.3 560.0,144.8 560.5,146.0 561.0,144.8 561.5,145.2 562.0,146.2 562.5,144.7 563.0,145.2 563.5,145.3 564.0,144.9 564.5,145.6 565.0,146.1 565.5,145.2 566.0,144.5 566.5,145.2 567.0,144.6 567.5,144.4 568.0,144.7 568.5,145.1 569.0,144.1 569.5,145.5 570.0,145.2 570.5,144.8 571.0,145.4 571.5,145.4 572.0,144.0 572.5,144.3 573.0,144.5 573.5,144.7 574.0,145.4 574.5,146.0 575.0,145.7 575.5,145.7 576.0,145.6 576.5,144.4 577.0,144.8 577.5,146.0 578.0,144.2 578.5,145.3 579.0,144.5 579.5,145.8 580.0,144.9 580.5,146.4 581.0,144.7 581.5,144.5 582.0,144.8 582.5,145.7 583.0,145.8 583.5,144.6 584.0,146.0 584.5,145.9 585.0,145.2 585.5,144.8 586.0,145.4 586.5,145.9 587.0,146.0 587.5,145.7 588.0,144.8 588.5,145.3 589.0,145.3 589.5,145.3 590.0,145.1 590.5,144.6 591.0,144.9 591.5,145.7 592.0,144.9 592.5,144.7 593.0,145.0 593.5,144.7 594.0,145.6 594.5,145.0 595.0,145.3 595.5,145.0 596.0,145.4 596.5,145.1 597.0,145.8 597.5,145.1 598.0,145.0 598.5,145.1 599.0,146.0 599.5,145.4 600.0,145.5 600.5,146.2 601.0,146.0 601.5,145.6 602.0,146.1 602.5,145.2 603.0,145.2 603.5,145.4 604.0,144.5 604.5,144.6 605.0,144.2 605.5,145.1 606.0,145.5 606.5,144.6 607.0,145.7 607.5,145.4 608.0,145.2 608.5,144.1 609.0,145.7 609.5,144.4 610.0,145.1 610.5,145.4 611.0,145.3 611.5,143.5 612.0,143.6 612.5,145.1 613.0,143.3 613.5,145.5 614.0,144.8 614.5,145.1 615.0,146.2 615.5,144.4 616.0,145.5 616.5,145.2 617.0,145.6 617.5,144.8 618.0,145.9 618.5,143.4 619.0,144.2 619.5,145.0 620.0,145.2 620.5,144.6 621.0,144.0 621.5,144.6 622.0,143.9 622.5,145.8 623.0,144.9 623.5,145.2 624.0,143.3 624.5,145.1 625.0,145.3 625.5,144.5 626.0,146.0 626.5,144.7 627.0,143.6 627.5,145.4 628.0,145.3 628.5,145.7 629.0,143.7 629.5,144.4 630.0,144.4 630.5,144.6 631.0,144.6 631.5,145.3 632.0,144.9 632.5,145.4 633.0,144.2 633.5,145.5 634.0,144.3 634.5,144.4 635.0,144.8 635.5,145.8 635.5,149.9 635.0,149.5 634.5,150.7 634.0,150.6 633.5,150.5 633.0,151.3 632.5,149.6 632.0,150.9 631.5,150.1 631.0,150.1 630.5,150.8 630.0,151.3 629.5,149.5 629.0,150.1 628.5,150.1 628.0,149.3 627.5,151.8 627.0,150.6 626.5,151.0 626.0,150.7 625.5,151.9 625.0,152.2 624.5,152.5 624.0,149.7 623.5,150.0 623.0,150.8 622.5,152.3 622.0,152.0 621.5,151.5 621.0,150.2 620.5,150.8 620.0,150.0 619.5,151.6 619.0,151.5 618.5,149.7 618.0,150.5 617.5,151.5 617.0,150.8 616.5,150.6 616.0,150.5 615.5,149.5 615.0,150.5 614.5,149.9 614.0,150.4 613.5,149.5 613.0,151.1 612.5,150.3 612.0,151.4 611.5,149.7 611.0,151.4 610.5,151.1 610.0,151.0 609.5,150.2 609.0,150.8 608.5,150.5 608.0,149.8 607.5,150.8 607.0,150.1 606.5,151.3 606.0,150.3 605.5,151.3 605.0,150.1 604.5,151.5 604.0,150.8 603.5,150.0 603.0,150.3 602.5,150.7 602.0,150.4 601.5,149.7 601.0,149.7 600.5,149.7 600.0,150.3 599.5,149.7 599.0,150.3 598.5,150.3 598.0,151.3 597.5,150.7 597.0,149.9 596.5,150.9 596.0,150.6 595.5,149.7 595.0,151.6 594.5,150.2 594.0,150.6 593.5,149.9 593.0,150.9 592.5,149.6 592.0,151.3 591.5,150.3 591.0,150.2 590.5,150.7 590.0,151.3 589.5,149.8 589.0,150.8 588.5,150.6 588.0,149.6 587.5,149.9 587.0,149.8 586.5,150.4 586.0,150.4 585.5,149.8 585.0,149.2 584.5,149.7 584.0,149.6 583.5,150.3 583.0,149.6 582.5,149.9 582.0,150.0 581.5,150.8 581.0,149.7 580.5,151.2 580.0,150.8 579.5,150.4 579.0,149.9 578.5,149.9 578.0,149.8 577.5,150.2 577.0,150.7 576.5,149.9 576.0,151.5 575.5,150.7 575.0,150.1 574.5,149.9 574.0,150.8 573.5,150.2 573.0,151.2 572.5,150.6 572.0,149.4 571.5,150.3 571.0,149.3 570.5,151.0 570.0,149.7 569.5,150.1 569.0,149.9 568.5,149.9 568.0,150.0 567.5,150.4 567.0,151.0 566.5,150.6 566.0,150.2 565.5,150.1 565.0,150.3 564.5,149.9 564.0,151.4 563.5,150.3 563.0,149.7 562.5,150.7 562.0,149.7 561.5,150.2 561.0,149.3 560.5,149.8 560.0,149.9 559.5,150.0 559.0,149.8 558.5,149.6 558.0,151.2 557.5,151.6 557.0,150.6 556.5,150.9 556.0,150.2 555.5,150.1 555.0,150.2 554.5,150.9 554.0,150.0 553.5,149.9 553.0,149.6 552.5,149.8 552.0,149.8 551.5,150.7 551.0,151.0 550.5,150.7 550.0,151.1 549.5,150.6 549.0,151.1 548.5,150.7 548.0,150.0 547.5,150.6 547.0,150.4 546.5,151.0 546.0,149.5 545.5,150.6 545.0,150.3 544.5,150.4 544.0,149.5 543.5,150.4 543.0,150.4 542.5,149.8 542.0,151.5 541.5,150.8 541.0,150.2 540.5,149.2 540.0,150.2 539.5,149.6 539.0,150.1 538.5,149.5 538.0,150.7 537.5,150.6 537.0,149.8 536.5,150.4 536.0,150.5 535.5,150.3 535.0,151.2 534.5,150.6 534.0,150.1 533.5,149.2 533.0,151.1 532.5,150.0 532.0,150.9 531.5,150.5 531.0,151.0 530.5,150.4 530.0,150.6 529.5,150.3 529.0,149.4 528.5,150.1 528.0,149.7 527.5,150.3 527.0,150.3 526.5,150.3 526.0,150.2 525.5,149.8 525.0,149.9 524.5,150.3 524.0,150.0 523.5,149.3 523.0,150.7 522.5,150.5 522.0,151.5 521.5,150.6 521.0,149.6 520.5,149.3 520.0,149.9 519.5,149.6 519.0,150.0 518.5,150.4 518.0,151.0 517.5,150.9 517.0,149.3 516.5,150.8 516.0,149.8 515.5,150.6 515.0,150.5 514.5,150.1 514.0,150.1 513.5,150.5 513.0,150.7 512.5,149.8 512.0,149.5 511.5,149.9 511.0,149.3 510.5,150.2 510.0,150.9 509.5,149.4 509.0,151.0 508.5,150.2 508.0,150.0 507.5,150.0 507.0,150.4 506.5,150.5 506.0,150.5 505.5,150.4 505.0,150.5 504.5,150.4 504.0,149.5 503.5,150.4 503.0,151.4 502.5,151.4 502.0,150.6 501.5,150.3 501.0,149.8 500.5,151.4 500.0,151.5 499.5,150.5 499.0,150.3 498.5,151.2 498.0,151.5 497.5,151.1 497.0,150.4 496.5,150.6 496.0,149.0 495.5,149.5 495.0,149.6 494.5,149.7 494.0,149.9 493.5,150.4 493.0,149.9 492.5,150.6 492.0,150.2 491.5,149.6 491.0,150.6 490.5,150.2 490.0,149.7 489.5,149.5 489.0,150.7 488.5,150.2 488.0,150.8 487.5,149.7 487.0,150.7 486.5,149.9 486.0,150.6 485.5,150.9 485.0,150.8 484.5,151.6 484.0,151.6 483.5,150.2 483.0,149.9 482.5,151.0 482.0,149.8 481.5,151.3 481.0,149.6 480.5,149.9 480.0,151.0 479.5,152.0 479.0,151.5 478.5,152.1 478.0,149.9 477.5,152.3 477.0,151.4 476.5,151.2 476.0,151.4 475.5,150.6 475.0,150.4 474.5,150.6 474.0,150.3 473.5,149.4 473.0,151.7 472.5,149.7 472.0,151.2 471.5,150.1 471.0,149.8 470.5,149.8 470.0,150.5 469.5,149.6 469.0,149.9 468.5,150.5 468.0,151.3 467.5,151.1 467.0,150.8 466.5,150.4 466.0,150.6 465.5,151.6 465.0,151.8 464.5,150.3 464.0,150.3 463.5,152.2 463.0,152.1 462.5,150.0 462.0,151.3 461.5,150.9 461.0,150.6 460.5,149.8 460.0,150.6 459.5,150.0 459.0,149.9 458.5,150.5 458.0,150.3 457.5,151.5 457.0,150.0 456.5,152.2 456.0,151.4 455.5,150.6 455.0,151.1 454.5,151.9 454.0,151.4 453.5,150.9 453.0,150.6 452.5,150.0 452.0,151.5 451.5,149.9 451.0,149.9 450.5,151.4 450.0,149.5 449.5,150.4 449.0,149.7 448.5,150.0 448.0,150.8 447.5,151.0 447.0,149.5 446.5,151.3 446.0,150.7 445.5,149.6 445.0,149.8 444.5,150.9 444.0,149.9 443.5,149.5 443.0,151.7 442.5,150.1 442.0,149.5 441.5,152.4 441.0,151.7 440.5,151.1 440.0,150.5 439.5,149.6 439.0,149.6 438.5,149.8 438.0,149.4 437.5,150.0 437.0,150.8 436.5,149.9 436.0,149.6 435.5,149.3 435.0,149.4 434.5,151.5 434.0,150.5 433.5,150.8 433.0,150.6 432.5,151.0 432.0,150.2 431.5,150.4 431.0,151.4 430.5,150.2 430.0,150.0 429.5,149.8 429.0,150.7 428.5,150.1 428.0,150.1 427.5,150.0 427.0,150.4 426.5,149.7 426.0,150.7 425.5,149.9 425.0,150.6 424.5,150.6 424.0,150.1 423.5,150.2 423.0,149.7 422.5,149.8 422.0,150.2 421.5,150.3 421.0,149.8 420.5,150.8 420.0,150.6 419.5,150.9 419.0,150.6 418.5,150.5 418.0,150.4 417.5,150.4 417.0,150.2 416.5,150.1 416.0,149.9 415.5,149.7 415.0,149.4 414.5,149.9 414.0,150.7 413.5,150.2 413.0,150.4 412.5,150.1 412.0,150.3 411.5,149.8 411.0,150.3 410.5,150.0 410.0,149.9 409.5,149.8 409.0,149.5 408.5,151.0 408.0,149.2 407.5,150.9 407.0,150.1 406.5,151.1 406.0,150.4 405.5,149.4 405.0,149.8 404.5,150.1 404.0,150.4 403.5,150.5 403.0,151.1 402.5,149.9 402.0,150.2 401.5,150.5 401.0,150.6 400.5,149.8 400.0,150.3 399.5,149.9 399.0,150.8 398.5,149.6 398.0,150.5 397.5,150.3 397.0,150.0 396.5,150.6 396.0,150.8 395.5,149.0 395.0,150.7 394.5,150.2 394.0,150.1 393.5,151.1 393.0,150.0 392.5,149.2 392.0,150.6 391.5,149.5 391.0,149.4 390.5,151.0 390.0,149.7 389.5,150.9 389.0,151.3 388.5,150.6 388.0,149.8 387.5,149.9 387.0,149.9 386.5,149.8 386.0,150.6 385.5,150.5 385.0,149.7 384.5,150.7 384.0,151.6 383.5,150.8 383.0,149.6 382.5,150.6 382.0,150.9 381.5,149.9 381.0,150.6 380.5,151.2 380.0,149.7 379.5,151.8 379.0,150.3 378.5,150.5 378.0,149.2 377.5,151.4 377.0,151.6 376.5,150.8 376.0,150.1 375.5,150.1 375.0,149.4 374.5,150.3 374.0,150.2 373.5,149.3 373.0,150.4 372.5,151.3 372.0,150.1 371.5,149.6 371.0,151.5 370.5,151.4 370.0,149.7 369.5,150.7 369.0,149.9 368.5,149.9 368.0,150.0 367.5,149.6 367.0,149.9 366.5,150.8 366.0,150.7 365.5,149.8 365.0,150.4 364.5,150.8 364.0,150.9 363.5,150.8 363.0,150.0 362.5,151.1 362.0,150.2 361.5,151.5 361.0,150.8 360.5,151.2 360.0,150.9 359.5,150.7 359.0,150.2 358.5,150.9 358.0,151.6 357.5,149.7 357.0,150.6 356.5,150.5 356.0,149.6 355.5,149.7 355.0,150.6 354.5,150.9 354.0,149.9 353.5,149.8 353.0,150.2 352.5,150.2 352.0,150.8 351.5,150.2 351.0,150.3 350.5,150.6 350.0,150.8 349.5,151.5 349.0,149.7 348.5,151.1 348.0,150.1 347.5,150.5 347.0,152.0 346.5,150.2 346.0,150.1 345.5,149.7 345.0,150.2 344.5,151.3 344.0,149.9 343.5,151.0 343.0,151.4 342.5,150.5 342.0,150.3 341.5,149.4 341.0,149.3 340.5,150.7 340.0,150.9 339.5,150.2 339.0,151.5 338.5,150.9 338.0,149.7 337.5,150.0 337.0,149.7 336.5,150.1 336.0,149.7 335.5,150.9 335.0,149.6 334.5,150.2 334.0,150.9 333.5,149.4 333.0,149.4 332.5,149.7 332.0,149.2 331.5,150.4 331.0,149.9 330.5,150.7 330.0,149.1 329.5,149.6 329.0,149.7 328.5,150.0 328.0,149.9 327.5,150.1 327.0,150.2 326.5,149.5 326.0,150.8 325.5,150.0 325.0,149.4 324.5,149.9 324.0,150.4 323.5,149.6 323.0,150.4 322.5,150.2 322.0,150.6 321.5,149.3 321.0,149.2 320.5,150.1 320.0,150.5 319.5,150.2 319.0,149.8 318.5,150.4 318.0,150.2 317.5,149.2 317.0,150.5 316.5,150.4 316.0,149.3 315.5,150.3 315.0,150.2 314.5,150.0 314.0,149.9 313.5,150.0 313.0,149.9 312.5,150.2 312.0,150.9 311.5,149.8 311.0,150.2 310.5,150.6 310.0,150.3 309.5,150.8 309.0,151.3 308.5,149.2 308.0,150.5 307.5,151.1 307.0,150.3 306.5,149.7 306.0,150.1 305.5,149.5 305.0,150.8 304.5,150.2 304.0,150.3 303.5,150.2 303.0,150.0 302.5,150.7 302.0,150.7 301.5,149.1 301.0,150.1 300.5,151.4 300.0,150.4 299.5,150.7 299.0,150.0 298.5,150.5 298.0,150.6 297.5,150.0 297.0,150.1 296.5,150.8 296.0,150.0 295.5,149.5 295.0,151.0 294.5,150.3 294.0,151.4 293.5,151.1 293.0,150.0 292.5,150.9 292.0,149.9 291.5,150.4 291.0,151.1 290.5,149.8 290.0,151.4 289.5,151.1 289.0,151.2 288.5,149.5 288.0,149.9 287.5,150.6 287.0,150.2 286.5,149.2 286.0,149.4 285.5,149.6 285.0,149.6 284.5,149.7 284.0,150.0 283.5,151.6 283.0,150.5 282.5,151.1 282.0,149.6 281.5,150.5 281.0,149.2 280.5,149.9 280.0,150.7 279.5,150.5 279.0,149.5 278.5,149.8 278.0,151.9 277.5,150.4 277.0,150.0 276.5,152.7 276.0,151.8 275.5,150.8 275.0,150.2 274.5,150.8 274.0,151.2 273.5,152.0 273.0,151.3 272.5,150.6 272.0,151.5 271.5,150.0 271.0,151.2 270.5,149.5 270.0,150.7 269.5,150.5 269.0,149.1 268.5,150.4 268.0,150.2 267.5,149.8 267.0,150.0 266.5,149.2 266.0,150.3 265.5,150.1 265.0,149.7 264.5,150.1 264.0,150.0 263.5,150.7 263.0,150.3 262.5,149.8 262.0,150.6 261.5,150.3 261.0,150.0 260.5,149.7 260.0,149.3 259.5,149.7 259.0,149.3 258.5,150.7 258.0,151.1 257.5,149.5 257.0,150.7 256.5,149.8 256.0,150.5 255.5,149.5 255.0,149.9 254.5,149.7 254.0,149.8 253.5,150.5 253.0,149.4 252.5,150.2 252.0,149.6 251.5,150.2 251.0,150.3 250.5,149.8 250.0,149.7 249.5,149.9 249.0,149.6 248.5,150.6 248.0,149.7 247.5,150.8 247.0,150.1 246.5,149.3 246.0,149.7 245.5,150.0 245.0,149.7 244.5,150.0 244.0,150.1 243.5,150.5 243.0,149.8 242.5,150.3 242.0,150.2 241.5,149.9 241.0,149.9 240.5,150.8 240.0,149.5 239.5,149.6 239.0,150.1 238.5,150.2 238.0,149.8 237.5,149.4 237.0,150.2 236.5,150.2 236.0,149.6 235.5,149.5 235.0,150.1 234.5,150.1 234.0,149.2 233.5,150.1 233.0,150.1 232.5,149.8 232.0,149.9 231.5,150.4 231.0,149.5 230.5,149.6 230.0,150.1 229.5,149.6 229.0,150.4 228.5,150.5 228.0,150.1 227.5,149.9 227.0,149.4 226.5,149.7 226.0,150.0 225.5,149.8 225.0,150.3 224.5,149.7 224.0,150.5 223.5,149.9 223.0,150.2 222.5,149.9 222.0,149.6 221.5,151.2 221.0,150.8 220.5,150.5 220.0,150.3 219.5,150.0 219.0,151.2 218.5,151.0 218.0,149.7 217.5,150.0 217.0,150.5 216.5,149.1 216.0,150.0 215.5,150.9 215.0,150.5 214.5,149.7 214.0,149.9 213.5,150.2 213.0,149.7 212.5,149.5 212.0,150.0 211.5,149.1 211.0,149.7 210.5,149.8 210.0,150.0 209.5,149.9 209.0,150.7 208.5,149.8 208.0,150.1 207.5,150.3 207.0,149.9 206.5,149.8 206.0,150.5 205.5,150.0 205.0,149.7 204.5,150.3 204.0,149.9 203.5,150.4 203.0,149.7 202.5,149.7 202.0,150.1 201.5,150.3 201.0,150.1 200.5,149.8 200.0,150.1 199.5,149.5 199.0,150.0 198.5,149.5 198.0,150.2 197.5,150.0 197.0,150.0 196.5,150.8 196.0,150.9 195.5,150.8 195.0,149.9 194.5,149.7 194.0,150.8 193.5,150.1 193.0,151.2 192.5,149.5 192.0,150.1 191.5,150.7 191.0,150.1 190.5,149.6 190.0,151.5 189.5,150.0 189.0,151.1 188.5,150.7 188.0,150.8 187.5,150.2 187.0,150.8 186.5,150.2 186.0,150.0 185.5,150.0 185.0,149.6 184.5,150.1 184.0,149.9 183.5,149.3 183.0,149.2 182.5,149.4 182.0,150.5 181.5,150.1 181.0,149.4 180.5,150.4 180.0,150.1 179.5,151.4 179.0,150.2 178.5,149.5 178.0,150.7 177.5,150.5 177.0,150.8 176.5,149.7 176.0,150.2 175.5,149.7 175.0,149.8 174.5,150.1 174.0,150.0 173.5,150.4 173.0,150.0 172.5,150.6 172.0,151.6 171.5,149.8 171.0,150.5 170.5,150.0 170.0,149.1 169.5,150.7 169.0,150.1 168.5,151.0 168.0,149.3 167.5,150.5 167.0,149.7 166.5,149.7 166.0,150.2 165.5,151.2 165.0,150.5 164.5,150.2 164.0,150.5 163.5,150.5 163.0,150.5 162.5,150.7 162.0,150.0 161.5,150.0 161.0,150.2 160.5,150.0 160.0,149.5 159.5,149.2 159.0,150.5 158.5,150.4 158.0,150.8 157.5,149.7 157.0,149.8 156.5,150.4 156.0,150.0 155.5,150.5 155.0,150.3 154.5,149.7 154.0,150.0 153.5,150.4 153.0,150.5 152.5,149.5 152.0,149.6 151.5,149.3 151.0,151.0 150.5,150.6 150.0,150.1 149.5,150.4 149.0,151.9 148.5,151.5 148.0,151.1 147.5,150.2 147.0,151.3 146.5,150.9 146.0,151.5 145.5,150.1 145.0,150.3 144.5,151.5 144.0,150.8 143.5,151.7 143.0,150.9 142.5,150.8 142.0,151.8 141.5,149.8 141.0,151.0 140.5,150.3 140.0,151.4 139.5,151.2 139.0,150.8 138.5,150.9 138.0,150.6 137.5,151.1 137.0,150.9 136.5,150.6 136.0,150.5 135.5,150.3 135.0,149.8 134.5,150.3 134.0,149.7 133.5,150.8 133.0,150.5 132.5,150.3 132.0,150.9 131.5,149.5 131.0,150.7 130.5,151.0 130.0,151.4 129.5,149.9 129.0,149.7 128.5,151.2 128.0,150.7 127.5,150.8 127.0,150.7 126.5,149.7 126.0,150.2 125.5,151.1 125.0,150.4 124.5,150.0 124.0,149.9 123.5,150.5 123.0,149.5 122.5,151.1 122.0,149.9 121.5,151.0 121.0,151.0 120.5,149.2 120.0,150.8 119.5,150.2 119.0,150.0 118.5,150.6 118.0,150.3 117.5,150.0 117.0,149.8 116.5,150.9 116.0,150.0 115.5,149.9 115.0,149.6 114.5,149.6 114.0,149.7 113.5,149.5 113.0,150.6 112.5,151.0 112.0,149.5 111.5,149.5 111.0,150.0 110.5,149.3 110.0,149.5 109.5,150.1 109.0,149.7 108.5,149.8 108.0,149.8 107.5,149.5 107.0,150.5 106.5,150.1 106.0,149.7 105.5,150.8 105.0,150.1 104.5,150.7 104.0,149.9 103.5,150.0 103.0,149.3 102.5,150.4 102.0,149.1 101.5,149.5 101.0,150.6 100.5,150.0 100.0,150.6 99.5,150.6 99.0,149.8 98.5,149.9 98.0,150.5 97.5,150.3 97.0,149.8 96.5,149.2 96.0,150.0 95.5,149.8 95.0,149.9 94.5,150.4 94.0,149.8 93.5,149.6 93.0,150.0 92.5,150.3 92.0,149.5 91.5,150.0 91.0,150.8 90.5,150.1 90.0,151.2 89.5,150.3 89.0,150.2 88.5,150.2 88.0,150.3 87.5,150.5 87.0,150.3 86.5,151.2 86.0,150.2 85.5,150.3 85.0,150.2 84.5,149.8 84.0,151.4 83.5,150.0 83.0,149.7 82.5,151.1 82.0,149.5 81.5,150.1 81.0,151.0 80.5,150.2 80.0,150.2 79.5,150.0 79.0,149.9 78.5,149.7 78.0,149.6 77.5,149.9 77.0,149.9 76.5,149.8 76.0,150.3 75.5,150.8 75.0,149.9 74.5,149.3 74.0,149.9 73.5,149.5 73.0,149.4 72.5,149.3 72.0,149.9 71.5,150.3 71.0,151.3 70.5,150.4 70.0,150.3 69.5,149.4 69.0,149.6 68.5,150.3 68.0,150.5 67.5,150.3 67.0,150.1 66.5,150.2 66.0,150.1 65.5,150.0 65.0,150.1 64.5,149.4 64.0,149.9 63.5,150.2 63.0,149.6 62.5,149.1 62.0,149.9 61.5,150.5 61.0,151.0 60.5,151.1 60.0,149.8 59.5,150.1 59.0,150.0 58.5,150.1 58.0,149.2 57.5,150.0 57.0,150.3 56.5,150.2 56.0,150.9 55.5,149.4 55.0,149.7 54.5,150.6 54.0,149.9 53.5,149.4 53.0,150.4 52.5,150.1 52.0,150.5 51.5,149.6 51.0,149.9 50.5,150.4 50.0,149.3 49.5,149.2 49.0,151.1 48.5,149.6 48.0,149.4 47.5,149.7 47.0,150.6 46.5,150.1 46.0,149.9 45.5,150.0 45.0,149.5 44.5,149.6 44.0,150.3 43.5,150.1 43.0,151.0 42.5,149.9 42.0,149.3 41.5,150.7 41.0,150.1 40.5,150.2 40.0,150.9 39.5,151.0 39.0,151.2 38.5,150.0 38.0,150.5 37.5,150.6 37.0,150.8 36.5,149.4 36.0,150.0 35.5,149.5 35.0,149.5 34.5,150.7 34.0,151.0 33.5,150.3 33.0,149.3" fill="#00f"/><path d="M104.4 137.5V159.2M141.0 142.6V159.2M150.0 138.8V155.4M249.9 129.8V169.4M255.4 143.9V182.2M259.4 145.2V165.6M277.0 131.1V157.9M305.0 137.5V152.8M327.0 140.0V161.8M342.7 140.0V163.0M347.7 140.0V163.0M373.3 136.2V152.8M389.4 104.3V175.8M434.5 119.6V173.3M439.0 134.9V155.4M449.0 129.8V160.5M453.0 122.2V178.4M456.6 132.4V163.0M458.6 134.9V160.5M471.6 132.4V163.0M474.0 136.2V170.7M479.0 123.4V170.7M482.0 133.7V160.5M492.0 142.6V160.5M507.8 134.9V152.8M549.4 59.5V242.3M574.5 136.2V155.4M603.0 138.8V154.1M609.6 137.5V157.9M618.2 142.6V170.7M625.7 129.8V169.4M628.0 133.7V163.0" stroke="#00f" stroke-opacity="0.42" stroke-width="1.3" fill="none"/><path d="M104.4 143.1V152.9M141.0 145.4V152.9M150.0 143.7V151.2M249.9 139.7V157.5M255.4 146.0V163.2M259.4 146.6V155.8M277.0 140.2V152.3M305.0 143.1V150.0M327.0 144.3V154.0M342.7 144.3V154.6M347.7 144.3V154.6M373.3 142.5V150.0M389.4 128.2V160.4M434.5 135.1V159.2M439.0 142.0V151.2M449.0 139.7V153.5M453.0 136.2V161.5M456.6 140.8V154.6M458.6 142.0V153.5M471.6 140.8V154.6M474.0 142.5V158.1M479.0 136.8V158.1M482.0 141.4V153.5M492.0 145.4V153.5M507.8 142.0V150.0M549.4 108.0V190.3M574.5 142.5V151.2M603.0 143.7V150.6M609.6 143.1V152.3M618.2 145.4V158.1M625.7 139.7V157.5M628.0 141.4V154.6" stroke="#00f" stroke-opacity="0.35" stroke-width="1.3" fill="none"/>
</g>
<text x="33.0" y="264.8" text-anchor="middle" font-size="12.5">00:00</text>
<text x="108.3" y="264.8" text-anchor="middle" font-size="12.5">03:00</text>
<text x="183.6" y="264.8" text-anchor="middle" font-size="12.5">06:00</text>
<text x="258.9" y="264.8" text-anchor="middle" font-size="12.5">09:00</text>
<text x="334.2" y="264.8" text-anchor="middle" font-size="12.5">12:00</text>
<text x="409.6" y="264.8" text-anchor="middle" font-size="12.5">15:00</text>
<text x="484.9" y="264.8" text-anchor="middle" font-size="12.5">18:00</text>
<text x="560.2" y="264.8" text-anchor="middle" font-size="12.5">21:00</text>
<text x="635.5" y="264.8" text-anchor="middle" font-size="12.5">00:00</text>
<text x="28.4" y="50.2" text-anchor="end" font-size="12.5">4</text>
<text x="28.4" y="101.3" text-anchor="end" font-size="12.5">2</text>
<text x="28.4" y="152.4" text-anchor="end" font-size="12.5">0</text>
<text x="28.4" y="203.5" text-anchor="end" font-size="12.5">-2</text>
<text x="28.4" y="254.6" text-anchor="end" font-size="12.5">-4</text>
<text x="9.2" y="147.9" text-anchor="middle" font-weight="bold" transform="rotate(-90 9.2 147.9)" font-size="12.5">X (nT)</text>
<path d="M33.0 330.0H635.5V534.45H33.0ZM108.3 534.45v-6.5M108.3 330.00v6.5M183.6 534.45v-6.5M183.6 330.00v6.5M258.9 534.45v-6.5M258.9 330.00v6.5M334.2 534.45v-6.5M334.2 330.00v6.5M409.6 534.45v-6.5M409.6 330.00v6.5M484.9 534.45v-6.5M484.9 330.00v6.5M560.2 534.45v-6.5M560.2 330.00v6.5M33.0 359.21h6.5M635.5 359.21h-6.5M33.0 388.41h6.5M635.5 388.41h-6.5M33.0 417.62h6.5M635.5 417.62h-6.5M33.0 446.83h6.5M635.5 446.83h-6.5M33.0 476.04h6.5M635.5 476.04h-6.5M33.0 505.24h6.5M635.5 505.24h-6.5" fill="none" stroke="#8e8e8e" stroke-width="1"/>
<g clip-path="url(#cl1)">
<path d="M33.0 412.9V425.1M34.0 414.5V423.7M35.0 413.6V422.7M36.0 410.3V425.4M37.0 413.9V421.3M38.0 412.0V424.6M39.0 411.6V426.6M40.0 414.2V420.9M41.0 414.6V421.0M42.0 414.3V419.7M43.0 414.9V419.9M44.0 415.6V420.3M45.0 415.5V419.8M46.0 413.5V423.1M47.0 414.6V423.5M48.0 414.6V420.5M49.0 415.0V420.2M50.0 412.0V423.4M51.0 415.2V422.5M52.0 411.2V421.5M53.0 410.9V422.6M54.0 413.3V428.2M55.0 409.4V425.0M56.0 412.4V422.8M57.0 413.9V426.8M58.0 409.6V423.4M59.0 411.8V426.6M60.0 408.9V423.2M61.0 412.8V421.0M62.0 413.4V425.1M63.0 413.8V420.9M64.0 414.2V421.7M65.0 414.1V421.4M66.0 408.8V425.9M67.0 410.0V422.8M68.0 412.6V420.3M69.0 414.5V423.0M70.0 411.8V422.1M71.0 413.6V420.3M72.0 414.8V421.2M73.0 413.3V424.4M74.0 414.3V423.2M75.0 414.7V422.3M76.0 410.5V420.4M77.0 413.6V423.7M78.0 413.0V423.3M79.0 413.5V426.8M80.0 414.6V420.3M81.0 415.6V420.2M82.0 414.5V421.4M83.0 412.5V424.7M84.0 413.0V421.9M85.0 413.9V425.3M86.0 413.4V423.0M87.0 415.6V420.6M88.0 413.3V420.3M89.0 413.3V421.7M90.0 413.5V421.4M91.0 414.0V421.1M92.0 414.2V421.5M93.0 413.2V420.6M94.0 415.0V420.2M95.0 414.9V424.6M96.0 414.9V421.0M97.0 410.4V424.9M98.0 413.5V422.1M99.0 412.8V424.3M100.0 406.8V424.6M101.0 412.5V422.1M102.0 411.5V423.3M103.0 410.6V421.9M104.0 413.8V424.7M105.0 411.4V421.5M106.0 412.9V422.5M107.0 411.6V423.7M108.0 409.3V432.9M109.0 407.4V426.6M110.0 411.9V422.4M111.0 412.3V421.6M112.0 413.3V421.8M113.0 412.2V424.2M114.0 415.1V420.4M115.0 410.0V426.1M116.0 412.7V423.4M117.0 407.6V427.2M118.0 409.1V427.6M119.0 409.2V426.7M120.0 411.9V425.3M121.0 409.7V423.1M122.0 412.4V421.3M123.0 409.7V422.2M124.0 414.3V421.1M125.0 413.6V422.2M126.0 413.4V421.9M127.0 413.6V426.4M128.0 413.5V421.8M129.0 413.8V421.9M130.0 409.0V421.9M131.0 410.3V424.3M132.0 413.3V422.0M133.0 408.7V422.2M134.0 410.3V423.0M135.0 407.7V427.8M136.0 406.2V422.9M137.0 411.4V428.8M138.0 413.3V421.9M139.0 407.7V428.0M140.0 402.9V425.0M141.0 408.8V424.7M142.0 408.3V426.0M143.0 405.0V427.9M144.0 412.8V423.1M145.0 410.5V422.7M146.0 409.0V431.2M147.0 411.8V423.8M148.0 411.0V424.8M149.0 408.9V425.5M150.0 408.8V433.9M151.0 409.3V426.1M152.0 403.5V428.5M153.0 410.3V435.8M154.0 406.0V425.6M155.0 410.9V425.9M156.0 411.4V423.6M157.0 410.1V423.5M158.0 411.9V423.2M159.0 412.3V423.0M160.0 412.4V422.5M161.0 411.5V422.3M162.0 410.7V421.6M163.0 409.6V421.4M164.0 412.9V421.2M165.0 411.2V420.9M166.0 412.1V421.5M167.0 412.9V421.1M168.0 415.3V420.4M169.0 411.9V420.4M170.0 408.8V423.2M171.0 413.4V422.6M172.0 412.9V421.9M173.0 412.1V423.2M174.0 410.5V429.6M175.0 405.7V423.2M176.0 410.0V423.1M177.0 411.5V422.7M178.0 409.2V429.6M179.0 412.5V421.8M180.0 413.7V424.0M181.0 410.1V422.2M182.0 413.8V423.3M183.0 412.2V421.6M184.0 412.5V420.3M185.0 413.2V420.3M186.0 413.2V422.7M187.0 414.1V423.0M188.0 413.7V421.4M189.0 408.8V421.4M190.0 411.7V422.8M191.0 413.3V421.9M192.0 413.7V426.6M193.0 413.6V420.9M194.0 414.9V420.1M195.0 415.3V419.7M196.0 414.5V419.8M197.0 414.3V419.8M198.0 415.3V420.4M199.0 415.2V422.2M200.0 414.6V422.0M201.0 414.3V421.1M202.0 411.8V420.4M203.0 410.8V423.8M204.0 413.6V420.7M205.0 410.3V424.5M206.0 410.1V423.5M207.0 407.5V427.7M208.0 410.1V421.7M209.0 414.3V421.4M210.0 414.3V423.7M211.0 414.8V420.7M212.0 415.4V422.4M213.0 412.9V421.8M214.0 415.0V421.0M215.0 411.7V421.4M216.0 409.9V425.4M217.0 407.7V422.9M218.0 410.5V421.3M219.0 412.6V423.2M220.0 413.8V421.1M221.0 413.9V422.7M222.0 412.0V421.2M223.0 412.5V420.5M224.0 413.4V420.7M225.0 414.9V422.8M226.0 415.2V421.1M227.0 414.9V421.6M228.0 414.6V420.6M229.0 414.1V420.4M230.0 414.9V420.5M231.0 411.1V420.5M232.0 414.5V423.2M233.0 412.5V422.0M234.0 409.5V422.2M235.0 413.9V423.8M236.0 414.2V423.5M237.0 413.0V419.8M238.0 412.2V420.6M239.0 411.3V421.1M240.0 414.3V423.5M241.0 414.5V424.4M242.0 413.2V422.6M243.0 415.1V420.1M244.0 413.2V421.8M245.0 413.4V423.4M246.0 412.3V429.3M247.0 407.6V425.3M248.0 413.1V422.1M249.0 413.3V426.1M250.0 412.5V422.7M251.0 411.5V423.6M252.0 412.6V422.1M253.0 412.7V426.7M254.0 413.1V422.9M255.0 413.2V421.1M256.0 414.1V425.4M257.0 413.4V421.6M258.0 411.8V425.1M259.0 411.6V425.8M260.0 415.1V420.2M261.0 414.0V421.3M262.0 413.7V422.5M263.0 410.7V420.6M264.0 412.6V422.0M265.0 411.6V425.7M266.0 413.8V420.6M267.0 412.2V422.7M268.0 411.3V420.8M269.0 412.4V420.8M270.0 412.9V421.0M271.0 413.5V426.8M272.0 413.7V421.5M273.0 412.6V422.0M274.0 411.4V422.7M275.0 405.0V423.3M276.0 411.6V424.2M277.0 412.0V425.0M278.0 410.5V422.2M279.0 412.4V427.9M280.0 413.1V423.3M281.0 412.3V427.4M282.0 411.9V425.4M283.0 412.7V423.1M284.0 414.2V421.4M285.0 414.4V422.1M286.0 412.6V421.6M287.0 413.3V422.0M288.0 407.2V425.7M289.0 410.2V422.9M290.0 409.8V421.2M291.0 413.9V420.3M292.0 413.3V420.7M293.0 415.3V420.9M294.0 414.7V420.0M295.0 414.8V420.8M296.0 412.6V425.0M297.0 407.8V423.3M298.0 413.3V422.0M299.0 408.4V422.1M300.0 412.4V428.2M301.0 413.0V421.6M302.0 415.0V423.3M303.0 415.6V421.1M304.0 415.3V419.7M305.0 413.0V419.9M306.0 414.4V420.1M307.0 411.8V421.3M308.0 413.6V425.3M309.0 413.4V424.8M310.0 413.3V421.8M311.0 411.5V421.1M312.0 413.3V420.2M313.0 411.2V420.2M314.0 415.3V421.0M315.0 413.9V420.0M316.0 415.1V420.6M317.0 414.7V419.9M318.0 414.3V420.6M319.0 415.7V419.6M320.0 415.7V419.6M321.0 415.7V419.6M322.0 415.2V420.1M323.0 413.6V423.3M324.0 411.7V422.9M325.0 413.5V421.5M326.0 412.4V422.7M327.0 412.2V424.2M328.0 406.6V425.5M329.0 407.0V430.3M330.0 409.6V428.2M331.0 412.9V424.9M332.0 413.1V421.7M333.0 414.6V420.9M334.0 411.6V421.5M335.0 415.3V420.5M336.0 415.4V419.8M337.0 413.3V421.8M338.0 414.9V420.7M339.0 415.1V420.2M340.0 411.5V420.7M341.0 413.6V423.9M342.0 413.5V422.3M343.0 413.1V421.9M344.0 411.1V421.9M345.0 412.4V421.9M346.0 413.4V421.7M347.0 413.4V426.5M348.0 413.7V426.5M349.0 414.1V420.8M350.0 411.5V420.6M351.0 412.8V421.4M352.0 414.8V421.0M353.0 414.5V420.9M354.0 413.3V421.4M355.0 412.9V420.7M356.0 410.4V421.4M357.0 412.4V421.4M358.0 414.5V421.9M359.0 409.7V421.1M360.0 413.7V424.3M361.0 414.1V424.1M362.0 414.8V421.7M363.0 414.3V420.4M364.0 413.8V420.6M365.0 411.8V423.3M366.0 412.2V422.7M367.0 408.1V423.7M368.0 412.2V422.3M369.0 408.1V423.9M370.0 410.5V421.6M371.0 411.5V422.7M372.0 415.4V420.2M373.0 414.3V420.7M374.0 412.7V422.3M375.0 415.2V420.0M376.0 414.7V420.7M377.0 408.5V422.9M378.0 412.2V426.6M379.0 412.5V423.4M380.0 412.7V421.1M381.0 415.2V420.6M382.0 414.3V421.4M383.0 411.8V421.8M384.0 409.5V422.7M385.0 409.1V425.0M386.0 410.1V424.0M387.0 413.0V423.1M388.0 411.5V421.9M389.0 413.5V424.2M390.0 411.0V421.9M391.0 413.7V421.7M392.0 413.8V427.3M393.0 413.8V422.1M394.0 414.1V425.3M395.0 412.7V421.1M396.0 415.3V419.9M397.0 414.9V420.5M398.0 415.2V420.0M399.0 413.5V423.8M400.0 415.1V421.1M401.0 414.7V420.3M402.0 415.3V422.8M403.0 414.9V423.1M404.0 413.7V421.9M405.0 411.7V421.5M406.0 412.0V421.4M407.0 413.5V421.5M408.0 408.7V424.5M409.0 413.7V421.2M410.0 411.3V420.2M411.0 414.9V422.5M412.0 414.8V421.1M413.0 408.6V425.8M414.0 411.4V425.1M415.0 410.2V428.0M416.0 414.1V424.7M417.0 414.7V424.3M418.0 412.5V420.6M419.0 415.2V421.1M420.0 415.3V420.0M421.0 413.3V422.2M422.0 413.9V421.7M423.0 413.4V420.6M424.0 414.0V424.5M425.0 407.5V424.9M426.0 410.3V422.8M427.0 413.1V428.6M428.0 413.9V425.4M429.0 409.1V425.0M430.0 413.7V425.1M431.0 412.5V421.0M432.0 412.9V422.7M433.0 407.8V425.1M434.0 412.7V422.4M435.0 408.4V422.9M436.0 412.4V425.2M437.0 412.3V422.8M438.0 404.7V424.7M439.0 412.8V423.9M440.0 411.5V422.3M441.0 411.4V422.3M442.0 412.7V422.1M443.0 414.0V421.1M444.0 412.1V424.5M445.0 414.0V421.8M446.0 409.8V422.9M447.0 406.5V423.7M448.0 410.9V429.5M449.0 409.0V433.9M450.0 410.6V426.2M451.0 404.3V425.4M452.0 409.8V432.4M453.0 406.5V434.0M454.0 410.2V425.6M455.0 410.5V427.6M456.0 406.1V426.6M457.0 411.2V424.3M458.0 405.3V423.4M459.0 411.1V423.7M460.0 404.7V428.6M461.0 412.9V422.3M462.0 411.2V426.3M463.0 413.3V422.0M464.0 406.7V424.6M465.0 411.2V426.4M466.0 406.3V422.6M467.0 412.1V421.8M468.0 411.7V423.5M469.0 411.4V425.8M470.0 414.4V420.9M471.0 414.4V421.6M472.0 413.7V425.9M473.0 405.7V429.4M474.0 411.4V432.4M475.0 410.9V423.8M476.0 405.6V425.0M477.0 402.2V432.0M478.0 410.5V424.9M479.0 410.4V431.1M480.0 407.5V433.9M481.0 409.7V424.6M482.0 409.6V424.6M483.0 403.4V429.3M484.0 403.4V424.6M485.0 409.0V424.8M486.0 411.3V423.5M487.0 412.3V426.5M488.0 407.4V423.3M489.0 413.6V421.6M490.0 411.6V421.9M491.0 406.4V422.6M492.0 412.5V423.7M493.0 408.5V422.7M494.0 410.0V421.9M495.0 410.9V423.8M496.0 414.0V422.3M497.0 414.3V420.9M498.0 414.4V421.7M499.0 413.9V422.2M500.0 413.4V421.7M501.0 408.1V422.7M502.0 413.7V422.3M503.0 414.0V422.7M504.0 414.0V421.2M505.0 413.2V421.8M506.0 407.2V422.7M507.0 410.2V423.5M508.0 412.3V428.0M509.0 406.2V423.5M510.0 410.0V422.2M511.0 413.5V428.1M512.0 413.2V425.9M513.0 414.1V421.3M514.0 410.8V421.2M515.0 412.5V421.7M516.0 413.5V423.3M517.0 412.4V422.7M518.0 413.3V422.7M519.0 415.1V422.3M520.0 413.1V421.7M521.0 410.3V420.9M522.0 414.1V424.7M523.0 409.0V422.3M524.0 413.2V422.5M525.0 412.3V425.0M526.0 412.5V423.3M527.0 410.9V420.9M528.0 411.9V420.5M529.0 415.0V420.3M530.0 415.1V420.2M531.0 414.1V423.5M532.0 411.9V420.4M533.0 413.0V422.9M534.0 414.7V424.0M535.0 414.9V422.4M536.0 415.0V422.4M537.0 414.8V421.8M538.0 414.8V421.7M539.0 414.0V421.6M540.0 413.7V426.2M541.0 411.3V425.1M542.0 415.0V421.4M543.0 412.9V419.9M544.0 415.3V421.0M545.0 415.0V419.8M546.0 415.4V419.6M547.0 413.6V419.9M548.0 413.4V423.5M549.0 413.6V423.0M550.0 414.6V420.5M551.0 409.3V424.1M552.0 412.5V424.3M553.0 411.3V422.4M554.0 408.7V427.5M555.0 413.3V421.7M556.0 413.5V421.9M557.0 413.8V421.5M558.0 411.8V423.5M559.0 412.1V422.0M560.0 412.0V422.1M561.0 406.6V422.4M562.0 411.3V422.3M563.0 411.8V420.9M564.0 411.3V420.7M565.0 413.2V420.4M566.0 415.0V420.4M567.0 414.6V420.6M568.0 410.9V422.1M569.0 412.6V426.0M570.0 413.7V423.8M571.0 407.3V425.8M572.0 411.7V427.2M573.0 411.5V425.0M574.0 413.2V428.9M575.0 408.1V427.7M576.0 414.0V421.3M577.0 413.8V422.0M578.0 410.2V422.9M579.0 412.9V422.2M580.0 413.8V423.0M581.0 414.1V421.0M582.0 413.5V420.3M583.0 413.6V422.3M584.0 414.7V420.0M585.0 413.8V421.9M586.0 414.7V421.2M587.0 411.9V421.1M588.0 415.0V424.0M589.0 414.5V422.0M590.0 413.4V421.9M591.0 412.8V427.2M592.0 412.6V428.2M593.0 414.8V421.3M594.0 413.8V420.5M595.0 415.2V419.9M596.0 414.8V420.4M597.0 414.3V420.9M598.0 411.3V422.6M599.0 413.4V421.0M600.0 413.2V420.7M601.0 413.0V421.5M602.0 410.2V421.1M603.0 409.7V420.7M604.0 414.1V421.0M605.0 413.4V423.7M606.0 408.3V422.2M607.0 408.2V423.8M608.0 409.5V423.5M609.0 413.0V421.5M610.0 413.1V425.4M611.0 409.0V424.1M612.0 407.3V426.2M613.0 412.0V426.7M614.0 409.1V429.1M615.0 413.4V426.0M616.0 413.1V422.0M617.0 405.9V426.0M618.0 412.0V425.4M619.0 412.0V426.8M620.0 410.8V424.0M621.0 410.4V421.8M622.0 413.1V422.2M623.0 411.4V422.9M624.0 411.5V423.6M625.0 405.4V425.8M626.0 402.3V427.0M627.0 410.8V426.9M628.0 405.5V424.5M629.0 409.6V424.3M630.0 406.3V423.9M631.0 410.4V429.0M632.0 411.3V425.3M633.0 410.7V420.8M634.0 414.5V420.7M635.0 414.6V424.3" stroke="#00f" stroke-opacity="0.3" stroke-width="0.6" fill="none"/><path d="M33.0 415.0V421.1M33.5 415.1V420.6M34.0 414.4V420.0M34.5 413.1V422.2M35.0 413.8V422.0M35.5 414.4V422.3M36.0 413.9V419.6M36.5 415.3V422.6M37.0 414.7V419.5M37.5 414.7V422.6M38.0 414.2V421.4M38.5 414.4V421.0M39.0 414.0V422.6M39.5 413.2V422.3M40.0 415.8V419.3M40.5 414.0V421.8M41.0 415.9V420.8M41.5 414.4V420.9M42.0 414.6V419.9M42.5 415.0V419.4M43.0 416.2V419.9M43.5 415.5V420.5M44.0 415.2V419.9M44.5 416.0V420.5M45.0 415.9V419.0M45.5 415.3V419.4M46.0 416.3V419.2M46.5 414.5V419.3M47.0 415.2V421.2M47.5 414.4V419.5M48.0 414.7V420.8M48.5 413.8V421.3M49.0 415.7V420.0M49.5 414.3V419.8M50.0 415.8V421.0M50.5 414.6V420.1M51.0 416.2V420.3M51.5 415.1V419.8M52.0 414.6V421.5M52.5 415.9V421.9M53.0 414.2V422.5M53.5 414.1V420.8M54.0 414.9V422.3M54.5 411.4V420.7M55.0 412.7V422.8M55.5 415.5V422.1M56.0 414.4V421.7M56.5 414.5V423.0M57.0 413.1V420.3M57.5 413.2V423.2M58.0 415.6V422.9M58.5 415.5V421.1M59.0 414.2V422.1M59.5 414.3V420.9M60.0 413.8V420.4M60.5 412.7V422.4M61.0 415.4V420.4M61.5 415.4V419.6M62.0 415.5V422.5M62.5 413.2V420.1M63.0 413.2V421.4M63.5 413.2V419.9M64.0 415.5V420.3M64.5 415.3V420.4M65.0 412.5V419.9M65.5 413.5V420.0M66.0 412.2V420.9M66.5 412.8V420.3M67.0 416.0V420.0M67.5 414.3V421.0M68.0 414.7V420.7M68.5 415.8V419.6M69.0 416.4V418.9M69.5 415.8V418.9M70.0 414.3V420.4M70.5 414.7V420.6M71.0 415.7V421.5M71.5 415.8V419.5M72.0 414.9V419.4M72.5 413.6V419.5M73.0 416.2V421.6M73.5 414.9V420.5M74.0 415.5V420.2M74.5 415.5V419.9M75.0 415.2V419.1M75.5 415.4V419.2M76.0 414.3V421.6M76.5 415.1V421.7M77.0 413.0V422.4M77.5 414.7V420.7M78.0 413.5V422.8M78.5 411.2V420.3M79.0 412.9V420.4M79.5 413.1V421.8M80.0 415.1V421.0M80.5 416.4V419.2M81.0 416.0V418.6M81.5 414.7V419.8M82.0 413.9V421.2M82.5 415.5V421.0M83.0 412.8V420.8M83.5 412.1V421.3M84.0 412.6V420.3M84.5 411.5V420.2M85.0 413.0V421.6M85.5 414.6V421.3M86.0 414.5V419.4M86.5 414.7V419.3M87.0 416.2V420.1M87.5 415.2V418.9M88.0 414.9V420.8M88.5 415.0V420.7M89.0 414.0V421.3M89.5 414.0V419.9M90.0 412.1V421.8M90.5 414.8V420.9M91.0 414.4V422.6M91.5 414.1V419.9M92.0 415.7V421.5M92.5 414.6V419.5M93.0 414.0V421.1M93.5 416.0V420.9M94.0 414.0V419.5M94.5 416.0V421.4M95.0 414.4V421.0M95.5 415.3V420.4M96.0 414.4V420.3M96.5 413.3V420.6M97.0 413.0V422.4M97.5 413.7V421.5M98.0 414.7V422.1M98.5 415.3V421.6M99.0 414.9V422.2M99.5 413.5V422.4M100.0 412.1V423.1M100.5 415.7V421.5M101.0 413.1V420.2M101.5 415.3V420.1M102.0 415.9V420.1M102.5 415.0V421.6M103.0 412.6V420.8M103.5 415.2V421.6M104.0 414.6V421.8M104.5 415.5V422.6M105.0 413.7V422.1M105.5 415.4V422.5M106.0 413.2V422.1M106.5 410.3V421.4M107.0 412.0V425.2M107.5 409.7V423.1M108.0 410.6V421.6M108.5 414.2V424.9M109.0 410.8V422.8M109.5 411.5V424.3M110.0 414.3V420.3M110.5 415.1V420.9M111.0 413.9V419.9M111.5 415.0V421.0M112.0 415.5V422.4M112.5 415.4V419.3M113.0 416.0V419.6M113.5 414.5V420.5M114.0 414.6V421.1M114.5 415.6V419.3M115.0 413.7V419.8M115.5 414.2V422.7M116.0 411.6V423.2M116.5 410.6V420.6M117.0 409.7V422.2M117.5 414.1V425.5M118.0 413.2V423.9M118.5 410.7V423.0M119.0 410.8V421.6M119.5 411.4V420.7M120.0 411.6V423.1M120.5 410.6V423.4M121.0 413.7V425.0M121.5 414.8V420.0M122.0 413.1V420.0M122.5 414.9V422.0M123.0 413.1V422.0M123.5 413.8V419.9M124.0 415.5V421.5M124.5 412.9V422.7M125.0 413.0V420.6M125.5 415.4V422.8M126.0 414.0V421.9M126.5 413.8V420.6M127.0 413.9V422.1M127.5 414.4V422.2M128.0 415.5V419.9M128.5 415.0V419.7M129.0 415.0V422.6M129.5 414.1V422.9M130.0 412.9V422.3M130.5 412.7V422.6M131.0 414.6V421.9M131.5 413.2V421.9M132.0 414.3V423.8M132.5 412.1V422.6M133.0 414.1V422.8M133.5 414.8V424.1M134.0 413.0V420.4M134.5 414.0V424.7M135.0 412.7V422.4M135.5 412.8V420.9M136.0 414.2V424.1M136.5 413.1V420.4M137.0 411.3V421.7M137.5 413.6V423.3M138.0 411.8V420.8M138.5 414.8V420.6M139.0 412.9V420.4M139.5 414.9V425.2M140.0 412.4V424.6M140.5 413.4V422.5M141.0 408.9V425.8M141.5 412.9V426.5M142.0 410.1V422.0M142.5 414.4V423.6M143.0 411.7V424.8M143.5 413.0V424.3M144.0 413.9V424.7M144.5 410.4V424.4M145.0 412.9V425.2M145.5 411.0V422.3M146.0 412.3V421.7M146.5 413.6V425.2M147.0 410.6V423.3M147.5 410.3V420.7M148.0 412.4V426.5M148.5 408.4V422.8M149.0 406.9V428.9M149.5 411.8V423.8M150.0 405.6V425.1M150.5 406.9V423.0M151.0 410.4V426.4M151.5 406.4V421.9M152.0 409.7V424.3M152.5 411.9V422.7M153.0 410.4V424.2M153.5 408.1V426.4M154.0 409.0V421.2M154.5 412.6V422.5M155.0 412.0V421.9M155.5 414.1V425.9M156.0 411.4V423.7M156.5 413.2V422.1M157.0 410.6V424.6M157.5 409.8V425.2M158.0 409.9V421.5M158.5 411.4V422.1M159.0 412.8V421.2M159.5 411.4V422.0M160.0 410.8V421.4M160.5 414.6V422.2M161.0 414.4V420.4M161.5 412.7V420.7M162.0 412.0V422.0M162.5 413.0V420.9M163.0 414.8V420.2M163.5 415.2V422.4M164.0 415.4V419.5M164.5 415.0V419.9M165.0 413.9V421.8M165.5 415.7V420.8M166.0 415.4V419.6M166.5 415.9V420.1M167.0 414.6V419.1M167.5 414.9V419.4M168.0 416.0V419.2M168.5 415.9V419.0M169.0 415.2V419.8M169.5 413.2V421.0M170.0 413.1V422.8M170.5 412.4V421.8M171.0 414.6V422.2M171.5 415.2V420.6M172.0 414.0V422.5M172.5 411.1V422.3M173.0 412.5V423.8M173.5 413.7V423.4M174.0 413.4V424.3M174.5 413.9V421.0M175.0 410.7V421.5M175.5 411.0V421.4M176.0 410.9V421.3M176.5 413.0V423.4M177.0 411.6V421.2M177.5 412.1V422.1M178.0 411.3V424.0M178.5 414.8V422.7M179.0 414.5V419.9M179.5 412.9V423.1M180.0 413.2V423.1M180.5 414.2V419.6M181.0 415.3V422.4M181.5 413.0V421.4M182.0 415.5V421.8M182.5 416.0V419.6M183.0 413.8V420.8M183.5 416.0V421.3M184.0 415.2V421.5M184.5 414.9V419.9M185.0 414.1V421.0M185.5 414.8V419.5M186.0 415.7V421.5M186.5 414.4V420.5M187.0 414.5V421.4M187.5 415.3V420.9M188.0 415.3V421.0M188.5 415.4V422.1M189.0 413.0V421.8M189.5 413.0V420.4M190.0 414.6V422.3M190.5 414.6V420.2M191.0 415.4V421.8M191.5 414.6V421.4M192.0 412.9V422.1M192.5 415.7V421.8M193.0 413.3V422.3M193.5 414.8V420.9M194.0 414.9V421.3M194.5 416.2V419.3M195.0 414.6V419.3M195.5 414.9V420.2M196.0 415.7V419.4M196.5 414.4V420.1M197.0 414.6V420.1M197.5 415.9V421.0M198.0 415.7V419.5M198.5 415.0V419.5M199.0 416.4V419.4M199.5 416.4V420.6M200.0 416.3V418.9M200.5 414.7V421.0M201.0 414.2V420.6M201.5 415.4V421.3M202.0 414.5V420.5M202.5 414.3V421.9M203.0 413.3V420.9M203.5 415.1V419.3M204.0 415.7V420.8M204.5 413.6V422.2M205.0 415.8V420.1M205.5 413.0V422.8M206.0 412.8V422.4M206.5 414.3V421.9M207.0 413.2V420.9M207.5 412.2V419.8M208.0 415.3V422.9M208.5 415.5V419.8M209.0 415.7V421.6M209.5 414.5V421.6M210.0 415.9V420.5M210.5 413.2V419.2M211.0 415.8V420.7M211.5 415.3V419.8M212.0 414.7V420.2M212.5 415.1V420.3M213.0 415.7V419.3M213.5 416.5V420.6M214.0 415.7V419.1M214.5 415.4V419.8M215.0 412.8V419.5M215.5 411.7V423.5M216.0 411.4V422.9M216.5 412.6V422.5M217.0 412.7V421.2M217.5 414.9V421.4M218.0 415.8V422.3M218.5 415.7V419.2M219.0 414.7V419.7M219.5 415.0V421.3M220.0 414.7V420.7M220.5 413.8V419.8M221.0 414.4V419.7M221.5 413.7V421.6M222.0 415.2V421.5M222.5 413.1V421.4M223.0 415.6V421.6M223.5 415.5V421.6M224.0 416.3V420.6M224.5 415.2V419.7M225.0 415.9V419.4M225.5 416.0V419.2M226.0 415.6V421.1M226.5 414.7V420.4M227.0 414.6V420.9M227.5 413.9V419.9M228.0 415.5V420.8M228.5 416.1V419.4M229.0 414.9V421.4M229.5 414.0V421.2M230.0 415.4V421.2M230.5 413.9V421.4M231.0 415.2V419.4M231.5 415.4V419.2M232.0 414.9V420.6M232.5 413.2V420.5M233.0 414.3V421.2M233.5 414.3V422.1M234.0 411.6V422.4M234.5 412.4V422.5M235.0 414.5V420.2M235.5 413.6V421.6M236.0 416.3V419.4M236.5 416.4V419.3M237.0 415.8V420.2M237.5 416.5V420.1M238.0 416.1V420.4M238.5 414.0V419.6M239.0 414.0V419.9M239.5 412.9V419.6M240.0 415.2V420.8M240.5 415.7V419.6M241.0 413.3V420.0M241.5 415.0V421.2M242.0 415.7V420.6M242.5 414.3V419.7M243.0 414.7V420.1M243.5 414.4V420.6M244.0 414.7V421.5M244.5 415.1V419.5M245.0 414.1V421.4M245.5 412.3V424.1M246.0 413.6V420.3M246.5 411.5V425.0M247.0 413.1V423.9M247.5 411.1V422.4M248.0 412.0V423.5M248.5 414.9V420.3M249.0 415.1V422.7M249.5 412.6V420.9M250.0 414.3V419.9M250.5 411.3V422.2M251.0 411.6V420.1M251.5 414.7V422.5M252.0 413.6V421.4M252.5 413.8V423.2M253.0 415.2V423.2M253.5 411.9V421.9M254.0 415.5V421.5M254.5 412.9V422.5M255.0 414.8V421.0M255.5 414.1V422.6M256.0 414.5V422.1M256.5 412.9V420.7M257.0 413.6V421.2M257.5 414.5V419.7M258.0 413.6V420.8M258.5 412.8V420.6M259.0 414.0V422.6M259.5 414.7V419.1M260.0 414.2V421.4M260.5 415.1V420.1M261.0 415.9V418.8M261.5 414.9V419.0M262.0 416.2V419.2M262.5 414.2V420.7M263.0 414.9V419.2M263.5 415.2V422.0M264.0 413.0V422.4M264.5 415.4V420.6M265.0 415.9V420.8M265.5 415.2V421.3M266.0 414.6V420.7M266.5 414.2V421.7M267.0 413.6V420.7M267.5 414.7V421.7M268.0 415.9V419.2M268.5 414.5V419.4M269.0 414.7V419.4M269.5 412.8V420.9M270.0 413.6V422.4M270.5 414.3V422.7M271.0 413.1V419.8M271.5 414.7V420.4M272.0 414.8V420.6M272.5 413.8V420.0M273.0 415.3V421.3M273.5 411.3V422.7M274.0 411.2V423.8M274.5 410.3V424.5M275.0 414.6V424.1M275.5 412.3V423.4M276.0 413.2V423.6M276.5 409.9V421.7M277.0 414.5V425.4M277.5 415.1V425.0M278.0 411.6V420.9M278.5 415.4V422.4M279.0 413.8V422.1M279.5 412.5V421.7M280.0 414.5V421.4M280.5 412.8V423.7M281.0 410.3V420.5M281.5 410.9V425.4M282.0 409.6V424.6M282.5 414.8V422.2M283.0 412.9V423.9M283.5 413.1V420.0M284.0 414.0V420.8M284.5 413.6V420.7M285.0 415.3V420.1M285.5 416.2V419.5M286.0 413.8V420.8M286.5 413.0V419.5M287.0 411.9V422.7M287.5 411.5V423.1M288.0 414.5V421.7M288.5 413.1V421.3M289.0 413.2V422.5M289.5 413.6V419.5M290.0 415.3V421.6M290.5 415.4V421.7M291.0 413.9V421.3M291.5 415.6V421.2M292.0 414.3V421.0M292.5 414.6V421.0M293.0 415.4V419.7M293.5 416.3V420.1M294.0 414.4V419.7M294.5 414.1V420.5M295.0 414.8V419.4M295.5 415.1V420.6M296.0 412.4V421.2M296.5 415.5V422.5M297.0 413.9V421.4M297.5 414.8V421.8M298.0 415.3V423.0M298.5 415.1V421.2M299.0 414.4V420.2M299.5 411.7V423.4M300.0 410.7V421.6M300.5 414.5V422.2M301.0 412.3V422.0M301.5 416.0V419.3M302.0 414.8V419.6M302.5 414.7V420.5M303.0 416.4V418.8M303.5 416.6V420.2M304.0 416.2V420.0M304.5 416.2V419.9M305.0 415.2V419.9M305.5 414.2V421.0M306.0 416.0V419.1M306.5 414.0V419.7M307.0 413.7V421.8M307.5 413.4V420.5M308.0 415.1V421.1M308.5 413.4V420.0M309.0 415.5V423.7M309.5 413.0V420.3M310.0 415.3V420.6M310.5 413.7V422.6M311.0 415.3V421.8M311.5 414.5V420.7M312.0 415.5V420.5M312.5 415.4V420.6M313.0 414.9V419.2M313.5 414.5V421.0M314.0 415.9V420.8M314.5 414.7V420.0M315.0 414.5V420.9M315.5 414.6V419.8M316.0 414.6V419.9M316.5 414.9V420.5M317.0 415.9V420.2M317.5 416.4V420.5M318.0 416.0V419.8M318.5 415.0V420.5M319.0 416.5V419.8M319.5 414.8V420.4M320.0 415.1V418.8M320.5 416.4V419.2M321.0 415.9V419.5M321.5 416.3V419.7M322.0 416.0V419.1M322.5 414.5V419.2M323.0 413.2V420.6M323.5 415.5V421.4M324.0 413.3V420.5M324.5 414.3V420.2M325.0 412.6V420.9M325.5 414.9V423.8M326.0 413.9V424.4M326.5 411.6V424.5M327.0 413.2V421.8M327.5 410.4V421.4M328.0 411.8V421.0M328.5 412.6V420.5M329.0 411.5V423.2M329.5 410.4V424.4M330.0 414.2V424.8M330.5 411.4V421.0M331.0 412.7V422.2M331.5 414.1V421.5M332.0 412.9V422.5M332.5 415.2V420.4M333.0 415.7V421.9M333.5 414.5V422.1M334.0 415.4V420.0M334.5 415.9V419.1M335.0 415.8V419.8M335.5 415.1V419.7M336.0 415.4V419.8M336.5 414.8V420.6M337.0 415.2V419.7M337.5 414.3V420.6M338.0 416.3V420.9M338.5 414.4V420.6M339.0 415.7V421.2M339.5 416.3V421.4M340.0 413.9V419.5M340.5 415.1V422.3M341.0 415.5V422.9M341.5 414.8V422.9M342.0 412.0V422.1M342.5 414.2V420.9M343.0 411.9V423.1M343.5 415.2V421.6M344.0 411.3V422.0M344.5 413.6V421.0M345.0 415.2V421.9M345.5 411.7V422.2M346.0 415.1V420.2M346.5 412.9V422.7M347.0 413.8V422.2M347.5 415.2V420.9M348.0 413.2V419.6M348.5 413.0V422.0M349.0 414.8V421.8M349.5 414.2V421.8M350.0 415.0V419.9M350.5 415.5V420.9M351.0 414.8V419.0M351.5 415.8V420.5M352.0 415.3V419.9M352.5 414.2V419.3M353.0 416.1V420.7M353.5 413.8V421.2M354.0 414.6V419.5M354.5 415.8V420.4M355.0 413.6V421.7M355.5 415.0V421.6M356.0 414.2V419.8M356.5 413.4V420.9M357.0 415.2V422.0M357.5 414.4V421.1M358.0 415.9V421.5M358.5 413.1V422.3M359.0 414.1V421.7M359.5 413.7V422.5M360.0 412.5V420.7M360.5 414.1V420.1M361.0 413.7V419.3M361.5 414.2V421.3M362.0 413.9V421.0M362.5 415.2V420.5M363.0 415.2V419.7M363.5 414.7V420.3M364.0 414.1V421.2M364.5 415.8V421.2M365.0 414.8V423.6M365.5 410.9V421.4M366.0 412.9V420.3M366.5 412.3V420.8M367.0 412.0V422.0M367.5 410.6V423.7M368.0 411.7V423.0M368.5 411.8V424.0M369.0 415.3V421.7M369.5 413.0V420.5M370.0 412.6V422.5M370.5 415.1V420.5M371.0 414.8V419.6M371.5 415.4V418.9M372.0 415.0V420.8M372.5 415.1V420.0M373.0 416.0V419.5M373.5 415.3V419.5M374.0 414.7V419.3M374.5 414.7V419.4M375.0 414.7V421.0M375.5 414.0V419.1M376.0 414.3V419.4M376.5 413.4V420.8M377.0 413.1V420.9M377.5 412.3V422.0M378.0 411.0V422.1M378.5 411.3V422.0M379.0 412.3V422.7M379.5 412.5V421.4M380.0 415.7V420.0M380.5 414.5V419.1M381.0 416.2V419.8M381.5 414.8V420.4M382.0 414.7V419.7M382.5 413.7V422.4M383.0 414.1V423.0M383.5 414.0V420.9M384.0 410.9V421.8M384.5 411.4V424.1M385.0 415.4V423.0M385.5 414.5V423.0M386.0 413.1V419.8M386.5 413.8V421.3M387.0 413.3V421.4M387.5 415.5V419.7M388.0 414.1V422.5M388.5 415.0V422.1M389.0 414.3V421.3M389.5 413.1V420.5M390.0 413.9V420.6M390.5 412.1V420.7M391.0 412.8V422.7M391.5 414.4V423.3M392.0 415.6V422.7M392.5 414.0V420.1M393.0 412.0V422.7M393.5 412.7V419.7M394.0 415.4V422.7M394.5 415.1V420.8M395.0 415.6V419.3M395.5 416.3V420.0M396.0 415.1V421.0M396.5 416.0V420.0M397.0 416.2V421.0M397.5 415.5V421.0M398.0 414.4V419.0M398.5 414.9V420.5M399.0 415.7V421.1M399.5 415.5V420.2M400.0 414.0V419.5M400.5 415.9V419.9M401.0 414.9V419.1M401.5 416.0V420.3M402.0 415.7V419.1M402.5 414.5V421.0M403.0 414.2V420.8M403.5 414.2V419.4M404.0 413.9V421.4M404.5 415.3V419.8M405.0 412.8V422.1M405.5 414.2V422.9M406.0 412.9V419.5M406.5 414.5V421.6M407.0 415.1V420.0M407.5 412.2V422.5M408.0 414.8V423.1M408.5 412.7V422.4M409.0 415.8V421.2M409.5 414.4V420.8M410.0 414.3V420.5M410.5 414.3V419.7M411.0 415.9V419.9M411.5 415.4V419.1M412.0 413.7V421.1M412.5 413.3V421.2M413.0 413.6V421.9M413.5 413.1V422.7M414.0 414.1V423.0M414.5 411.3V421.6M415.0 413.6V422.3M415.5 412.4V419.6M416.0 415.3V420.7M416.5 415.8V421.3M417.0 414.9V421.2M417.5 414.2V421.3M418.0 415.9V420.9M418.5 414.4V420.7M419.0 416.2V420.2M419.5 414.4V420.7M420.0 414.7V419.6M420.5 415.0V420.8M421.0 415.7V419.7M421.5 415.2V421.0M422.0 415.4V420.3M422.5 415.3V419.9M423.0 416.0V419.3M423.5 414.7V419.8M424.0 414.8V419.6M424.5 411.8V420.8M425.0 411.6V423.8M425.5 415.0V422.0M426.0 414.3V422.9M426.5 413.7V420.7M427.0 411.5V423.4M427.5 413.9V423.3M428.0 415.0V420.1M428.5 413.3V420.5M429.0 415.7V420.0M429.5 415.1V419.3M430.0 415.1V422.4M430.5 414.0V420.8M431.0 415.4V422.2M431.5 414.4V420.2M432.0 415.7V419.8M432.5 412.8V421.0M433.0 414.2V422.9M433.5 412.2V420.6M434.0 412.4V420.8M434.5 414.0V423.5M435.0 412.9V420.2M435.5 413.9V423.4M436.0 415.0V421.8M436.5 413.3V423.1M437.0 412.0V423.0M437.5 414.8V424.9M438.0 411.1V422.6M438.5 413.9V421.3M439.0 410.8V422.9M439.5 411.4V421.7M440.0 414.8V423.7M440.5 413.3V420.8M441.0 415.4V420.2M441.5 411.7V423.7M442.0 411.8V421.9M442.5 414.7V421.9M443.0 414.8V422.1M443.5 412.8V421.3M444.0 414.9V420.1M444.5 414.5V419.6M445.0 415.1V420.1M445.5 414.6V421.9M446.0 413.7V423.2M446.5 415.1V420.7M447.0 412.7V424.3M447.5 412.1V423.5M448.0 414.9V420.7M448.5 413.0V423.5M449.0 412.2V423.8M449.5 408.3V427.3M450.0 407.1V423.9M450.5 412.0V422.4M451.0 409.0V423.0M451.5 409.5V425.2M452.0 409.9V428.1M452.5 413.6V425.5M453.0 410.6V423.5M453.5 412.0V423.8M454.0 409.2V425.0M454.5 408.2V424.5M455.0 410.0V422.2M455.5 412.5V425.4M456.0 414.0V423.2M456.5 408.7V421.9M457.0 408.4V422.5M457.5 409.1V422.0M458.0 412.2V421.7M458.5 411.1V423.7M459.0 412.5V420.6M459.5 410.5V423.0M460.0 410.7V424.9M460.5 411.9V420.9M461.0 413.9V421.7M461.5 411.2V421.3M462.0 415.2V423.4M462.5 413.8V421.7M463.0 412.4V419.8M463.5 411.0V424.3M464.0 413.5V421.7M464.5 411.2V422.4M465.0 410.8V423.6M465.5 415.2V423.6M466.0 414.7V421.9M466.5 413.1V423.0M467.0 412.6V422.5M467.5 414.2V421.7M468.0 415.1V423.6M468.5 415.0V423.1M469.0 413.3V421.0M469.5 412.5V421.5M470.0 413.4V420.3M470.5 413.6V420.0M471.0 413.9V422.2M471.5 413.9V419.7M472.0 413.2V422.7M472.5 414.1V420.5M473.0 414.1V423.4M473.5 414.2V425.6M474.0 411.5V420.8M474.5 408.9V421.2M475.0 409.9V421.1M475.5 412.3V426.3M476.0 408.7V424.6M476.5 410.2V423.1M477.0 410.3V427.3M477.5 412.4V427.7M478.0 412.6V422.6M478.5 413.8V423.8M479.0 409.2V423.8M479.5 412.6V425.7M480.0 411.2V425.6M480.5 410.8V423.0M481.0 410.8V421.3M481.5 408.6V422.6M482.0 410.4V421.7M482.5 412.2V423.2M483.0 409.6V424.8M483.5 410.4V423.5M484.0 410.0V421.8M484.5 412.2V424.5M485.0 410.4V425.3M485.5 412.5V424.0M486.0 410.5V425.0M486.5 414.8V425.6M487.0 410.7V423.9M487.5 412.2V420.1M488.0 413.5V423.3M488.5 414.2V422.7M489.0 412.8V423.3M489.5 413.8V420.4M490.0 414.4V422.0M490.5 412.5V421.1M491.0 414.1V420.0M491.5 411.9V423.6M492.0 413.5V420.7M492.5 411.9V421.1M493.0 411.5V420.9M493.5 414.3V420.4M494.0 414.9V421.1M494.5 412.2V420.7M495.0 415.5V422.3M495.5 414.4V422.7M496.0 415.4V421.9M496.5 415.4V419.7M497.0 414.8V422.4M497.5 413.5V422.4M498.0 414.8V421.8M498.5 415.6V421.9M499.0 414.4V420.7M499.5 414.5V421.3M500.0 413.3V421.8M500.5 412.8V421.6M501.0 413.1V422.0M501.5 413.8V421.6M502.0 413.8V422.1M502.5 414.1V421.4M503.0 413.5V420.5M503.5 414.9V420.5M504.0 414.1V422.8M504.5 412.3V421.7M505.0 414.5V419.9M505.5 414.8V423.9M506.0 411.5V421.6M506.5 412.9V420.7M507.0 412.2V425.6M507.5 414.3V423.6M508.0 411.7V424.7M508.5 413.9V424.5M509.0 413.2V420.7M509.5 412.4V423.3M510.0 411.9V420.0M510.5 414.1V420.5M511.0 412.1V421.8M511.5 412.8V423.3M512.0 415.1V421.2M512.5 412.4V421.0M513.0 415.7V421.3M513.5 413.5V422.6M514.0 415.0V423.0M514.5 413.0V420.9M515.0 412.8V422.4M515.5 414.9V422.9M516.0 415.5V419.6M516.5 413.1V420.7M517.0 413.8V422.4M517.5 415.8V420.9M518.0 416.2V421.4M518.5 416.3V418.9M519.0 415.5V420.6M519.5 415.8V420.6M520.0 414.1V419.8M520.5 414.2V419.4M521.0 413.5V421.7M521.5 414.2V420.5M522.0 413.0V421.9M522.5 415.8V422.1M523.0 415.1V420.3M523.5 413.7V422.4M524.0 415.1V421.9M524.5 414.0V422.2M525.0 414.8V421.9M525.5 413.5V420.9M526.0 415.2V420.7M526.5 414.7V419.9M527.0 413.4V419.9M527.5 414.3V421.7M528.0 415.3V419.9M528.5 415.7V419.5M529.0 415.8V420.5M529.5 416.1V420.8M530.0 414.6V420.0M530.5 416.4V421.1M531.0 415.4V420.7M531.5 416.3V418.9M532.0 415.4V419.8M532.5 414.1V420.3M533.0 416.0V420.6M533.5 414.6V421.0M534.0 414.7V419.5M534.5 415.6V421.5M535.0 414.9V420.6M535.5 416.2V421.0M536.0 415.4V419.3M536.5 414.0V420.3M537.0 414.1V419.1M537.5 414.5V420.5M538.0 415.9V421.3M538.5 413.7V421.3M539.0 414.0V419.6M539.5 413.1V422.6M540.0 412.6V421.8M540.5 414.9V419.4M541.0 415.6V419.5M541.5 415.3V420.0M542.0 414.0V419.4M542.5 415.3V419.0M543.0 416.3V419.1M543.5 416.3V420.7M544.0 414.7V420.2M544.5 416.4V419.5M545.0 416.5V420.0M545.5 415.1V419.2M546.0 414.6V418.8M546.5 415.7V419.2M547.0 414.7V419.9M547.5 415.6V420.8M548.0 414.2V421.1M548.5 415.5V419.9M549.0 415.5V419.9M549.5 416.0V420.5M550.0 414.3V419.3M550.5 414.4V420.5M551.0 412.8V419.3M551.5 414.7V422.4M552.0 413.7V421.8M552.5 412.3V423.0M553.0 414.5V420.8M553.5 415.4V419.7M554.0 413.6V423.5M554.5 411.7V423.0M555.0 415.3V423.4M555.5 412.8V421.4M556.0 415.4V421.4M556.5 415.5V420.0M557.0 413.8V421.2M557.5 413.0V422.2M558.0 414.8V421.8M558.5 415.2V421.9M559.0 413.4V420.6M559.5 414.7V421.4M560.0 414.1V420.0M560.5 414.4V423.3M561.0 411.1V420.6M561.5 414.5V422.3M562.0 413.1V423.5M562.5 414.5V420.2M563.0 415.9V420.9M563.5 415.6V420.9M564.0 415.4V419.0M564.5 414.8V421.2M565.0 414.3V420.6M565.5 416.3V419.1M566.0 415.2V420.8M566.5 416.3V418.8M567.0 416.1V420.8M567.5 414.1V419.4M568.0 414.4V419.7M568.5 413.7V421.5M569.0 413.8V419.7M569.5 412.5V422.6M570.0 412.3V422.6M570.5 413.6V420.6M571.0 412.9V423.5M571.5 413.8V421.4M572.0 412.5V421.0M572.5 415.1V422.7M573.0 410.9V421.0M573.5 414.9V424.3M574.0 412.5V420.5M574.5 411.9V423.5M575.0 412.4V420.5M575.5 413.3V422.2M576.0 412.2V423.1M576.5 414.2V421.3M577.0 414.3V420.3M577.5 414.7V420.6M578.0 414.3V422.9M578.5 411.5V423.0M579.0 414.8V423.5M579.5 412.0V423.3M580.0 415.7V420.9M580.5 414.4V422.0M581.0 413.6V420.2M581.5 414.6V420.9M582.0 414.2V421.5M582.5 415.9V419.0M583.0 414.4V420.3M583.5 416.1V420.7M584.0 414.7V420.7M584.5 414.8V420.0M585.0 415.4V418.9M585.5 415.0V419.3M586.0 415.4V419.6M586.5 415.2V421.0M587.0 415.6V420.8M587.5 414.5V420.5M588.0 415.8V420.1M588.5 414.1V419.8M589.0 414.1V422.2M589.5 415.2V420.7M590.0 413.1V421.3M590.5 412.6V424.3M591.0 414.8V424.8M591.5 410.8V420.3M592.0 413.0V423.6M592.5 413.7V421.5M593.0 416.1V421.0M593.5 415.3V420.9M594.0 416.1V420.3M594.5 415.7V419.5M595.0 414.5V419.4M595.5 416.2V420.0M596.0 413.7V420.5M596.5 414.9V419.8M597.0 413.6V419.5M597.5 413.8V421.7M598.0 413.5V420.2M598.5 416.0V421.2M599.0 414.7V420.8M599.5 415.7V419.5M600.0 415.1V419.7M600.5 415.1V421.7M601.0 416.0V419.8M601.5 414.1V421.7M602.0 415.8V419.4M602.5 413.1V420.8M603.0 415.8V422.2M603.5 414.3V419.4M604.0 414.2V422.5M604.5 414.5V419.8M605.0 413.0V422.5M605.5 415.5V421.4M606.0 412.4V422.0M606.5 414.7V423.0M607.0 413.6V420.9M607.5 412.0V423.3M608.0 413.1V421.1M608.5 415.4V419.5M609.0 415.6V419.5M609.5 412.1V422.9M610.0 414.2V421.0M610.5 411.8V424.1M611.0 411.6V423.4M611.5 412.9V421.9M612.0 411.7V426.4M612.5 414.0V423.5M613.0 409.8V422.7M613.5 413.3V424.2M614.0 414.8V423.6M614.5 414.0V421.5M615.0 413.2V423.2M615.5 412.0V420.5M616.0 413.4V420.2M616.5 410.9V421.5M617.0 411.2V420.6M617.5 413.5V421.7M618.0 412.0V421.5M618.5 414.1V421.8M619.0 412.1V424.5M619.5 411.9V421.7M620.0 413.3V423.3M620.5 414.0V420.3M621.0 411.9V422.7M621.5 414.4V420.3M622.0 413.8V419.9M622.5 411.8V423.0M623.0 411.3V421.1M623.5 410.9V421.8M624.0 414.1V421.8M624.5 414.1V423.0M625.0 412.5V421.8M625.5 412.8V425.5M626.0 411.2V425.1M626.5 408.6V425.3M627.0 412.7V421.9M627.5 409.7V421.5M628.0 408.4V426.4M628.5 412.1V425.3M629.0 408.6V425.2M629.5 411.9V422.4M630.0 408.7V424.7M630.5 413.3V425.6M631.0 413.8V424.3M631.5 413.9V423.5M632.0 414.2V423.2M632.5 415.4V421.1M633.0 414.4V420.7M633.5 416.0V419.3M634.0 415.3V421.2M634.5 414.4V421.7M635.0 415.8V420.0M635.5 413.4V421.7" stroke="#00f" stroke-opacity="0.7" stroke-width="0.5" fill="none"/><polygon points="33.0,414.5 33.5,414.3 34.0,415.1 34.5,414.2 35.0,415.3 35.5,415.0 36.0,415.4 36.5,414.3 37.0,414.5 37.5,414.5 38.0,415.0 38.5,414.3 39.0,414.1 39.5,414.4 40.0,415.7 40.5,414.3 41.0,415.7 41.5,415.3 42.0,414.1 42.5,415.2 43.0,414.7 43.5,415.3 44.0,414.7 44.5,414.7 45.0,415.1 45.5,414.7 46.0,414.7 46.5,414.9 47.0,415.0 47.5,414.9 48.0,414.4 48.5,414.9 49.0,414.8 49.5,415.5 50.0,414.7 50.5,414.9 51.0,414.6 51.5,414.1 52.0,415.3 52.5,414.0 53.0,414.2 53.5,413.7 54.0,415.6 54.5,414.9 55.0,414.2 55.5,414.3 56.0,415.3 56.5,413.1 57.0,415.4 57.5,415.6 58.0,414.2 58.5,415.0 59.0,413.3 59.5,413.8 60.0,415.5 60.5,414.6 61.0,414.1 61.5,414.6 62.0,413.8 62.5,415.4 63.0,415.6 63.5,414.6 64.0,414.6 64.5,413.4 65.0,413.5 65.5,414.3 66.0,414.0 66.5,414.4 67.0,414.2 67.5,413.6 68.0,414.9 68.5,414.9 69.0,414.9 69.5,415.5 70.0,415.1 70.5,414.7 71.0,414.9 71.5,415.0 72.0,414.8 72.5,415.0 73.0,414.9 73.5,414.9 74.0,414.4 74.5,414.6 75.0,414.9 75.5,415.2 76.0,414.6 76.5,414.5 77.0,414.4 77.5,413.3 78.0,414.6 78.5,414.1 79.0,413.9 79.5,415.0 80.0,414.5 80.5,414.7 81.0,415.2 81.5,414.4 82.0,414.7 82.5,414.4 83.0,413.8 83.5,414.4 84.0,413.2 84.5,414.1 85.0,414.6 85.5,415.0 86.0,414.7 86.5,414.3 87.0,415.7 87.5,415.4 88.0,414.5 88.5,413.8 89.0,414.9 89.5,414.7 90.0,413.8 90.5,414.8 91.0,415.5 91.5,414.3 92.0,415.1 92.5,414.6 93.0,415.4 93.5,414.2 94.0,414.3 94.5,414.5 95.0,413.8 95.5,415.5 96.0,414.7 96.5,414.0 97.0,414.0 97.5,414.9 98.0,415.0 98.5,413.8 99.0,413.8 99.5,414.1 100.0,414.1 100.5,414.5 101.0,414.5 101.5,415.1 102.0,414.9 102.5,415.3 103.0,415.4 103.5,413.6 104.0,415.7 104.5,415.0 105.0,414.2 105.5,414.1 106.0,414.8 106.5,413.6 107.0,413.6 107.5,415.7 108.0,414.6 108.5,414.2 109.0,413.6 109.5,413.9 110.0,414.8 110.5,414.7 111.0,415.2 111.5,414.3 112.0,414.0 112.5,414.8 113.0,415.0 113.5,414.2 114.0,414.0 114.5,414.0 115.0,415.3 115.5,415.5 116.0,414.9 116.5,413.4 117.0,413.4 117.5,414.8 118.0,414.5 118.5,415.1 119.0,415.3 119.5,414.7 120.0,415.8 120.5,415.6 121.0,414.5 121.5,413.4 122.0,414.6 122.5,415.1 123.0,415.2 123.5,415.5 124.0,413.9 124.5,415.6 125.0,414.1 125.5,414.2 126.0,413.2 126.5,414.4 127.0,414.5 127.5,414.3 128.0,415.5 128.5,413.5 129.0,414.5 129.5,414.7 130.0,413.4 130.5,414.5 131.0,415.1 131.5,415.4 132.0,414.2 132.5,413.9 133.0,414.1 133.5,414.2 134.0,414.2 134.5,414.9 135.0,415.5 135.5,414.2 136.0,414.7 136.5,414.6 137.0,415.3 137.5,414.6 138.0,415.5 138.5,413.9 139.0,413.9 139.5,414.0 140.0,414.5 140.5,412.8 141.0,414.7 141.5,413.4 142.0,415.1 142.5,414.7 143.0,413.2 143.5,415.2 144.0,413.2 144.5,414.3 145.0,414.1 145.5,414.9 146.0,414.2 146.5,413.3 147.0,414.3 147.5,414.7 148.0,414.4 148.5,415.5 149.0,413.0 149.5,414.2 150.0,412.4 150.5,414.1 151.0,412.8 151.5,415.2 152.0,415.4 152.5,412.7 153.0,412.4 153.5,412.6 154.0,415.0 154.5,414.8 155.0,413.7 155.5,413.4 156.0,414.8 156.5,414.9 157.0,414.0 157.5,414.3 158.0,413.2 158.5,413.1 159.0,413.4 159.5,413.6 160.0,413.6 160.5,414.2 161.0,414.7 161.5,413.5 162.0,414.9 162.5,413.3 163.0,415.4 163.5,415.3 164.0,414.2 164.5,414.7 165.0,414.6 165.5,415.5 166.0,415.3 166.5,415.7 167.0,414.7 167.5,414.5 168.0,415.1 168.5,415.1 169.0,414.9 169.5,414.3 170.0,414.3 170.5,413.6 171.0,414.5 171.5,413.5 172.0,414.3 172.5,414.2 173.0,414.9 173.5,414.8 174.0,415.1 174.5,414.3 175.0,414.2 175.5,414.8 176.0,412.9 176.5,415.7 177.0,413.8 177.5,414.6 178.0,413.7 178.5,413.8 179.0,414.4 179.5,414.8 180.0,413.6 180.5,413.7 181.0,414.7 181.5,414.2 182.0,414.9 182.5,413.7 183.0,415.6 183.5,414.8 184.0,415.1 184.5,414.2 185.0,414.6 185.5,415.2 186.0,413.9 186.5,414.7 187.0,414.5 187.5,413.7 188.0,413.8 188.5,414.5 189.0,414.0 189.5,413.5 190.0,414.9 190.5,415.3 191.0,414.1 191.5,414.6 192.0,415.4 192.5,415.2 193.0,415.2 193.5,414.5 194.0,414.0 194.5,415.1 195.0,414.6 195.5,413.8 196.0,414.3 196.5,414.4 197.0,415.4 197.5,415.2 198.0,415.8 198.5,414.6 199.0,414.0 199.5,415.2 200.0,414.8 200.5,414.4 201.0,413.7 201.5,415.1 202.0,414.4 202.5,414.5 203.0,414.7 203.5,415.7 204.0,414.3 204.5,414.1 205.0,414.5 205.5,414.1 206.0,415.0 206.5,415.8 207.0,414.4 207.5,415.1 208.0,413.8 208.5,413.8 209.0,413.8 209.5,414.1 210.0,413.8 210.5,414.8 211.0,415.1 211.5,414.8 212.0,415.1 212.5,414.9 213.0,414.4 213.5,415.6 214.0,415.2 214.5,415.1 215.0,414.2 215.5,415.5 216.0,414.0 216.5,414.4 217.0,413.3 217.5,414.5 218.0,414.5 218.5,415.6 219.0,415.0 219.5,413.7 220.0,414.6 220.5,414.6 221.0,415.5 221.5,414.3 222.0,414.0 222.5,414.8 223.0,414.1 223.5,414.1 224.0,415.1 224.5,415.1 225.0,414.2 225.5,413.9 226.0,413.8 226.5,415.5 227.0,415.4 227.5,415.1 228.0,414.9 228.5,413.7 229.0,415.6 229.5,414.2 230.0,415.1 230.5,415.2 231.0,413.7 231.5,415.2 232.0,414.1 232.5,414.6 233.0,414.3 233.5,415.6 234.0,415.6 234.5,414.3 235.0,415.2 235.5,414.2 236.0,414.4 236.5,415.4 237.0,414.4 237.5,414.4 238.0,414.9 238.5,415.1 239.0,415.3 239.5,414.3 240.0,414.6 240.5,413.8 241.0,415.6 241.5,415.2 242.0,414.8 242.5,414.3 243.0,414.3 243.5,415.3 244.0,414.2 244.5,413.9 245.0,415.0 245.5,414.2 246.0,413.5 246.5,414.1 247.0,413.9 247.5,413.4 248.0,414.9 248.5,414.9 249.0,414.7 249.5,414.1 250.0,413.4 250.5,413.3 251.0,414.7 251.5,414.4 252.0,414.7 252.5,413.6 253.0,414.4 253.5,413.6 254.0,413.4 254.5,414.0 255.0,414.4 255.5,414.9 256.0,414.3 256.5,414.4 257.0,415.3 257.5,415.1 258.0,414.5 258.5,414.8 259.0,414.5 259.5,415.5 260.0,415.2 260.5,414.9 261.0,414.7 261.5,415.4 262.0,413.8 262.5,415.4 263.0,414.8 263.5,413.8 264.0,413.8 264.5,414.5 265.0,414.0 265.5,413.7 266.0,414.1 266.5,415.3 267.0,414.5 267.5,414.6 268.0,414.5 268.5,414.0 269.0,415.0 269.5,414.0 270.0,414.8 270.5,414.7 271.0,414.3 271.5,414.0 272.0,414.0 272.5,414.2 273.0,414.1 273.5,414.9 274.0,414.6 274.5,414.1 275.0,414.3 275.5,414.3 276.0,415.7 276.5,414.0 277.0,412.5 277.5,413.8 278.0,415.5 278.5,413.3 279.0,413.1 279.5,414.0 280.0,413.9 280.5,413.4 281.0,415.0 281.5,415.0 282.0,414.7 282.5,415.1 283.0,415.3 283.5,415.5 284.0,413.8 284.5,415.0 285.0,414.3 285.5,414.2 286.0,413.6 286.5,414.2 287.0,414.7 287.5,413.6 288.0,415.4 288.5,413.3 289.0,415.1 289.5,414.8 290.0,414.2 290.5,415.3 291.0,414.8 291.5,414.3 292.0,414.1 292.5,414.3 293.0,414.4 293.5,414.7 294.0,415.8 294.5,415.0 295.0,414.7 295.5,414.9 296.0,413.9 296.5,413.9 297.0,415.8 297.5,415.2 298.0,415.0 298.5,414.8 299.0,415.3 299.5,413.2 300.0,414.6 300.5,413.8 301.0,414.6 301.5,415.3 302.0,414.5 302.5,414.9 303.0,415.0 303.5,414.8 304.0,415.1 304.5,414.2 305.0,414.6 305.5,415.0 306.0,415.1 306.5,414.4 307.0,415.8 307.5,413.6 308.0,414.3 308.5,413.8 309.0,413.1 309.5,415.1 310.0,414.4 310.5,414.9 311.0,415.3 311.5,414.5 312.0,414.8 312.5,414.5 313.0,415.0 313.5,414.0 314.0,414.0 314.5,414.8 315.0,414.2 315.5,415.0 316.0,413.9 316.5,415.7 317.0,414.9 317.5,414.2 318.0,415.7 318.5,414.6 319.0,415.1 319.5,415.1 320.0,414.2 320.5,415.7 321.0,415.0 321.5,415.5 322.0,414.9 322.5,414.0 323.0,414.3 323.5,415.5 324.0,415.1 324.5,413.6 325.0,413.6 325.5,413.5 326.0,415.6 326.5,414.7 327.0,413.7 327.5,415.0 328.0,413.7 328.5,414.7 329.0,414.6 329.5,413.4 330.0,414.7 330.5,413.5 331.0,414.1 331.5,415.3 332.0,413.3 332.5,413.9 333.0,415.2 333.5,414.7 334.0,414.3 334.5,414.8 335.0,415.6 335.5,415.6 336.0,414.7 336.5,415.7 337.0,415.5 337.5,414.5 338.0,415.7 338.5,415.3 339.0,414.8 339.5,415.1 340.0,413.8 340.5,414.7 341.0,414.2 341.5,414.3 342.0,413.3 342.5,415.6 343.0,414.6 343.5,414.3 344.0,414.6 344.5,413.6 345.0,414.1 345.5,414.8 346.0,414.5 346.5,414.3 347.0,414.2 347.5,414.3 348.0,413.7 348.5,413.9 349.0,414.5 349.5,415.1 350.0,415.5 350.5,415.2 351.0,414.9 351.5,415.3 352.0,414.1 352.5,415.1 353.0,415.1 353.5,415.3 354.0,414.0 354.5,415.1 355.0,414.9 355.5,414.4 356.0,414.7 356.5,414.7 357.0,414.2 357.5,415.2 358.0,414.2 358.5,414.5 359.0,414.8 359.5,414.7 360.0,414.4 360.5,414.2 361.0,414.2 361.5,414.1 362.0,414.5 362.5,413.9 363.0,414.8 363.5,414.2 364.0,415.7 364.5,415.2 365.0,415.5 365.5,414.8 366.0,415.0 366.5,412.8 367.0,414.6 367.5,413.9 368.0,413.6 368.5,414.1 369.0,414.7 369.5,415.3 370.0,414.0 370.5,415.2 371.0,415.3 371.5,415.0 372.0,415.2 372.5,414.4 373.0,415.6 373.5,414.6 374.0,414.1 374.5,414.1 375.0,415.0 375.5,414.8 376.0,414.4 376.5,414.8 377.0,414.4 377.5,415.1 378.0,413.8 378.5,414.0 379.0,414.9 379.5,415.8 380.0,415.6 380.5,414.5 381.0,414.0 381.5,414.5 382.0,414.9 382.5,414.6 383.0,414.4 383.5,414.4 384.0,414.5 384.5,414.6 385.0,414.2 385.5,414.5 386.0,415.3 386.5,414.2 387.0,414.9 387.5,415.4 388.0,415.2 388.5,414.4 389.0,414.5 389.5,413.7 390.0,414.7 390.5,415.4 391.0,415.3 391.5,415.0 392.0,414.4 392.5,414.2 393.0,414.5 393.5,414.9 394.0,414.0 394.5,413.9 395.0,415.5 395.5,415.5 396.0,414.7 396.5,415.5 397.0,414.7 397.5,415.0 398.0,414.9 398.5,414.5 399.0,414.1 399.5,415.1 400.0,415.1 400.5,414.4 401.0,414.6 401.5,414.8 402.0,415.2 402.5,414.8 403.0,415.3 403.5,414.8 404.0,414.8 404.5,414.5 405.0,414.9 405.5,414.4 406.0,414.3 406.5,414.8 407.0,414.5 407.5,414.5 408.0,414.6 408.5,413.3 409.0,414.2 409.5,414.0 410.0,415.7 410.5,414.8 411.0,414.9 411.5,414.0 412.0,415.3 412.5,413.9 413.0,415.1 413.5,413.4 414.0,414.4 414.5,415.0 415.0,414.4 415.5,414.2 416.0,415.1 416.5,414.8 417.0,415.2 417.5,414.1 418.0,415.2 418.5,415.7 419.0,415.4 419.5,415.2 420.0,414.4 420.5,415.3 421.0,415.1 421.5,414.2 422.0,415.0 422.5,414.7 423.0,415.4 423.5,414.6 424.0,414.0 424.5,413.3 425.0,414.6 425.5,413.8 426.0,413.6 426.5,412.8 427.0,414.2 427.5,414.5 428.0,415.7 428.5,414.6 429.0,414.2 429.5,415.5 430.0,413.7 430.5,414.4 431.0,414.5 431.5,414.9 432.0,414.4 432.5,413.3 433.0,414.4 433.5,414.6 434.0,413.1 434.5,413.9 435.0,414.4 435.5,415.6 436.0,414.3 436.5,415.5 437.0,414.0 437.5,413.3 438.0,413.1 438.5,415.7 439.0,414.4 439.5,415.5 440.0,413.9 440.5,414.6 441.0,414.4 441.5,414.7 442.0,414.3 442.5,414.4 443.0,414.3 443.5,415.0 444.0,415.6 444.5,414.8 445.0,413.3 445.5,413.9 446.0,414.2 446.5,414.6 447.0,414.1 447.5,414.4 448.0,415.1 448.5,415.5 449.0,414.5 449.5,415.3 450.0,414.8 450.5,413.7 451.0,413.3 451.5,414.4 452.0,414.7 452.5,414.6 453.0,413.0 453.5,413.6 454.0,412.2 454.5,412.9 455.0,411.9 455.5,415.6 456.0,413.3 456.5,413.0 457.0,413.8 457.5,414.0 458.0,413.6 458.5,413.3 459.0,414.9 459.5,413.3 460.0,414.5 460.5,414.3 461.0,415.5 461.5,415.2 462.0,414.3 462.5,415.0 463.0,414.8 463.5,414.5 464.0,413.7 464.5,414.2 465.0,414.1 465.5,414.0 466.0,412.7 466.5,415.3 467.0,415.0 467.5,414.5 468.0,413.7 468.5,414.9 469.0,414.4 469.5,415.9 470.0,414.9 470.5,414.9 471.0,414.7 471.5,414.2 472.0,414.5 472.5,414.1 473.0,415.6 473.5,415.5 474.0,415.8 474.5,414.2 475.0,414.8 475.5,413.0 476.0,412.9 476.5,414.0 477.0,415.1 477.5,413.4 478.0,413.8 478.5,413.9 479.0,413.7 479.5,414.5 480.0,414.6 480.5,414.6 481.0,415.2 481.5,413.4 482.0,413.2 482.5,415.4 483.0,412.7 483.5,413.8 484.0,414.3 484.5,413.8 485.0,414.8 485.5,414.2 486.0,413.8 486.5,414.1 487.0,415.4 487.5,414.9 488.0,414.1 488.5,414.2 489.0,413.5 489.5,415.4 490.0,414.6 490.5,413.8 491.0,415.6 491.5,413.3 492.0,412.9 492.5,413.6 493.0,413.5 493.5,414.0 494.0,414.8 494.5,414.3 495.0,413.9 495.5,415.2 496.0,414.9 496.5,414.9 497.0,415.4 497.5,415.3 498.0,415.3 498.5,413.8 499.0,414.1 499.5,414.5 500.0,414.0 500.5,414.7 501.0,414.4 501.5,413.5 502.0,415.3 502.5,413.9 503.0,414.1 503.5,415.8 504.0,414.6 504.5,415.5 505.0,412.9 505.5,415.3 506.0,412.7 506.5,413.9 507.0,413.7 507.5,413.9 508.0,413.3 508.5,413.7 509.0,414.3 509.5,414.6 510.0,414.9 510.5,413.8 511.0,415.5 511.5,414.6 512.0,415.4 512.5,414.4 513.0,414.5 513.5,415.3 514.0,413.7 514.5,414.5 515.0,413.4 515.5,413.1 516.0,414.7 516.5,414.1 517.0,414.0 517.5,415.2 518.0,415.4 518.5,414.9 519.0,414.4 519.5,415.6 520.0,414.7 520.5,414.7 521.0,414.5 521.5,413.7 522.0,414.5 522.5,414.1 523.0,415.3 523.5,414.4 524.0,414.1 524.5,413.7 525.0,415.8 525.5,414.7 526.0,414.1 526.5,414.3 527.0,415.9 527.5,415.3 528.0,413.9 528.5,415.5 529.0,413.9 529.5,414.4 530.0,415.3 530.5,414.8 531.0,414.7 531.5,414.7 532.0,414.1 532.5,415.4 533.0,415.7 533.5,415.2 534.0,414.9 534.5,415.2 535.0,413.8 535.5,414.2 536.0,415.5 536.5,414.6 537.0,414.8 537.5,414.9 538.0,414.3 538.5,415.3 539.0,413.9 539.5,414.1 540.0,414.4 540.5,413.4 541.0,414.5 541.5,414.7 542.0,414.8 542.5,415.4 543.0,414.6 543.5,414.8 544.0,414.2 544.5,415.2 545.0,415.4 545.5,414.5 546.0,414.1 546.5,414.5 547.0,414.4 547.5,414.6 548.0,415.0 548.5,415.3 549.0,414.5 549.5,415.6 550.0,415.1 550.5,414.3 551.0,414.9 551.5,414.6 552.0,415.8 552.5,414.6 553.0,414.4 553.5,413.9 554.0,414.9 554.5,414.6 555.0,414.9 555.5,414.8 556.0,414.1 556.5,413.7 557.0,414.4 557.5,414.6 558.0,414.6 558.5,414.8 559.0,414.0 559.5,413.2 560.0,414.1 560.5,413.7 561.0,413.2 561.5,414.5 562.0,415.1 562.5,414.6 563.0,414.8 563.5,415.0 564.0,415.2 564.5,414.9 565.0,414.6 565.5,414.2 566.0,415.2 566.5,415.4 567.0,415.5 567.5,414.8 568.0,414.6 568.5,414.7 569.0,414.2 569.5,414.7 570.0,414.8 570.5,414.9 571.0,413.2 571.5,414.8 572.0,414.2 572.5,413.6 573.0,414.7 573.5,414.7 574.0,414.1 574.5,413.7 575.0,413.4 575.5,415.2 576.0,414.9 576.5,414.8 577.0,414.4 577.5,413.5 578.0,415.1 578.5,414.7 579.0,415.2 579.5,413.4 580.0,413.3 580.5,415.2 581.0,413.6 581.5,414.4 582.0,415.2 582.5,414.4 583.0,414.9 583.5,414.8 584.0,415.1 584.5,415.4 585.0,414.9 585.5,415.6 586.0,414.5 586.5,414.6 587.0,415.3 587.5,414.5 588.0,414.2 588.5,414.2 589.0,415.1 589.5,414.3 590.0,413.9 590.5,413.5 591.0,415.1 591.5,414.0 592.0,415.7 592.5,415.6 593.0,414.6 593.5,414.5 594.0,415.4 594.5,414.3 595.0,414.2 595.5,413.8 596.0,415.1 596.5,414.3 597.0,414.4 597.5,414.6 598.0,415.0 598.5,414.6 599.0,414.5 599.5,414.7 600.0,414.6 600.5,413.7 601.0,414.6 601.5,414.6 602.0,413.9 602.5,415.4 603.0,414.8 603.5,415.4 604.0,413.9 604.5,414.4 605.0,413.7 605.5,414.3 606.0,414.1 606.5,414.9 607.0,414.9 607.5,414.1 608.0,414.9 608.5,413.4 609.0,415.2 609.5,413.8 610.0,414.5 610.5,415.4 611.0,413.8 611.5,412.8 612.0,414.6 612.5,414.3 613.0,412.8 613.5,414.9 614.0,414.7 614.5,413.9 615.0,414.6 615.5,414.5 616.0,415.0 616.5,415.2 617.0,415.1 617.5,414.9 618.0,413.3 618.5,413.9 619.0,413.2 619.5,414.5 620.0,414.9 620.5,414.7 621.0,415.5 621.5,414.3 622.0,414.1 622.5,415.4 623.0,413.0 623.5,413.2 624.0,412.6 624.5,414.9 625.0,412.7 625.5,412.9 626.0,413.6 626.5,413.7 627.0,413.9 627.5,413.7 628.0,413.3 628.5,413.1 629.0,413.5 629.5,413.4 630.0,413.5 630.5,414.7 631.0,413.4 631.5,414.4 632.0,414.0 632.5,415.7 633.0,414.9 633.5,415.7 634.0,415.2 634.5,414.9 635.0,415.0 635.5,414.5 635.5,420.8 635.0,421.1 634.5,421.0 634.0,420.4 633.5,420.9 633.0,420.5 632.5,420.1 632.0,421.6 631.5,421.4 631.0,421.7 630.5,422.3 630.0,421.0 629.5,421.3 629.0,419.7 628.5,421.4 628.0,422.6 627.5,423.0 627.0,422.6 626.5,420.4 626.0,422.0 625.5,420.0 625.0,422.5 624.5,422.2 624.0,420.8 623.5,421.6 623.0,420.7 622.5,420.2 622.0,420.8 621.5,421.3 621.0,420.5 620.5,421.1 620.0,420.7 619.5,421.8 619.0,419.7 618.5,420.2 618.0,419.9 617.5,419.9 617.0,420.3 616.5,421.4 616.0,422.3 615.5,419.8 615.0,420.9 614.5,420.7 614.0,420.5 613.5,422.3 613.0,420.6 612.5,422.0 612.0,422.1 611.5,420.0 611.0,421.1 610.5,421.0 610.0,420.3 609.5,420.7 609.0,419.8 608.5,419.8 608.0,422.1 607.5,421.9 607.0,420.6 606.5,420.4 606.0,420.9 605.5,420.2 605.0,419.8 604.5,420.2 604.0,420.7 603.5,421.5 603.0,420.1 602.5,419.4 602.0,420.9 601.5,420.5 601.0,421.5 600.5,420.2 600.0,421.2 599.5,420.0 599.0,420.9 598.5,421.0 598.0,420.7 597.5,420.2 597.0,420.7 596.5,419.8 596.0,421.0 595.5,421.1 595.0,420.9 594.5,420.9 594.0,419.7 593.5,420.0 593.0,420.5 592.5,420.6 592.0,422.0 591.5,419.7 591.0,421.9 590.5,420.9 590.0,420.8 589.5,420.7 589.0,421.0 588.5,419.8 588.0,421.1 587.5,419.9 587.0,420.4 586.5,420.3 586.0,420.5 585.5,420.5 585.0,420.6 584.5,420.1 584.0,420.4 583.5,420.4 583.0,421.0 582.5,421.2 582.0,421.1 581.5,420.2 581.0,421.7 580.5,419.9 580.0,420.4 579.5,420.1 579.0,420.2 578.5,420.5 578.0,420.6 577.5,421.6 577.0,420.2 576.5,420.3 576.0,421.3 575.5,420.4 575.0,422.0 574.5,420.8 574.0,421.4 573.5,420.2 573.0,420.8 572.5,421.2 572.0,420.6 571.5,421.3 571.0,421.1 570.5,420.6 570.0,420.2 569.5,421.1 569.0,420.5 568.5,421.3 568.0,420.6 567.5,420.7 567.0,420.8 566.5,419.7 566.0,421.1 565.5,420.1 565.0,420.1 564.5,420.1 564.0,420.5 563.5,420.8 563.0,420.4 562.5,420.7 562.0,422.3 561.5,421.4 561.0,420.9 560.5,420.7 560.0,420.3 559.5,420.9 559.0,420.7 558.5,420.6 558.0,421.2 557.5,420.9 557.0,419.8 556.5,420.5 556.0,420.9 555.5,421.2 555.0,421.8 554.5,419.9 554.0,421.0 553.5,421.3 553.0,420.3 552.5,419.7 552.0,420.7 551.5,420.8 551.0,420.7 550.5,420.4 550.0,420.4 549.5,420.1 549.0,421.3 548.5,420.6 548.0,420.2 547.5,421.5 547.0,419.8 546.5,420.9 546.0,421.3 545.5,420.3 545.0,419.4 544.5,421.0 544.0,420.4 543.5,419.6 543.0,420.5 542.5,419.8 542.0,421.3 541.5,420.4 541.0,421.1 540.5,419.3 540.0,421.5 539.5,419.9 539.0,420.5 538.5,421.0 538.0,420.5 537.5,420.6 537.0,420.3 536.5,421.2 536.0,420.4 535.5,419.8 535.0,420.4 534.5,419.8 534.0,420.9 533.5,421.4 533.0,419.5 532.5,420.4 532.0,419.6 531.5,420.5 531.0,420.0 530.5,420.7 530.0,420.3 529.5,419.6 529.0,420.2 528.5,420.3 528.0,420.8 527.5,420.5 527.0,420.4 526.5,420.5 526.0,420.0 525.5,420.2 525.0,420.1 524.5,420.2 524.0,421.5 523.5,420.4 523.0,420.4 522.5,421.0 522.0,419.9 521.5,420.5 521.0,421.3 520.5,419.7 520.0,420.4 519.5,420.8 519.0,420.3 518.5,420.4 518.0,421.1 517.5,421.2 517.0,420.6 516.5,421.5 516.0,420.4 515.5,419.4 515.0,421.3 514.5,420.2 514.0,421.2 513.5,420.1 513.0,419.9 512.5,420.4 512.0,420.2 511.5,421.7 511.0,420.2 510.5,421.8 510.0,420.2 509.5,421.1 509.0,420.5 508.5,420.5 508.0,421.0 507.5,421.0 507.0,421.1 506.5,421.5 506.0,422.0 505.5,421.2 505.0,420.0 504.5,420.3 504.0,420.7 503.5,419.6 503.0,421.5 502.5,421.1 502.0,421.8 501.5,421.6 501.0,420.9 500.5,420.4 500.0,421.8 499.5,420.5 499.0,421.1 498.5,420.6 498.0,420.8 497.5,420.0 497.0,420.5 496.5,420.1 496.0,421.2 495.5,421.2 495.0,421.5 494.5,420.4 494.0,421.8 493.5,421.6 493.0,419.5 492.5,421.2 492.0,420.5 491.5,420.1 491.0,421.1 490.5,421.9 490.0,420.8 489.5,421.3 489.0,421.4 488.5,421.2 488.0,421.0 487.5,420.5 487.0,421.1 486.5,420.3 486.0,422.2 485.5,422.4 485.0,422.0 484.5,421.7 484.0,421.1 483.5,420.6 483.0,420.5 482.5,421.5 482.0,421.9 481.5,422.8 481.0,420.6 480.5,420.7 480.0,421.1 479.5,421.2 479.0,422.6 478.5,422.4 478.0,423.4 477.5,421.8 477.0,421.2 476.5,421.8 476.0,421.1 475.5,421.6 475.0,419.8 474.5,423.0 474.0,420.6 473.5,421.0 473.0,421.1 472.5,420.2 472.0,421.7 471.5,419.8 471.0,420.6 470.5,420.7 470.0,421.7 469.5,421.1 469.0,420.7 468.5,420.8 468.0,419.8 467.5,421.0 467.0,421.0 466.5,422.0 466.0,421.6 465.5,420.9 465.0,420.1 464.5,420.9 464.0,420.2 463.5,421.6 463.0,419.4 462.5,420.8 462.0,421.7 461.5,422.1 461.0,422.0 460.5,421.7 460.0,421.2 459.5,420.7 459.0,421.5 458.5,421.9 458.0,419.8 457.5,420.7 457.0,421.1 456.5,419.7 456.0,421.3 455.5,421.3 455.0,420.4 454.5,422.5 454.0,422.2 453.5,420.6 453.0,420.9 452.5,420.2 452.0,421.0 451.5,421.9 451.0,420.0 450.5,420.4 450.0,420.8 449.5,421.8 449.0,421.2 448.5,420.1 448.0,420.5 447.5,421.3 447.0,420.3 446.5,422.1 446.0,420.5 445.5,420.9 445.0,421.2 444.5,421.6 444.0,420.8 443.5,421.6 443.0,421.3 442.5,421.5 442.0,420.4 441.5,420.5 441.0,421.6 440.5,420.9 440.0,422.2 439.5,420.0 439.0,419.9 438.5,420.5 438.0,421.1 437.5,421.7 437.0,421.5 436.5,419.7 436.0,421.1 435.5,421.6 435.0,421.5 434.5,421.0 434.0,421.0 433.5,420.0 433.0,421.1 432.5,421.5 432.0,421.0 431.5,420.1 431.0,419.5 430.5,420.3 430.0,420.4 429.5,421.5 429.0,420.0 428.5,419.8 428.0,421.5 427.5,421.5 427.0,420.7 426.5,421.6 426.0,420.6 425.5,419.6 425.0,420.9 424.5,420.9 424.0,420.0 423.5,421.2 423.0,419.7 422.5,420.5 422.0,421.2 421.5,420.6 421.0,421.1 420.5,421.1 420.0,420.7 419.5,420.2 419.0,420.3 418.5,420.8 418.0,420.0 417.5,419.6 417.0,420.7 416.5,420.1 416.0,420.3 415.5,420.3 415.0,420.8 414.5,421.1 414.0,421.1 413.5,420.4 413.0,421.1 412.5,419.9 412.0,420.5 411.5,420.8 411.0,420.3 410.5,420.1 410.0,421.5 409.5,421.8 409.0,419.9 408.5,420.9 408.0,421.2 407.5,420.7 407.0,420.4 406.5,421.1 406.0,421.4 405.5,420.5 405.0,420.4 404.5,421.0 404.0,420.2 403.5,420.6 403.0,421.1 402.5,420.2 402.0,420.3 401.5,420.4 401.0,420.6 400.5,420.8 400.0,420.1 399.5,420.6 399.0,420.8 398.5,420.4 398.0,420.4 397.5,419.9 397.0,420.7 396.5,420.9 396.0,419.7 395.5,420.1 395.0,420.7 394.5,421.1 394.0,421.2 393.5,421.9 393.0,420.5 392.5,420.8 392.0,421.5 391.5,420.4 391.0,420.9 390.5,420.6 390.0,421.0 389.5,421.7 389.0,420.2 388.5,421.2 388.0,421.4 387.5,421.4 387.0,421.1 386.5,421.2 386.0,420.5 385.5,420.1 385.0,419.9 384.5,420.9 384.0,421.2 383.5,421.8 383.0,421.3 382.5,420.5 382.0,420.0 381.5,420.2 381.0,420.7 380.5,419.8 380.0,421.0 379.5,420.4 379.0,420.1 378.5,420.3 378.0,421.0 377.5,421.6 377.0,420.5 376.5,421.3 376.0,420.9 375.5,420.5 375.0,420.2 374.5,420.3 374.0,420.1 373.5,419.6 373.0,420.7 372.5,421.3 372.0,421.2 371.5,420.1 371.0,420.6 370.5,421.1 370.0,421.3 369.5,422.0 369.0,421.5 368.5,421.4 368.0,421.2 367.5,419.8 367.0,420.3 366.5,420.3 366.0,421.2 365.5,420.6 365.0,420.2 364.5,421.0 364.0,421.4 363.5,421.2 363.0,420.7 362.5,420.5 362.0,420.4 361.5,420.8 361.0,420.7 360.5,420.6 360.0,421.2 359.5,420.7 359.0,420.1 358.5,419.9 358.0,420.7 357.5,420.3 357.0,421.2 356.5,420.6 356.0,420.6 355.5,420.5 355.0,421.4 354.5,421.0 354.0,421.3 353.5,420.9 353.0,420.3 352.5,420.8 352.0,421.2 351.5,419.8 351.0,419.9 350.5,419.9 350.0,420.8 349.5,420.2 349.0,421.6 348.5,420.8 348.0,421.1 347.5,420.9 347.0,421.3 346.5,420.4 346.0,420.3 345.5,421.3 345.0,421.0 344.5,421.6 344.0,421.5 343.5,419.6 343.0,421.3 342.5,421.2 342.0,421.1 341.5,420.7 341.0,420.3 340.5,421.4 340.0,420.5 339.5,420.1 339.0,420.7 338.5,421.3 338.0,421.2 337.5,420.3 337.0,420.3 336.5,420.4 336.0,420.2 335.5,420.2 335.0,419.7 334.5,420.6 334.0,421.5 333.5,420.1 333.0,420.9 332.5,420.9 332.0,420.6 331.5,421.1 331.0,422.2 330.5,421.3 330.0,421.8 329.5,420.4 329.0,421.6 328.5,420.7 328.0,421.7 327.5,419.9 327.0,421.8 326.5,420.2 326.0,422.3 325.5,421.6 325.0,420.9 324.5,420.9 324.0,421.1 323.5,421.4 323.0,421.1 322.5,421.1 322.0,419.3 321.5,420.9 321.0,421.0 320.5,420.0 320.0,420.6 319.5,420.7 319.0,420.3 318.5,420.0 318.0,420.5 317.5,420.2 317.0,421.0 316.5,419.7 316.0,420.9 315.5,420.5 315.0,420.0 314.5,420.6 314.0,420.5 313.5,420.2 313.0,421.1 312.5,420.0 312.0,420.1 311.5,419.9 311.0,421.1 310.5,420.6 310.0,421.6 309.5,421.9 309.0,420.5 308.5,420.4 308.0,420.2 307.5,420.0 307.0,420.6 306.5,420.2 306.0,420.1 305.5,419.7 305.0,420.2 304.5,421.1 304.0,421.0 303.5,420.7 303.0,420.4 302.5,420.1 302.0,420.2 301.5,420.9 301.0,421.2 300.5,420.4 300.0,421.5 299.5,421.4 299.0,421.8 298.5,421.2 298.0,421.0 297.5,420.8 297.0,420.3 296.5,420.1 296.0,420.9 295.5,420.6 295.0,420.7 294.5,420.1 294.0,419.6 293.5,419.5 293.0,421.5 292.5,419.4 292.0,419.7 291.5,420.6 291.0,421.0 290.5,421.1 290.0,420.3 289.5,421.9 289.0,421.4 288.5,421.9 288.0,420.6 287.5,420.5 287.0,421.2 286.5,419.6 286.0,421.4 285.5,421.2 285.0,420.8 284.5,420.3 284.0,420.7 283.5,420.2 283.0,421.1 282.5,419.6 282.0,422.0 281.5,421.2 281.0,420.3 280.5,420.5 280.0,421.1 279.5,421.9 279.0,419.9 278.5,420.9 278.0,421.2 277.5,421.4 277.0,422.2 276.5,422.0 276.0,422.3 275.5,421.0 275.0,420.7 274.5,420.9 274.0,421.2 273.5,421.2 273.0,421.3 272.5,420.5 272.0,421.3 271.5,421.7 271.0,420.9 270.5,421.4 270.0,419.8 269.5,420.8 269.0,420.4 268.5,420.9 268.0,420.7 267.5,420.1 267.0,420.2 266.5,420.2 266.0,421.3 265.5,419.8 265.0,420.2 264.5,420.4 264.0,421.1 263.5,420.7 263.0,421.0 262.5,419.5 262.0,420.7 261.5,420.8 261.0,420.7 260.5,420.8 260.0,419.8 259.5,420.4 259.0,421.4 258.5,421.6 258.0,421.5 257.5,420.4 257.0,420.4 256.5,419.7 256.0,420.6 255.5,419.9 255.0,421.7 254.5,421.0 254.0,420.7 253.5,422.1 253.0,420.5 252.5,420.2 252.0,421.4 251.5,422.2 251.0,421.0 250.5,420.4 250.0,421.5 249.5,421.6 249.0,421.4 248.5,421.0 248.0,421.6 247.5,421.1 247.0,420.1 246.5,420.8 246.0,420.8 245.5,420.6 245.0,421.6 244.5,421.4 244.0,421.1 243.5,420.8 243.0,420.8 242.5,420.1 242.0,420.3 241.5,420.9 241.0,421.1 240.5,419.9 240.0,420.4 239.5,421.5 239.0,420.6 238.5,420.0 238.0,419.8 237.5,420.3 237.0,420.4 236.5,421.2 236.0,420.9 235.5,420.7 235.0,419.6 234.5,420.9 234.0,421.3 233.5,420.3 233.0,419.7 232.5,420.8 232.0,421.1 231.5,419.5 231.0,420.9 230.5,420.3 230.0,420.5 229.5,420.4 229.0,421.2 228.5,421.8 228.0,421.0 227.5,420.7 227.0,419.7 226.5,421.1 226.0,420.9 225.5,421.4 225.0,420.2 224.5,420.7 224.0,419.7 223.5,420.3 223.0,420.9 222.5,420.7 222.0,421.5 221.5,421.0 221.0,420.0 220.5,421.3 220.0,420.9 219.5,420.4 219.0,420.8 218.5,420.1 218.0,419.9 217.5,421.1 217.0,419.8 216.5,420.2 216.0,420.5 215.5,421.3 215.0,420.6 214.5,421.0 214.0,420.4 213.5,419.6 213.0,420.3 212.5,420.0 212.0,420.8 211.5,421.3 211.0,420.3 210.5,419.6 210.0,420.5 209.5,420.0 209.0,419.6 208.5,421.0 208.0,420.6 207.5,421.1 207.0,420.3 206.5,421.4 206.0,421.7 205.5,420.8 205.0,420.8 204.5,420.4 204.0,421.8 203.5,421.9 203.0,421.5 202.5,421.7 202.0,420.9 201.5,421.4 201.0,420.3 200.5,420.5 200.0,420.6 199.5,420.4 199.0,420.9 198.5,419.6 198.0,421.1 197.5,420.8 197.0,419.4 196.5,419.9 196.0,420.3 195.5,420.7 195.0,420.9 194.5,421.0 194.0,420.5 193.5,420.8 193.0,421.0 192.5,421.3 192.0,421.4 191.5,420.3 191.0,420.9 190.5,420.1 190.0,420.4 189.5,419.9 189.0,420.9 188.5,420.4 188.0,420.7 187.5,421.2 187.0,421.2 186.5,421.3 186.0,421.7 185.5,421.6 185.0,420.1 184.5,419.8 184.0,420.6 183.5,420.2 183.0,420.2 182.5,420.0 182.0,421.4 181.5,421.1 181.0,419.8 180.5,421.3 180.0,420.6 179.5,420.2 179.0,420.2 178.5,419.7 178.0,421.3 177.5,420.7 177.0,421.2 176.5,420.3 176.0,421.4 175.5,421.3 175.0,422.6 174.5,421.8 174.0,420.0 173.5,422.0 173.0,421.8 172.5,422.2 172.0,419.8 171.5,421.1 171.0,420.9 170.5,421.1 170.0,420.8 169.5,420.2 169.0,420.3 168.5,420.6 168.0,421.2 167.5,420.7 167.0,420.3 166.5,419.9 166.0,421.0 165.5,421.8 165.0,421.0 164.5,421.2 164.0,420.9 163.5,419.9 163.0,420.0 162.5,420.8 162.0,421.0 161.5,421.5 161.0,421.6 160.5,420.4 160.0,421.3 159.5,420.9 159.0,421.6 158.5,420.7 158.0,422.0 157.5,421.7 157.0,421.5 156.5,420.4 156.0,422.8 155.5,421.4 155.0,420.7 154.5,421.6 154.0,420.7 153.5,423.2 153.0,421.1 152.5,419.8 152.0,423.0 151.5,420.2 151.0,422.1 150.5,421.4 150.0,420.8 149.5,422.9 149.0,419.9 148.5,423.2 148.0,422.3 147.5,420.9 147.0,420.4 146.5,421.2 146.0,419.5 145.5,421.3 145.0,421.6 144.5,421.8 144.0,420.7 143.5,421.0 143.0,422.3 142.5,420.6 142.0,421.4 141.5,421.2 141.0,422.5 140.5,421.3 140.0,422.7 139.5,421.2 139.0,422.4 138.5,421.2 138.0,420.2 137.5,421.8 137.0,420.8 136.5,421.5 136.0,421.1 135.5,421.6 135.0,420.6 134.5,422.4 134.0,422.3 133.5,420.2 133.0,421.2 132.5,420.4 132.0,420.9 131.5,420.1 131.0,421.5 130.5,421.7 130.0,421.1 129.5,420.1 129.0,421.1 128.5,420.7 128.0,421.9 127.5,419.8 127.0,419.7 126.5,420.6 126.0,421.2 125.5,421.6 125.0,421.0 124.5,421.3 124.0,420.9 123.5,420.9 123.0,420.4 122.5,419.9 122.0,421.5 121.5,421.4 121.0,420.1 120.5,420.3 120.0,422.0 119.5,421.1 119.0,422.6 118.5,421.7 118.0,420.0 117.5,421.1 117.0,421.3 116.5,420.5 116.0,421.5 115.5,420.3 115.0,420.2 114.5,420.3 114.0,420.3 113.5,420.7 113.0,419.9 112.5,420.8 112.0,420.2 111.5,421.0 111.0,419.9 110.5,421.5 110.0,421.0 109.5,421.0 109.0,420.8 108.5,420.4 108.0,420.7 107.5,421.4 107.0,421.1 106.5,420.1 106.0,420.7 105.5,420.0 105.0,421.3 104.5,421.2 104.0,419.9 103.5,419.5 103.0,420.7 102.5,422.0 102.0,421.1 101.5,420.5 101.0,421.5 100.5,421.3 100.0,420.7 99.5,421.4 99.0,422.0 98.5,421.3 98.0,420.3 97.5,421.8 97.0,420.9 96.5,420.8 96.0,419.7 95.5,420.7 95.0,421.5 94.5,421.3 94.0,419.8 93.5,421.4 93.0,420.4 92.5,420.4 92.0,420.9 91.5,420.3 91.0,421.4 90.5,421.7 90.0,420.0 89.5,420.4 89.0,421.0 88.5,420.8 88.0,420.6 87.5,420.8 87.0,421.2 86.5,419.9 86.0,420.9 85.5,421.0 85.0,421.6 84.5,421.0 84.0,421.3 83.5,420.5 83.0,420.4 82.5,420.4 82.0,419.5 81.5,420.3 81.0,420.2 80.5,420.6 80.0,420.1 79.5,421.0 79.0,420.6 78.5,419.6 78.0,420.8 77.5,421.1 77.0,420.9 76.5,421.8 76.0,421.2 75.5,420.5 75.0,419.6 74.5,420.5 74.0,420.6 73.5,421.5 73.0,420.4 72.5,421.2 72.0,419.7 71.5,420.3 71.0,420.1 70.5,420.5 70.0,419.5 69.5,420.0 69.0,419.6 68.5,420.2 68.0,420.0 67.5,420.7 67.0,419.4 66.5,420.7 66.0,421.2 65.5,420.5 65.0,419.8 64.5,420.1 64.0,420.3 63.5,420.2 63.0,421.0 62.5,420.4 62.0,421.0 61.5,421.2 61.0,420.3 60.5,420.1 60.0,420.1 59.5,420.3 59.0,421.0 58.5,419.7 58.0,421.0 57.5,421.2 57.0,421.6 56.5,421.1 56.0,420.6 55.5,420.2 55.0,420.7 54.5,422.0 54.0,421.1 53.5,421.6 53.0,421.0 52.5,421.1 52.0,421.2 51.5,419.9 51.0,420.9 50.5,420.5 50.0,420.7 49.5,419.6 49.0,420.2 48.5,420.8 48.0,420.7 47.5,420.6 47.0,420.8 46.5,420.2 46.0,420.0 45.5,420.0 45.0,420.0 44.5,420.1 44.0,419.9 43.5,420.2 43.0,421.1 42.5,421.0 42.0,420.0 41.5,420.0 41.0,421.1 40.5,421.8 40.0,419.5 39.5,420.8 39.0,421.1 38.5,420.9 38.0,421.1 37.5,419.8 37.0,420.5 36.5,420.8 36.0,421.1 35.5,420.4 35.0,421.4 34.5,420.7 34.0,419.8 33.5,420.7 33.0,421.0" fill="#00f"/><path d="M104.4 401.6V426.4M150.0 405.9V429.3M154.0 404.5V427.8M249.9 359.2V445.4M255.4 389.9V445.4M259.4 401.6V441.0M271.0 408.9V423.5M327.0 407.4V426.4M342.0 407.4V423.5M347.7 400.1V426.4M373.3 405.9V422.0M389.4 369.4V480.4M420.5 405.9V422.0M434.5 363.6V460.0M452.0 407.4V429.3M454.5 401.6V432.2M457.6 404.5V427.8M479.0 403.0V435.1M549.4 354.8V522.8M574.5 397.2V426.4M618.0 403.0V433.7M627.0 404.5V433.7" stroke="#00f" stroke-opacity="0.42" stroke-width="1.3" fill="none"/><path d="M104.4 410.4V421.6M150.0 412.4V422.9M154.0 411.7V422.2M249.9 391.3V430.1M255.4 405.1V430.1M259.4 410.4V428.1M271.0 413.7V420.3M327.0 413.0V421.6M342.0 413.0V420.3M347.7 409.7V421.6M373.3 412.4V419.6M389.4 395.9V445.9M420.5 412.4V419.6M434.5 393.3V436.7M452.0 413.0V422.9M454.5 410.4V424.2M457.6 411.7V422.2M479.0 411.0V425.5M549.4 389.4V464.9M574.5 408.4V421.6M618.0 411.0V424.9M627.0 411.7V424.9" stroke="#00f" stroke-opacity="0.35" stroke-width="1.3" fill="none"/>
</g>
<text x="33.0" y="548.9" text-anchor="middle" font-size="12.5">00:00</text>
<text x="108.3" y="548.9" text-anchor="middle" font-size="12.5">03:00</text>
<text x="183.6" y="548.9" text-anchor="middle" font-size="12.5">06:00</text>
<text x="258.9" y="548.9" text-anchor="middle" font-size="12.5">09:00</text>
<text x="334.2" y="548.9" text-anchor="middle" font-size="12.5">12:00</text>
<text x="409.6" y="548.9" text-anchor="middle" font-size="12.5">15:00</text>
<text x="484.9" y="548.9" text-anchor="middle" font-size="12.5">18:00</text>
<text x="560.2" y="548.9" text-anchor="middle" font-size="12.5">21:00</text>
<text x="635.5" y="548.9" text-anchor="middle" font-size="12.5">00:00</text>
<text x="28.4" y="334.2" text-anchor="end" font-size="12.5">3</text>
<text x="28.4" y="363.4" text-anchor="end" font-size="12.5">2</text>
<text x="28.4" y="392.6" text-anchor="end" font-size="12.5">1</text>
<text x="28.4" y="421.8" text-anchor="end" font-size="12.5">0</text>
<text x="28.4" y="451.0" text-anchor="end" font-size="12.5">-1</text>
<text x="28.4" y="480.2" text-anchor="end" font-size="12.5">-2</text>
<text x="28.4" y="509.4" text-anchor="end" font-size="12.5">-3</text>
<text x="28.4" y="538.7" text-anchor="end" font-size="12.5">-4</text>
<text x="9.2" y="431.9" text-anchor="middle" font-weight="bold" transform="rotate(-90 9.2 431.9)" font-size="12.5">Y (nT)</text>
<path d="M33.0 614.0H635.5V818.45H33.0ZM108.3 818.45v-6.5M108.3 614.00v6.5M183.6 818.45v-6.5M183.6 614.00v6.5M258.9 818.45v-6.5M258.9 614.00v6.5M334.2 818.45v-6.5M334.2 614.00v6.5M409.6 818.45v-6.5M409.6 614.00v6.5M484.9 818.45v-6.5M484.9 614.00v6.5M560.2 818.45v-6.5M560.2 614.00v6.5M33.0 648.08h6.5M635.5 648.08h-6.5M33.0 682.15h6.5M635.5 682.15h-6.5M33.0 716.23h6.5M635.5 716.23h-6.5M33.0 750.30h6.5M635.5 750.30h-6.5M33.0 784.38h6.5M635.5 784.38h-6.5" fill="none" stroke="#8e8e8e" stroke-width="1"/>
<g clip-path="url(#cl2)">
<path d="M33.0 641.1V649.8M34.0 639.3V654.2M35.0 640.5V651.2M36.0 640.8V658.8M37.0 640.2V651.6M38.0 637.0V656.6M39.0 637.6V657.4M40.0 640.8V651.9M41.0 640.6V652.7M42.0 640.8V652.5M43.0 639.2V653.4M44.0 640.5V650.4M45.0 642.7V650.1M46.0 643.8V649.6M47.0 639.6V652.4M48.0 642.6V650.2M49.0 643.7V649.8M50.0 643.9V650.0M51.0 639.9V649.5M52.0 640.0V652.8M53.0 643.5V651.6M54.0 643.7V649.7M55.0 640.0V652.7M56.0 641.9V654.1M57.0 640.6V652.1M58.0 636.5V651.4M59.0 639.6V654.0M60.0 642.8V649.9M61.0 643.6V654.2M62.0 639.9V653.7M63.0 638.2V653.0M64.0 641.4V650.6M65.0 643.4V651.0M66.0 643.7V649.7M67.0 639.9V653.8M68.0 642.9V650.5M69.0 643.5V650.0M70.0 643.4V650.2M71.0 641.9V651.0M72.0 641.3V651.4M73.0 642.4V656.6M74.0 641.5V653.3M75.0 635.9V652.6M76.0 639.0V653.3M77.0 641.3V653.1M78.0 636.6V651.4M79.0 640.0V656.3M80.0 643.6V650.5M81.0 640.5V650.0M82.0 644.0V649.4M83.0 639.8V649.7M84.0 642.6V651.7M85.0 642.9V651.5M86.0 642.8V650.4M87.0 639.5V653.8M88.0 640.8V650.4M89.0 635.5V651.8M90.0 636.8V662.2M91.0 632.5V660.9M92.0 631.9V659.8M93.0 641.1V652.6M94.0 632.7V657.4M95.0 641.1V653.8M96.0 639.2V653.7M97.0 641.1V654.0M98.0 635.5V657.3M99.0 636.3V658.1M100.0 639.5V656.4M101.0 638.8V652.4M102.0 641.3V652.8M103.0 641.0V652.8M104.0 640.5V654.6M105.0 631.3V653.7M106.0 639.1V660.5M107.0 640.7V660.5M108.0 638.7V653.9M109.0 641.7V652.5M110.0 636.9V653.7M111.0 638.7V649.9M112.0 638.8V652.6M113.0 641.4V652.1M114.0 638.7V652.8M115.0 640.2V655.6M116.0 642.0V655.9M117.0 642.1V651.7M118.0 641.8V654.0M119.0 633.5V653.2M120.0 640.2V660.3M121.0 640.8V654.1M122.0 640.1V651.9M123.0 637.8V651.7M124.0 640.8V656.7M125.0 642.0V656.4M126.0 638.0V655.6M127.0 640.9V652.9M128.0 637.1V656.1M129.0 641.3V655.5M130.0 641.8V652.1M131.0 641.3V656.6M132.0 641.6V653.3M133.0 635.3V651.7M134.0 635.2V651.7M135.0 640.1V651.5M136.0 639.9V653.0M137.0 641.9V653.5M138.0 640.6V655.5M139.0 639.3V651.9M140.0 638.7V654.0M141.0 639.4V657.2M142.0 639.4V661.3M143.0 639.5V655.3M144.0 629.7V656.7M145.0 639.3V662.7M146.0 631.4V654.5M147.0 632.9V658.2M148.0 638.8V655.2M149.0 635.1V657.1M150.0 635.4V657.3M151.0 640.8V660.7M152.0 637.4V656.5M153.0 635.0V652.4M154.0 641.3V655.0M155.0 635.9V660.5M156.0 640.7V652.9M157.0 637.3V652.7M158.0 641.5V651.3M159.0 641.7V655.0M160.0 642.9V650.5M161.0 641.9V655.0M162.0 637.1V657.9M163.0 641.7V655.0M164.0 637.5V651.1M165.0 641.5V655.7M166.0 640.7V656.5M167.0 642.6V651.5M168.0 643.2V649.7M169.0 642.8V654.5M170.0 643.3V650.2M171.0 643.6V650.8M172.0 641.5V650.2M173.0 640.9V650.6M174.0 636.0V652.8M175.0 640.9V652.1M176.0 640.7V650.8M177.0 643.6V652.6M178.0 639.4V650.0M179.0 641.3V654.0M180.0 641.3V654.0M181.0 639.3V651.3M182.0 642.4V651.5M183.0 641.3V656.7M184.0 641.7V656.1M185.0 639.6V651.3M186.0 640.0V651.6M187.0 641.5V655.1M188.0 641.4V649.7M189.0 643.9V651.8M190.0 643.6V650.2M191.0 643.0V656.0M192.0 642.7V655.3M193.0 641.5V652.3M194.0 642.8V654.2M195.0 643.0V651.5M196.0 643.7V650.2M197.0 641.6V651.5M198.0 643.4V649.7M199.0 641.9V649.7M200.0 643.1V649.7M201.0 643.8V650.3M202.0 643.5V649.8M203.0 638.3V651.1M204.0 638.5V650.2M205.0 643.2V650.7M206.0 642.5V651.3M207.0 644.1V649.5M208.0 643.5V652.7M209.0 642.5V651.9M210.0 640.5V654.7M211.0 638.0V654.1M212.0 639.9V653.2M213.0 637.2V653.3M214.0 638.3V660.6M215.0 639.2V652.4M216.0 643.1V650.6M217.0 642.5V650.8M218.0 642.0V651.7M219.0 641.6V654.5M220.0 641.1V656.9M221.0 635.1V657.7M222.0 639.6V655.8M223.0 637.8V653.4M224.0 643.0V650.5M225.0 644.1V649.3M226.0 641.7V649.4M227.0 643.0V649.4M228.0 642.5V649.6M229.0 638.7V650.3M230.0 641.0V654.2M231.0 633.9V657.9M232.0 640.9V652.6M233.0 634.6V658.5M234.0 638.1V652.5M235.0 639.8V653.9M236.0 641.6V657.1M237.0 637.9V652.5M238.0 641.7V654.0M239.0 643.3V650.2M240.0 642.7V649.5M241.0 643.7V649.7M242.0 643.1V650.2M243.0 642.7V653.0M244.0 641.2V657.5M245.0 641.2V659.6M246.0 634.6V656.1M247.0 633.6V653.3M248.0 639.2V661.1M249.0 634.4V652.8M250.0 640.8V661.2M251.0 640.8V652.4M252.0 636.6V658.5M253.0 641.8V652.0M254.0 640.3V651.1M255.0 639.1V649.6M256.0 642.9V651.6M257.0 641.3V651.8M258.0 638.8V653.6M259.0 641.2V657.3M260.0 642.5V652.8M261.0 642.5V654.8M262.0 642.7V652.6M263.0 641.3V653.8M264.0 639.7V651.8M265.0 641.9V651.5M266.0 640.6V651.1M267.0 640.8V653.7M268.0 641.8V653.5M269.0 640.1V654.0M270.0 638.8V654.5M271.0 637.8V653.8M272.0 639.3V655.5M273.0 635.2V658.8M274.0 639.7V661.8M275.0 629.3V657.2M276.0 638.9V665.9M277.0 639.1V654.3M278.0 634.2V656.6M279.0 639.7V653.4M280.0 640.0V658.0M281.0 640.2V660.6M282.0 639.9V652.7M283.0 641.0V654.9M284.0 641.5V660.0M285.0 641.8V653.3M286.0 639.0V651.8M287.0 642.0V655.3M288.0 641.9V651.5M289.0 641.7V652.5M290.0 642.7V653.4M291.0 643.0V650.7M292.0 642.5V655.5M293.0 641.4V651.7M294.0 637.1V652.3M295.0 638.2V652.8M296.0 641.4V652.5M297.0 636.2V651.6M298.0 639.0V650.9M299.0 636.7V651.3M300.0 636.9V651.3M301.0 641.9V656.8M302.0 639.8V651.0M303.0 642.2V653.3M304.0 640.9V659.0M305.0 635.3V661.2M306.0 637.5V659.0M307.0 640.9V653.1M308.0 642.2V657.3M309.0 640.6V652.1M310.0 641.8V654.2M311.0 642.7V650.6M312.0 637.3V651.2M313.0 637.8V655.1M314.0 641.4V652.8M315.0 639.8V654.5M316.0 637.5V652.6M317.0 639.0V653.0M318.0 641.7V652.0M319.0 638.1V657.5M320.0 636.3V652.8M321.0 640.0V651.5M322.0 639.0V651.2M323.0 638.6V651.3M324.0 642.3V657.7M325.0 642.0V650.6M326.0 643.7V649.9M327.0 644.1V650.7M328.0 643.4V649.9M329.0 643.2V650.4M330.0 641.0V652.0M331.0 641.8V651.2M332.0 640.8V655.3M333.0 639.9V651.7M334.0 637.9V651.3M335.0 642.8V653.6M336.0 641.5V650.6M337.0 643.2V651.5M338.0 643.4V651.5M339.0 642.2V650.5M340.0 640.7V654.8M341.0 639.3V660.6M342.0 634.0V655.4M343.0 631.7V654.1M344.0 639.0V654.5M345.0 640.8V657.3M346.0 642.2V657.4M347.0 639.9V651.5M348.0 641.3V654.1M349.0 642.2V652.2M350.0 641.9V651.0M351.0 639.2V651.7M352.0 642.5V652.2M353.0 641.7V652.1M354.0 637.1V656.8M355.0 642.4V652.0M356.0 641.9V651.8M357.0 643.9V650.2M358.0 643.6V651.0M359.0 637.5V656.0M360.0 642.7V651.5M361.0 642.9V650.6M362.0 641.7V653.5M363.0 642.8V650.6M364.0 642.5V652.0M365.0 639.9V652.1M366.0 640.5V656.1M367.0 641.8V656.8M368.0 642.9V652.9M369.0 643.2V650.5M370.0 643.9V652.1M371.0 641.4V654.3M372.0 639.4V650.9M373.0 642.4V652.7M374.0 638.4V651.2M375.0 638.2V657.2M376.0 637.3V651.5M377.0 632.1V653.2M378.0 630.9V658.6M379.0 640.8V660.1M380.0 641.6V655.3M381.0 639.1V653.1M382.0 642.6V651.9M383.0 642.7V650.9M384.0 642.4V650.6M385.0 636.1V655.2M386.0 635.6V651.4M387.0 640.3V653.5M388.0 639.0V652.2M389.0 641.1V652.3M390.0 642.3V651.4M391.0 643.6V650.5M392.0 643.8V649.5M393.0 643.7V649.3M394.0 643.2V653.1M395.0 638.8V650.8M396.0 642.7V653.2M397.0 634.7V655.8M398.0 640.4V657.2M399.0 636.2V658.3M400.0 640.8V657.0M401.0 641.2V652.5M402.0 639.3V651.9M403.0 640.4V654.4M404.0 643.0V653.1M405.0 639.9V650.1M406.0 642.8V656.0M407.0 640.5V656.0M408.0 641.7V654.6M409.0 640.0V652.2M410.0 639.9V654.2M411.0 640.9V661.5M412.0 641.6V651.8M413.0 642.1V653.1M414.0 639.7V653.5M415.0 640.6V650.8M416.0 639.4V651.9M417.0 638.9V651.5M418.0 641.2V652.6M419.0 639.9V651.5M420.0 643.3V653.3M421.0 642.4V650.1M422.0 643.0V649.9M423.0 639.8V650.1M424.0 640.9V652.6M425.0 643.3V651.7M426.0 638.8V650.2M427.0 643.1V651.2M428.0 643.4V649.8M429.0 641.7V650.0M430.0 643.4V651.3M431.0 643.1V650.9M432.0 638.4V650.4M433.0 642.4V650.1M434.0 642.3V652.8M435.0 643.6V649.5M436.0 639.8V650.2M437.0 640.9V650.6M438.0 640.9V650.7M439.0 641.8V653.3M440.0 642.9V650.2M441.0 639.5V650.4M442.0 636.8V653.7M443.0 632.3V652.5M444.0 631.9V655.8M445.0 635.9V657.1M446.0 640.5V653.1M447.0 630.8V656.1M448.0 633.6V658.3M449.0 634.5V654.9M450.0 641.9V652.1M451.0 640.8V652.3M452.0 634.3V653.9M453.0 637.7V659.2M454.0 628.9V658.2M455.0 632.7V654.3M456.0 637.6V655.6M457.0 634.5V653.7M458.0 631.4V653.5M459.0 639.8V656.2M460.0 637.6V661.5M461.0 632.4V655.8M462.0 639.5V654.4M463.0 636.6V654.3M464.0 640.4V654.7M465.0 640.7V656.5M466.0 637.9V652.4M467.0 640.3V652.6M468.0 637.7V652.9M469.0 639.1V659.9M470.0 639.3V656.9M471.0 633.2V654.0M472.0 632.6V656.6M473.0 641.2V658.6M474.0 632.6V660.1M475.0 640.3V655.3M476.0 638.6V656.6M477.0 637.8V655.6M478.0 637.6V657.2M479.0 639.1V654.4M480.0 633.5V660.9M481.0 631.5V659.7M482.0 639.3V658.2M483.0 632.0V656.2M484.0 633.8V655.2M485.0 640.7V652.9M486.0 637.1V654.2M487.0 642.6V654.7M488.0 642.6V651.0M489.0 642.1V654.3M490.0 640.4V656.2M491.0 638.1V650.5M492.0 637.4V650.7M493.0 642.7V650.2M494.0 643.6V649.6M495.0 643.9V650.8M496.0 640.9V650.1M497.0 643.7V649.4M498.0 644.0V652.1M499.0 643.7V649.9M500.0 642.9V653.0M501.0 640.4V650.8M502.0 638.3V650.5M503.0 637.3V651.2M504.0 642.2V650.5M505.0 641.5V653.3M506.0 634.9V652.3M507.0 640.7V656.5M508.0 640.5V653.0M509.0 633.5V654.6M510.0 630.9V653.8M511.0 639.3V652.8M512.0 637.3V654.0M513.0 644.1V650.1M514.0 639.5V651.1M515.0 642.7V653.7M516.0 642.5V652.9M517.0 642.5V656.7M518.0 643.4V649.9M519.0 641.7V649.5M520.0 639.9V651.0M521.0 637.3V655.0M522.0 639.3V653.7M523.0 639.9V651.8M524.0 642.8V655.4M525.0 641.3V651.2M526.0 642.5V650.8M527.0 640.8V653.6M528.0 640.0V656.7M529.0 638.3V655.1M530.0 641.8V651.8M531.0 642.5V652.0M532.0 639.3V650.7M533.0 642.5V652.7M534.0 643.0V649.5M535.0 643.9V649.5M536.0 644.0V649.3M537.0 642.2V650.3M538.0 641.8V650.5M539.0 640.6V651.3M540.0 642.6V650.4M541.0 642.7V650.6M542.0 639.3V654.4M543.0 639.3V652.9M544.0 640.4V652.1M545.0 641.4V650.8M546.0 639.5V650.3M547.0 639.4V651.3M548.0 639.1V651.6M549.0 641.2V652.6M550.0 641.5V652.0M551.0 641.3V652.5M552.0 641.3V651.4M553.0 636.5V651.2M554.0 636.3V652.1M555.0 642.8V655.7M556.0 642.3V651.2M557.0 637.8V652.9M558.0 638.0V656.1M559.0 634.7V651.7M560.0 642.8V652.7M561.0 643.0V650.4M562.0 640.9V655.0M563.0 642.2V651.5M564.0 641.4V653.0M565.0 636.2V657.9M566.0 636.3V654.9M567.0 640.7V653.2M568.0 640.9V660.5M569.0 640.1V659.9M570.0 633.7V654.6M571.0 637.5V655.5M572.0 633.9V654.8M573.0 635.4V655.3M574.0 635.5V655.3M575.0 637.0V654.6M576.0 628.5V654.7M577.0 632.0V653.6M578.0 634.9V652.8M579.0 642.1V652.5M580.0 642.2V652.9M581.0 640.4V651.2M582.0 642.2V651.2M583.0 641.2V651.2M584.0 642.1V652.1M585.0 640.2V651.4M586.0 636.8V652.7M587.0 641.2V653.9M588.0 634.7V657.0M589.0 636.0V652.7M590.0 640.5V654.5M591.0 640.0V655.0M592.0 634.3V653.2M593.0 642.2V650.6M594.0 640.1V651.1M595.0 641.9V654.6M596.0 643.5V650.2M597.0 643.3V653.0M598.0 642.7V650.8M599.0 642.1V657.6M600.0 640.5V652.5M601.0 640.1V660.0M602.0 640.0V653.0M603.0 634.9V655.6M604.0 630.6V653.4M605.0 640.3V653.1M606.0 639.5V656.0M607.0 641.2V652.8M608.0 641.6V651.8M609.0 636.7V652.5M610.0 640.1V655.6M611.0 635.5V654.0M612.0 625.7V658.5M613.0 631.6V659.8M614.0 638.1V658.3M615.0 638.4V658.0M616.0 640.6V656.8M617.0 642.2V652.0M618.0 636.5V651.3M619.0 642.1V656.0M620.0 634.3V654.7M621.0 640.4V652.3M622.0 640.8V655.4M623.0 630.6V657.6M624.0 640.0V656.5M625.0 638.8V655.2M626.0 637.5V668.0M627.0 637.0V668.3M628.0 637.7V660.9M629.0 638.3V655.3M630.0 637.6V654.0M631.0 633.7V653.8M632.0 638.8V654.4M633.0 635.2V652.9M634.0 639.8V656.2M635.0 639.7V654.1" stroke="#00f" stroke-opacity="0.3" stroke-width="0.6" fill="none"/><path d="M33.0 642.9V649.2M33.5 642.6V649.8M34.0 641.6V649.4M34.5 643.7V650.6M35.0 642.4V649.8M35.5 642.9V653.3M36.0 640.6V652.4M36.5 643.5V649.4M37.0 641.3V650.4M37.5 644.0V652.6M38.0 639.8V653.7M38.5 643.0V649.8M39.0 641.3V651.7M39.5 642.2V653.8M40.0 639.4V652.8M40.5 638.7V651.8M41.0 642.7V650.3M41.5 642.7V655.2M42.0 641.6V650.9M42.5 639.0V653.2M43.0 643.4V649.5M43.5 642.7V650.7M44.0 641.6V649.6M44.5 644.4V650.8M45.0 645.0V650.2M45.5 645.3V650.7M46.0 643.9V649.4M46.5 645.2V649.3M47.0 643.5V650.1M47.5 642.8V650.1M48.0 643.9V649.1M48.5 643.9V649.8M49.0 643.6V649.8M49.5 644.3V650.3M50.0 644.1V649.7M50.5 645.2V650.1M51.0 642.9V648.5M51.5 643.9V649.5M52.0 645.0V649.3M52.5 643.2V649.6M53.0 645.2V649.8M53.5 644.5V649.6M54.0 644.7V649.9M54.5 642.0V648.7M55.0 644.1V650.4M55.5 644.0V651.3M56.0 643.9V651.1M56.5 643.1V650.6M57.0 640.1V652.3M57.5 639.8V651.4M58.0 641.6V652.0M58.5 642.9V651.5M59.0 642.0V651.0M59.5 645.0V649.9M60.0 644.8V648.6M60.5 643.3V649.4M61.0 643.2V650.4M61.5 642.4V651.0M62.0 644.6V649.2M62.5 643.8V649.1M63.0 640.9V652.3M63.5 640.7V649.0M64.0 643.1V649.8M64.5 641.7V648.9M65.0 642.9V649.7M65.5 643.9V649.5M66.0 643.2V649.6M66.5 643.4V649.3M67.0 644.9V648.9M67.5 644.8V650.9M68.0 643.4V651.0M68.5 642.0V649.5M69.0 644.5V649.3M69.5 644.1V650.2M70.0 643.9V649.8M70.5 644.9V649.9M71.0 641.4V649.7M71.5 642.0V650.2M72.0 641.5V650.4M72.5 641.8V651.9M73.0 643.2V650.0M73.5 640.5V653.1M74.0 642.1V652.7M74.5 642.1V654.4M75.0 642.1V651.0M75.5 643.9V650.1M76.0 642.4V653.4M76.5 639.5V651.8M77.0 643.8V652.4M77.5 641.5V650.7M78.0 643.7V649.2M78.5 643.4V649.3M79.0 644.3V651.3M79.5 643.8V650.3M80.0 643.9V648.9M80.5 645.0V648.9M81.0 643.9V649.3M81.5 644.1V649.0M82.0 643.4V648.9M82.5 642.8V649.3M83.0 643.6V650.5M83.5 643.8V650.3M84.0 643.1V651.0M84.5 644.7V651.0M85.0 644.6V649.9M85.5 642.6V649.9M86.0 642.5V648.4M86.5 644.0V649.4M87.0 644.7V649.5M87.5 644.7V648.6M88.0 644.3V650.6M88.5 642.6V649.4M89.0 640.7V649.9M89.5 643.8V649.9M90.0 639.7V655.3M90.5 640.5V652.1M91.0 639.7V652.5M91.5 642.4V651.7M92.0 641.0V650.3M92.5 638.7V653.1M93.0 642.4V652.7M93.5 642.3V653.6M94.0 640.6V654.9M94.5 643.2V650.7M95.0 642.8V653.6M95.5 640.0V651.2M96.0 640.8V652.2M96.5 639.3V654.0M97.0 642.4V652.5M97.5 642.0V652.2M98.0 642.6V651.0M98.5 638.8V654.8M99.0 638.4V653.3M99.5 638.9V655.2M100.0 642.2V651.3M100.5 639.0V653.2M101.0 639.7V649.5M101.5 643.6V650.5M102.0 639.5V649.5M102.5 640.6V653.1M103.0 641.0V650.3M103.5 642.5V653.1M104.0 640.1V653.1M104.5 638.0V650.2M105.0 643.0V650.2M105.5 638.9V652.0M106.0 641.5V654.6M106.5 640.2V655.6M107.0 643.7V651.5M107.5 640.0V651.8M108.0 639.8V653.3M108.5 640.5V650.8M109.0 640.1V649.6M109.5 642.9V652.1M110.0 641.8V651.3M110.5 641.7V648.8M111.0 642.9V648.7M111.5 643.8V651.5M112.0 641.5V651.0M112.5 641.7V650.9M113.0 643.0V652.9M113.5 639.6V651.0M114.0 643.4V654.8M114.5 638.5V649.8M115.0 640.8V653.9M115.5 642.1V652.7M116.0 639.8V651.1M116.5 643.9V652.9M117.0 641.5V648.9M117.5 640.7V649.2M118.0 642.3V653.4M118.5 640.5V653.0M119.0 641.0V653.3M119.5 638.5V654.3M120.0 640.9V652.5M120.5 639.0V651.8M121.0 641.4V654.3M121.5 639.6V650.0M122.0 639.9V654.3M122.5 641.8V651.2M123.0 640.1V650.3M123.5 639.4V652.6M124.0 642.2V650.9M124.5 642.9V652.9M125.0 643.6V651.0M125.5 639.9V649.7M126.0 640.7V650.6M126.5 639.8V651.0M127.0 641.1V649.5M127.5 642.4V652.6M128.0 642.8V649.8M128.5 642.5V649.6M129.0 643.7V651.2M129.5 643.6V649.7M130.0 642.6V653.1M130.5 641.9V651.2M131.0 641.6V653.7M131.5 639.5V651.9M132.0 643.2V653.7M132.5 640.4V651.3M133.0 642.2V652.1M133.5 643.5V651.3M134.0 642.6V652.4M134.5 642.2V649.7M135.0 642.9V651.4M135.5 640.7V651.9M136.0 644.3V649.3M136.5 642.6V652.3M137.0 641.5V650.9M137.5 640.3V652.9M138.0 642.6V652.4M138.5 642.1V650.0M139.0 639.9V652.1M139.5 641.8V654.9M140.0 638.8V651.7M140.5 636.8V652.4M141.0 636.0V651.7M141.5 642.8V652.7M142.0 640.5V654.8M142.5 642.0V657.3M143.0 641.5V656.5M143.5 640.4V656.3M144.0 641.7V657.3M144.5 638.4V651.1M145.0 642.1V657.5M145.5 642.0V651.9M146.0 641.2V656.4M146.5 639.1V657.9M147.0 635.4V651.1M147.5 641.0V654.1M148.0 639.4V655.7M148.5 642.9V655.4M149.0 640.9V655.0M149.5 640.4V656.0M150.0 638.3V651.3M150.5 640.9V650.9M151.0 639.9V654.9M151.5 642.1V652.3M152.0 642.8V653.3M152.5 641.8V651.8M153.0 640.8V654.0M153.5 642.1V652.0M154.0 639.7V650.6M154.5 640.3V654.4M155.0 642.3V652.3M155.5 642.7V652.5M156.0 641.2V654.0M156.5 640.6V653.4M157.0 640.9V649.4M157.5 643.4V651.0M158.0 643.2V648.8M158.5 641.9V651.3M159.0 642.7V650.2M159.5 642.9V649.4M160.0 644.2V651.5M160.5 642.0V650.1M161.0 644.2V653.3M161.5 642.1V650.2M162.0 640.8V653.8M162.5 643.9V650.7M163.0 640.5V650.4M163.5 642.3V653.3M164.0 641.9V649.3M164.5 640.8V649.8M165.0 643.1V650.4M165.5 641.2V649.1M166.0 643.4V650.4M166.5 643.3V651.5M167.0 643.4V650.8M167.5 642.2V651.0M168.0 642.6V649.7M168.5 644.4V649.2M169.0 644.2V649.9M169.5 643.7V649.2M170.0 644.8V649.7M170.5 642.8V649.2M171.0 645.1V650.1M171.5 642.2V649.6M172.0 642.6V650.6M172.5 642.2V649.0M173.0 644.7V649.9M173.5 643.8V649.6M174.0 643.3V652.3M174.5 640.7V649.0M175.0 641.8V649.4M175.5 644.7V650.7M176.0 642.8V651.6M176.5 643.4V648.6M177.0 643.1V651.3M177.5 642.8V648.4M178.0 641.8V650.6M178.5 641.9V650.4M179.0 642.7V650.9M179.5 644.6V652.3M180.0 641.7V651.9M180.5 643.7V650.8M181.0 643.2V650.5M181.5 642.8V652.5M182.0 642.7V650.7M182.5 643.0V651.0M183.0 642.2V651.2M183.5 642.3V650.9M184.0 644.0V649.8M184.5 644.6V650.1M185.0 643.1V648.9M185.5 641.7V650.2M186.0 642.0V648.6M186.5 641.7V651.1M187.0 643.9V651.2M187.5 644.6V650.4M188.0 644.1V650.7M188.5 643.3V649.0M189.0 643.6V650.6M189.5 642.6V649.9M190.0 644.8V649.5M190.5 644.3V650.1M191.0 641.3V650.8M191.5 643.1V649.0M192.0 641.5V649.7M192.5 640.9V651.0M193.0 643.0V650.6M193.5 642.2V649.7M194.0 642.9V648.4M194.5 644.3V650.4M195.0 642.6V650.8M195.5 643.7V650.8M196.0 643.5V649.5M196.5 644.1V648.5M197.0 644.7V649.3M197.5 643.7V649.2M198.0 644.2V651.0M198.5 643.7V649.2M199.0 643.1V649.2M199.5 643.1V651.1M200.0 643.0V650.8M200.5 644.8V649.0M201.0 643.6V650.5M201.5 644.5V649.9M202.0 645.0V648.8M202.5 644.7V649.6M203.0 642.8V651.3M203.5 642.5V651.0M204.0 644.7V651.3M204.5 642.9V649.3M205.0 643.3V650.4M205.5 642.4V650.8M206.0 644.0V650.7M206.5 643.2V648.7M207.0 644.2V650.1M207.5 644.0V648.7M208.0 645.1V649.7M208.5 643.9V650.9M209.0 644.0V650.1M209.5 642.8V653.1M210.0 644.3V649.6M210.5 639.5V652.6M211.0 643.5V651.3M211.5 640.2V649.8M212.0 640.5V650.8M212.5 642.2V653.7M213.0 643.2V653.7M213.5 641.8V652.9M214.0 639.7V653.4M214.5 642.6V653.1M215.0 643.7V649.4M215.5 642.7V652.0M216.0 643.7V649.5M216.5 644.2V650.8M217.0 642.6V650.0M217.5 640.3V649.9M218.0 643.9V649.7M218.5 642.7V651.0M219.0 642.5V653.2M219.5 639.7V652.3M220.0 639.4V654.7M220.5 642.1V650.9M221.0 642.5V650.3M221.5 639.5V652.6M222.0 640.7V654.1M222.5 640.5V649.9M223.0 640.8V654.5M223.5 640.7V652.6M224.0 642.9V651.0M224.5 644.9V649.7M225.0 643.8V648.1M225.5 644.2V649.2M226.0 644.3V649.8M226.5 644.9V648.7M227.0 644.1V650.7M227.5 644.9V648.5M228.0 643.1V649.6M228.5 643.1V649.8M229.0 641.9V650.9M229.5 640.8V651.7M230.0 640.1V651.3M230.5 642.0V651.6M231.0 642.8V650.8M231.5 638.4V651.5M232.0 639.4V653.6M232.5 641.8V652.9M233.0 642.5V653.4M233.5 640.8V650.3M234.0 641.6V650.4M234.5 639.8V653.8M235.0 642.0V651.2M235.5 641.7V653.4M236.0 643.7V649.7M236.5 640.9V653.7M237.0 641.8V651.2M237.5 640.8V650.7M238.0 642.9V650.2M238.5 643.8V648.7M239.0 644.5V650.4M239.5 644.0V648.6M240.0 645.0V648.4M240.5 643.7V650.5M241.0 642.9V649.5M241.5 644.6V648.5M242.0 643.7V649.2M242.5 641.9V648.7M243.0 642.5V650.5M243.5 642.4V651.9M244.0 643.9V652.3M244.5 640.0V652.2M245.0 639.5V650.8M245.5 641.1V654.8M246.0 640.3V650.4M246.5 643.7V654.8M247.0 638.4V651.9M247.5 643.2V654.9M248.0 643.0V650.4M248.5 639.5V651.1M249.0 638.6V652.8M249.5 641.2V652.1M250.0 638.2V650.2M250.5 639.0V650.0M251.0 642.6V654.1M251.5 640.9V653.2M252.0 641.4V650.7M252.5 642.0V650.6M253.0 643.2V653.1M253.5 640.7V649.8M254.0 643.8V651.9M254.5 644.5V649.0M255.0 644.6V648.3M255.5 642.2V649.9M256.0 642.8V648.6M256.5 643.4V649.1M257.0 640.2V654.0M257.5 643.8V650.7M258.0 639.2V649.8M258.5 640.9V652.0M259.0 643.6V651.3M259.5 643.6V651.5M260.0 641.6V651.5M260.5 642.6V649.3M261.0 643.3V650.6M261.5 642.0V649.1M262.0 640.9V652.6M262.5 640.3V649.3M263.0 644.2V649.5M263.5 640.4V653.6M264.0 643.8V650.4M264.5 642.4V654.0M265.0 644.3V651.1M265.5 641.5V648.8M266.0 643.9V650.1M266.5 642.6V649.2M267.0 642.3V651.1M267.5 643.6V649.9M268.0 644.4V649.2M268.5 643.4V649.9M269.0 642.4V655.2M269.5 643.3V650.2M270.0 640.0V652.0M270.5 636.7V653.9M271.0 636.7V651.0M271.5 637.4V650.9M272.0 638.5V652.6M272.5 642.8V650.3M273.0 642.5V655.1M273.5 642.2V652.2M274.0 642.3V650.2M274.5 636.2V655.5M275.0 639.0V650.7M275.5 637.1V651.1M276.0 635.9V656.2M276.5 639.5V652.0M277.0 640.6V657.2M277.5 641.2V650.3M278.0 641.9V651.9M278.5 643.4V650.9M279.0 642.4V650.7M279.5 643.3V650.9M280.0 641.8V651.4M280.5 643.4V654.4M281.0 639.7V654.0M281.5 642.3V655.6M282.0 639.6V653.4M282.5 638.3V650.3M283.0 639.0V652.9M283.5 639.5V652.9M284.0 642.2V653.2M284.5 642.0V652.3M285.0 640.0V651.1M285.5 641.9V652.1M286.0 643.2V653.0M286.5 642.7V651.9M287.0 644.3V651.0M287.5 643.9V649.7M288.0 643.4V651.9M288.5 642.3V651.4M289.0 640.3V652.7M289.5 643.3V652.1M290.0 642.5V652.0M290.5 644.3V649.9M291.0 642.4V648.9M291.5 644.2V650.9M292.0 644.3V650.0M292.5 643.6V653.3M293.0 641.2V651.3M293.5 642.0V651.8M294.0 641.9V652.6M294.5 641.9V652.7M295.0 641.4V650.3M295.5 643.5V649.6M296.0 642.3V651.5M296.5 643.8V651.4M297.0 641.3V650.1M297.5 642.8V652.7M298.0 640.9V652.1M298.5 641.7V652.1M299.0 643.3V652.4M299.5 641.8V649.6M300.0 642.0V648.9M300.5 643.3V651.1M301.0 642.7V651.2M301.5 641.6V649.4M302.0 643.6V650.0M302.5 641.6V652.5M303.0 642.8V650.5M303.5 642.4V649.1M304.0 642.1V653.3M304.5 643.7V652.3M305.0 642.4V653.2M305.5 643.5V653.3M306.0 643.3V653.6M306.5 641.6V651.6M307.0 642.6V651.0M307.5 641.5V651.2M308.0 643.1V652.1M308.5 644.4V651.8M309.0 641.8V649.7M309.5 641.6V649.0M310.0 644.8V650.4M310.5 642.2V648.8M311.0 642.2V649.9M311.5 642.1V648.7M312.0 642.4V649.0M312.5 642.2V648.7M313.0 643.4V649.4M313.5 642.0V651.8M314.0 644.1V650.2M314.5 643.3V649.3M315.0 642.5V650.3M315.5 643.2V650.2M316.0 644.7V651.5M316.5 643.9V651.1M317.0 640.8V653.2M317.5 641.8V652.6M318.0 643.6V650.1M318.5 643.0V649.6M319.0 642.0V653.1M319.5 640.2V653.4M320.0 640.7V652.3M320.5 642.9V651.3M321.0 644.3V652.4M321.5 643.6V653.2M322.0 641.4V652.3M322.5 642.7V650.6M323.0 644.2V650.5M323.5 640.9V652.8M324.0 644.4V649.0M324.5 643.0V649.6M325.0 642.5V652.3M325.5 644.2V651.4M326.0 642.9V651.2M326.5 644.2V650.2M327.0 643.5V648.3M327.5 645.0V650.5M328.0 644.2V650.4M328.5 642.4V648.6M329.0 644.7V649.3M329.5 642.7V651.6M330.0 644.6V651.0M330.5 644.1V651.3M331.0 644.1V651.1M331.5 643.6V649.2M332.0 641.9V650.1M332.5 642.8V651.0M333.0 642.8V649.3M333.5 642.0V649.9M334.0 644.5V651.5M334.5 643.9V651.5M335.0 642.4V648.5M335.5 644.9V650.1M336.0 643.3V650.1M336.5 642.7V650.2M337.0 642.0V650.6M337.5 645.0V651.3M338.0 643.6V648.9M338.5 644.0V648.5M339.0 642.6V649.6M339.5 641.6V649.1M340.0 641.6V651.2M340.5 639.1V651.9M341.0 638.2V656.7M341.5 635.8V651.9M342.0 639.5V653.0M342.5 641.0V657.7M343.0 639.6V652.4M343.5 642.7V652.5M344.0 642.8V650.5M344.5 641.0V649.2M345.0 641.8V651.1M345.5 642.0V650.1M346.0 643.6V652.3M346.5 641.5V652.0M347.0 640.5V649.5M347.5 643.1V652.0M348.0 641.7V649.3M348.5 642.6V650.3M349.0 643.9V650.9M349.5 643.1V651.3M350.0 643.9V652.2M350.5 644.3V650.1M351.0 642.7V651.2M351.5 644.5V651.3M352.0 641.2V652.5M352.5 641.5V649.7M353.0 640.0V650.0M353.5 639.4V649.4M354.0 639.8V651.2M354.5 641.8V651.3M355.0 641.1V649.2M355.5 642.1V650.6M356.0 644.6V650.2M356.5 644.4V648.7M357.0 643.1V649.0M357.5 642.9V649.9M358.0 642.2V650.4M358.5 642.8V651.1M359.0 643.1V649.3M359.5 641.0V649.8M360.0 641.6V648.8M360.5 643.5V651.1M361.0 644.1V648.7M361.5 642.4V649.7M362.0 642.5V648.5M362.5 642.3V649.6M363.0 644.2V648.5M363.5 642.2V651.7M364.0 642.6V649.1M364.5 643.4V652.3M365.0 639.0V653.1M365.5 639.8V650.3M366.0 643.0V653.3M366.5 638.6V652.2M367.0 641.9V652.6M367.5 641.8V650.8M368.0 642.2V650.8M368.5 643.8V649.2M369.0 643.2V649.6M369.5 643.7V650.6M370.0 645.3V650.2M370.5 645.2V649.3M371.0 642.8V650.3M371.5 643.9V649.5M372.0 642.3V651.0M372.5 642.3V650.7M373.0 641.9V650.5M373.5 641.4V649.8M374.0 641.7V652.1M374.5 642.6V652.1M375.0 641.4V649.5M375.5 641.2V648.9M376.0 643.7V652.3M376.5 643.9V653.3M377.0 643.3V652.3M377.5 642.2V653.4M378.0 642.8V654.8M378.5 638.2V653.8M379.0 638.4V651.8M379.5 639.2V654.6M380.0 642.1V651.2M380.5 642.9V651.5M381.0 641.1V650.2M381.5 640.9V650.0M382.0 641.1V652.0M382.5 644.4V649.0M383.0 641.6V651.8M383.5 641.3V651.6M384.0 643.2V649.5M384.5 643.9V650.2M385.0 644.3V650.1M385.5 641.8V649.4M386.0 640.9V651.7M386.5 640.8V652.3M387.0 641.9V653.5M387.5 641.1V653.6M388.0 643.6V649.1M388.5 643.7V650.1M389.0 644.7V651.4M389.5 642.9V651.4M390.0 644.3V649.4M390.5 644.1V649.4M391.0 642.3V649.9M391.5 644.2V648.4M392.0 643.8V650.5M392.5 645.1V650.6M393.0 645.0V649.4M393.5 642.8V648.5M394.0 643.8V648.7M394.5 643.4V649.0M395.0 642.2V652.1M395.5 642.3V652.0M396.0 643.3V649.5M396.5 641.9V652.8M397.0 642.8V651.6M397.5 643.2V651.4M398.0 641.0V654.8M398.5 641.9V655.4M399.0 640.3V650.6M399.5 638.5V650.0M400.0 638.6V654.9M400.5 640.2V652.3M401.0 643.7V653.0M401.5 642.0V652.1M402.0 641.3V650.7M402.5 642.4V652.3M403.0 641.7V650.1M403.5 640.8V651.4M404.0 642.7V649.2M404.5 642.1V649.4M405.0 645.0V650.7M405.5 643.8V651.1M406.0 642.5V648.9M406.5 641.9V651.8M407.0 641.5V651.5M407.5 641.2V653.7M408.0 640.8V653.1M408.5 640.6V650.6M409.0 640.7V650.5M409.5 642.3V651.9M410.0 638.9V654.6M410.5 641.4V653.1M411.0 640.6V650.2M411.5 643.8V650.1M412.0 641.1V651.5M412.5 643.4V651.1M413.0 643.1V649.0M413.5 642.6V648.7M414.0 644.8V648.3M414.5 643.8V649.5M415.0 642.5V649.2M415.5 641.2V649.6M416.0 640.7V650.5M416.5 643.3V651.3M417.0 642.1V652.9M417.5 643.3V650.5M418.0 643.3V650.6M418.5 643.2V652.3M419.0 644.1V649.1M419.5 643.0V651.5M420.0 641.9V650.9M420.5 643.1V651.3M421.0 642.4V650.5M421.5 643.4V650.8M422.0 644.3V648.4M422.5 642.4V650.3M423.0 642.5V649.4M423.5 642.5V651.3M424.0 643.8V648.4M424.5 644.7V650.8M425.0 643.3V651.1M425.5 644.5V649.1M426.0 643.1V651.0M426.5 642.1V648.9M427.0 644.2V648.3M427.5 644.4V648.3M428.0 644.8V649.7M428.5 644.3V649.3M429.0 644.8V651.0M429.5 643.6V649.1M430.0 644.6V648.8M430.5 642.2V650.0M431.0 642.7V648.4M431.5 644.5V649.1M432.0 643.5V649.7M432.5 644.0V651.6M433.0 643.1V650.6M433.5 643.3V649.3M434.0 642.7V649.0M434.5 643.8V650.1M435.0 642.7V650.3M435.5 643.0V648.8M436.0 644.9V648.9M436.5 644.5V649.9M437.0 643.8V649.5M437.5 642.7V649.1M438.0 641.8V652.0M438.5 642.2V649.9M439.0 644.4V649.8M439.5 643.5V651.1M440.0 642.0V651.3M440.5 644.6V651.5M441.0 643.7V650.8M441.5 644.8V649.8M442.0 641.3V650.2M442.5 642.5V649.2M443.0 638.7V650.1M443.5 637.6V650.5M444.0 638.1V652.3M444.5 641.0V655.6M445.0 640.2V650.0M445.5 638.2V654.0M446.0 639.8V655.6M446.5 643.2V654.7M447.0 640.1V653.7M447.5 639.6V651.7M448.0 641.1V651.0M448.5 640.9V652.1M449.0 643.7V652.1M449.5 643.4V651.8M450.0 643.3V653.5M450.5 639.8V649.3M451.0 641.5V649.8M451.5 641.9V651.9M452.0 641.6V651.6M452.5 635.4V655.9M453.0 638.6V651.8M453.5 636.9V656.3M454.0 636.5V652.8M454.5 641.0V653.1M455.0 642.0V653.9M455.5 637.9V654.1M456.0 639.0V651.8M456.5 638.5V651.5M457.0 639.6V655.9M457.5 638.8V650.4M458.0 637.7V656.5M458.5 637.7V652.6M459.0 636.7V650.9M459.5 643.2V656.3M460.0 637.7V654.1M460.5 641.3V655.0M461.0 642.2V656.0M461.5 638.8V655.6M462.0 637.4V657.2M462.5 637.6V656.2M463.0 638.7V656.4M463.5 639.5V652.1M464.0 641.4V654.6M464.5 638.4V654.6M465.0 642.4V654.0M465.5 641.7V651.2M466.0 640.8V654.2M466.5 640.0V651.9M467.0 643.8V654.5M467.5 641.8V652.3M468.0 639.8V651.2M468.5 640.8V650.8M469.0 641.3V652.2M469.5 638.6V650.6M470.0 638.8V651.7M470.5 643.6V655.2M471.0 638.7V651.4M471.5 643.5V650.9M472.0 639.1V650.3M472.5 642.7V652.3M473.0 642.5V651.8M473.5 641.0V650.4M474.0 641.7V649.8M474.5 638.2V652.3M475.0 639.9V651.6M475.5 639.2V656.5M476.0 641.5V657.6M476.5 636.7V657.6M477.0 640.7V655.1M477.5 635.7V658.1M478.0 640.4V652.1M478.5 640.2V652.3M479.0 638.8V654.4M479.5 642.9V650.4M480.0 642.6V652.5M480.5 641.6V654.0M481.0 643.1V651.7M481.5 642.8V653.2M482.0 640.5V654.4M482.5 639.4V650.8M483.0 637.0V652.1M483.5 641.3V656.7M484.0 639.3V651.7M484.5 639.4V653.8M485.0 639.9V653.4M485.5 643.0V653.3M486.0 640.9V652.5M486.5 643.2V652.3M487.0 642.3V650.4M487.5 642.3V651.8M488.0 641.7V649.7M488.5 643.6V650.9M489.0 641.2V649.0M489.5 643.3V649.2M490.0 642.5V650.9M490.5 643.5V649.9M491.0 641.3V651.1M491.5 643.9V650.3M492.0 642.3V650.0M492.5 641.6V649.5M493.0 641.9V649.2M493.5 642.6V650.4M494.0 642.5V651.1M494.5 644.5V650.2M495.0 642.8V649.0M495.5 644.2V650.1M496.0 643.1V648.3M496.5 643.9V648.2M497.0 642.7V648.4M497.5 644.5V648.7M498.0 644.4V650.2M498.5 643.1V649.8M499.0 643.1V648.2M499.5 642.9V651.1M500.0 644.8V650.5M500.5 644.4V649.8M501.0 642.4V649.8M501.5 643.3V649.4M502.0 642.6V649.7M502.5 644.8V648.9M503.0 643.6V651.9M503.5 642.8V650.6M504.0 642.1V649.8M504.5 641.9V651.5M505.0 643.0V649.7M505.5 644.0V649.6M506.0 641.3V650.7M506.5 643.4V651.8M507.0 640.4V654.1M507.5 641.9V651.8M508.0 640.9V655.4M508.5 640.3V652.3M509.0 640.3V655.5M509.5 641.0V652.1M510.0 641.6V654.8M510.5 638.9V654.9M511.0 640.0V651.1M511.5 643.1V649.6M512.0 641.6V651.5M512.5 643.1V649.2M513.0 643.8V649.8M513.5 645.2V649.9M514.0 642.7V650.1M514.5 642.5V649.4M515.0 641.2V650.2M515.5 642.7V649.2M516.0 640.5V651.2M516.5 641.3V649.2M517.0 641.9V650.2M517.5 644.2V649.1M518.0 643.3V649.5M518.5 644.1V648.7M519.0 643.8V649.6M519.5 643.5V649.1M520.0 642.0V649.9M520.5 643.6V649.1M521.0 642.4V651.9M521.5 639.2V651.0M522.0 640.7V650.8M522.5 640.8V651.9M523.0 641.1V653.4M523.5 643.1V652.4M524.0 644.1V651.4M524.5 642.9V651.7M525.0 642.9V651.3M525.5 642.5V651.7M526.0 642.8V650.0M526.5 641.5V651.9M527.0 641.4V651.7M527.5 641.6V652.2M528.0 640.2V652.0M528.5 639.7V652.1M529.0 640.3V652.8M529.5 639.3V652.2M530.0 642.8V649.7M530.5 640.3V650.2M531.0 640.5V650.0M531.5 644.3V649.8M532.0 642.4V650.0M532.5 643.9V649.0M533.0 643.4V649.8M533.5 645.3V648.7M534.0 643.3V650.1M534.5 644.2V648.8M535.0 643.6V650.6M535.5 644.7V649.0M536.0 644.7V648.9M536.5 644.4V648.8M537.0 644.5V650.4M537.5 643.7V650.1M538.0 644.5V649.2M538.5 644.5V650.8M539.0 643.2V649.6M539.5 642.6V650.5M540.0 642.6V650.2M540.5 642.1V650.1M541.0 641.8V651.5M541.5 642.6V651.7M542.0 643.2V650.6M542.5 639.1V652.6M543.0 639.1V650.4M543.5 640.5V650.9M544.0 643.2V651.4M544.5 643.9V649.5M545.0 644.3V648.8M545.5 642.5V651.6M546.0 642.7V650.1M546.5 641.7V650.5M547.0 640.8V651.5M547.5 644.1V651.3M548.0 643.4V649.3M548.5 640.6V649.5M549.0 640.6V653.0M549.5 639.2V652.9M550.0 643.8V650.9M550.5 640.8V649.5M551.0 641.3V650.0M551.5 644.3V651.3M552.0 643.9V651.8M552.5 644.0V652.5M553.0 642.1V652.7M553.5 641.5V652.1M554.0 640.6V651.4M554.5 642.1V652.3M555.0 643.2V650.1M555.5 642.0V651.3M556.0 641.3V651.9M556.5 644.1V651.4M557.0 639.0V651.4M557.5 639.9V653.0M558.0 640.4V653.1M558.5 639.3V651.3M559.0 644.1V649.2M559.5 643.2V653.0M560.0 644.0V651.9M560.5 642.4V650.7M561.0 645.0V650.8M561.5 644.6V650.9M562.0 643.1V649.9M562.5 643.0V649.7M563.0 642.5V652.8M563.5 643.3V649.6M564.0 640.1V653.7M564.5 640.9V651.8M565.0 640.4V651.7M565.5 643.1V650.6M566.0 643.4V652.5M566.5 643.5V653.1M567.0 640.4V651.6M567.5 640.9V650.9M568.0 642.7V650.9M568.5 639.8V649.8M569.0 642.2V650.0M569.5 641.7V656.9M570.0 639.6V655.9M570.5 637.2V653.1M571.0 639.1V651.3M571.5 642.0V656.0M572.0 638.5V654.6M572.5 640.4V653.3M573.0 640.3V653.7M573.5 638.8V653.8M574.0 637.3V651.3M574.5 640.4V653.9M575.0 639.7V656.9M575.5 642.3V656.9M576.0 639.0V652.6M576.5 642.1V657.3M577.0 640.5V656.1M577.5 641.2V651.7M578.0 643.9V649.9M578.5 643.4V649.4M579.0 641.2V652.9M579.5 640.5V652.9M580.0 642.5V651.8M580.5 640.8V652.4M581.0 644.0V651.4M581.5 640.5V651.3M582.0 640.5V652.7M582.5 642.2V650.0M583.0 643.6V653.0M583.5 640.5V649.8M584.0 641.8V649.7M584.5 642.9V652.1M585.0 643.1V649.5M585.5 639.9V651.6M586.0 643.2V653.1M586.5 640.8V653.7M587.0 642.8V651.7M587.5 643.3V652.3M588.0 640.7V651.4M588.5 641.0V654.4M589.0 638.0V652.5M589.5 640.4V652.3M590.0 639.6V654.7M590.5 638.9V651.1M591.0 641.3V655.2M591.5 638.0V651.4M592.0 640.2V653.7M592.5 640.6V651.7M593.0 642.9V651.7M593.5 642.7V649.8M594.0 642.3V648.8M594.5 642.8V650.4M595.0 643.4V650.1M595.5 644.9V649.3M596.0 642.6V650.2M596.5 642.2V650.9M597.0 643.8V650.0M597.5 643.3V651.8M598.0 642.5V650.5M598.5 641.9V651.7M599.0 641.0V651.7M599.5 641.7V653.7M600.0 642.8V649.7M600.5 642.4V652.7M601.0 640.3V651.1M601.5 640.9V654.0M602.0 642.7V655.3M602.5 640.4V650.4M603.0 640.6V656.2M603.5 642.3V653.6M604.0 642.2V654.0M604.5 642.3V652.2M605.0 642.4V652.6M605.5 641.0V650.8M606.0 638.5V652.6M606.5 642.1V651.9M607.0 641.4V652.4M607.5 642.1V651.4M608.0 639.1V650.5M608.5 644.2V650.7M609.0 643.7V649.2M609.5 640.7V652.2M610.0 640.5V654.1M610.5 637.4V653.8M611.0 637.6V653.6M611.5 640.6V657.4M612.0 638.5V654.1M612.5 637.3V653.2M613.0 637.7V651.8M613.5 643.0V656.2M614.0 638.4V651.3M614.5 642.2V653.5M615.0 643.3V651.8M615.5 641.0V651.2M616.0 643.6V649.4M616.5 640.4V652.4M617.0 643.7V651.1M617.5 641.6V651.2M618.0 642.1V652.8M618.5 644.3V653.4M619.0 644.4V652.7M619.5 641.9V649.6M620.0 642.2V653.9M620.5 643.2V650.1M621.0 640.4V653.8M621.5 640.8V651.6M622.0 643.3V650.4M622.5 642.0V652.8M623.0 641.0V651.7M623.5 639.7V653.4M624.0 641.1V651.6M624.5 636.4V651.5M625.0 639.6V652.1M625.5 640.9V656.7M626.0 633.6V658.7M626.5 636.8V655.4M627.0 638.1V652.5M627.5 637.6V655.3M628.0 637.9V653.0M628.5 638.0V651.2M629.0 638.6V655.0M629.5 638.8V655.0M630.0 643.7V652.6M630.5 643.1V650.2M631.0 643.6V653.8M631.5 643.5V655.2M632.0 639.2V653.3M632.5 639.2V654.5M633.0 643.0V650.6M633.5 638.4V655.1M634.0 638.6V655.2M634.5 638.3V654.8M635.0 642.3V653.3M635.5 638.5V654.4" stroke="#00f" stroke-opacity="0.7" stroke-width="0.5" fill="none"/><polygon points="33.0,641.9 33.5,642.1 34.0,644.2 34.5,641.6 35.0,641.2 35.5,642.1 36.0,642.0 36.5,642.3 37.0,641.1 37.5,641.6 38.0,641.3 38.5,641.2 39.0,641.4 39.5,641.6 40.0,641.1 40.5,642.2 41.0,641.9 41.5,641.6 42.0,643.7 42.5,642.6 43.0,641.1 43.5,641.6 44.0,643.2 44.5,642.6 45.0,643.4 45.5,642.4 46.0,643.9 46.5,642.8 47.0,641.6 47.5,641.9 48.0,643.4 48.5,641.6 49.0,641.7 49.5,642.6 50.0,642.2 50.5,641.6 51.0,642.4 51.5,641.4 52.0,643.1 52.5,643.2 53.0,641.9 53.5,641.3 54.0,643.0 54.5,641.9 55.0,641.9 55.5,642.8 56.0,643.1 56.5,641.9 57.0,641.2 57.5,641.7 58.0,642.3 58.5,641.5 59.0,641.6 59.5,641.7 60.0,642.4 60.5,643.7 61.0,643.2 61.5,643.9 62.0,641.8 62.5,642.3 63.0,642.0 63.5,642.9 64.0,642.2 64.5,642.3 65.0,643.3 65.5,643.0 66.0,642.9 66.5,641.9 67.0,642.4 67.5,641.3 68.0,642.7 68.5,643.2 69.0,643.1 69.5,642.8 70.0,644.0 70.5,643.5 71.0,643.5 71.5,643.4 72.0,642.1 72.5,641.1 73.0,641.3 73.5,642.8 74.0,641.9 74.5,640.9 75.0,642.1 75.5,643.0 76.0,640.1 76.5,642.5 77.0,640.7 77.5,642.2 78.0,642.6 78.5,641.0 79.0,641.7 79.5,642.2 80.0,643.3 80.5,641.1 81.0,641.7 81.5,643.2 82.0,642.7 82.5,641.7 83.0,642.9 83.5,643.1 84.0,642.7 84.5,641.9 85.0,641.7 85.5,641.8 86.0,641.8 86.5,641.8 87.0,643.0 87.5,643.1 88.0,641.4 88.5,642.1 89.0,643.9 89.5,641.2 90.0,643.6 90.5,641.8 91.0,642.3 91.5,641.9 92.0,640.8 92.5,641.3 93.0,643.3 93.5,642.0 94.0,643.2 94.5,640.2 95.0,642.8 95.5,641.3 96.0,642.2 96.5,641.8 97.0,644.0 97.5,642.2 98.0,640.9 98.5,641.9 99.0,643.5 99.5,642.3 100.0,642.4 100.5,641.6 101.0,641.8 101.5,642.1 102.0,642.0 102.5,641.4 103.0,643.0 103.5,642.0 104.0,643.6 104.5,640.2 105.0,642.6 105.5,641.3 106.0,641.1 106.5,643.3 107.0,640.7 107.5,643.0 108.0,641.1 108.5,640.8 109.0,640.5 109.5,641.9 110.0,642.7 110.5,642.1 111.0,642.7 111.5,641.7 112.0,642.3 112.5,643.5 113.0,643.4 113.5,640.5 114.0,642.8 114.5,641.7 115.0,643.5 115.5,643.0 116.0,640.4 116.5,642.8 117.0,644.1 117.5,641.4 118.0,643.2 118.5,642.6 119.0,642.6 119.5,641.5 120.0,641.0 120.5,640.3 121.0,642.5 121.5,641.2 122.0,641.8 122.5,641.0 123.0,640.6 123.5,641.1 124.0,641.5 124.5,641.4 125.0,643.6 125.5,642.2 126.0,641.6 126.5,642.7 127.0,641.5 127.5,640.5 128.0,642.6 128.5,642.7 129.0,641.3 129.5,643.1 130.0,642.9 130.5,640.7 131.0,641.5 131.5,642.3 132.0,641.1 132.5,642.5 133.0,642.8 133.5,641.8 134.0,640.3 134.5,642.2 135.0,641.9 135.5,641.0 136.0,641.7 136.5,641.1 137.0,641.9 137.5,641.0 138.0,642.4 138.5,642.6 139.0,643.0 139.5,641.6 140.0,642.6 140.5,642.6 141.0,640.1 141.5,642.5 142.0,641.7 142.5,640.2 143.0,641.8 143.5,641.2 144.0,642.2 144.5,640.4 145.0,641.1 145.5,641.7 146.0,640.4 146.5,642.1 147.0,640.4 147.5,641.7 148.0,639.5 148.5,641.4 149.0,641.7 149.5,642.3 150.0,640.8 150.5,643.2 151.0,642.3 151.5,643.6 152.0,642.5 152.5,641.2 153.0,642.4 153.5,642.5 154.0,641.9 154.5,642.6 155.0,641.4 155.5,641.8 156.0,641.8 156.5,641.8 157.0,642.3 157.5,641.2 158.0,643.0 158.5,642.4 159.0,644.0 159.5,643.0 160.0,642.8 160.5,641.3 161.0,641.8 161.5,640.5 162.0,642.7 162.5,642.2 163.0,641.5 163.5,642.1 164.0,642.6 164.5,643.4 165.0,643.8 165.5,643.3 166.0,642.0 166.5,641.3 167.0,641.2 167.5,642.1 168.0,643.4 168.5,641.4 169.0,642.5 169.5,642.7 170.0,641.5 170.5,643.4 171.0,643.1 171.5,641.8 172.0,643.2 172.5,640.9 173.0,641.1 173.5,642.4 174.0,642.1 174.5,643.4 175.0,642.4 175.5,642.1 176.0,642.6 176.5,641.3 177.0,642.5 177.5,641.8 178.0,642.0 178.5,642.1 179.0,641.7 179.5,643.3 180.0,641.3 180.5,640.9 181.0,642.0 181.5,643.6 182.0,643.2 182.5,641.2 183.0,642.0 183.5,641.0 184.0,641.9 184.5,642.5 185.0,642.5 185.5,641.1 186.0,642.0 186.5,644.1 187.0,643.2 187.5,643.3 188.0,642.5 188.5,641.6 189.0,643.0 189.5,642.1 190.0,642.4 190.5,643.0 191.0,643.0 191.5,642.6 192.0,643.2 192.5,641.5 193.0,643.8 193.5,643.3 194.0,641.9 194.5,643.4 195.0,642.0 195.5,643.7 196.0,643.1 196.5,642.1 197.0,642.7 197.5,643.0 198.0,642.6 198.5,642.5 199.0,643.4 199.5,642.0 200.0,642.9 200.5,642.5 201.0,642.3 201.5,642.9 202.0,642.4 202.5,642.8 203.0,640.9 203.5,643.4 204.0,643.0 204.5,642.8 205.0,641.1 205.5,641.2 206.0,642.0 206.5,642.6 207.0,642.9 207.5,641.8 208.0,642.1 208.5,641.8 209.0,641.3 209.5,641.1 210.0,642.9 210.5,641.6 211.0,641.7 211.5,641.3 212.0,641.6 212.5,642.4 213.0,641.0 213.5,640.2 214.0,642.1 214.5,641.9 215.0,640.4 215.5,642.4 216.0,641.8 216.5,641.8 217.0,643.9 217.5,642.8 218.0,642.3 218.5,641.3 219.0,641.1 219.5,642.7 220.0,641.8 220.5,640.0 221.0,641.3 221.5,643.1 222.0,640.3 222.5,642.1 223.0,640.5 223.5,642.4 224.0,642.5 224.5,643.2 225.0,642.2 225.5,642.9 226.0,641.5 226.5,641.6 227.0,643.2 227.5,641.3 228.0,643.5 228.5,640.9 229.0,642.4 229.5,643.1 230.0,640.3 230.5,641.9 231.0,642.0 231.5,643.1 232.0,641.7 232.5,643.7 233.0,643.6 233.5,641.6 234.0,640.5 234.5,643.2 235.0,641.5 235.5,639.9 236.0,642.2 236.5,641.3 237.0,642.1 237.5,641.1 238.0,641.1 238.5,641.0 239.0,643.0 239.5,642.8 240.0,643.3 240.5,642.7 241.0,642.1 241.5,642.9 242.0,642.6 242.5,641.1 243.0,642.0 243.5,643.0 244.0,642.7 244.5,643.1 245.0,641.3 245.5,642.3 246.0,641.9 246.5,640.7 247.0,643.6 247.5,640.8 248.0,641.7 248.5,640.7 249.0,641.9 249.5,641.7 250.0,642.4 250.5,643.4 251.0,642.3 251.5,641.9 252.0,643.2 252.5,641.9 253.0,642.5 253.5,641.5 254.0,642.4 254.5,643.0 255.0,643.8 255.5,642.8 256.0,642.4 256.5,643.1 257.0,642.1 257.5,641.8 258.0,640.6 258.5,639.9 259.0,642.1 259.5,642.5 260.0,642.1 260.5,642.2 261.0,641.9 261.5,641.7 262.0,641.6 262.5,641.9 263.0,641.6 263.5,641.4 264.0,643.5 264.5,643.6 265.0,641.4 265.5,642.6 266.0,640.6 266.5,642.9 267.0,642.4 267.5,643.6 268.0,642.6 268.5,642.8 269.0,641.5 269.5,642.2 270.0,640.7 270.5,641.0 271.0,640.9 271.5,642.4 272.0,642.8 272.5,641.9 273.0,640.7 273.5,641.4 274.0,641.6 274.5,642.1 275.0,642.4 275.5,642.1 276.0,641.4 276.5,640.0 277.0,641.0 277.5,642.6 278.0,639.9 278.5,642.6 279.0,642.6 279.5,642.4 280.0,643.1 280.5,642.6 281.0,641.1 281.5,642.2 282.0,641.5 282.5,641.9 283.0,641.2 283.5,643.1 284.0,640.4 284.5,641.5 285.0,640.4 285.5,642.0 286.0,642.4 286.5,642.8 287.0,641.0 287.5,642.0 288.0,641.7 288.5,642.3 289.0,643.0 289.5,642.1 290.0,641.3 290.5,642.0 291.0,642.3 291.5,640.8 292.0,641.3 292.5,642.5 293.0,641.5 293.5,643.0 294.0,641.2 294.5,643.0 295.0,642.8 295.5,641.3 296.0,642.9 296.5,642.5 297.0,643.4 297.5,641.3 298.0,642.4 298.5,641.5 299.0,642.4 299.5,641.6 300.0,643.4 300.5,642.2 301.0,643.0 301.5,643.8 302.0,641.6 302.5,641.4 303.0,641.9 303.5,641.3 304.0,642.4 304.5,642.2 305.0,643.4 305.5,640.9 306.0,640.7 306.5,641.5 307.0,640.5 307.5,641.7 308.0,642.0 308.5,643.1 309.0,641.0 309.5,643.0 310.0,642.1 310.5,642.3 311.0,642.8 311.5,643.7 312.0,642.3 312.5,641.8 313.0,642.7 313.5,642.2 314.0,643.1 314.5,642.0 315.0,643.9 315.5,641.4 316.0,641.4 316.5,642.2 317.0,641.8 317.5,642.4 318.0,643.7 318.5,640.7 319.0,641.4 319.5,642.0 320.0,641.6 320.5,641.0 321.0,640.9 321.5,642.4 322.0,641.8 322.5,641.4 323.0,642.2 323.5,642.4 324.0,642.4 324.5,643.0 325.0,643.1 325.5,641.8 326.0,641.7 326.5,642.3 327.0,643.2 327.5,642.9 328.0,643.1 328.5,642.4 329.0,641.5 329.5,642.8 330.0,641.0 330.5,643.6 331.0,643.1 331.5,642.6 332.0,642.5 332.5,642.9 333.0,642.1 333.5,642.4 334.0,642.8 334.5,641.4 335.0,641.8 335.5,643.6 336.0,642.9 336.5,643.4 337.0,643.2 337.5,642.9 338.0,642.6 338.5,641.9 339.0,641.3 339.5,643.3 340.0,642.1 340.5,642.0 341.0,643.3 341.5,639.7 342.0,639.4 342.5,642.5 343.0,641.4 343.5,639.8 344.0,641.0 344.5,640.3 345.0,641.8 345.5,642.6 346.0,641.8 346.5,643.3 347.0,642.1 347.5,641.7 348.0,640.7 348.5,643.3 349.0,641.8 349.5,642.7 350.0,642.1 350.5,643.4 351.0,642.8 351.5,642.6 352.0,640.5 352.5,643.6 353.0,642.1 353.5,640.6 354.0,642.6 354.5,642.8 355.0,642.1 355.5,641.1 356.0,644.0 356.5,642.2 357.0,642.8 357.5,642.5 358.0,643.3 358.5,643.7 359.0,642.6 359.5,642.7 360.0,642.7 360.5,643.8 361.0,642.8 361.5,641.2 362.0,642.7 362.5,643.2 363.0,643.8 363.5,643.1 364.0,642.1 364.5,640.9 365.0,642.5 365.5,641.7 366.0,642.6 366.5,643.5 367.0,641.0 367.5,641.0 368.0,642.8 368.5,642.9 369.0,643.5 369.5,642.5 370.0,641.7 370.5,643.0 371.0,641.5 371.5,642.1 372.0,643.6 372.5,641.7 373.0,642.4 373.5,643.3 374.0,643.2 374.5,641.8 375.0,642.1 375.5,642.2 376.0,641.6 376.5,642.9 377.0,641.6 377.5,640.8 378.0,639.8 378.5,642.3 379.0,642.4 379.5,641.9 380.0,642.2 380.5,641.6 381.0,642.0 381.5,643.3 382.0,643.6 382.5,642.4 383.0,643.2 383.5,643.3 384.0,641.3 384.5,641.4 385.0,641.5 385.5,642.9 386.0,641.1 386.5,641.0 387.0,642.6 387.5,641.6 388.0,643.8 388.5,642.3 389.0,642.4 389.5,643.3 390.0,643.7 390.5,642.5 391.0,643.1 391.5,642.7 392.0,643.5 392.5,642.0 393.0,642.8 393.5,641.6 394.0,641.5 394.5,642.8 395.0,642.1 395.5,642.1 396.0,642.8 396.5,641.6 397.0,642.4 397.5,642.3 398.0,640.3 398.5,641.8 399.0,641.9 399.5,643.0 400.0,641.4 400.5,639.8 401.0,643.0 401.5,641.0 402.0,643.9 402.5,640.5 403.0,641.2 403.5,642.7 404.0,642.6 404.5,642.4 405.0,643.1 405.5,642.1 406.0,642.0 406.5,642.4 407.0,642.9 407.5,642.5 408.0,640.1 408.5,640.8 409.0,642.2 409.5,642.1 410.0,641.9 410.5,642.8 411.0,642.9 411.5,639.7 412.0,641.6 412.5,643.5 413.0,641.8 413.5,642.6 414.0,642.2 414.5,642.3 415.0,642.2 415.5,642.4 416.0,641.9 416.5,642.0 417.0,640.8 417.5,643.4 418.0,641.6 418.5,642.4 419.0,641.8 419.5,642.9 420.0,643.1 420.5,641.9 421.0,642.8 421.5,642.2 422.0,643.0 422.5,641.7 423.0,643.1 423.5,642.6 424.0,642.0 424.5,641.4 425.0,642.5 425.5,643.0 426.0,642.8 426.5,642.1 427.0,642.9 427.5,642.0 428.0,643.7 428.5,641.6 429.0,643.4 429.5,643.1 430.0,641.6 430.5,643.6 431.0,642.5 431.5,642.7 432.0,643.7 432.5,642.2 433.0,642.4 433.5,642.2 434.0,643.6 434.5,643.3 435.0,642.6 435.5,643.5 436.0,641.4 436.5,642.2 437.0,642.2 437.5,641.0 438.0,641.5 438.5,642.6 439.0,643.1 439.5,642.0 440.0,642.2 440.5,643.3 441.0,641.8 441.5,641.0 442.0,643.0 442.5,640.5 443.0,642.2 443.5,642.4 444.0,643.5 444.5,640.5 445.0,641.1 445.5,641.8 446.0,642.5 446.5,640.7 447.0,643.3 447.5,640.4 448.0,640.8 448.5,641.1 449.0,642.5 449.5,642.2 450.0,641.8 450.5,642.5 451.0,642.8 451.5,643.6 452.0,643.7 452.5,642.9 453.0,643.3 453.5,640.3 454.0,640.0 454.5,640.8 455.0,642.2 455.5,640.6 456.0,640.7 456.5,642.1 457.0,640.4 457.5,641.1 458.0,643.2 458.5,641.6 459.0,641.6 459.5,641.2 460.0,641.9 460.5,640.5 461.0,639.6 461.5,642.2 462.0,641.3 462.5,642.2 463.0,641.8 463.5,643.4 464.0,642.0 464.5,640.6 465.0,640.3 465.5,643.2 466.0,641.9 466.5,642.0 467.0,641.6 467.5,643.3 468.0,642.5 468.5,641.7 469.0,642.3 469.5,643.3 470.0,642.7 470.5,641.2 471.0,640.6 471.5,642.9 472.0,642.4 472.5,640.4 473.0,640.3 473.5,643.3 474.0,640.2 474.5,640.4 475.0,641.6 475.5,642.3 476.0,641.2 476.5,642.7 477.0,643.9 477.5,641.7 478.0,640.7 478.5,642.0 479.0,640.5 479.5,642.4 480.0,642.8 480.5,642.8 481.0,642.0 481.5,641.6 482.0,641.0 482.5,639.5 483.0,639.5 483.5,642.4 484.0,643.4 484.5,641.9 485.0,640.4 485.5,643.9 486.0,642.0 486.5,641.4 487.0,643.0 487.5,642.0 488.0,642.7 488.5,642.1 489.0,642.3 489.5,642.7 490.0,642.4 490.5,642.9 491.0,642.0 491.5,642.4 492.0,642.8 492.5,642.3 493.0,641.5 493.5,642.7 494.0,641.3 494.5,643.2 495.0,642.6 495.5,643.5 496.0,642.5 496.5,641.9 497.0,642.1 497.5,642.9 498.0,641.8 498.5,642.0 499.0,643.8 499.5,642.6 500.0,642.7 500.5,641.5 501.0,643.4 501.5,642.0 502.0,641.2 502.5,641.3 503.0,643.9 503.5,642.1 504.0,642.0 504.5,643.4 505.0,641.5 505.5,643.7 506.0,641.3 506.5,641.7 507.0,642.7 507.5,641.2 508.0,643.9 508.5,642.6 509.0,640.5 509.5,641.5 510.0,641.4 510.5,640.3 511.0,641.5 511.5,640.3 512.0,641.5 512.5,642.8 513.0,641.7 513.5,642.3 514.0,643.4 514.5,642.4 515.0,643.1 515.5,642.7 516.0,641.1 516.5,642.8 517.0,641.4 517.5,642.2 518.0,640.8 518.5,642.3 519.0,642.4 519.5,642.2 520.0,642.9 520.5,641.1 521.0,640.9 521.5,641.4 522.0,642.7 522.5,641.3 523.0,641.9 523.5,642.5 524.0,642.7 524.5,642.9 525.0,642.3 525.5,643.0 526.0,642.8 526.5,642.8 527.0,640.5 527.5,641.8 528.0,641.1 528.5,641.8 529.0,642.3 529.5,643.3 530.0,642.6 530.5,641.6 531.0,642.9 531.5,642.3 532.0,642.0 532.5,643.2 533.0,642.1 533.5,643.7 534.0,642.2 534.5,642.3 535.0,642.2 535.5,642.4 536.0,643.3 536.5,642.4 537.0,642.3 537.5,643.1 538.0,643.1 538.5,643.2 539.0,641.2 539.5,642.8 540.0,641.7 540.5,642.9 541.0,642.6 541.5,642.3 542.0,642.1 542.5,643.4 543.0,642.2 543.5,642.1 544.0,642.1 544.5,641.8 545.0,643.8 545.5,642.2 546.0,642.4 546.5,642.1 547.0,642.9 547.5,642.7 548.0,640.7 548.5,642.7 549.0,642.4 549.5,642.6 550.0,642.3 550.5,640.7 551.0,642.8 551.5,642.7 552.0,641.2 552.5,643.4 553.0,641.4 553.5,642.3 554.0,641.8 554.5,641.3 555.0,640.6 555.5,643.1 556.0,641.4 556.5,641.9 557.0,642.3 557.5,642.4 558.0,642.1 558.5,642.0 559.0,641.8 559.5,641.3 560.0,642.9 560.5,641.7 561.0,642.7 561.5,643.2 562.0,642.6 562.5,641.6 563.0,643.6 563.5,641.9 564.0,642.9 564.5,642.1 565.0,641.9 565.5,643.1 566.0,640.7 566.5,641.5 567.0,641.8 567.5,642.7 568.0,643.1 568.5,640.7 569.0,643.1 569.5,641.6 570.0,641.6 570.5,642.5 571.0,641.3 571.5,640.7 572.0,641.8 572.5,641.8 573.0,641.8 573.5,640.8 574.0,641.6 574.5,641.4 575.0,643.5 575.5,643.4 576.0,639.6 576.5,643.5 577.0,642.7 577.5,641.9 578.0,642.1 578.5,640.7 579.0,642.3 579.5,640.8 580.0,641.2 580.5,642.2 581.0,643.1 581.5,641.8 582.0,643.8 582.5,642.5 583.0,642.6 583.5,641.9 584.0,641.6 584.5,640.7 585.0,641.7 585.5,643.1 586.0,642.1 586.5,643.1 587.0,641.4 587.5,641.9 588.0,642.5 588.5,640.5 589.0,643.2 589.5,641.9 590.0,642.6 590.5,640.0 591.0,643.1 591.5,640.8 592.0,642.2 592.5,642.1 593.0,641.0 593.5,643.0 594.0,642.1 594.5,643.0 595.0,641.4 595.5,641.6 596.0,641.0 596.5,641.7 597.0,642.6 597.5,642.0 598.0,642.7 598.5,641.3 599.0,642.4 599.5,642.4 600.0,641.3 600.5,641.8 601.0,642.4 601.5,642.3 602.0,641.7 602.5,642.9 603.0,641.7 603.5,643.0 604.0,642.6 604.5,641.9 605.0,642.0 605.5,643.5 606.0,640.9 606.5,644.0 607.0,640.1 607.5,642.0 608.0,643.1 608.5,642.4 609.0,643.1 609.5,642.7 610.0,643.6 610.5,640.8 611.0,643.0 611.5,642.9 612.0,642.0 612.5,641.2 613.0,640.8 613.5,641.6 614.0,642.9 614.5,641.4 615.0,641.9 615.5,641.8 616.0,642.2 616.5,643.2 617.0,641.4 617.5,643.3 618.0,642.2 618.5,641.8 619.0,641.6 619.5,642.7 620.0,641.9 620.5,640.4 621.0,642.8 621.5,640.6 622.0,641.8 622.5,642.6 623.0,642.1 623.5,643.1 624.0,641.9 624.5,643.2 625.0,639.9 625.5,640.9 626.0,639.3 626.5,642.8 627.0,643.4 627.5,642.3 628.0,640.1 628.5,642.4 629.0,639.7 629.5,641.1 630.0,641.8 630.5,643.3 631.0,640.7 631.5,642.2 632.0,640.9 632.5,643.0 633.0,641.3 633.5,643.7 634.0,641.4 634.5,642.7 635.0,642.3 635.5,642.6 635.5,651.2 635.0,654.0 634.5,651.6 634.0,649.9 633.5,652.6 633.0,651.4 632.5,651.2 632.0,652.0 631.5,652.1 631.0,650.3 630.5,652.4 630.0,651.7 629.5,651.0 629.0,653.8 628.5,651.8 628.0,653.0 627.5,652.2 627.0,654.3 626.5,651.5 626.0,651.1 625.5,653.2 625.0,651.6 624.5,651.2 624.0,652.8 623.5,652.1 623.0,651.4 622.5,651.7 622.0,653.2 621.5,650.4 621.0,651.6 620.5,650.7 620.0,649.6 619.5,652.6 619.0,650.5 618.5,650.0 618.0,650.0 617.5,652.4 617.0,651.0 616.5,652.0 616.0,650.4 615.5,649.8 615.0,650.3 614.5,650.5 614.0,651.5 613.5,651.1 613.0,651.2 612.5,652.4 612.0,654.2 611.5,650.4 611.0,652.8 610.5,652.5 610.0,652.5 609.5,652.5 609.0,649.9 608.5,652.2 608.0,651.0 607.5,652.6 607.0,651.8 606.5,652.1 606.0,651.3 605.5,652.0 605.0,651.8 604.5,651.7 604.0,651.2 603.5,650.3 603.0,651.3 602.5,652.4 602.0,652.9 601.5,651.4 601.0,652.2 600.5,650.0 600.0,650.9 599.5,651.1 599.0,650.6 598.5,649.7 598.0,650.2 597.5,651.5 597.0,652.1 596.5,650.6 596.0,651.2 595.5,651.5 595.0,651.1 594.5,650.5 594.0,651.6 593.5,650.9 593.0,650.5 592.5,652.3 592.0,651.9 591.5,649.6 591.0,651.6 590.5,652.9 590.0,652.7 589.5,650.3 589.0,652.3 588.5,652.9 588.0,651.4 587.5,652.9 587.0,650.8 586.5,651.6 586.0,651.4 585.5,650.7 585.0,649.9 584.5,650.3 584.0,651.4 583.5,651.5 583.0,651.3 582.5,652.6 582.0,651.8 581.5,650.5 581.0,651.4 580.5,651.3 580.0,651.8 579.5,650.9 579.0,651.9 578.5,651.6 578.0,651.5 577.5,650.1 577.0,653.7 576.5,654.0 576.0,650.7 575.5,652.7 575.0,651.1 574.5,650.1 574.0,651.5 573.5,649.7 573.0,649.4 572.5,652.2 572.0,650.9 571.5,653.1 571.0,653.1 570.5,653.1 570.0,652.2 569.5,652.3 569.0,651.1 568.5,653.1 568.0,650.3 567.5,651.3 567.0,649.9 566.5,651.0 566.0,649.9 565.5,650.6 565.0,650.0 564.5,650.9 564.0,651.4 563.5,651.3 563.0,651.9 562.5,651.9 562.0,650.8 561.5,651.0 561.0,649.6 560.5,649.7 560.0,651.6 559.5,651.4 559.0,652.2 558.5,651.3 558.0,650.4 557.5,650.0 557.0,651.7 556.5,651.3 556.0,650.6 555.5,651.5 555.0,651.5 554.5,649.6 554.0,650.1 553.5,651.2 553.0,649.9 552.5,652.0 552.0,650.9 551.5,652.4 551.0,650.1 550.5,649.8 550.0,651.3 549.5,649.8 549.0,651.6 548.5,652.1 548.0,651.0 547.5,652.5 547.0,650.6 546.5,651.5 546.0,651.0 545.5,652.0 545.0,651.4 544.5,651.0 544.0,653.0 543.5,650.3 543.0,652.9 542.5,651.5 542.0,650.3 541.5,652.8 541.0,651.8 540.5,650.6 540.0,650.9 539.5,651.5 539.0,649.9 538.5,650.5 538.0,651.9 537.5,651.1 537.0,651.4 536.5,650.4 536.0,651.3 535.5,651.8 535.0,652.0 534.5,650.7 534.0,651.0 533.5,650.9 533.0,650.9 532.5,650.8 532.0,650.5 531.5,649.6 531.0,652.7 530.5,650.5 530.0,649.8 529.5,651.5 529.0,652.8 528.5,652.7 528.0,652.6 527.5,652.2 527.0,652.4 526.5,651.2 526.0,651.6 525.5,651.2 525.0,651.9 524.5,649.9 524.0,651.3 523.5,650.7 523.0,649.5 522.5,652.5 522.0,652.8 521.5,651.9 521.0,650.6 520.5,650.6 520.0,651.7 519.5,651.3 519.0,650.6 518.5,652.2 518.0,651.7 517.5,650.4 517.0,650.3 516.5,649.7 516.0,650.5 515.5,650.2 515.0,650.1 514.5,650.1 514.0,651.4 513.5,651.5 513.0,650.6 512.5,649.7 512.0,650.2 511.5,650.0 511.0,652.4 510.5,650.2 510.0,651.8 509.5,650.4 509.0,651.1 508.5,651.9 508.0,652.4 507.5,652.0 507.0,650.8 506.5,652.5 506.0,652.0 505.5,652.0 505.0,650.0 504.5,651.5 504.0,651.3 503.5,650.4 503.0,651.3 502.5,650.5 502.0,650.8 501.5,651.7 501.0,652.7 500.5,652.1 500.0,651.4 499.5,652.4 499.0,651.5 498.5,650.9 498.0,649.6 497.5,652.1 497.0,651.2 496.5,650.7 496.0,651.1 495.5,650.9 495.0,651.6 494.5,651.7 494.0,650.5 493.5,649.5 493.0,651.7 492.5,649.8 492.0,650.5 491.5,651.5 491.0,651.1 490.5,651.5 490.0,652.6 489.5,651.3 489.0,651.4 488.5,650.9 488.0,650.1 487.5,650.3 487.0,651.3 486.5,651.9 486.0,651.9 485.5,651.9 485.0,653.1 484.5,652.4 484.0,652.1 483.5,649.7 483.0,650.9 482.5,650.8 482.0,650.3 481.5,651.0 481.0,653.0 480.5,651.5 480.0,651.2 479.5,652.0 479.0,650.6 478.5,651.3 478.0,652.8 477.5,651.7 477.0,652.4 476.5,653.1 476.0,651.7 475.5,650.1 475.0,651.4 474.5,652.3 474.0,650.1 473.5,651.0 473.0,653.0 472.5,650.3 472.0,650.3 471.5,650.2 471.0,650.8 470.5,651.4 470.0,650.2 469.5,650.7 469.0,651.1 468.5,651.1 468.0,651.1 467.5,651.7 467.0,652.5 466.5,649.7 466.0,651.3 465.5,650.4 465.0,649.7 464.5,649.8 464.0,649.5 463.5,652.3 463.0,652.7 462.5,653.5 462.0,650.8 461.5,653.4 461.0,653.5 460.5,649.8 460.0,652.6 459.5,653.5 459.0,650.5 458.5,651.4 458.0,652.1 457.5,653.6 457.0,650.6 456.5,651.8 456.0,651.5 455.5,651.7 455.0,651.5 454.5,651.1 454.0,652.8 453.5,651.7 453.0,651.6 452.5,650.6 452.0,650.7 451.5,650.2 451.0,650.6 450.5,652.5 450.0,651.5 449.5,651.8 449.0,651.9 448.5,652.0 448.0,652.4 447.5,652.6 447.0,652.1 446.5,652.2 446.0,651.0 445.5,650.8 445.0,652.2 444.5,649.8 444.0,653.3 443.5,652.4 443.0,651.2 442.5,651.7 442.0,651.9 441.5,650.2 441.0,650.7 440.5,651.2 440.0,650.4 439.5,651.4 439.0,649.8 438.5,650.8 438.0,650.3 437.5,650.1 437.0,651.2 436.5,650.9 436.0,651.5 435.5,650.5 435.0,651.7 434.5,650.6 434.0,650.6 433.5,649.8 433.0,649.7 432.5,649.5 432.0,651.3 431.5,650.1 431.0,652.1 430.5,651.1 430.0,650.4 429.5,651.2 429.0,650.4 428.5,651.6 428.0,650.9 427.5,651.0 427.0,650.0 426.5,650.5 426.0,651.7 425.5,651.2 425.0,651.8 424.5,652.2 424.0,649.9 423.5,650.1 423.0,650.5 422.5,652.0 422.0,650.1 421.5,652.3 421.0,649.7 420.5,650.7 420.0,651.5 419.5,651.1 419.0,651.6 418.5,649.9 418.0,651.0 417.5,652.0 417.0,651.2 416.5,650.8 416.0,650.3 415.5,651.4 415.0,651.0 414.5,649.9 414.0,650.4 413.5,650.0 413.0,651.7 412.5,651.6 412.0,651.5 411.5,651.8 411.0,650.9 410.5,653.2 410.0,653.1 409.5,650.1 409.0,651.1 408.5,651.5 408.0,650.0 407.5,651.3 407.0,652.5 406.5,652.9 406.0,651.4 405.5,650.0 405.0,651.1 404.5,651.3 404.0,651.4 403.5,650.8 403.0,650.8 402.5,649.5 402.0,651.9 401.5,652.7 401.0,652.0 400.5,649.8 400.0,651.1 399.5,650.9 399.0,650.0 398.5,652.8 398.0,651.6 397.5,652.4 397.0,649.2 396.5,651.4 396.0,650.7 395.5,651.3 395.0,650.1 394.5,651.2 394.0,650.7 393.5,650.6 393.0,651.7 392.5,650.1 392.0,650.6 391.5,650.2 391.0,650.4 390.5,650.9 390.0,651.2 389.5,649.8 389.0,651.9 388.5,650.5 388.0,652.1 387.5,651.7 387.0,649.7 386.5,651.9 386.0,651.3 385.5,652.5 385.0,650.8 384.5,651.6 384.0,651.3 383.5,651.6 383.0,652.3 382.5,652.2 382.0,651.8 381.5,653.0 381.0,650.9 380.5,650.6 380.0,652.0 379.5,650.8 379.0,652.5 378.5,652.3 378.0,651.2 377.5,653.8 377.0,651.1 376.5,651.1 376.0,650.3 375.5,651.8 375.0,652.7 374.5,650.4 374.0,650.9 373.5,650.4 373.0,651.2 372.5,651.0 372.0,651.8 371.5,651.2 371.0,649.9 370.5,650.4 370.0,650.3 369.5,649.7 369.0,652.1 368.5,651.8 368.0,651.0 367.5,651.0 367.0,650.7 366.5,651.6 366.0,650.8 365.5,652.0 365.0,649.9 364.5,650.7 364.0,651.6 363.5,650.2 363.0,651.4 362.5,651.1 362.0,652.2 361.5,650.3 361.0,650.0 360.5,649.6 360.0,651.0 359.5,650.3 359.0,651.3 358.5,651.7 358.0,650.6 357.5,651.2 357.0,650.4 356.5,649.9 356.0,651.1 355.5,651.5 355.0,651.1 354.5,651.0 354.0,652.1 353.5,651.1 353.0,652.9 352.5,652.1 352.0,652.8 351.5,650.7 351.0,651.4 350.5,651.6 350.0,651.7 349.5,651.3 349.0,652.8 348.5,650.2 348.0,650.5 347.5,650.2 347.0,650.4 346.5,650.9 346.0,652.5 345.5,650.1 345.0,652.3 344.5,651.9 344.0,651.8 343.5,649.5 343.0,652.6 342.5,651.1 342.0,652.6 341.5,653.6 341.0,651.2 340.5,649.7 340.0,653.0 339.5,650.7 339.0,650.8 338.5,650.1 338.0,650.8 337.5,651.1 337.0,650.9 336.5,652.1 336.0,652.4 335.5,650.3 335.0,651.8 334.5,649.7 334.0,651.5 333.5,651.5 333.0,652.5 332.5,652.3 332.0,651.5 331.5,650.8 331.0,650.0 330.5,650.9 330.0,651.2 329.5,650.5 329.0,651.0 328.5,651.6 328.0,651.6 327.5,650.0 327.0,651.4 326.5,650.1 326.0,651.0 325.5,650.7 325.0,651.2 324.5,650.9 324.0,651.3 323.5,651.4 323.0,650.8 322.5,650.1 322.0,650.7 321.5,650.8 321.0,651.9 320.5,650.8 320.0,650.9 319.5,649.4 319.0,651.5 318.5,651.7 318.0,651.2 317.5,651.9 317.0,650.2 316.5,651.9 316.0,649.9 315.5,649.8 315.0,650.6 314.5,651.3 314.0,650.8 313.5,651.6 313.0,649.7 312.5,651.4 312.0,649.8 311.5,651.0 311.0,652.2 310.5,651.2 310.0,651.3 309.5,652.4 309.0,651.0 308.5,651.9 308.0,651.4 307.5,652.5 307.0,651.7 306.5,651.7 306.0,653.0 305.5,650.2 305.0,650.8 304.5,650.2 304.0,653.4 303.5,651.6 303.0,650.1 302.5,650.4 302.0,651.4 301.5,649.4 301.0,651.5 300.5,650.1 300.0,653.0 299.5,651.4 299.0,651.3 298.5,651.7 298.0,650.5 297.5,651.1 297.0,650.5 296.5,651.3 296.0,651.1 295.5,651.4 295.0,651.2 294.5,651.8 294.0,652.4 293.5,653.2 293.0,651.3 292.5,651.8 292.0,650.6 291.5,652.1 291.0,651.1 290.5,652.3 290.0,651.2 289.5,651.0 289.0,650.0 288.5,649.5 288.0,651.5 287.5,651.5 287.0,651.0 286.5,650.9 286.0,651.9 285.5,650.5 285.0,649.5 284.5,651.8 284.0,651.5 283.5,651.3 283.0,649.9 282.5,650.6 282.0,651.5 281.5,650.6 281.0,653.2 280.5,651.4 280.0,653.6 279.5,651.8 279.0,651.4 278.5,652.3 278.0,652.1 277.5,651.2 277.0,652.6 276.5,653.6 276.0,653.9 275.5,653.2 275.0,651.8 274.5,652.3 274.0,652.1 273.5,651.9 273.0,650.0 272.5,651.4 272.0,651.0 271.5,650.2 271.0,651.2 270.5,651.4 270.0,650.1 269.5,652.4 269.0,651.2 268.5,653.1 268.0,651.3 267.5,650.4 267.0,650.6 266.5,650.8 266.0,652.3 265.5,651.4 265.0,651.4 264.5,650.2 264.0,651.4 263.5,652.2 263.0,652.8 262.5,650.6 262.0,651.7 261.5,650.8 261.0,650.2 260.5,650.7 260.0,650.2 259.5,651.2 259.0,650.2 258.5,650.3 258.0,652.0 257.5,650.2 257.0,650.8 256.5,649.9 256.0,650.6 255.5,651.8 255.0,651.1 254.5,650.1 254.0,652.0 253.5,651.8 253.0,650.8 252.5,651.1 252.0,653.1 251.5,651.0 251.0,651.2 250.5,651.7 250.0,653.3 249.5,651.6 249.0,652.3 248.5,651.6 248.0,651.1 247.5,652.8 247.0,650.0 246.5,651.4 246.0,652.0 245.5,651.6 245.0,650.8 244.5,649.8 244.0,651.1 243.5,651.2 243.0,650.8 242.5,652.6 242.0,651.7 241.5,651.1 241.0,651.4 240.5,651.8 240.0,651.1 239.5,649.9 239.0,650.9 238.5,651.2 238.0,651.3 237.5,651.4 237.0,651.4 236.5,651.6 236.0,653.0 235.5,651.3 235.0,651.5 234.5,651.5 234.0,651.2 233.5,652.5 233.0,651.4 232.5,650.7 232.0,652.8 231.5,651.6 231.0,650.5 230.5,652.3 230.0,651.1 229.5,649.6 229.0,651.3 228.5,650.6 228.0,651.5 227.5,650.7 227.0,651.1 226.5,650.2 226.0,650.3 225.5,651.7 225.0,651.5 224.5,651.5 224.0,652.4 223.5,650.6 223.0,650.2 222.5,650.7 222.0,650.3 221.5,650.5 221.0,651.1 220.5,651.4 220.0,649.9 219.5,649.7 219.0,651.7 218.5,651.2 218.0,651.4 217.5,650.6 217.0,651.8 216.5,650.1 216.0,650.7 215.5,651.0 215.0,651.6 214.5,652.0 214.0,651.8 213.5,650.8 213.0,651.3 212.5,653.3 212.0,651.8 211.5,650.7 211.0,649.3 210.5,650.3 210.0,650.6 209.5,651.1 209.0,651.5 208.5,651.9 208.0,649.9 207.5,650.2 207.0,649.5 206.5,651.7 206.0,651.9 205.5,650.5 205.0,650.7 204.5,652.1 204.0,651.4 203.5,650.9 203.0,651.7 202.5,651.9 202.0,649.7 201.5,651.9 201.0,651.0 200.5,650.9 200.0,651.0 199.5,651.3 199.0,649.8 198.5,650.4 198.0,650.4 197.5,649.5 197.0,651.2 196.5,651.9 196.0,650.4 195.5,649.9 195.0,649.4 194.5,652.2 194.0,651.8 193.5,650.6 193.0,652.1 192.5,650.1 192.0,650.3 191.5,650.4 191.0,649.5 190.5,651.0 190.0,651.5 189.5,650.6 189.0,650.6 188.5,652.0 188.0,650.8 187.5,649.8 187.0,651.0 186.5,650.9 186.0,649.7 185.5,651.4 185.0,649.9 184.5,650.3 184.0,650.7 183.5,651.5 183.0,650.2 182.5,650.7 182.0,650.9 181.5,651.0 181.0,652.0 180.5,650.4 180.0,651.2 179.5,652.1 179.0,651.3 178.5,651.7 178.0,651.7 177.5,650.1 177.0,652.3 176.5,651.4 176.0,651.6 175.5,651.0 175.0,651.2 174.5,652.5 174.0,651.2 173.5,651.0 173.0,651.9 172.5,652.1 172.0,652.2 171.5,651.4 171.0,650.8 170.5,650.2 170.0,652.0 169.5,652.2 169.0,649.8 168.5,651.5 168.0,651.8 167.5,651.5 167.0,650.6 166.5,651.9 166.0,652.3 165.5,650.1 165.0,651.1 164.5,651.8 164.0,650.6 163.5,652.2 163.0,650.2 162.5,651.4 162.0,651.2 161.5,650.7 161.0,651.2 160.5,649.5 160.0,651.1 159.5,650.0 159.0,650.7 158.5,651.0 158.0,650.8 157.5,652.2 157.0,649.3 156.5,651.7 156.0,653.3 155.5,653.6 155.0,652.4 154.5,652.8 154.0,651.8 153.5,651.5 153.0,652.0 152.5,651.9 152.0,651.6 151.5,650.7 151.0,649.9 150.5,653.5 150.0,651.4 149.5,651.6 149.0,651.7 148.5,649.5 148.0,653.4 147.5,652.2 147.0,652.0 146.5,652.4 146.0,653.7 145.5,651.1 145.0,650.8 144.5,651.4 144.0,651.6 143.5,651.6 143.0,654.1 142.5,650.3 142.0,652.7 141.5,652.1 141.0,651.3 140.5,652.1 140.0,652.5 139.5,651.5 139.0,650.3 138.5,651.7 138.0,652.2 137.5,651.9 137.0,651.4 136.5,652.1 136.0,650.6 135.5,651.7 135.0,651.5 134.5,652.2 134.0,652.8 133.5,652.4 133.0,651.1 132.5,650.5 132.0,652.9 131.5,652.7 131.0,651.6 130.5,652.4 130.0,651.5 129.5,651.0 129.0,650.3 128.5,650.4 128.0,651.1 127.5,650.1 127.0,650.2 126.5,650.6 126.0,651.5 125.5,651.4 125.0,652.5 124.5,650.6 124.0,651.5 123.5,651.3 123.0,653.0 122.5,651.5 122.0,651.5 121.5,652.5 121.0,652.6 120.5,651.3 120.0,650.8 119.5,652.5 119.0,650.3 118.5,651.6 118.0,651.8 117.5,651.0 117.0,651.0 116.5,652.0 116.0,652.4 115.5,651.5 115.0,651.0 114.5,651.7 114.0,651.2 113.5,650.3 113.0,652.5 112.5,650.3 112.0,652.1 111.5,650.8 111.0,651.0 110.5,650.7 110.0,651.2 109.5,651.6 109.0,651.8 108.5,651.3 108.0,651.2 107.5,649.6 107.0,650.7 106.5,652.2 106.0,652.0 105.5,650.3 105.0,652.8 104.5,651.3 104.0,651.4 103.5,653.0 103.0,651.6 102.5,651.9 102.0,651.5 101.5,651.1 101.0,651.1 100.5,652.1 100.0,650.9 99.5,652.5 99.0,651.3 98.5,651.3 98.0,653.1 97.5,650.9 97.0,653.7 96.5,650.1 96.0,649.4 95.5,650.5 95.0,651.8 94.5,652.3 94.0,651.4 93.5,651.3 93.0,651.6 92.5,651.8 92.0,651.1 91.5,649.7 91.0,653.8 90.5,651.9 90.0,651.4 89.5,653.4 89.0,651.6 88.5,650.9 88.0,651.5 87.5,650.3 87.0,650.0 86.5,650.5 86.0,651.2 85.5,650.9 85.0,651.3 84.5,650.6 84.0,649.9 83.5,651.1 83.0,651.9 82.5,651.5 82.0,652.0 81.5,651.3 81.0,650.1 80.5,650.3 80.0,650.6 79.5,650.2 79.0,652.3 78.5,652.2 78.0,650.1 77.5,651.1 77.0,650.6 76.5,652.0 76.0,651.0 75.5,652.6 75.0,651.5 74.5,653.1 74.0,652.3 73.5,650.5 73.0,651.1 72.5,650.8 72.0,650.9 71.5,651.2 71.0,652.4 70.5,650.6 70.0,651.1 69.5,651.6 69.0,651.4 68.5,651.0 68.0,650.6 67.5,650.4 67.0,651.6 66.5,651.8 66.0,650.0 65.5,651.9 65.0,649.7 64.5,651.3 64.0,650.9 63.5,651.3 63.0,650.3 62.5,652.0 62.0,651.1 61.5,651.1 61.0,649.8 60.5,651.9 60.0,651.5 59.5,650.3 59.0,651.3 58.5,651.5 58.0,650.2 57.5,650.1 57.0,650.5 56.5,651.8 56.0,651.7 55.5,651.7 55.0,649.8 54.5,652.1 54.0,650.0 53.5,651.1 53.0,651.8 52.5,651.3 52.0,650.9 51.5,651.3 51.0,651.0 50.5,650.9 50.0,650.5 49.5,651.2 49.0,652.0 48.5,651.4 48.0,651.4 47.5,651.0 47.0,650.4 46.5,650.7 46.0,652.0 45.5,650.4 45.0,650.0 44.5,652.4 44.0,651.3 43.5,650.9 43.0,652.8 42.5,651.1 42.0,649.7 41.5,652.0 41.0,651.0 40.5,652.8 40.0,651.5 39.5,651.5 39.0,650.7 38.5,651.9 38.0,651.0 37.5,650.4 37.0,650.8 36.5,651.3 36.0,651.5 35.5,650.7 35.0,650.4 34.5,651.7 34.0,650.3 33.5,650.6 33.0,651.7" fill="#00f"/><path d="M104.4 629.7V694.4M140.5 641.6V665.5M249.0 643.3V656.9M255.4 643.3V672.3M259.4 643.3V675.7M271.5 643.3V672.3M277.0 634.8V658.6M327.0 638.2V668.9M342.7 626.3V670.6M347.7 629.7V687.6M373.3 629.7V675.7M389.4 628.0V691.0M420.5 643.3V665.5M434.5 624.6V730.2M436.0 636.5V711.5M458.6 629.7V682.5M471.6 634.8V662.0M479.0 622.9V665.5M507.8 628.0V674.0M549.4 628.0V788.1M574.5 624.6V685.9M618.0 641.6V677.4M625.0 636.5V663.7M627.0 629.7V663.7" stroke="#00f" stroke-opacity="0.42" stroke-width="1.3" fill="none"/><path d="M104.4 639.0V668.2M140.5 644.4V655.1M249.0 645.2V651.3M255.4 645.2V658.2M259.4 645.2V659.7M271.5 645.2V658.2M277.0 641.3V652.1M327.0 642.9V656.7M342.7 637.5V657.4M347.7 639.0V665.1M373.3 639.0V659.7M389.4 638.3V666.6M420.5 645.2V655.1M434.5 636.7V684.3M436.0 642.1V675.8M458.6 639.0V662.8M471.6 641.3V653.6M479.0 636.0V655.1M507.8 638.3V659.0M549.4 638.3V710.3M574.5 636.7V664.3M618.0 644.4V660.5M625.0 642.1V654.4M627.0 639.0V654.4" stroke="#00f" stroke-opacity="0.35" stroke-width="1.3" fill="none"/>
</g>
<text x="33.0" y="832.9" text-anchor="middle" font-size="12.5">00:00</text>
<text x="108.3" y="832.9" text-anchor="middle" font-size="12.5">03:00</text>
<text x="183.6" y="832.9" text-anchor="middle" font-size="12.5">06:00</text>
<text x="258.9" y="832.9" text-anchor="middle" font-size="12.5">09:00</text>
<text x="334.2" y="832.9" text-anchor="middle" font-size="12.5">12:00</text>
<text x="409.6" y="832.9" text-anchor="middle" font-size="12.5">15:00</text>
<text x="484.9" y="832.9" text-anchor="middle" font-size="12.5">18:00</text>
<text x="560.2" y="832.9" text-anchor="middle" font-size="12.5">21:00</text>
<text x="635.5" y="832.9" text-anchor="middle" font-size="12.5">00:00</text>
<text x="28.4" y="618.2" text-anchor="end" font-size="12.5">1</text>
<text x="28.4" y="652.3" text-anchor="end" font-size="12.5">0</text>
<text x="28.4" y="686.4" text-anchor="end" font-size="12.5">-1</text>
<text x="28.4" y="720.4" text-anchor="end" font-size="12.5">-2</text>
<text x="28.4" y="754.5" text-anchor="end" font-size="12.5">-3</text>
<text x="28.4" y="788.6" text-anchor="end" font-size="12.5">-4</text>
<text x="28.4" y="822.7" text-anchor="end" font-size="12.5">-5</text>
<text x="9.2" y="715.9" text-anchor="middle" font-weight="bold" transform="rotate(-90 9.2 715.9)" font-size="12.5">Z (nT)</text>
<g clip-path="url(#cr0)"><g filter="url(#jet)" class="mx">
<rect x="824.1" y="44.0" width="606.9" height="208.45" fill="#000"/>
<ellipse cx="896.7" cy="249.9" rx="2.50" ry="76.2" fill="url(#r11)"/><polygon points="918.50,123.5 918.50,138.7 918.49,153.9 918.50,173.0 918.50,192.0 919.50,192.0 919.50,173.0 919.51,153.9 919.50,138.7 919.50,123.5" fill="url(#g2)"/><ellipse cx="923.3" cy="186.9" rx="2.75" ry="50.8" fill="url(#r8)"/><polygon points="922.63,113.3 922.63,129.8 922.39,146.3 922.12,171.7 922.09,188.2 922.06,204.7 922.16,218.7 922.28,232.6 922.39,249.9 924.21,249.9 924.32,232.6 924.44,218.7 924.54,204.7 924.51,188.2 924.48,171.7 924.21,146.3 923.97,129.8 923.97,113.3" fill="url(#g3)"/><ellipse cx="928.4" cy="164.1" rx="2.75" ry="43.2" fill="url(#r10)"/><polygon points="927.73,108.2 927.68,124.7 927.38,141.2 927.08,166.6 927.31,192.0 927.73,217.4 929.07,217.4 929.49,192.0 929.72,166.6 929.42,141.2 929.12,124.7 929.07,108.2" fill="url(#g4)"/><ellipse cx="932.5" cy="141.2" rx="2.50" ry="63.5" fill="url(#r9)"/><ellipse cx="944.0" cy="197.1" rx="3.25" ry="66.0" fill="url(#r13)"/><ellipse cx="944.0" cy="128.5" rx="2.50" ry="50.8" fill="url(#r8)"/><polygon points="943.33,62.5 943.30,76.5 943.01,90.4 942.88,109.5 942.76,128.5 942.75,150.1 942.75,171.7 942.60,192.0 942.48,209.8 942.60,227.6 942.75,249.9 945.25,249.9 945.40,227.6 945.52,209.8 945.40,192.0 945.25,171.7 945.25,150.1 945.24,128.5 945.12,109.5 944.99,90.4 944.70,76.5 944.67,62.5" fill="url(#g7)"/><polygon points="974.50,141.2 974.50,159.0 974.49,176.8 974.50,194.6 974.50,212.3 975.50,212.3 975.50,194.6 975.51,176.8 975.50,159.0 975.50,141.2" fill="url(#g8)"/><polygon points="982.66,60.0 982.66,77.1 982.66,94.2 982.64,111.4 982.51,128.5 982.50,144.4 982.48,160.3 982.47,176.1 982.46,192.0 982.66,217.4 984.34,217.4 984.54,192.0 984.53,176.1 984.52,160.3 984.50,144.4 984.49,128.5 984.36,111.4 984.34,94.2 984.34,77.1 984.34,60.0" fill="url(#g9)"/><polygon points="991.27,46.0 991.29,61.9 991.30,77.7 991.50,96.8 991.50,115.8 992.50,115.8 992.50,96.8 992.70,77.7 992.71,61.9 992.73,46.0" fill="url(#g10)"/><ellipse cx="1001.6" cy="249.9" rx="3.00" ry="63.5" fill="url(#r11)"/><polygon points="1000.84,126.0 1000.84,143.8 1000.66,161.5 1000.45,179.3 1000.31,198.4 1000.18,217.4 1000.16,233.7 1000.15,249.9 1003.05,249.9 1003.04,233.7 1003.02,217.4 1002.89,198.4 1002.75,179.3 1002.54,161.5 1002.36,143.8 1002.36,126.0" fill="url(#g11)"/><ellipse cx="1008.4" cy="249.9" rx="2.50" ry="45.7" fill="url(#r9)"/><polygon points="1007.90,161.5 1007.82,183.1 1007.57,204.7 1007.54,219.8 1007.52,234.8 1007.49,249.9 1009.31,249.9 1009.28,234.8 1009.26,219.8 1009.23,204.7 1008.98,183.1 1008.89,161.5" fill="url(#g12)"/><polygon points="1015.50,153.9 1015.50,169.8 1015.50,185.7 1015.39,201.5 1015.30,217.4 1015.26,233.7 1015.22,249.9 1016.78,249.9 1016.74,233.7 1016.70,217.4 1016.61,201.5 1016.50,185.7 1016.50,169.8 1016.50,153.9" fill="url(#g13)"/><polygon points="1024.51,146.3 1024.45,162.8 1024.22,179.3 1024.21,197.0 1024.20,214.6 1024.19,232.3 1024.17,249.9 1025.83,249.9 1025.81,232.3 1025.80,214.6 1025.79,197.0 1025.78,179.3 1025.55,162.8 1025.49,146.3" fill="url(#g15)"/><polygon points="1030.73,153.9 1030.73,173.0 1030.49,192.0 1030.65,207.2 1030.73,222.5 1030.73,237.7 1032.07,237.7 1032.07,222.5 1032.15,207.2 1032.31,192.0 1032.07,173.0 1032.07,153.9" fill="url(#g16)"/><ellipse cx="1066.2" cy="171.7" rx="3.50" ry="63.5" fill="url(#r15)"/><polygon points="1065.39,46.0 1065.30,61.9 1065.20,77.7 1064.87,103.1 1064.66,123.5 1064.43,146.3 1064.28,166.6 1064.34,186.9 1064.52,204.7 1064.77,222.5 1064.83,236.2 1064.88,249.9 1067.52,249.9 1067.57,236.2 1067.63,222.5 1067.88,204.7 1068.06,186.9 1068.12,166.6 1067.97,146.3 1067.74,123.5 1067.53,103.1 1067.20,77.7 1067.10,61.9 1067.01,46.0" fill="url(#g19)"/><polygon points="1071.96,148.8 1071.87,165.3 1071.48,181.9 1071.87,199.6 1071.96,217.4 1073.64,217.4 1073.73,199.6 1074.12,181.9 1073.73,165.3 1073.64,148.8" fill="url(#g20)"/><polygon points="1078.24,141.2 1078.24,160.3 1078.06,179.3 1078.24,198.4 1078.24,217.4 1079.76,217.4 1079.76,198.4 1079.94,179.3 1079.76,160.3 1079.76,141.2" fill="url(#g21)"/><ellipse cx="1094.0" cy="181.9" rx="2.75" ry="66.0" fill="url(#r12)"/><polygon points="1093.33,98.1 1092.91,115.8 1092.65,141.2 1092.37,161.5 1092.27,181.9 1092.37,204.7 1092.51,227.6 1092.60,249.9 1095.40,249.9 1095.49,227.6 1095.63,204.7 1095.73,181.9 1095.63,161.5 1095.35,141.2 1095.09,115.8 1094.67,98.1" fill="url(#g22)"/><ellipse cx="1099.5" cy="249.9" rx="2.50" ry="50.8" fill="url(#r11)"/><polygon points="1098.83,156.5 1098.71,174.2 1098.38,192.0 1098.23,207.2 1098.10,222.5 1098.05,236.2 1098.01,249.9 1100.99,249.9 1100.95,236.2 1100.90,222.5 1100.77,207.2 1100.62,192.0 1100.29,174.2 1100.17,156.5" fill="url(#g23)"/><polygon points="1124.04,46.0 1123.97,59.3 1123.90,72.7 1124.04,90.4 1124.48,108.2 1126.32,108.2 1126.76,90.4 1126.90,72.7 1126.83,59.3 1126.76,46.0" fill="url(#g25)"/><polygon points="1142.51,103.1 1142.51,122.2 1142.43,141.2 1142.31,160.3 1142.20,179.3 1142.15,198.4 1142.11,217.4 1142.09,233.7 1142.08,249.9 1143.92,249.9 1143.91,233.7 1143.89,217.4 1143.85,198.4 1143.80,179.3 1143.69,160.3 1143.57,141.2 1143.49,122.2 1143.49,103.1" fill="url(#g28)"/><polygon points="1150.83,181.9 1150.67,199.6 1150.32,217.4 1150.28,233.7 1150.25,249.9 1152.75,249.9 1152.72,233.7 1152.68,217.4 1152.33,199.6 1152.17,181.9" fill="url(#g29)"/><ellipse cx="1176.7" cy="227.6" rx="2.75" ry="83.8" fill="url(#r15)"/><polygon points="1182.01,146.3 1182.01,161.5 1181.95,176.8 1181.83,192.0 1181.95,208.9 1182.01,225.9 1182.01,242.8 1182.99,242.8 1182.99,225.9 1183.05,208.9 1183.17,192.0 1183.05,176.8 1182.99,161.5 1182.99,146.3" fill="url(#g32)"/><ellipse cx="1220.6" cy="179.3" rx="3.12" ry="50.8" fill="url(#r7)"/><polygon points="1224.66,128.5 1224.66,150.1 1224.36,171.7 1224.57,186.9 1224.66,202.2 1224.66,217.4 1226.34,217.4 1226.34,202.2 1226.43,186.9 1226.64,171.7 1226.34,150.1 1226.34,128.5" fill="url(#g34)"/><ellipse cx="1229.6" cy="217.4" rx="2.75" ry="63.5" fill="url(#r12)"/><polygon points="1228.93,136.1 1228.42,161.5 1228.25,176.8 1228.11,192.0 1228.08,207.2 1228.06,222.5 1228.11,236.2 1228.15,249.9 1231.05,249.9 1231.09,236.2 1231.14,222.5 1231.12,207.2 1231.09,192.0 1230.95,176.8 1230.78,161.5 1230.27,136.1" fill="url(#g35)"/><polygon points="1239.96,123.5 1239.23,146.3 1239.02,161.5 1238.80,176.8 1238.57,192.0 1237.97,217.4 1237.58,233.7 1237.20,249.9 1243.40,249.9 1243.02,233.7 1242.63,217.4 1242.03,192.0 1241.80,176.8 1241.58,161.5 1241.37,146.3 1240.64,123.5" fill="url(#g37)"/><ellipse cx="1244.2" cy="136.1" rx="3.75" ry="33.0" fill="url(#r19)"/><ellipse cx="1244.2" cy="249.9" rx="3.12" ry="50.8" fill="url(#r19)"/><polygon points="1242.96,46.0 1242.95,68.2 1242.93,90.4 1242.75,115.8 1242.66,136.1 1242.75,161.5 1242.70,176.8 1242.64,192.0 1242.62,211.3 1242.61,230.6 1242.59,249.9 1245.81,249.9 1245.79,230.6 1245.78,211.3 1245.76,192.0 1245.70,176.8 1245.65,161.5 1245.74,136.1 1245.65,115.8 1245.47,90.4 1245.45,68.2 1245.44,46.0" fill="url(#g39)"/><ellipse cx="1258.0" cy="217.4" rx="3.00" ry="71.1" fill="url(#r13)"/><polygon points="1257.29,65.0 1256.75,85.4 1256.72,102.5 1256.70,119.6 1256.68,136.8 1256.65,153.9 1256.46,179.3 1256.41,198.4 1256.36,217.4 1256.38,233.7 1256.39,249.9 1259.61,249.9 1259.62,233.7 1259.64,217.4 1259.59,198.4 1259.54,179.3 1259.35,153.9 1259.32,136.8 1259.30,119.6 1259.28,102.5 1259.25,85.4 1258.71,65.0" fill="url(#g41)"/><polygon points="1262.91,46.0 1262.90,68.2 1262.89,90.4 1262.70,115.8 1262.51,136.1 1262.46,154.8 1262.42,173.4 1262.37,192.0 1262.23,211.3 1262.09,230.6 1261.95,249.9 1265.45,249.9 1265.31,230.6 1265.17,211.3 1265.03,192.0 1264.98,173.4 1264.94,154.8 1264.89,136.1 1264.70,115.8 1264.51,90.4 1264.50,68.2 1264.49,46.0" fill="url(#g42)"/><polygon points="1277.51,103.1 1277.51,120.1 1277.51,137.0 1277.51,153.9 1277.51,169.8 1277.51,185.7 1277.51,201.5 1277.51,217.4 1278.49,217.4 1278.49,201.5 1278.49,185.7 1278.49,169.8 1278.49,153.9 1278.49,137.0 1278.49,120.1 1278.49,103.1" fill="url(#g43)"/><polygon points="1281.01,115.8 1281.01,132.8 1281.01,149.7 1281.01,166.6 1281.01,183.5 1281.01,200.5 1281.01,217.4 1281.99,217.4 1281.99,200.5 1281.99,183.5 1281.99,166.6 1281.99,149.7 1281.99,132.8 1281.99,115.8" fill="url(#g44)"/><ellipse cx="1292.9" cy="249.9" rx="2.50" ry="50.8" fill="url(#r13)"/><polygon points="1308.51,141.2 1308.51,156.5 1308.51,171.7 1308.51,186.9 1308.51,208.5 1308.51,230.1 1309.49,230.1 1309.49,208.5 1309.49,186.9 1309.49,171.7 1309.49,156.5 1309.49,141.2" fill="url(#g46)"/><ellipse cx="1357.4" cy="161.5" rx="3.00" ry="66.0" fill="url(#r13)"/><polygon points="1356.73,90.4 1356.22,100.6 1355.91,115.8 1356.02,136.1 1355.98,151.4 1355.95,166.6 1356.02,192.0 1355.82,212.3 1355.95,232.6 1356.16,249.9 1358.64,249.9 1358.85,232.6 1358.98,212.3 1358.78,192.0 1358.85,166.6 1358.82,151.4 1358.78,136.1 1358.89,115.8 1358.58,100.6 1358.07,90.4" fill="url(#g49)"/><ellipse cx="1386.3" cy="166.6" rx="3.00" ry="50.8" fill="url(#r11)"/><polygon points="1385.54,82.8 1385.41,99.3 1385.04,115.8 1384.94,131.1 1384.85,146.3 1384.73,161.5 1384.62,176.8 1384.73,197.1 1385.54,217.4 1387.06,217.4 1387.87,197.1 1387.98,176.8 1387.87,161.5 1387.75,146.3 1387.66,131.1 1387.56,115.8 1387.19,99.3 1387.06,82.8" fill="url(#g52)"/><ellipse cx="1392.7" cy="103.1" rx="3.25" ry="50.8" fill="url(#r12)"/><polygon points="1391.65,46.0 1391.45,65.0 1391.40,84.1 1391.35,103.1 1391.11,128.5 1391.10,145.0 1391.09,161.5 1391.35,181.9 1391.99,197.1 1393.41,197.1 1394.05,181.9 1394.31,161.5 1394.30,145.0 1394.29,128.5 1394.05,103.1 1394.00,84.1 1393.95,65.0 1393.75,46.0" fill="url(#g53)"/><polygon points="1398.51,115.8 1398.42,134.9 1398.17,153.9 1398.14,170.9 1398.12,187.8 1398.09,204.7 1398.09,219.8 1398.09,234.8 1398.09,249.9 1399.91,249.9 1399.91,234.8 1399.91,219.8 1399.91,204.7 1399.88,187.8 1399.86,170.9 1399.83,153.9 1399.58,134.9 1399.49,115.8" fill="url(#g54)"/><ellipse cx="1408.4" cy="136.1" rx="3.25" ry="76.2" fill="url(#r19)"/><ellipse cx="1408.4" cy="136.1" rx="5.25" ry="76.2" fill="url(#r11)"/><polygon points="1406.98,46.0 1406.92,70.1 1406.57,82.8 1406.75,98.1 1406.79,123.5 1406.76,138.7 1406.74,153.9 1406.48,179.3 1406.57,204.7 1406.67,227.6 1406.72,249.9 1410.08,249.9 1410.13,227.6 1410.23,204.7 1410.32,179.3 1410.06,153.9 1410.04,138.7 1410.01,123.5 1410.05,98.1 1410.23,82.8 1409.88,70.1 1409.82,46.0" fill="url(#g55)"/>
</g>
<polygon points="896.20,46.0 896.20,63.5 896.20,80.9 896.20,98.4 896.20,115.8 896.20,131.1 896.20,146.3 896.20,161.5 896.18,176.8 896.15,192.0 896.14,211.3 896.13,230.6 896.11,249.9 897.29,249.9 897.27,230.6 897.26,211.3 897.25,192.0 897.22,176.8 897.20,161.5 897.20,146.3 897.20,131.1 897.20,115.8 897.20,98.4 897.20,80.9 897.20,63.5 897.20,46.0" fill="url(#g1)"/><polygon points="932.00,46.0 932.00,68.2 932.00,90.4 931.95,115.8 931.94,134.9 931.92,153.9 931.96,173.0 931.99,192.0 932.00,211.3 932.00,230.6 932.00,249.9 933.00,249.9 933.00,230.6 933.00,211.3 933.01,192.0 933.04,173.0 933.08,153.9 933.06,134.9 933.05,115.8 933.00,90.4 933.00,68.2 933.00,46.0" fill="url(#g5)"/><polygon points="935.80,90.4 935.80,106.3 935.80,122.2 935.80,138.1 935.80,153.9 935.80,169.8 935.80,185.7 935.80,201.5 935.80,217.4 936.80,217.4 936.80,201.5 936.80,185.7 936.80,169.8 936.80,153.9 936.80,138.1 936.80,122.2 936.80,106.3 936.80,90.4" fill="url(#g6)"/><polygon points="1020.50,110.8 1020.50,129.4 1020.50,148.0 1020.50,166.6 1020.50,183.5 1020.50,200.5 1020.50,217.4 1021.50,217.4 1021.50,200.5 1021.50,183.5 1021.50,166.6 1021.50,148.0 1021.50,129.4 1021.50,110.8" fill="url(#g14)"/><polygon points="1038.50,46.0 1038.50,63.2 1038.50,80.5 1038.50,97.7 1038.50,114.9 1038.50,132.2 1038.50,149.4 1038.50,166.6 1038.50,183.5 1038.50,200.5 1038.50,217.4 1038.50,233.7 1038.50,249.9 1039.50,249.9 1039.50,233.7 1039.50,217.4 1039.50,200.5 1039.50,183.5 1039.50,166.6 1039.50,149.4 1039.50,132.2 1039.50,114.9 1039.50,97.7 1039.50,80.5 1039.50,63.2 1039.50,46.0" fill="url(#g17)"/><polygon points="1044.10,46.0 1044.10,64.5 1044.10,83.1 1044.10,101.6 1044.10,120.1 1044.10,138.7 1044.10,157.2 1044.10,175.8 1044.10,194.3 1044.10,212.8 1044.10,231.4 1044.10,249.9 1045.10,249.9 1045.10,231.4 1045.10,212.8 1045.10,194.3 1045.10,175.8 1045.10,157.2 1045.10,138.7 1045.10,120.1 1045.10,101.6 1045.10,83.1 1045.10,64.5 1045.10,46.0" fill="url(#g18)"/><polygon points="1114.50,46.0 1114.50,64.5 1114.50,83.1 1114.50,101.6 1114.50,120.1 1114.50,138.7 1114.50,157.2 1114.50,175.8 1114.50,194.3 1114.50,212.8 1114.50,231.4 1114.50,249.9 1115.50,249.9 1115.50,231.4 1115.50,212.8 1115.50,194.3 1115.50,175.8 1115.50,157.2 1115.50,138.7 1115.50,120.1 1115.50,101.6 1115.50,83.1 1115.50,64.5 1115.50,46.0" fill="url(#g24)"/><polygon points="1130.00,46.0 1130.00,65.0 1130.00,84.1 1130.00,103.1 1130.00,122.2 1130.00,141.2 1130.00,159.3 1130.00,177.5 1130.00,195.6 1130.00,213.7 1130.00,231.8 1130.00,249.9 1131.00,249.9 1131.00,231.8 1131.00,213.7 1131.00,195.6 1131.00,177.5 1131.00,159.3 1131.00,141.2 1131.00,122.2 1131.00,103.1 1131.00,84.1 1131.00,65.0 1131.00,46.0" fill="url(#g26)"/><polygon points="1135.00,46.0 1135.00,64.5 1135.00,83.1 1135.00,101.6 1135.00,120.1 1135.00,138.7 1135.00,157.2 1135.00,175.8 1135.00,194.3 1135.00,212.8 1135.00,231.4 1135.00,249.9 1136.00,249.9 1136.00,231.4 1136.00,212.8 1136.00,194.3 1136.00,175.8 1136.00,157.2 1136.00,138.7 1136.00,120.1 1136.00,101.6 1136.00,83.1 1136.00,64.5 1136.00,46.0" fill="url(#g27)"/><polygon points="1159.90,46.0 1159.90,64.5 1159.90,83.1 1159.90,101.6 1159.90,120.1 1159.90,138.7 1159.90,157.2 1159.90,175.8 1159.90,194.3 1159.90,212.8 1159.90,231.4 1159.90,249.9 1160.90,249.9 1160.90,231.4 1160.90,212.8 1160.90,194.3 1160.90,175.8 1160.90,157.2 1160.90,138.7 1160.90,120.1 1160.90,101.6 1160.90,83.1 1160.90,64.5 1160.90,46.0" fill="url(#g30)"/><polygon points="1176.08,46.0 1176.09,68.2 1176.10,90.4 1176.12,106.9 1176.13,123.5 1176.20,148.8 1176.20,171.7 1176.20,191.3 1176.20,210.8 1176.20,230.4 1176.20,249.9 1177.20,249.9 1177.20,230.4 1177.20,210.8 1177.20,191.3 1177.20,171.7 1177.20,148.8 1177.27,123.5 1177.28,106.9 1177.30,90.4 1177.31,68.2 1177.32,46.0" fill="url(#g31)"/><polygon points="1220.05,46.0 1220.09,61.9 1220.10,77.7 1220.10,93.6 1220.10,109.5 1220.10,125.4 1220.10,141.2 1220.10,159.3 1220.10,177.5 1220.10,195.6 1220.10,213.7 1220.10,231.8 1220.10,249.9 1221.10,249.9 1221.10,231.8 1221.10,213.7 1221.10,195.6 1221.10,177.5 1221.10,159.3 1221.10,141.2 1221.10,125.4 1221.10,109.5 1221.10,93.6 1221.10,77.7 1221.11,61.9 1221.15,46.0" fill="url(#g33)"/><polygon points="1235.81,46.0 1235.79,68.2 1235.76,90.4 1235.77,107.4 1235.77,124.3 1235.77,141.2 1235.64,158.2 1235.51,175.1 1235.37,192.0 1235.09,211.3 1234.81,230.6 1234.54,249.9 1238.46,249.9 1238.19,230.6 1237.91,211.3 1237.63,192.0 1237.49,175.1 1237.36,158.2 1237.23,141.2 1237.23,124.3 1237.23,107.4 1237.24,90.4 1237.21,68.2 1237.19,46.0" fill="url(#g36)"/><polygon points="1239.42,46.0 1239.42,61.9 1239.43,77.7 1239.45,96.8 1239.47,115.8 1239.43,141.2 1239.42,156.5 1239.42,171.7 1241.18,171.7 1241.18,156.5 1241.17,141.2 1241.13,115.8 1241.15,96.8 1241.17,77.7 1241.18,61.9 1241.18,46.0" fill="url(#g38)"/><polygon points="1247.50,161.5 1247.50,176.8 1247.45,192.0 1247.44,211.3 1247.43,230.6 1247.43,249.9 1248.57,249.9 1248.57,230.6 1248.56,211.3 1248.55,192.0 1248.50,176.8 1248.50,161.5" fill="url(#g40)"/><polygon points="1292.40,46.0 1292.40,63.5 1292.40,80.9 1292.39,98.4 1292.38,115.8 1292.36,131.7 1292.35,147.6 1292.33,163.4 1292.31,179.3 1292.27,198.4 1292.23,217.4 1292.22,233.7 1292.21,249.9 1293.59,249.9 1293.58,233.7 1293.57,217.4 1293.53,198.4 1293.49,179.3 1293.47,163.4 1293.45,147.6 1293.44,131.7 1293.42,115.8 1293.41,98.4 1293.40,80.9 1293.40,63.5 1293.40,46.0" fill="url(#g45)"/><polygon points="1331.71,46.0 1331.72,68.2 1331.72,90.4 1331.81,115.8 1331.91,141.2 1331.93,158.2 1331.96,175.1 1331.98,192.0 1331.98,211.3 1331.99,230.6 1331.99,249.9 1333.01,249.9 1333.01,230.6 1333.02,211.3 1333.02,192.0 1333.04,175.1 1333.07,158.2 1333.09,141.2 1333.19,115.8 1333.28,90.4 1333.28,68.2 1333.29,46.0" fill="url(#g47)"/><polygon points="1352.50,82.8 1352.50,98.1 1352.50,120.9 1353.50,120.9 1353.50,98.1 1353.50,82.8" fill="url(#g48)"/><polygon points="1361.50,90.4 1361.50,109.5 1361.50,128.5 1361.50,147.6 1361.50,166.6 1362.50,166.6 1362.50,147.6 1362.50,128.5 1362.50,109.5 1362.50,90.4" fill="url(#g50)"/><polygon points="1368.00,90.4 1368.00,106.9 1368.00,123.5 1368.00,145.0 1368.00,166.6 1369.00,166.6 1369.00,145.0 1369.00,123.5 1369.00,106.9 1369.00,90.4" fill="url(#g51)"/>
</g>
<path d="M901.5 250.4v-6M901.5 46.0v6M976.8 250.4v-6M976.8 46.0v6M1052.2 250.4v-6M1052.2 46.0v6M1127.5 250.4v-6M1127.5 46.0v6M1202.9 250.4v-6M1202.9 46.0v6M1278.3 250.4v-6M1278.3 46.0v6M1353.6 250.4v-6M1353.6 46.0v6M826.1 48.0h6M1429.0 48.0h-6M826.1 64.6h6M1429.0 64.6h-6M826.1 83.0h6M1429.0 83.0h-6M826.1 103.6h6M1429.0 103.6h-6M826.1 126.9h6M1429.0 126.9h-6M826.1 153.8h6M1429.0 153.8h-6M826.1 185.6h6M1429.0 185.6h-6M826.1 204.0h6M1429.0 204.0h-6M826.1 224.5h6M1429.0 224.5h-6M826.1 247.8h6M1429.0 247.8h-6" fill="none" stroke="#000" stroke-opacity="0.5" stroke-width="1"/>
<text x="826.1" y="264.8" text-anchor="middle" font-size="12.5">00:00</text>
<text x="901.5" y="264.8" text-anchor="middle" font-size="12.5">03:00</text>
<text x="976.8" y="264.8" text-anchor="middle" font-size="12.5">06:00</text>
<text x="1052.2" y="264.8" text-anchor="middle" font-size="12.5">09:00</text>
<text x="1127.5" y="264.8" text-anchor="middle" font-size="12.5">12:00</text>
<text x="1202.9" y="264.8" text-anchor="middle" font-size="12.5">15:00</text>
<text x="1278.3" y="264.8" text-anchor="middle" font-size="12.5">18:00</text>
<text x="1353.6" y="264.8" text-anchor="middle" font-size="12.5">21:00</text>
<text x="1429.0" y="264.8" text-anchor="middle" font-size="12.5">00:00</text>
<text x="822.1" y="52.2" text-anchor="end" font-size="12.5">22</text>
<text x="822.1" y="68.8" text-anchor="end" font-size="12.5">20</text>
<text x="822.1" y="87.2" text-anchor="end" font-size="12.5">18</text>
<text x="822.1" y="107.8" text-anchor="end" font-size="12.5">16</text>
<text x="822.1" y="131.1" text-anchor="end" font-size="12.5">14</text>
<text x="822.1" y="158.0" text-anchor="end" font-size="12.5">12</text>
<text x="822.1" y="189.8" text-anchor="end" font-size="12.5">10</text>
<text x="822.1" y="208.2" text-anchor="end" font-size="12.5">9</text>
<text x="822.1" y="228.7" text-anchor="end" font-size="12.5">8</text>
<text x="822.1" y="252.0" text-anchor="end" font-size="12.5">7</text>
<text x="798.6" y="148.5" text-anchor="middle" font-weight="bold" transform="rotate(-90 798.6 148.5)" font-size="12.5">freq (mHz)</text>
<rect x="1448.0" y="46.0" width="25.09999999999991" height="204.45" fill="url(#cb)" stroke="#8a8a8a" stroke-width="0.8"/>
<path d="M1448.0 80.1h2.5M1473.1 80.1h-2.5M1448.0 114.1h2.5M1473.1 114.1h-2.5M1448.0 148.2h2.5M1473.1 148.2h-2.5M1448.0 182.3h2.5M1473.1 182.3h-2.5M1448.0 216.4h2.5M1473.1 216.4h-2.5" fill="none" stroke="#000" stroke-opacity="0.6" stroke-width="1"/>
<text x="1476.9" y="50.2" text-anchor="start" font-size="12.5">4</text>
<text x="1476.9" y="84.3" text-anchor="start" font-size="12.5">3</text>
<text x="1476.9" y="118.3" text-anchor="start" font-size="12.5">2</text>
<text x="1476.9" y="152.4" text-anchor="start" font-size="12.5">1</text>
<text x="1476.9" y="186.5" text-anchor="start" font-size="12.5">0</text>
<text x="1476.9" y="220.6" text-anchor="start" font-size="12.5">-1</text>
<text x="1476.9" y="254.6" text-anchor="start" font-size="12.5">-2</text>
<text x="1509.0" y="148.6" text-anchor="middle" font-weight="bold" font-size="12.5" transform="rotate(-90 1509.0 148.6)">log<tspan font-size="9.8" dy="4.6">2</tspan><tspan dy="-4.6">(nT</tspan><tspan font-size="9.8" dy="-6.2">2</tspan><tspan dy="6.2">/Hz)</tspan></text>
<g clip-path="url(#cr1)"><g filter="url(#jet)" class="mx">
<rect x="824.1" y="328.0" width="606.9" height="208.45000000000005" fill="#000"/>
<polygon points="881.50,374.4 881.50,393.5 881.50,412.5 881.50,429.0 881.50,445.5 882.50,445.5 882.50,429.0 882.50,412.5 882.50,393.5 882.50,374.4" fill="url(#g56)"/><ellipse cx="896.7" cy="533.9" rx="2.50" ry="66.0" fill="url(#r9)"/><polygon points="896.24,366.8 896.24,382.1 896.19,397.3 896.07,412.5 896.03,429.5 895.99,446.4 895.95,463.3 895.92,482.4 895.89,501.4 895.87,517.7 895.85,533.9 897.55,533.9 897.53,517.7 897.51,501.4 897.48,482.4 897.45,463.3 897.41,446.4 897.37,429.5 897.33,412.5 897.21,397.3 897.16,382.1 897.16,366.8" fill="url(#g57)"/><polygon points="921.08,394.8 921.08,413.4 921.08,432.0 920.91,450.6 920.85,469.7 920.80,488.7 921.08,505.2 921.08,521.7 922.92,521.7 922.92,505.2 923.20,488.7 923.15,469.7 923.09,450.6 922.92,432.0 922.92,413.4 922.92,394.8" fill="url(#g58)"/><ellipse cx="930.4" cy="476.0" rx="2.75" ry="71.1" fill="url(#r9)"/><polygon points="929.73,338.9 929.73,356.7 929.49,374.4 929.39,391.4 929.30,408.3 929.22,425.2 929.20,442.2 929.17,459.1 929.15,476.0 929.15,495.3 929.16,514.6 929.16,533.9 931.64,533.9 931.64,514.6 931.65,495.3 931.65,476.0 931.63,459.1 931.60,442.2 931.58,425.2 931.50,408.3 931.41,391.4 931.31,374.4 931.07,356.7 931.07,338.9" fill="url(#g59)"/><polygon points="932.80,382.1 932.80,400.7 932.71,419.3 932.57,437.9 932.71,457.4 932.80,476.9 932.80,496.3 933.79,496.3 933.79,476.9 933.89,457.4 934.03,437.9 933.89,419.3 933.79,400.7 933.79,382.1" fill="url(#g60)"/><ellipse cx="945.0" cy="496.3" rx="4.25" ry="58.4" fill="url(#r24)"/><ellipse cx="945.0" cy="491.2" rx="5.75" ry="76.2" fill="url(#r13)"/><polygon points="944.56,330.0 944.53,347.5 944.51,364.9 944.48,382.4 944.45,399.8 944.16,415.1 943.82,430.3 943.13,450.6 942.91,470.9 942.76,486.2 942.67,501.4 942.79,516.6 942.97,526.8 943.02,533.9 946.98,533.9 947.03,526.8 947.21,516.6 947.33,501.4 947.24,486.2 947.09,470.9 946.87,450.6 946.18,430.3 945.84,415.1 945.55,399.8 945.52,382.4 945.49,364.9 945.47,347.5 945.44,330.0" fill="url(#g62)"/><polygon points="985.46,465.9 985.46,479.8 985.43,493.8 985.46,507.8 985.46,521.7 987.14,521.7 987.14,507.8 987.17,493.8 987.14,479.8 987.14,465.9" fill="url(#g64)"/><polygon points="1002.63,425.2 1002.63,442.2 1002.52,459.1 1002.35,476.0 1002.31,495.3 1002.28,514.6 1002.24,533.9 1004.36,533.9 1004.32,514.6 1004.29,495.3 1004.25,476.0 1004.08,459.1 1003.97,442.2 1003.97,425.2" fill="url(#g66)"/><polygon points="1038.91,330.0 1038.90,348.3 1038.89,366.5 1038.89,384.8 1038.88,403.0 1038.87,421.3 1038.87,439.5 1038.86,457.8 1038.85,476.0 1038.69,495.3 1038.51,514.6 1038.34,533.9 1041.46,533.9 1041.29,514.6 1041.11,495.3 1040.95,476.0 1040.94,457.8 1040.93,439.5 1040.93,421.3 1040.92,403.0 1040.91,384.8 1040.91,366.5 1040.90,348.3 1040.89,330.0" fill="url(#g67)"/><polygon points="1065.54,399.8 1065.54,416.3 1065.54,432.8 1065.54,449.3 1065.54,465.9 1066.46,465.9 1066.46,449.3 1066.46,432.8 1066.46,416.3 1066.46,399.8" fill="url(#g70)"/><polygon points="1093.54,420.1 1093.54,435.4 1093.54,450.6 1093.54,465.9 1093.54,481.9 1093.54,498.0 1093.54,514.1 1094.46,514.1 1094.46,498.0 1094.46,481.9 1094.46,465.9 1094.46,450.6 1094.46,435.4 1094.46,420.1" fill="url(#g71)"/><polygon points="1175.43,330.0 1175.42,348.3 1175.41,366.5 1175.40,384.8 1175.39,403.0 1175.38,421.3 1175.37,439.5 1175.36,457.8 1175.35,476.0 1175.14,495.3 1174.93,514.6 1174.70,533.9 1178.10,533.9 1177.87,514.6 1177.66,495.3 1177.45,476.0 1177.44,457.8 1177.43,439.5 1177.42,421.3 1177.41,403.0 1177.40,384.8 1177.39,366.5 1177.38,348.3 1177.37,330.0" fill="url(#g74)"/><ellipse cx="1243.8" cy="488.7" rx="3.75" ry="66.0" fill="url(#r15)"/><polygon points="1242.69,330.0 1242.66,346.2 1242.63,362.4 1242.60,378.6 1242.58,394.8 1242.49,410.0 1242.41,425.2 1242.29,440.5 1242.17,455.7 1241.99,481.1 1241.99,506.5 1242.12,524.3 1242.23,533.9 1245.37,533.9 1245.48,524.3 1245.61,506.5 1245.61,481.1 1245.43,455.7 1245.31,440.5 1245.19,425.2 1245.11,410.0 1245.02,394.8 1245.00,378.6 1244.97,362.4 1244.94,346.2 1244.91,330.0" fill="url(#g79)"/><polygon points="1257.24,361.7 1256.78,387.1 1256.72,404.1 1256.66,421.0 1256.61,437.9 1256.62,453.8 1256.64,469.7 1256.66,485.5 1256.67,501.4 1256.71,517.7 1256.74,533.9 1259.26,533.9 1259.29,517.7 1259.33,501.4 1259.34,485.5 1259.36,469.7 1259.38,453.8 1259.39,437.9 1259.34,421.0 1259.28,404.1 1259.22,387.1 1258.76,361.7" fill="url(#g80)"/><ellipse cx="1263.7" cy="488.7" rx="3.00" ry="76.2" fill="url(#r15)"/><polygon points="1263.21,349.0 1262.88,374.4 1262.79,393.5 1262.71,412.5 1262.53,437.9 1262.48,451.9 1262.42,465.9 1262.42,483.6 1262.42,501.4 1262.46,517.7 1262.50,533.9 1264.90,533.9 1264.94,517.7 1264.98,501.4 1264.98,483.6 1264.98,465.9 1264.92,451.9 1264.87,437.9 1264.69,412.5 1264.61,393.5 1264.53,374.4 1264.19,349.0" fill="url(#g81)"/><polygon points="1276.33,399.8 1276.33,416.8 1276.19,433.7 1276.01,450.6 1276.03,467.3 1276.04,483.9 1276.06,500.6 1276.07,517.3 1276.09,533.9 1277.91,533.9 1277.93,517.3 1277.94,500.6 1277.96,483.9 1277.97,467.3 1277.99,450.6 1277.81,433.7 1277.67,416.8 1277.67,399.8" fill="url(#g83)"/><ellipse cx="1285.0" cy="478.6" rx="3.00" ry="38.1" fill="url(#r10)"/><polygon points="1284.24,432.8 1283.74,455.7 1283.61,481.1 1283.74,506.5 1284.24,526.8 1285.76,526.8 1286.26,506.5 1286.39,481.1 1286.26,455.7 1285.76,432.8" fill="url(#g84)"/><ellipse cx="1357.0" cy="501.4" rx="2.50" ry="63.5" fill="url(#r8)"/><polygon points="1356.43,330.0 1356.41,349.0 1356.39,368.1 1356.37,387.1 1356.32,403.0 1356.27,418.9 1356.23,434.7 1356.19,450.6 1356.18,467.3 1356.17,483.9 1356.16,500.6 1356.16,517.3 1356.15,533.9 1357.85,533.9 1357.84,517.3 1357.84,500.6 1357.83,483.9 1357.82,467.3 1357.81,450.6 1357.77,434.7 1357.73,418.9 1357.68,403.0 1357.63,387.1 1357.61,368.1 1357.59,349.0 1357.57,330.0" fill="url(#g87)"/><polygon points="1375.94,476.0 1375.94,501.4 1375.94,526.8 1376.86,526.8 1376.86,501.4 1376.86,476.0" fill="url(#g88)"/><polygon points="1385.13,425.2 1385.08,444.3 1384.78,463.3 1385.08,484.9 1385.13,506.5 1386.47,506.5 1386.52,484.9 1386.82,463.3 1386.52,444.3 1386.47,425.2" fill="url(#g89)"/><polygon points="1391.11,387.1 1391.11,404.1 1390.96,421.0 1390.82,437.9 1390.81,457.1 1390.80,476.3 1390.79,495.5 1390.78,514.7 1390.77,533.9 1392.42,533.9 1392.42,514.7 1392.41,495.5 1392.40,476.3 1392.39,457.1 1392.38,437.9 1392.24,421.0 1392.09,404.1 1392.09,387.1" fill="url(#g90)"/><ellipse cx="1409.4" cy="465.9" rx="4.00" ry="76.2" fill="url(#r17)"/><ellipse cx="1409.4" cy="465.9" rx="5.50" ry="71.1" fill="url(#r11)"/><polygon points="1408.69,364.3 1408.15,382.1 1408.08,397.3 1408.03,412.5 1407.86,430.3 1407.67,445.5 1407.54,460.8 1407.46,481.1 1407.50,498.9 1407.65,511.6 1407.72,533.9 1411.08,533.9 1411.15,511.6 1411.30,498.9 1411.34,481.1 1411.26,460.8 1411.13,445.5 1410.94,430.3 1410.77,412.5 1410.72,397.3 1410.65,382.1 1410.11,364.3" fill="url(#g92)"/>
</g>
<polygon points="940.80,361.7 940.80,383.3 940.80,404.9 940.80,420.1 940.80,435.4 940.80,450.6 941.80,450.6 941.80,435.4 941.80,420.1 941.80,404.9 941.80,383.3 941.80,361.7" fill="url(#g61)"/><polygon points="947.10,330.0 947.10,349.0 947.10,368.1 947.10,387.1 947.10,406.2 947.10,425.2 947.10,443.3 947.10,461.5 947.10,479.6 947.10,497.7 947.10,515.8 947.10,533.9 948.10,533.9 948.10,515.8 948.10,497.7 948.10,479.6 948.10,461.5 948.10,443.3 948.10,425.2 948.10,406.2 948.10,387.1 948.10,368.1 948.10,349.0 948.10,330.0" fill="url(#g63)"/><polygon points="991.50,330.0 991.50,349.0 991.50,368.1 991.50,387.1 991.50,406.2 991.50,425.2 992.50,425.2 992.50,406.2 992.50,387.1 992.50,368.1 992.50,349.0 992.50,330.0" fill="url(#g65)"/><polygon points="1039.20,330.0 1039.19,348.3 1039.18,366.5 1039.17,384.8 1039.16,403.0 1039.14,421.3 1039.13,439.5 1039.12,457.8 1039.11,476.0 1038.97,495.3 1038.83,514.6 1038.69,533.9 1041.11,533.9 1040.97,514.6 1040.83,495.3 1040.69,476.0 1040.68,457.8 1040.67,439.5 1040.66,421.3 1040.64,403.0 1040.63,384.8 1040.62,366.5 1040.61,348.3 1040.60,330.0" fill="url(#g68)"/><polygon points="1043.90,330.0 1043.90,347.5 1043.90,364.9 1043.90,382.4 1043.90,399.8 1043.90,416.8 1043.90,433.7 1043.90,450.6 1044.90,450.6 1044.90,433.7 1044.90,416.8 1044.90,399.8 1044.90,382.4 1044.90,364.9 1044.90,347.5 1044.90,330.0" fill="url(#g69)"/><polygon points="1115.30,330.0 1115.30,348.5 1115.30,367.1 1115.30,385.6 1115.30,404.1 1115.30,422.7 1115.30,441.2 1115.30,459.8 1115.30,478.3 1115.30,496.8 1115.30,515.4 1115.30,533.9 1116.30,533.9 1116.30,515.4 1116.30,496.8 1116.30,478.3 1116.30,459.8 1116.30,441.2 1116.30,422.7 1116.30,404.1 1116.30,385.6 1116.30,367.1 1116.30,348.5 1116.30,330.0" fill="url(#g72)"/><polygon points="1134.69,330.0 1134.70,349.0 1134.70,368.1 1134.70,387.1 1134.70,406.2 1134.70,425.2 1134.70,443.3 1134.70,461.5 1134.70,479.6 1134.70,497.7 1134.70,515.8 1134.70,533.9 1135.70,533.9 1135.70,515.8 1135.70,497.7 1135.70,479.6 1135.70,461.5 1135.70,443.3 1135.70,425.2 1135.70,406.2 1135.70,387.1 1135.70,368.1 1135.70,349.0 1135.71,330.0" fill="url(#g73)"/><polygon points="1175.69,330.0 1175.67,347.5 1175.65,364.9 1175.62,382.4 1175.60,399.8 1175.57,416.8 1175.54,433.7 1175.52,450.6 1175.49,467.5 1175.46,484.5 1175.43,501.4 1175.11,517.7 1174.78,533.9 1178.02,533.9 1177.69,517.7 1177.37,501.4 1177.34,484.5 1177.31,467.5 1177.28,450.6 1177.26,433.7 1177.23,416.8 1177.20,399.8 1177.18,382.4 1177.15,364.9 1177.13,347.5 1177.11,330.0" fill="url(#g75)"/><polygon points="1205.50,330.0 1205.50,348.5 1205.50,367.1 1205.50,385.6 1205.50,404.1 1205.50,422.7 1205.50,441.2 1205.50,459.8 1205.50,478.3 1205.50,496.8 1205.50,515.4 1205.50,533.9 1206.50,533.9 1206.50,515.4 1206.50,496.8 1206.50,478.3 1206.50,459.8 1206.50,441.2 1206.50,422.7 1206.50,404.1 1206.50,385.6 1206.50,367.1 1206.50,348.5 1206.50,330.0" fill="url(#g76)"/><polygon points="1220.01,330.0 1220.04,349.0 1220.15,374.4 1220.20,393.5 1220.25,412.5 1220.28,428.4 1220.30,444.3 1220.30,460.1 1220.30,476.0 1220.30,495.3 1220.30,514.6 1220.30,533.9 1221.30,533.9 1221.30,514.6 1221.30,495.3 1221.30,476.0 1221.30,460.1 1221.30,444.3 1221.32,428.4 1221.35,412.5 1221.40,393.5 1221.45,374.4 1221.56,349.0 1221.59,330.0" fill="url(#g77)"/><polygon points="1239.28,330.0 1239.25,352.2 1239.23,374.4 1239.19,393.5 1239.15,412.5 1239.16,431.6 1239.16,450.6 1239.19,469.7 1239.21,488.7 1239.22,503.8 1239.22,518.8 1239.23,533.9 1240.37,533.9 1240.38,518.8 1240.38,503.8 1240.39,488.7 1240.41,469.7 1240.44,450.6 1240.44,431.6 1240.45,412.5 1240.41,393.5 1240.37,374.4 1240.35,352.2 1240.32,330.0" fill="url(#g78)"/><polygon points="1266.70,425.2 1266.70,444.3 1266.65,463.3 1266.65,481.0 1266.64,498.6 1266.63,516.3 1266.63,533.9 1267.77,533.9 1267.77,516.3 1267.76,498.6 1267.75,481.0 1267.75,463.3 1267.70,444.3 1267.70,425.2" fill="url(#g82)"/><polygon points="1291.50,463.3 1291.50,482.4 1291.50,501.4 1291.50,517.7 1291.50,533.9 1292.50,533.9 1292.50,517.7 1292.50,501.4 1292.50,482.4 1292.50,463.3" fill="url(#g85)"/><polygon points="1332.20,330.0 1332.20,347.5 1332.20,364.9 1332.20,382.4 1332.20,399.8 1332.20,416.6 1332.20,433.4 1332.20,450.1 1332.20,466.9 1332.20,483.6 1332.20,500.4 1332.20,517.2 1332.20,533.9 1333.20,533.9 1333.20,517.2 1333.20,500.4 1333.20,483.6 1333.20,466.9 1333.20,450.1 1333.20,433.4 1333.20,416.6 1333.20,399.8 1333.20,382.4 1333.20,364.9 1333.20,347.5 1333.20,330.0" fill="url(#g86)"/><polygon points="1399.50,330.0 1399.50,348.5 1399.50,367.1 1399.50,385.6 1399.50,404.1 1399.50,422.7 1399.50,441.2 1399.50,459.8 1399.50,478.3 1399.50,496.8 1399.50,515.4 1399.50,533.9 1400.50,533.9 1400.50,515.4 1400.50,496.8 1400.50,478.3 1400.50,459.8 1400.50,441.2 1400.50,422.7 1400.50,404.1 1400.50,385.6 1400.50,367.1 1400.50,348.5 1400.50,330.0" fill="url(#g91)"/>
</g>
<path d="M901.5 534.5v-6M901.5 330.0v6M976.8 534.5v-6M976.8 330.0v6M1052.2 534.5v-6M1052.2 330.0v6M1127.5 534.5v-6M1127.5 330.0v6M1202.9 534.5v-6M1202.9 330.0v6M1278.3 534.5v-6M1278.3 330.0v6M1353.6 534.5v-6M1353.6 330.0v6M826.1 332.0h6M1429.0 332.0h-6M826.1 348.6h6M1429.0 348.6h-6M826.1 367.0h6M1429.0 367.0h-6M826.1 387.6h6M1429.0 387.6h-6M826.1 410.9h6M1429.0 410.9h-6M826.1 437.8h6M1429.0 437.8h-6M826.1 469.6h6M1429.0 469.6h-6M826.1 488.0h6M1429.0 488.0h-6M826.1 508.5h6M1429.0 508.5h-6M826.1 531.8h6M1429.0 531.8h-6" fill="none" stroke="#000" stroke-opacity="0.5" stroke-width="1"/>
<text x="826.1" y="548.9" text-anchor="middle" font-size="12.5">00:00</text>
<text x="901.5" y="548.9" text-anchor="middle" font-size="12.5">03:00</text>
<text x="976.8" y="548.9" text-anchor="middle" font-size="12.5">06:00</text>
<text x="1052.2" y="548.9" text-anchor="middle" font-size="12.5">09:00</text>
<text x="1127.5" y="548.9" text-anchor="middle" font-size="12.5">12:00</text>
<text x="1202.9" y="548.9" text-anchor="middle" font-size="12.5">15:00</text>
<text x="1278.3" y="548.9" text-anchor="middle" font-size="12.5">18:00</text>
<text x="1353.6" y="548.9" text-anchor="middle" font-size="12.5">21:00</text>
<text x="1429.0" y="548.9" text-anchor="middle" font-size="12.5">00:00</text>
<text x="822.1" y="336.2" text-anchor="end" font-size="12.5">22</text>
<text x="822.1" y="352.8" text-anchor="end" font-size="12.5">20</text>
<text x="822.1" y="371.2" text-anchor="end" font-size="12.5">18</text>
<text x="822.1" y="391.8" text-anchor="end" font-size="12.5">16</text>
<text x="822.1" y="415.1" text-anchor="end" font-size="12.5">14</text>
<text x="822.1" y="442.0" text-anchor="end" font-size="12.5">12</text>
<text x="822.1" y="473.8" text-anchor="end" font-size="12.5">10</text>
<text x="822.1" y="492.2" text-anchor="end" font-size="12.5">9</text>
<text x="822.1" y="512.7" text-anchor="end" font-size="12.5">8</text>
<text x="822.1" y="536.0" text-anchor="end" font-size="12.5">7</text>
<text x="798.6" y="432.5" text-anchor="middle" font-weight="bold" transform="rotate(-90 798.6 432.5)" font-size="12.5">freq (mHz)</text>
<rect x="1448.0" y="330.0" width="25.09999999999991" height="204.45000000000005" fill="url(#cb)" stroke="#8a8a8a" stroke-width="0.8"/>
<path d="M1448.0 364.1h2.5M1473.1 364.1h-2.5M1448.0 398.1h2.5M1473.1 398.1h-2.5M1448.0 432.2h2.5M1473.1 432.2h-2.5M1448.0 466.3h2.5M1473.1 466.3h-2.5M1448.0 500.4h2.5M1473.1 500.4h-2.5" fill="none" stroke="#000" stroke-opacity="0.6" stroke-width="1"/>
<text x="1476.9" y="334.2" text-anchor="start" font-size="12.5">4</text>
<text x="1476.9" y="368.3" text-anchor="start" font-size="12.5">3</text>
<text x="1476.9" y="402.3" text-anchor="start" font-size="12.5">2</text>
<text x="1476.9" y="436.4" text-anchor="start" font-size="12.5">1</text>
<text x="1476.9" y="470.5" text-anchor="start" font-size="12.5">0</text>
<text x="1476.9" y="504.6" text-anchor="start" font-size="12.5">-1</text>
<text x="1476.9" y="538.7" text-anchor="start" font-size="12.5">-2</text>
<text x="1509.0" y="432.6" text-anchor="middle" font-weight="bold" font-size="12.5" transform="rotate(-90 1509.0 432.6)">log<tspan font-size="9.8" dy="4.6">2</tspan><tspan dy="-4.6">(nT</tspan><tspan font-size="9.8" dy="-6.2">2</tspan><tspan dy="6.2">/Hz)</tspan></text>
<g clip-path="url(#cr2)"><g filter="url(#jet)" class="mx">
<rect x="824.1" y="612.0" width="606.9" height="208.45000000000005" fill="#000"/>
<polygon points="923.50,704.1 923.50,719.4 923.50,734.6 923.45,749.9 923.50,765.9 923.50,782.0 923.50,798.1 924.50,798.1 924.50,782.0 924.50,765.9 924.55,749.9 924.50,734.6 924.50,719.4 924.50,704.1" fill="url(#g94)"/><polygon points="927.30,696.5 927.30,715.6 927.25,734.6 927.30,753.7 927.30,772.7 928.29,772.7 928.29,753.7 928.35,734.6 928.29,715.6 928.29,696.5" fill="url(#g95)"/><ellipse cx="944.0" cy="775.2" rx="2.75" ry="45.7" fill="url(#r8)"/><polygon points="943.29,666.1 943.29,684.7 943.21,703.3 943.03,721.9 942.91,741.0 942.81,760.0 942.75,785.4 942.79,801.7 942.84,817.9 945.16,817.9 945.21,801.7 945.25,785.4 945.19,760.0 945.09,741.0 944.97,721.9 944.79,703.3 944.71,684.7 944.71,666.1" fill="url(#g97)"/><polygon points="1001.59,760.0 1001.14,785.4 1001.13,801.7 1001.11,817.9 1003.49,817.9 1003.47,801.7 1003.46,785.4 1003.01,760.0" fill="url(#g98)"/><polygon points="1007.94,777.8 1007.75,800.6 1007.75,817.9 1009.05,817.9 1009.05,800.6 1008.86,777.8" fill="url(#g99)"/><ellipse cx="1065.8" cy="739.7" rx="3.75" ry="58.4" fill="url(#r12)"/><polygon points="1064.96,628.0 1064.87,649.6 1064.48,671.1 1064.34,690.2 1064.22,709.2 1064.09,734.6 1064.15,760.0 1064.29,785.4 1064.29,801.7 1064.29,817.9 1067.31,817.9 1067.31,801.7 1067.31,785.4 1067.45,760.0 1067.51,734.6 1067.38,709.2 1067.26,690.2 1067.12,671.1 1066.73,649.6 1066.64,628.0" fill="url(#g106)"/><polygon points="1093.53,678.8 1093.11,704.1 1092.88,727.0 1092.80,749.9 1092.88,772.7 1092.92,787.8 1092.95,802.8 1092.99,817.9 1095.41,817.9 1095.45,802.8 1095.48,787.8 1095.52,772.7 1095.60,749.9 1095.52,727.0 1095.29,704.1 1094.87,678.8" fill="url(#g107)"/><polygon points="1099.13,721.9 1099.08,741.0 1098.78,760.0 1098.59,785.4 1098.58,801.7 1098.56,817.9 1101.04,817.9 1101.02,801.7 1101.01,785.4 1100.82,760.0 1100.52,741.0 1100.47,721.9" fill="url(#g108)"/><ellipse cx="1130.2" cy="817.9" rx="3.00" ry="50.8" fill="url(#r19)"/><polygon points="1129.37,614.0 1129.36,631.5 1129.35,648.9 1129.34,666.4 1129.33,683.8 1129.28,702.9 1129.24,721.9 1129.18,741.0 1129.13,760.0 1129.12,779.3 1129.11,798.6 1129.10,817.9 1131.30,817.9 1131.29,798.6 1131.28,779.3 1131.27,760.0 1131.22,741.0 1131.16,721.9 1131.12,702.9 1131.07,683.8 1131.06,666.4 1131.05,648.9 1131.04,631.5 1131.03,614.0" fill="url(#g110)"/><ellipse cx="1135.2" cy="817.9" rx="2.50" ry="38.1" fill="url(#r13)"/><polygon points="1142.31,747.3 1142.31,766.4 1142.13,785.4 1142.10,801.7 1142.07,817.9 1143.53,817.9 1143.50,801.7 1143.47,785.4 1143.29,766.4 1143.29,747.3" fill="url(#g112)"/><polygon points="1150.71,760.0 1150.71,775.2 1150.53,790.5 1150.50,804.2 1150.47,817.9 1151.93,817.9 1151.90,804.2 1151.87,790.5 1151.69,775.2 1151.69,760.0" fill="url(#g113)"/><ellipse cx="1160.1" cy="817.9" rx="3.00" ry="45.7" fill="url(#r17)"/><polygon points="1159.27,614.0 1159.26,631.5 1159.26,648.9 1159.25,666.4 1159.25,683.8 1159.20,700.8 1159.16,717.7 1159.12,734.6 1159.09,753.7 1159.06,772.7 1159.05,787.8 1159.05,802.8 1159.04,817.9 1161.16,817.9 1161.15,802.8 1161.15,787.8 1161.14,772.7 1161.11,753.7 1161.08,734.6 1161.04,717.7 1161.00,700.8 1160.95,683.8 1160.95,666.4 1160.94,648.9 1160.94,631.5 1160.93,614.0" fill="url(#g114)"/><polygon points="1229.51,709.2 1229.39,724.5 1229.13,739.7 1229.12,754.9 1229.10,770.2 1229.09,785.4 1229.09,801.7 1229.09,817.9 1230.91,817.9 1230.91,801.7 1230.91,785.4 1230.90,770.2 1230.88,754.9 1230.87,739.7 1230.61,724.5 1230.49,709.2" fill="url(#g119)"/><polygon points="1243.04,671.1 1242.17,691.5 1242.07,714.3 1242.09,739.7 1242.32,760.0 1243.04,780.3 1244.56,780.3 1245.28,760.0 1245.51,739.7 1245.53,714.3 1245.43,691.5 1244.56,671.1" fill="url(#g121)"/><polygon points="1241.63,739.7 1241.03,760.0 1241.06,785.4 1241.09,801.7 1241.12,817.9 1243.48,817.9 1243.51,801.7 1243.54,785.4 1243.57,760.0 1242.97,739.7" fill="url(#g122)"/><polygon points="1257.29,658.4 1257.18,677.5 1256.84,696.5 1256.82,712.4 1256.79,728.3 1256.77,744.1 1256.75,760.0 1256.70,779.1 1256.65,798.1 1256.63,817.9 1259.37,817.9 1259.35,798.1 1259.30,779.1 1259.25,760.0 1259.23,744.1 1259.21,728.3 1259.18,712.4 1259.16,696.5 1258.82,677.5 1258.71,658.4" fill="url(#g124)"/><ellipse cx="1263.7" cy="785.4" rx="3.50" ry="76.2" fill="url(#r20)"/><polygon points="1262.94,640.7 1262.37,666.1 1262.32,681.3 1262.28,696.5 1261.94,714.3 1261.82,739.7 1261.64,760.0 1261.60,785.4 1261.62,801.7 1261.64,817.9 1265.76,817.9 1265.78,801.7 1265.80,785.4 1265.76,760.0 1265.58,739.7 1265.46,714.3 1265.12,696.5 1265.08,681.3 1265.03,666.1 1264.46,640.7" fill="url(#g125)"/><ellipse cx="1292.6" cy="817.9" rx="2.75" ry="50.8" fill="url(#r17)"/><polygon points="1291.79,614.0 1291.77,633.0 1291.76,652.1 1291.75,671.1 1291.69,690.2 1291.64,709.2 1291.58,728.3 1291.53,747.3 1291.50,766.4 1291.48,785.4 1291.48,801.7 1291.48,817.9 1293.72,817.9 1293.72,801.7 1293.72,785.4 1293.70,766.4 1293.67,747.3 1293.62,728.3 1293.56,709.2 1293.51,690.2 1293.45,671.1 1293.44,652.1 1293.43,633.0 1293.41,614.0" fill="url(#g127)"/><ellipse cx="1357.1" cy="817.9" rx="2.75" ry="50.8" fill="url(#r17)"/><polygon points="1356.19,614.0 1356.17,633.7 1356.15,653.4 1356.03,673.7 1355.92,691.5 1355.91,708.6 1355.91,725.7 1355.91,742.9 1355.90,760.0 1355.91,779.3 1355.91,798.6 1355.92,817.9 1358.28,817.9 1358.29,798.6 1358.29,779.3 1358.30,760.0 1358.29,742.9 1358.29,725.7 1358.29,708.6 1358.28,691.5 1358.17,673.7 1358.05,653.4 1358.03,633.7 1358.01,614.0" fill="url(#g129)"/><polygon points="1385.04,666.1 1384.99,681.3 1384.65,696.5 1384.41,721.9 1384.41,735.9 1384.41,749.9 1384.65,770.2 1385.04,780.3 1386.56,780.3 1386.95,770.2 1387.19,749.9 1387.19,735.9 1387.19,721.9 1386.95,696.5 1386.61,681.3 1386.56,666.1" fill="url(#g131)"/><polygon points="1390.89,640.7 1390.51,663.5 1390.44,680.0 1390.38,696.5 1390.39,713.0 1390.41,729.5 1390.89,749.9 1392.31,749.9 1392.79,729.5 1392.81,713.0 1392.82,696.5 1392.76,680.0 1392.69,663.5 1392.31,640.7" fill="url(#g132)"/><ellipse cx="1408.9" cy="709.2" rx="3.50" ry="83.8" fill="url(#r13)"/><polygon points="1408.10,622.9 1407.61,638.1 1407.40,658.4 1407.10,671.1 1406.97,691.5 1407.02,716.8 1407.21,734.6 1407.33,760.0 1407.30,785.4 1407.05,803.2 1406.99,817.9 1410.81,817.9 1410.75,803.2 1410.50,785.4 1410.47,760.0 1410.59,734.6 1410.78,716.8 1410.83,691.5 1410.70,671.1 1410.40,658.4 1410.19,638.1 1409.70,622.9" fill="url(#g134)"/><polygon points="1411.04,704.1 1410.65,729.5 1410.66,744.8 1410.67,760.0 1411.04,775.2 1411.96,775.2 1412.33,760.0 1412.34,744.8 1412.35,729.5 1411.96,704.1" fill="url(#g135)"/>
</g>
<polygon points="896.05,614.0 896.05,631.5 896.06,648.9 896.06,666.4 896.06,683.8 896.08,700.8 896.10,717.7 896.11,734.6 896.12,751.3 896.13,767.9 896.14,784.6 896.14,801.3 896.15,817.9 897.25,817.9 897.26,801.3 897.26,784.6 897.27,767.9 897.28,751.3 897.29,734.6 897.30,717.7 897.32,700.8 897.34,683.8 897.34,666.4 897.34,648.9 897.35,631.5 897.35,614.0" fill="url(#g93)"/><polygon points="932.00,614.0 932.00,631.5 932.00,648.9 932.00,666.4 932.00,683.8 932.00,702.9 931.99,721.9 932.00,738.9 932.00,755.8 932.00,772.7 932.00,787.8 932.00,802.8 931.99,817.9 933.01,817.9 933.00,802.8 933.00,787.8 933.00,772.7 933.00,755.8 933.00,738.9 933.01,721.9 933.00,702.9 933.00,683.8 933.00,666.4 933.00,648.9 933.00,631.5 933.00,614.0" fill="url(#g96)"/><polygon points="1015.50,772.7 1015.50,795.6 1015.50,810.8 1016.50,810.8 1016.50,795.6 1016.50,772.7" fill="url(#g100)"/><polygon points="1024.50,734.6 1024.50,760.0 1024.50,785.4 1025.50,785.4 1025.50,760.0 1025.50,734.6" fill="url(#g101)"/><polygon points="1037.50,749.9 1037.50,775.2 1037.50,800.6 1038.50,800.6 1038.50,775.2 1038.50,749.9" fill="url(#g102)"/><polygon points="1044.20,614.0 1044.20,632.5 1044.20,651.1 1044.20,669.6 1044.20,688.1 1044.20,706.7 1044.20,725.2 1044.20,743.8 1044.20,762.3 1044.20,780.8 1044.20,799.4 1044.20,817.9 1045.20,817.9 1045.20,799.4 1045.20,780.8 1045.20,762.3 1045.20,743.8 1045.20,725.2 1045.20,706.7 1045.20,688.1 1045.20,669.6 1045.20,651.1 1045.20,632.5 1045.20,614.0" fill="url(#g103)"/><polygon points="1048.00,614.0 1048.00,631.9 1048.00,649.8 1048.00,667.7 1048.00,685.7 1048.00,703.6 1048.00,721.5 1048.00,739.4 1048.00,757.3 1048.00,775.2 1048.00,785.4 1049.00,785.4 1049.00,775.2 1049.00,757.3 1049.00,739.4 1049.00,721.5 1049.00,703.6 1049.00,685.7 1049.00,667.7 1049.00,649.8 1049.00,631.9 1049.00,614.0" fill="url(#g104)"/><polygon points="1059.50,614.0 1059.50,632.5 1059.50,651.1 1059.50,669.6 1059.50,688.1 1059.50,706.7 1059.50,725.2 1059.50,743.8 1059.50,762.3 1059.50,780.8 1059.50,799.4 1059.50,817.9 1060.50,817.9 1060.50,799.4 1060.50,780.8 1060.50,762.3 1060.50,743.8 1060.50,725.2 1060.50,706.7 1060.50,688.1 1060.50,669.6 1060.50,651.1 1060.50,632.5 1060.50,614.0" fill="url(#g105)"/><polygon points="1114.79,614.0 1114.78,631.5 1114.76,648.9 1114.74,666.4 1114.73,683.8 1114.71,702.9 1114.69,721.9 1114.71,741.0 1114.73,760.0 1114.73,779.3 1114.74,798.6 1114.75,817.9 1115.85,817.9 1115.86,798.6 1115.87,779.3 1115.87,760.0 1115.89,741.0 1115.91,721.9 1115.89,702.9 1115.87,683.8 1115.86,666.4 1115.84,648.9 1115.82,631.5 1115.81,614.0" fill="url(#g109)"/><polygon points="1134.64,614.0 1134.64,631.2 1134.64,648.5 1134.64,665.7 1134.64,682.9 1134.64,700.2 1134.64,717.4 1134.64,734.6 1134.63,751.3 1134.63,767.9 1134.62,784.6 1134.62,801.3 1134.61,817.9 1135.79,817.9 1135.78,801.3 1135.78,784.6 1135.77,767.9 1135.77,751.3 1135.76,734.6 1135.76,717.4 1135.76,700.2 1135.76,682.9 1135.76,665.7 1135.76,648.5 1135.76,631.2 1135.76,614.0" fill="url(#g111)"/><polygon points="1175.70,614.0 1175.69,629.9 1175.68,645.7 1175.67,662.7 1175.66,679.6 1175.64,696.5 1175.64,713.5 1175.64,730.4 1175.63,747.3 1175.54,766.4 1175.45,785.4 1175.22,801.7 1175.01,817.9 1177.79,817.9 1177.58,801.7 1177.35,785.4 1177.26,766.4 1177.17,747.3 1177.16,730.4 1177.16,713.5 1177.16,696.5 1177.14,679.6 1177.13,662.7 1177.12,645.7 1177.11,629.9 1177.10,614.0" fill="url(#g115)"/><polygon points="1181.50,744.8 1181.50,762.6 1181.50,780.3 1181.50,799.1 1181.50,817.9 1182.50,817.9 1182.50,799.1 1182.50,780.3 1182.50,762.6 1182.50,744.8" fill="url(#g116)"/><polygon points="1205.50,614.0 1205.50,632.5 1205.50,651.1 1205.50,669.6 1205.50,688.1 1205.50,706.7 1205.50,725.2 1205.50,743.8 1205.50,762.3 1205.50,780.8 1205.50,799.4 1205.50,817.9 1206.50,817.9 1206.50,799.4 1206.50,780.8 1206.50,762.3 1206.50,743.8 1206.50,725.2 1206.50,706.7 1206.50,688.1 1206.50,669.6 1206.50,651.1 1206.50,632.5 1206.50,614.0" fill="url(#g117)"/><polygon points="1219.92,614.0 1219.84,633.0 1219.81,658.4 1219.81,675.4 1219.80,692.3 1219.80,709.2 1219.80,729.5 1219.81,749.9 1219.87,770.2 1219.92,785.4 1220.02,800.6 1220.07,817.9 1221.13,817.9 1221.18,800.6 1221.28,785.4 1221.33,770.2 1221.39,749.9 1221.40,729.5 1221.40,709.2 1221.40,692.3 1221.39,675.4 1221.39,658.4 1221.36,633.0 1221.28,614.0" fill="url(#g118)"/><polygon points="1243.80,614.0 1243.80,636.2 1243.80,658.4 1243.77,683.8 1243.80,694.0 1244.80,694.0 1244.83,683.8 1244.80,658.4 1244.80,636.2 1244.80,614.0" fill="url(#g120)"/><polygon points="1246.50,760.0 1246.45,785.4 1246.44,801.7 1246.43,817.9 1247.57,817.9 1247.56,801.7 1247.55,785.4 1247.50,760.0" fill="url(#g123)"/><polygon points="1266.80,714.3 1266.66,739.7 1266.68,756.2 1266.69,772.7 1266.80,790.5 1267.80,790.5 1267.91,772.7 1267.92,756.2 1267.94,739.7 1267.80,714.3" fill="url(#g126)"/><polygon points="1331.95,614.0 1331.94,631.5 1331.94,648.9 1331.93,666.4 1331.92,683.8 1331.92,700.8 1331.92,717.7 1331.92,734.6 1331.88,751.5 1331.84,768.5 1331.80,785.4 1331.61,801.7 1331.43,817.9 1333.97,817.9 1333.79,801.7 1333.60,785.4 1333.56,768.5 1333.52,751.5 1333.48,734.6 1333.48,717.7 1333.48,700.8 1333.48,683.8 1333.47,666.4 1333.46,648.9 1333.46,631.5 1333.45,614.0" fill="url(#g128)"/><polygon points="1361.00,671.1 1361.00,688.1 1361.00,705.0 1361.00,721.9 1361.00,737.8 1361.00,753.7 1361.00,769.5 1361.00,785.4 1362.00,785.4 1362.00,769.5 1362.00,753.7 1362.00,737.8 1362.00,721.9 1362.00,705.0 1362.00,688.1 1362.00,671.1" fill="url(#g130)"/><polygon points="1399.50,614.0 1399.50,631.5 1399.50,648.9 1399.50,666.4 1399.50,683.8 1399.50,700.8 1399.48,717.7 1399.45,734.6 1399.45,751.3 1399.44,767.9 1399.44,784.6 1399.43,801.3 1399.43,817.9 1400.57,817.9 1400.57,801.3 1400.56,784.6 1400.56,767.9 1400.55,751.3 1400.55,734.6 1400.52,717.7 1400.50,700.8 1400.50,683.8 1400.50,666.4 1400.50,648.9 1400.50,631.5 1400.50,614.0" fill="url(#g133)"/>
</g>
<path d="M901.5 818.5v-6M901.5 614.0v6M976.8 818.5v-6M976.8 614.0v6M1052.2 818.5v-6M1052.2 614.0v6M1127.5 818.5v-6M1127.5 614.0v6M1202.9 818.5v-6M1202.9 614.0v6M1278.3 818.5v-6M1278.3 614.0v6M1353.6 818.5v-6M1353.6 614.0v6M826.1 616.0h6M1429.0 616.0h-6M826.1 632.6h6M1429.0 632.6h-6M826.1 651.0h6M1429.0 651.0h-6M826.1 671.6h6M1429.0 671.6h-6M826.1 694.9h6M1429.0 694.9h-6M826.1 721.8h6M1429.0 721.8h-6M826.1 753.6h6M1429.0 753.6h-6M826.1 772.0h6M1429.0 772.0h-6M826.1 792.5h6M1429.0 792.5h-6M826.1 815.8h6M1429.0 815.8h-6" fill="none" stroke="#000" stroke-opacity="0.5" stroke-width="1"/>
<text x="826.1" y="832.9" text-anchor="middle" font-size="12.5">00:00</text>
<text x="901.5" y="832.9" text-anchor="middle" font-size="12.5">03:00</text>
<text x="976.8" y="832.9" text-anchor="middle" font-size="12.5">06:00</text>
<text x="1052.2" y="832.9" text-anchor="middle" font-size="12.5">09:00</text>
<text x="1127.5" y="832.9" text-anchor="middle" font-size="12.5">12:00</text>
<text x="1202.9" y="832.9" text-anchor="middle" font-size="12.5">15:00</text>
<text x="1278.3" y="832.9" text-anchor="middle" font-size="12.5">18:00</text>
<text x="1353.6" y="832.9" text-anchor="middle" font-size="12.5">21:00</text>
<text x="1429.0" y="832.9" text-anchor="middle" font-size="12.5">00:00</text>
<text x="822.1" y="620.2" text-anchor="end" font-size="12.5">22</text>
<text x="822.1" y="636.8" text-anchor="end" font-size="12.5">20</text>
<text x="822.1" y="655.2" text-anchor="end" font-size="12.5">18</text>
<text x="822.1" y="675.8" text-anchor="end" font-size="12.5">16</text>
<text x="822.1" y="699.1" text-anchor="end" font-size="12.5">14</text>
<text x="822.1" y="726.0" text-anchor="end" font-size="12.5">12</text>
<text x="822.1" y="757.8" text-anchor="end" font-size="12.5">10</text>
<text x="822.1" y="776.2" text-anchor="end" font-size="12.5">9</text>
<text x="822.1" y="796.7" text-anchor="end" font-size="12.5">8</text>
<text x="822.1" y="820.0" text-anchor="end" font-size="12.5">7</text>
<text x="798.6" y="716.5" text-anchor="middle" font-weight="bold" transform="rotate(-90 798.6 716.5)" font-size="12.5">freq (mHz)</text>
<rect x="1448.0" y="614.0" width="25.09999999999991" height="204.45000000000005" fill="url(#cb)" stroke="#8a8a8a" stroke-width="0.8"/>
<path d="M1448.0 648.1h2.5M1473.1 648.1h-2.5M1448.0 682.1h2.5M1473.1 682.1h-2.5M1448.0 716.2h2.5M1473.1 716.2h-2.5M1448.0 750.3h2.5M1473.1 750.3h-2.5M1448.0 784.4h2.5M1473.1 784.4h-2.5" fill="none" stroke="#000" stroke-opacity="0.6" stroke-width="1"/>
<text x="1476.9" y="618.2" text-anchor="start" font-size="12.5">4</text>
<text x="1476.9" y="652.3" text-anchor="start" font-size="12.5">3</text>
<text x="1476.9" y="686.4" text-anchor="start" font-size="12.5">2</text>
<text x="1476.9" y="720.4" text-anchor="start" font-size="12.5">1</text>
<text x="1476.9" y="754.5" text-anchor="start" font-size="12.5">0</text>
<text x="1476.9" y="788.6" text-anchor="start" font-size="12.5">-1</text>
<text x="1476.9" y="822.7" text-anchor="start" font-size="12.5">-2</text>
<text x="1509.0" y="716.6" text-anchor="middle" font-weight="bold" font-size="12.5" transform="rotate(-90 1509.0 716.6)">log<tspan font-size="9.8" dy="4.6">2</tspan><tspan dy="-4.6">(nT</tspan><tspan font-size="9.8" dy="-6.2">2</tspan><tspan dy="6.2">/Hz)</tspan></text>
</svg>
</body></html>
